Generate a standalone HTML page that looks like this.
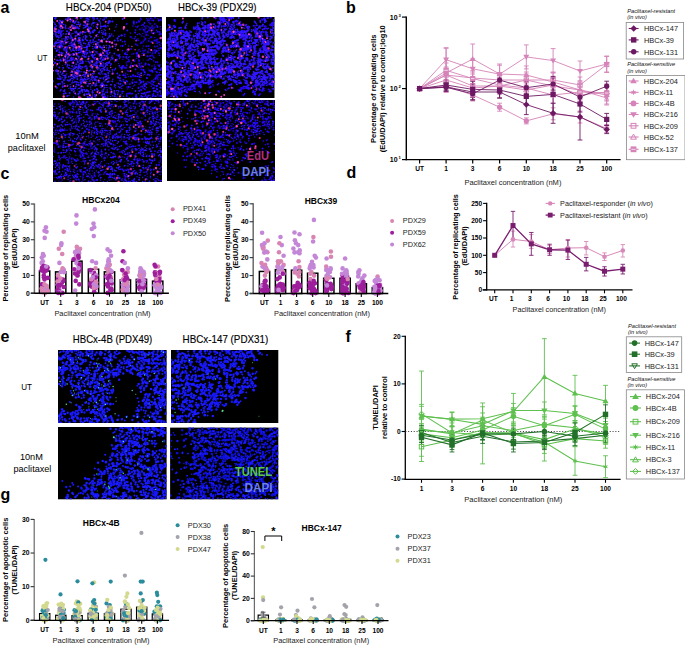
<!DOCTYPE html>
<html><head><meta charset="utf-8"><style>
html,body{margin:0;padding:0;background:#fff;}
body{width:685px;height:645px;overflow:hidden;}
svg{display:block;font-family:"Liberation Sans", sans-serif;}
</style></head><body>
<svg width="685" height="645" viewBox="0 0 685 645">
<defs><filter id="bl" x="-5%" y="-5%" width="110%" height="110%"><feGaussianBlur stdDeviation="0.45"/></filter></defs>
<rect width="685" height="645" fill="#fff"/>
<text x="0.50" y="12.60" font-size="16" font-weight="bold" >a</text>
<text x="0.50" y="178.60" font-size="16" font-weight="bold" >c</text>
<text x="65.80" y="10.90" font-size="10.4" textLength="85.70" lengthAdjust="spacingAndGlyphs" stroke="#000" stroke-width="0.15">HBCx-204 (PDX50)</text>
<text x="178.00" y="10.90" font-size="10.4" textLength="78.50" lengthAdjust="spacingAndGlyphs" stroke="#000" stroke-width="0.15">HBCx-39 (PDX29)</text>
<text x="37.30" y="61.40" font-size="9" textLength="10.20" lengthAdjust="spacingAndGlyphs" >UT</text>
<text x="15.30" y="139.10" font-size="8.6" textLength="23.50" lengthAdjust="spacingAndGlyphs" >10nM</text>
<text x="7.80" y="150.80" font-size="8.6" textLength="37.80" lengthAdjust="spacingAndGlyphs" >paclitaxel</text>
<clipPath id="c1"><rect x="53" y="17" width="109" height="81"/></clipPath>
<rect x="53" y="17" width="109" height="81" fill="#000"/>
<g clip-path="url(#c1)"><g filter="url(#bl)" stroke-linecap="round" fill="none">
<path d="M103.8 58.1h0M157.4 85.6h0M104.2 96.4h0M101.8 32.4h0M65.7 51.1h0M85.3 22.9h0M59.6 31.3h0M87.8 97.9h0M94.7 64.2h0M95.3 76.5h0M62.1 77.8h0M71.5 90.4h0M88.6 70.9h0M76.3 50.5h0M87.9 90.7h0M101.1 61.6h0M71.8 44.1h0M96.7 81.9h0M82.3 55.3h0M108.6 37.3h0M94.0 50.5h0M141.3 90.1h0M67.6 36.4h0M65.6 58.0h0M109.1 63.1h0M103.4 78.9h0M72.8 53.8h0M89.8 70.4h0M81.0 49.5h0M70.4 55.2h0M110.4 65.4h0M75.2 21.2h0M156.8 76.5h0M60.9 24.0h0M93.7 55.8h0M61.6 23.7h0M85.6 79.8h0M68.6 46.0h0M96.1 48.4h0M72.2 78.5h0M84.8 95.6h0M116.7 90.7h0M76.7 36.1h0M95.0 59.7h0M70.1 29.7h0M62.0 38.9h0M62.9 83.9h0M70.2 84.4h0M86.3 54.8h0M84.7 47.5h0M95.7 71.0h0M74.5 93.5h0M79.7 63.7h0M161.1 83.2h0M84.5 89.7h0M160.6 93.1h0M95.1 63.1h0M66.6 53.2h0M53.1 36.8h0M110.6 60.0h0M80.3 82.1h0M79.8 39.6h0M92.2 70.3h0M78.7 56.6h0M107.1 52.2h0M112.2 81.1h0M57.6 42.5h0M90.9 31.9h0M76.4 54.9h0M109.6 21.4h0M69.4 65.2h0M81.4 75.8h0M83.6 74.7h0M77.6 40.7h0M78.6 68.2h0M59.6 48.1h0M70.3 49.6h0M79.1 24.5h0M90.8 89.2h0M67.8 58.1h0M79.1 57.0h0M89.4 45.1h0M106.5 62.7h0M88.4 31.4h0M60.5 25.3h0M66.6 47.5h0M112.1 56.1h0M112.5 81.8h0M77.8 56.1h0M72.2 19.2h0M92.1 78.0h0M75.9 94.7h0M63.3 44.1h0M112.5 72.1h0M91.2 51.9h0M76.9 50.1h0M102.4 70.9h0M104.1 97.4h0M80.3 82.4h0M74.4 39.6h0M90.7 87.1h0M87.4 68.0h0M72.7 27.4h0M90.8 74.0h0M95.3 77.2h0M55.6 45.4h0M66.6 63.0h0M85.0 80.0h0M76.7 53.6h0M96.0 41.2h0M99.8 55.6h0M58.4 84.7h0M96.6 35.0h0M117.7 94.8h0M85.8 66.3h0M109.3 78.1h0M101.0 77.9h0M65.9 42.9h0M98.2 60.4h0M104.5 19.5h0M70.9 45.3h0M115.6 85.2h0M78.5 38.2h0M114.9 61.7h0M74.7 60.3h0M80.6 40.7h0M82.7 40.1h0M70.5 86.6h0M92.5 80.8h0M60.8 90.0h0M74.5 74.1h0M146.6 92.7h0M78.5 88.4h0M105.2 80.5h0M89.9 81.0h0M60.1 91.1h0M102.5 47.2h0M72.9 26.9h0M61.9 35.1h0M103.1 65.9h0M107.4 69.9h0M104.5 67.5h0M71.6 75.6h0M109.0 47.7h0M115.6 68.2h0M79.6 91.5h0M160.1 87.6h0M135.6 96.8h0M80.2 33.1h0M60.6 21.2h0M73.6 79.1h0M82.7 75.3h0M54.8 22.9h0M102.4 42.6h0M81.3 66.7h0M74.4 90.9h0M82.9 62.9h0M84.5 82.3h0M76.8 55.4h0M77.4 35.0h0M116.6 24.7h0M153.0 84.7h0M68.3 33.3h0M59.4 56.9h0M58.6 83.8h0M118.6 91.2h0M71.4 60.4h0M67.4 48.1h0M146.4 96.9h0M73.7 85.8h0M53.1 17.1h0M59.4 25.0h0M56.2 30.1h0M118.8 83.8h0M132.4 88.6h0M104.1 17.9h0M108.5 58.3h0M69.4 29.1h0M89.5 28.7h0M153.7 93.8h0M80.1 61.7h0M103.5 26.6h0M107.1 69.2h0M97.8 46.7h0M86.0 47.6h0M87.8 19.8h0M92.2 91.7h0M63.6 24.5h0M70.2 59.9h0M81.0 71.7h0M75.7 26.8h0M100.6 54.0h0M93.2 42.2h0M78.2 75.6h0M87.4 79.3h0M91.7 55.2h0M74.9 82.2h0M108.6 21.1h0M60.8 36.9h0M59.9 21.1h0M85.5 26.3h0M64.1 80.6h0M118.2 90.6h0M61.8 74.5h0M65.0 44.0h0M69.0 95.6h0M145.5 83.5h0M144.1 84.9h0M79.7 35.4h0M91.3 97.4h0M63.6 41.7h0M110.9 35.3h0M84.8 56.6h0M94.9 22.7h0M80.6 83.7h0M65.7 75.4h0M83.0 40.3h0M85.3 35.9h0M62.0 45.8h0M81.6 83.6h0M77.4 33.1h0M75.7 17.3h0M68.0 41.6h0M60.1 54.4h0M59.9 26.7h0M117.4 38.0h0M86.8 26.2h0M100.3 85.6h0M113.2 36.1h0M72.4 80.9h0M75.1 32.7h0M105.4 66.6h0M112.8 79.2h0M107.0 97.6h0M105.4 30.5h0M101.9 68.7h0M101.1 87.5h0M88.2 94.3h0M70.4 35.8h0M78.9 96.1h0M96.7 63.8h0M107.0 85.3h0M73.4 57.9h0M89.3 97.7h0M80.1 80.2h0M87.5 59.5h0M69.0 76.3h0M99.3 80.5h0M78.5 58.2h0M73.2 22.5h0M80.1 66.6h0M109.7 46.5h0M72.4 57.9h0M68.4 37.8h0M72.6 40.7h0M103.8 45.5h0M95.0 47.7h0M96.6 24.6h0M105.9 85.2h0M61.7 43.7h0M65.3 78.8h0M90.4 70.0h0M108.4 54.3h0M103.8 77.5h0M70.5 76.5h0M107.8 96.1h0M82.6 89.6h0M71.4 71.0h0M92.5 76.5h0M110.0 41.7h0M93.0 64.4h0M81.2 77.4h0M155.7 91.2h0M114.7 30.8h0M64.3 91.8h0M118.5 83.3h0M109.0 22.7h0M63.4 90.9h0M102.7 94.9h0M62.2 21.7h0M92.4 42.0h0M91.4 77.0h0M65.4 75.2h0M85.7 32.4h0M84.8 66.8h0M83.5 25.2h0M137.4 76.6h0M73.5 54.3h0M62.9 42.5h0M66.8 38.7h0M67.0 60.0h0M80.8 50.2h0M80.6 40.6h0M57.4 36.3h0M87.7 31.2h0M85.5 79.5h0M91.1 43.0h0M71.9 83.0h0M138.3 93.6h0M63.2 75.5h0M64.5 90.0h0M119.7 57.1h0M59.0 35.7h0M100.1 41.0h0M91.7 67.4h0M119.6 54.6h0M82.6 33.9h0M53.1 33.7h0M104.0 81.7h0M92.3 96.8h0M75.5 58.3h0M65.6 26.8h0M160.4 91.0h0M100.1 85.7h0M73.7 85.9h0M55.5 18.8h0M91.9 79.1h0M66.8 47.1h0M105.3 96.2h0M112.5 95.8h0M82.3 91.6h0M119.6 58.4h0M98.5 90.5h0M85.5 37.4h0M95.6 51.7h0M67.2 67.0h0M61.9 53.7h0M80.4 68.4h0M100.8 85.0h0M93.3 20.1h0M94.6 41.7h0M86.1 50.8h0M86.0 61.3h0M65.4 54.2h0M106.9 87.4h0M107.5 41.5h0M100.3 78.5h0M78.9 43.4h0M87.0 18.4h0M70.8 35.5h0M54.6 43.8h0M113.0 58.0h0M60.7 59.2h0M81.3 88.9h0M82.4 53.0h0M81.7 69.1h0M147.2 91.9h0M65.6 36.9h0M104.1 55.3h0M76.4 18.4h0M80.6 79.3h0M97.9 91.0h0M102.2 82.9h0M97.5 77.0h0M92.6 73.6h0M103.9 64.1h0M71.1 34.1h0M67.5 42.4h0M72.8 74.2h0M88.9 24.0h0M57.4 83.9h0M108.1 21.9h0M105.3 80.5h0M105.8 92.2h0M100.5 18.7h0M82.1 81.3h0M71.1 36.8h0M65.4 64.2h0M101.5 57.6h0M68.6 77.0h0M83.1 61.4h0M76.8 84.4h0M73.6 97.0h0M82.4 92.2h0M54.5 43.3h0M103.0 62.8h0M71.3 51.0h0M85.6 43.7h0M87.2 47.3h0M75.8 18.6h0M70.9 54.4h0M75.3 22.1h0M71.0 68.7h0M58.5 31.3h0M123.7 96.2h0M82.1 91.0h0M91.8 25.0h0M104.2 29.2h0M60.3 40.7h0M83.9 82.1h0M81.9 45.7h0M55.7 48.4h0M109.8 71.4h0M78.7 41.2h0M55.7 26.7h0M78.4 82.8h0M104.3 96.2h0M55.5 35.0h0M94.4 18.9h0M116.0 27.0h0M139.8 97.9h0M85.9 79.8h0M89.1 31.1h0M73.7 85.9h0M84.6 25.2h0M106.5 56.3h0M56.2 17.8h0M102.9 73.9h0M70.1 87.9h0M63.1 30.7h0M63.4 33.7h0M107.2 68.0h0M90.9 60.7h0M86.8 90.8h0M56.6 65.8h0M75.6 45.5h0M65.4 24.9h0M79.8 85.0h0M108.9 70.4h0M93.2 63.9h0M82.7 80.6h0M97.0 88.8h0M100.9 66.3h0M88.7 27.6h0M117.8 77.0h0M105.9 79.1h0M81.6 51.2h0M109.3 61.5h0M104.4 34.1h0M100.4 64.8h0M91.7 55.1h0M106.3 45.4h0M94.6 37.6h0M90.9 79.8h0M72.9 33.6h0M74.1 47.1h0M134.8 85.1h0M74.1 27.7h0M70.2 21.7h0M63.4 49.0h0M96.2 62.9h0M76.1 27.2h0M75.5 53.3h0M86.1 57.1h0M92.5 46.6h0M92.3 75.7h0M94.8 94.8h0M71.5 78.2h0M69.1 45.4h0M105.2 30.8h0M64.1 50.4h0M96.8 51.8h0M67.5 39.5h0M146.7 78.2h0M100.5 23.3h0M79.2 60.2h0M111.8 34.0h0M67.1 66.8h0M109.4 33.7h0M82.9 31.9h0M122.2 93.2h0M115.4 48.6h0M81.6 32.8h0M106.2 51.3h0M101.6 26.4h0M64.3 86.4h0M64.9 77.8h0M69.1 32.3h0M97.5 34.4h0M102.1 85.0h0M82.3 90.7h0M99.5 46.3h0M61.4 45.8h0M91.3 28.3h0M99.4 55.9h0M122.7 45.9h0M107.2 90.1h0M99.9 42.1h0M149.1 82.8h0M95.0 96.0h0M83.3 37.1h0M65.4 40.5h0M102.6 37.0h0M64.4 83.5h0M81.5 89.7h0M77.5 61.6h0M94.4 18.0h0M83.3 28.1h0M91.8 23.9h0M76.0 39.8h0M64.0 38.8h0M67.4 58.3h0M76.1 27.2h0M79.3 64.1h0M60.6 71.5h0M101.1 73.0h0M115.4 69.1h0M59.9 60.1h0M121.9 66.8h0M60.9 47.7h0M88.2 18.4h0M76.4 21.0h0M66.2 54.7h0M145.6 94.2h0M69.0 53.0h0M70.7 30.6h0M102.6 52.0h0M96.9 26.3h0M154.2 88.1h0M95.2 79.1h0M89.8 35.2h0M102.7 94.0h0M161.0 84.3h0M86.6 81.5h0M89.0 19.7h0M70.0 43.4h0M102.0 90.9h0M93.5 44.2h0M58.9 50.1h0M61.6 60.8h0M102.2 26.6h0M105.4 25.3h0M61.1 45.7h0M72.4 72.2h0M114.4 86.2h0M68.2 28.3h0M57.9 32.1h0M55.8 56.8h0M75.5 40.9h0M89.4 70.7h0M114.4 96.6h0M105.7 65.8h0M107.6 55.1h0M161.2 85.3h0M111.0 89.7h0M78.0 24.3h0M95.2 95.5h0M70.9 72.5h0M97.9 69.8h0M119.8 57.8h0M103.5 91.0h0M83.9 47.6h0M59.2 44.9h0M62.5 87.2h0M115.6 46.3h0M106.3 74.7h0M103.8 85.8h0M89.9 33.1h0M61.7 31.0h0M90.1 42.1h0M76.7 24.7h0M78.2 69.8h0M53.3 66.9h0M75.1 47.2h0M88.7 91.7h0M109.3 45.6h0M67.4 42.3h0M68.6 77.0h0M107.5 25.8h0M78.9 22.8h0M55.4 35.1h0M80.7 24.0h0M87.3 90.8h0M71.8 88.7h0M66.8 74.1h0M57.8 47.0h0M98.5 45.1h0M87.3 31.3h0M73.2 67.9h0M79.5 88.2h0M94.3 73.2h0M103.5 31.9h0M96.0 79.3h0M73.5 53.7h0M65.1 41.0h0M99.6 31.3h0M120.1 84.6h0M74.6 23.0h0M99.6 21.2h0M99.6 46.7h0M98.1 36.8h0M58.3 45.9h0M102.8 85.3h0M54.7 18.3h0M104.3 85.4h0M56.2 42.1h0M73.2 82.4h0M96.5 85.6h0M101.8 30.6h0M93.6 74.1h0M100.5 25.1h0M100.6 28.6h0M74.4 50.7h0M95.7 57.5h0M80.0 65.9h0M93.9 83.1h0M92.6 90.8h0M55.4 17.6h0M79.5 34.2h0M117.6 94.6h0M60.5 26.2h0M78.9 47.9h0M61.0 89.4h0M78.6 48.2h0M110.4 96.5h0M114.4 44.2h0M114.3 69.9h0M84.9 27.6h0M65.6 61.2h0M91.0 27.9h0M94.2 38.3h0M79.2 46.6h0M144.9 85.5h0M92.4 93.0h0M136.1 97.4h0M92.7 95.0h0M56.5 25.7h0M61.0 44.9h0M74.5 65.9h0M56.0 70.6h0M95.0 30.3h0M55.1 48.4h0M96.3 80.2h0M65.8 61.4h0M56.7 43.6h0M72.8 28.3h0M77.4 33.1h0M85.9 27.2h0M98.3 93.8h0M62.9 53.0h0M94.1 83.9h0M71.9 28.3h0M59.2 75.9h0M92.9 48.8h0M75.7 86.6h0M103.2 78.1h0M118.0 93.1h0M87.4 96.8h0M100.0 74.6h0M89.4 51.1h0M75.4 81.8h0M87.1 77.8h0M55.9 34.3h0M76.6 28.2h0M100.1 22.1h0M114.4 84.7h0M60.2 72.6h0M106.9 70.4h0M64.5 89.7h0M70.2 38.2h0M111.5 57.4h0M103.5 53.5h0M102.0 86.8h0M97.4 18.6h0M85.7 51.9h0M122.7 85.3h0M84.9 90.9h0M125.3 44.3h0M138.4 88.5h0M54.6 63.6h0M102.6 59.2h0M53.2 39.3h0M99.8 78.0h0M111.0 93.9h0M62.6 26.6h0M65.4 54.2h0M102.8 66.0h0M101.6 61.3h0M103.2 66.5h0M83.3 87.1h0M79.8 48.7h0M65.8 25.8h0M97.1 52.9h0M80.6 24.5h0M88.7 30.3h0M105.7 66.0h0M59.4 63.1h0M72.0 74.9h0M68.9 80.7h0M82.2 79.5h0M87.9 46.4h0M97.3 42.4h0M94.3 78.8h0M71.3 57.2h0M97.4 69.2h0M62.0 81.7h0M102.6 94.6h0M53.4 34.0h0M89.6 46.3h0M103.1 47.2h0" stroke="#3014ff" stroke-width="1.5"/>
<path d="M121.7 81.2h0M137.9 38.9h0M157.9 18.7h0M152.7 88.3h0M145.7 95.4h0M138.5 67.6h0M123.6 79.9h0M124.7 36.2h0M143.1 24.5h0M144.4 86.3h0M151.7 59.6h0M118.1 77.9h0M150.6 83.1h0M159.5 55.3h0M130.4 32.9h0M149.4 64.8h0M115.4 87.7h0M136.2 76.5h0M116.9 55.0h0M121.4 67.3h0M126.8 93.8h0M145.7 64.8h0M132.5 93.4h0M135.6 82.4h0M159.3 84.5h0M130.9 93.6h0M157.9 79.7h0M122.7 50.6h0M157.0 86.0h0M160.2 26.7h0M148.1 92.6h0M118.4 86.8h0M151.1 71.6h0M152.0 20.3h0M162.0 20.8h0M139.3 65.8h0M126.5 54.4h0M156.4 30.3h0M151.9 84.1h0M131.9 82.0h0M160.8 79.8h0M153.7 60.8h0M126.8 94.2h0M128.2 61.7h0M121.5 86.2h0M120.1 56.7h0M132.9 26.0h0M160.5 81.2h0M153.4 82.3h0M126.9 23.4h0M140.9 86.3h0M120.1 67.7h0M152.7 94.4h0M122.3 35.4h0M158.6 83.2h0M131.5 62.9h0M138.1 74.8h0M121.8 88.6h0M122.8 68.0h0M152.8 52.9h0M131.9 93.9h0M140.4 19.9h0M148.8 22.3h0M121.1 35.2h0M127.4 81.8h0M158.0 94.3h0M138.2 26.0h0M156.1 92.0h0M151.3 86.2h0M120.6 83.5h0M159.6 72.8h0M150.0 95.3h0M139.0 84.3h0M149.1 74.8h0M154.0 81.9h0M154.7 85.7h0M157.7 78.2h0M159.2 95.9h0M132.9 79.8h0M154.3 95.9h0M156.9 25.6h0M123.1 65.8h0M127.5 54.5h0M155.7 77.4h0M154.9 79.1h0M152.4 96.5h0M135.6 36.8h0M124.7 53.4h0M141.7 25.3h0M161.9 82.0h0M148.0 81.8h0M140.0 34.6h0M148.0 96.0h0M139.5 21.5h0M130.7 36.8h0M148.4 60.1h0M155.8 61.8h0M150.8 18.1h0M123.7 91.5h0M141.6 63.0h0M126.0 77.2h0M161.7 17.7h0M120.6 45.9h0M157.6 95.1h0M142.2 53.2h0M130.2 87.1h0M129.5 97.7h0M160.2 78.1h0M152.9 81.5h0M146.4 87.5h0M159.0 19.9h0M150.7 18.4h0M140.6 73.7h0M117.0 83.1h0M134.7 82.0h0M147.0 26.0h0M126.8 65.8h0M161.6 96.5h0M116.9 97.1h0M125.4 75.3h0M116.7 61.1h0M137.3 34.5h0M156.0 71.4h0M122.4 41.7h0M146.0 28.2h0M145.2 86.2h0M148.8 27.0h0M148.2 64.2h0M130.1 92.9h0M143.1 93.7h0M126.6 49.9h0M135.0 65.0h0M155.1 66.8h0" stroke="#2808ff" stroke-width="1.5"/>
<path d="M141.3 73.2h0M101.0 85.2h0M125.2 54.0h0M60.7 79.1h0M76.0 48.9h0M80.2 32.4h0M77.9 62.3h0M68.3 19.8h0M139.5 91.1h0M78.1 73.6h0M80.9 17.9h0M67.8 57.2h0M78.9 28.4h0M72.5 39.1h0M120.0 78.3h0M67.2 53.7h0M75.3 75.5h0M77.1 59.7h0M87.0 47.9h0M60.2 60.6h0M55.5 32.7h0M91.7 67.2h0M121.8 68.7h0M99.9 65.7h0M71.0 58.5h0M97.1 65.6h0M81.2 90.8h0M97.2 89.6h0M136.0 96.4h0M81.1 82.6h0M88.5 61.4h0M61.9 41.6h0M62.2 23.6h0M73.2 39.8h0M105.6 34.9h0M82.0 60.3h0M104.1 94.4h0M64.5 48.9h0M88.9 93.5h0M66.5 50.0h0M55.0 43.8h0M94.2 58.3h0M92.4 54.5h0M57.1 71.4h0M104.2 50.3h0M88.0 21.4h0M98.9 82.2h0M91.6 55.3h0M75.0 68.2h0M64.6 75.8h0M78.7 52.7h0M71.7 37.6h0M95.8 85.3h0M69.7 92.9h0M141.2 96.0h0M76.6 72.8h0M73.3 55.0h0M69.3 32.6h0M58.8 37.6h0M88.6 44.0h0M98.7 68.1h0M55.1 62.8h0M61.5 31.8h0M147.2 97.5h0M95.3 46.9h0M75.3 88.3h0M76.1 66.9h0M108.0 63.0h0M101.7 65.1h0M78.5 85.1h0M95.4 85.8h0M68.9 68.1h0M98.7 39.8h0M62.6 46.5h0M92.4 54.7h0M96.1 84.1h0M60.3 54.4h0M64.4 85.9h0M97.3 66.6h0M88.8 56.6h0M106.1 17.7h0M82.4 81.4h0M84.1 72.1h0M88.8 42.7h0M59.2 78.9h0M86.8 94.3h0M95.3 80.1h0M60.0 83.8h0M78.3 93.9h0M116.8 59.6h0M81.4 59.3h0M78.3 41.4h0M58.7 30.2h0M86.2 20.4h0M83.5 52.9h0M106.4 56.1h0M90.3 32.9h0M159.7 91.3h0M73.4 69.5h0M154.1 90.8h0M59.1 22.8h0M66.9 51.5h0M108.5 50.2h0M100.4 69.9h0M67.9 80.2h0M115.1 94.2h0M85.7 73.0h0M90.2 52.6h0M58.1 73.4h0M117.5 38.8h0M104.1 59.8h0M120.6 40.1h0M102.6 49.2h0M112.2 58.7h0M54.5 29.0h0M114.3 93.1h0M78.9 40.5h0M89.0 29.0h0M56.6 32.3h0M73.8 26.1h0M74.1 44.2h0M73.2 48.9h0M97.0 62.7h0M73.0 76.2h0M84.6 53.9h0M101.5 40.9h0M85.8 91.3h0M80.4 42.5h0M83.5 80.1h0M53.1 61.4h0M82.1 79.3h0M111.1 64.1h0M94.4 29.9h0M114.6 40.6h0M106.3 76.6h0M77.5 76.4h0M55.1 24.4h0M57.6 36.2h0M101.7 71.7h0M99.1 82.0h0M60.1 45.3h0M86.0 66.2h0M63.8 93.8h0M53.1 81.2h0M107.1 53.2h0M93.0 32.4h0M106.8 51.0h0M78.3 72.7h0M60.3 40.9h0M95.5 96.7h0M67.6 65.1h0M84.6 51.9h0M84.6 78.5h0M63.9 79.9h0M92.6 92.5h0M76.5 76.4h0M120.1 80.4h0M62.7 86.6h0M82.5 67.2h0M80.9 86.7h0M58.8 42.5h0M105.6 33.2h0M73.1 62.5h0M96.5 27.1h0M105.3 76.8h0M77.2 27.3h0M93.1 18.0h0M103.2 68.5h0M79.1 41.6h0M87.2 53.3h0M65.9 19.2h0M84.2 89.8h0M60.5 46.5h0M78.6 67.0h0M91.0 36.7h0M68.3 56.7h0M110.0 47.3h0M118.5 55.7h0M53.2 21.9h0M110.3 21.5h0M104.9 97.6h0M104.1 39.0h0M108.3 73.0h0M71.3 20.3h0M65.8 77.3h0M121.6 35.6h0M54.1 31.0h0M67.0 31.3h0M94.4 79.8h0M104.6 69.4h0M84.5 94.3h0M96.5 45.3h0M76.2 64.3h0M118.9 36.4h0M101.9 56.0h0M107.5 81.9h0M104.2 26.0h0M60.8 34.2h0M63.2 67.7h0M88.2 29.0h0M59.7 23.7h0M58.7 33.1h0M89.5 45.4h0M76.1 32.6h0M53.7 45.4h0M66.8 47.5h0M78.2 68.2h0M85.0 76.2h0M117.3 73.4h0M83.0 40.6h0M54.7 29.1h0M76.7 70.3h0M65.4 40.2h0M161.0 87.7h0M87.9 90.8h0M99.2 54.2h0M74.1 28.2h0M93.2 77.3h0M72.4 63.0h0M75.5 47.0h0M102.0 95.1h0M98.9 73.2h0M63.4 58.3h0M84.5 56.8h0M79.7 92.8h0M67.5 60.9h0M86.7 90.0h0M118.1 77.4h0M108.5 41.4h0M56.0 70.8h0M82.6 61.5h0M80.9 63.2h0M81.5 47.6h0M69.1 34.0h0M90.3 66.5h0M96.7 61.5h0M54.8 27.6h0M105.8 26.7h0M103.3 84.6h0M84.5 32.3h0M97.2 43.7h0M65.7 93.3h0M57.0 70.3h0M80.6 32.3h0M108.3 75.5h0M104.2 94.0h0M109.3 62.4h0M92.6 56.3h0M93.0 23.2h0M85.7 35.7h0M72.2 41.0h0M107.7 57.3h0M72.1 24.9h0M122.6 18.9h0M114.3 53.5h0M103.5 97.1h0M92.2 68.1h0M123.3 75.2h0M72.9 59.6h0M104.4 59.2h0M82.6 39.6h0M113.2 73.5h0M60.6 42.9h0M85.5 38.9h0M76.1 31.6h0M55.2 18.7h0M59.3 67.4h0M60.0 20.5h0M76.9 82.0h0M79.1 71.0h0M57.8 78.5h0M100.8 53.6h0M79.4 91.7h0M66.0 47.8h0M132.5 83.0h0M111.2 89.4h0M79.0 41.6h0M107.3 92.3h0M102.6 91.7h0M57.8 40.0h0M114.3 91.1h0M101.0 65.7h0M100.4 58.7h0M108.3 23.3h0M71.5 42.4h0M109.8 52.7h0M78.8 48.2h0M55.8 34.7h0M86.6 25.6h0M119.6 75.3h0M62.8 21.2h0M111.0 84.8h0M101.5 47.7h0M92.8 57.0h0M161.3 95.6h0M81.1 46.8h0M80.9 18.3h0M87.8 86.1h0M73.3 63.0h0M76.0 52.9h0M94.8 54.6h0M92.9 92.4h0M86.8 46.4h0M100.7 26.7h0M93.0 17.1h0M84.7 53.2h0M80.4 52.2h0M111.7 43.2h0M101.8 83.6h0M88.7 78.4h0M66.1 34.1h0M74.4 28.7h0M101.7 55.3h0M78.2 74.1h0M108.1 77.7h0M110.2 88.0h0M74.3 43.1h0M66.3 55.0h0M71.0 88.7h0M105.7 74.2h0M82.5 51.2h0M89.0 31.3h0M154.0 91.3h0M68.3 17.7h0M56.0 42.2h0M69.6 55.2h0M93.0 31.3h0M68.0 18.7h0M68.6 17.4h0M93.2 40.0h0M73.8 47.1h0M75.6 35.9h0M79.9 38.0h0M65.7 28.3h0M74.7 77.7h0M90.4 27.4h0M71.5 59.5h0M79.1 48.5h0M89.8 17.2h0M100.2 46.4h0M65.1 59.7h0M65.6 71.3h0M97.2 18.4h0M69.9 80.6h0M78.7 37.9h0M101.3 57.6h0M87.6 74.4h0M144.2 84.6h0M86.0 83.5h0M99.4 61.9h0M65.2 55.9h0M95.8 95.4h0M85.1 74.3h0M73.8 91.8h0M92.1 85.2h0M62.5 82.0h0M56.5 36.7h0M82.6 62.9h0M88.1 74.3h0M92.4 60.8h0M88.8 31.5h0M78.5 85.0h0M146.2 83.4h0M111.5 92.5h0M78.2 22.2h0M59.7 30.7h0M57.6 46.6h0M105.4 51.6h0M85.0 57.1h0M85.6 23.5h0M60.6 32.9h0M101.9 39.9h0M79.5 34.1h0M91.8 60.4h0M79.7 66.9h0M61.5 52.8h0M76.4 67.1h0M73.3 46.4h0M89.0 83.8h0M94.1 64.9h0M77.9 71.2h0M80.2 48.9h0M67.7 85.5h0M60.0 76.7h0M99.4 54.3h0M87.4 53.0h0M90.6 96.4h0M73.1 21.7h0M87.1 18.3h0M104.3 70.0h0M67.9 54.2h0M90.2 40.4h0M86.5 68.5h0M64.4 91.0h0M94.6 89.9h0M74.5 22.8h0M86.6 36.8h0M69.3 60.4h0M114.7 96.2h0M119.9 87.5h0M56.8 87.8h0M67.2 96.1h0M89.9 63.1h0M78.7 65.3h0M107.1 65.0h0M91.7 61.5h0M74.4 71.7h0M57.9 54.9h0M160.5 87.4h0M70.2 79.4h0M99.0 20.5h0M102.9 34.1h0M100.0 47.1h0M61.1 21.8h0M84.0 43.3h0M103.6 89.4h0M59.8 27.2h0M108.6 81.4h0M109.6 21.0h0M93.9 22.7h0M103.1 20.0h0M104.4 55.4h0M66.0 38.2h0M72.6 44.6h0M95.8 65.6h0M86.5 50.1h0M99.0 32.5h0M83.9 56.1h0M96.9 48.3h0M105.8 63.7h0M112.3 58.7h0M109.6 36.1h0M71.9 45.7h0M61.1 35.8h0M73.9 77.3h0M56.7 51.1h0M72.2 66.1h0M109.9 36.5h0M82.7 62.6h0M136.2 94.9h0M105.6 58.2h0M68.2 37.0h0M78.4 28.2h0M88.6 94.1h0M57.0 50.2h0M60.8 28.4h0M107.4 78.8h0M97.9 42.7h0M87.0 50.0h0M75.1 28.3h0M104.5 87.6h0M105.0 73.9h0M81.0 44.5h0M96.4 76.8h0M59.4 52.2h0M57.1 60.3h0M102.7 96.7h0M81.2 79.5h0M77.4 79.1h0M102.6 60.1h0M87.0 40.6h0M78.8 50.0h0M73.5 44.2h0M72.9 88.7h0M73.5 88.9h0M87.6 26.2h0M73.1 50.3h0M112.5 69.7h0M58.4 84.6h0M96.5 45.3h0M87.9 96.9h0M76.5 84.4h0M135.5 91.1h0M112.5 21.5h0M68.1 80.6h0M107.6 38.8h0M81.1 49.5h0M119.4 65.7h0M62.6 73.3h0" stroke="#3014ff" stroke-width="2.0"/>
<path d="M124.3 66.9h0M141.0 87.6h0M128.4 45.6h0M145.0 25.8h0M148.0 68.8h0" stroke="#2808ff" stroke-width="1.0"/>
<path d="M59.5 32.4h0M55.1 28.0h0M66.7 49.6h0M73.6 22.7h0M60.7 44.7h0M85.3 18.1h0M73.2 61.4h0M68.8 53.9h0M92.7 22.1h0M58.3 74.8h0M118.5 63.4h0M74.5 71.1h0M64.2 41.8h0M153.2 79.8h0M59.7 71.0h0M60.8 32.0h0M106.6 48.1h0M58.1 74.6h0M82.8 46.0h0M81.8 56.6h0M80.1 40.7h0M77.4 18.8h0M89.7 63.8h0M108.4 48.4h0M75.1 66.9h0M93.6 26.1h0M76.3 53.1h0M99.3 39.5h0M57.9 48.3h0M99.4 93.3h0M94.6 31.3h0M106.6 47.6h0M141.6 97.2h0M103.4 89.7h0M62.8 73.2h0M58.7 83.3h0M62.3 69.3h0M159.0 81.1h0M72.9 40.2h0M74.5 81.4h0M92.3 60.3h0M79.4 96.8h0M122.1 51.8h0M77.4 73.8h0M111.4 18.1h0M108.5 26.1h0M70.9 50.7h0M65.6 71.1h0M143.4 75.0h0M64.8 27.4h0M115.4 59.6h0M139.1 90.7h0M58.0 54.8h0M103.9 78.6h0M72.4 90.5h0M107.0 64.2h0M111.2 81.4h0M97.0 22.8h0M68.6 88.6h0M71.1 39.9h0M87.8 75.2h0M105.4 58.4h0M73.2 44.5h0M58.4 60.6h0M65.2 36.6h0M76.2 52.6h0M84.0 76.7h0M110.4 92.5h0M74.2 60.0h0M74.5 31.2h0M55.3 34.8h0M76.6 86.9h0M84.7 28.1h0M150.5 91.7h0M74.9 22.7h0M104.7 97.9h0M78.0 26.8h0M82.3 17.7h0M68.4 80.9h0M87.7 45.0h0M62.2 65.4h0M74.9 54.7h0M80.0 93.6h0M77.7 89.2h0M90.1 29.3h0" stroke="#3014ff" stroke-width="1.0"/>
<path d="M144.6 74.3h0M156.6 88.5h0M153.0 33.5h0M144.5 96.5h0M157.5 72.4h0M151.2 55.6h0M125.8 53.9h0M148.8 20.2h0M140.4 51.2h0M161.0 47.4h0M144.2 65.0h0M140.6 18.3h0M128.7 59.6h0M154.3 57.5h0M138.8 22.0h0M150.0 28.5h0M127.0 86.9h0M132.7 97.5h0M160.9 29.0h0M128.4 76.6h0M128.7 71.4h0M150.6 37.4h0M160.9 34.0h0M132.7 79.9h0M123.1 85.7h0M143.9 71.0h0M152.1 53.9h0M153.7 57.8h0M137.5 73.3h0M123.6 74.2h0M139.3 74.4h0M148.1 35.3h0M125.7 73.3h0M128.5 57.5h0M153.3 56.2h0M139.2 33.7h0M151.5 81.4h0M157.5 42.1h0M127.7 74.6h0M154.9 27.1h0M143.4 82.3h0M133.6 86.1h0M139.0 63.2h0M156.2 40.7h0M147.5 20.8h0M126.5 24.5h0M143.1 25.6h0M138.7 22.1h0M144.7 53.4h0M127.8 88.9h0M146.7 18.4h0M137.2 40.8h0M133.0 76.7h0M127.1 58.8h0M126.9 65.0h0M158.1 77.1h0M155.7 62.6h0M125.8 52.4h0M124.5 75.3h0M140.9 18.9h0M138.5 20.5h0M158.1 65.1h0M134.5 64.9h0M161.5 67.9h0M134.9 76.3h0M131.5 65.8h0M160.0 34.0h0M136.5 58.3h0M158.4 65.7h0M142.8 50.3h0M144.3 36.9h0M127.7 61.7h0M126.0 57.7h0M139.6 77.4h0M158.8 69.5h0M160.1 70.4h0M143.9 51.5h0M154.3 65.0h0M152.0 66.0h0M154.8 81.4h0M123.2 79.5h0M138.1 51.1h0M136.6 39.7h0M154.5 46.2h0M144.4 26.6h0M152.8 50.9h0M141.0 77.5h0M149.2 38.8h0M143.5 24.7h0M153.1 81.0h0M131.9 54.2h0M131.3 37.3h0M129.7 56.4h0M147.5 56.5h0M127.6 51.7h0M157.5 75.6h0M138.2 72.8h0M149.7 20.0h0M147.6 19.9h0M151.8 26.8h0M122.8 59.2h0M141.1 19.3h0M139.2 49.4h0M155.9 51.0h0M155.0 47.0h0M144.8 29.2h0M139.7 65.8h0M143.4 53.3h0M126.2 63.1h0M156.1 74.9h0M151.6 27.0h0M148.1 50.9h0M158.9 50.5h0" stroke="#2200e8" stroke-width="1.5"/>
<path d="M135.6 26.6h0M156.6 39.4h0M150.5 37.1h0M142.5 48.3h0M155.2 53.1h0M151.9 18.7h0M154.8 37.4h0M139.8 29.3h0M133.1 74.7h0M138.5 59.2h0M154.9 51.1h0M148.7 45.6h0M140.5 43.4h0M152.2 55.4h0M148.8 46.2h0M132.8 66.7h0M160.0 64.7h0M142.8 33.6h0M154.6 67.3h0M160.1 38.2h0M138.5 40.6h0M143.5 46.0h0M147.2 60.3h0M130.3 36.8h0M148.2 46.1h0M159.4 44.4h0M150.3 52.7h0M151.0 42.2h0M146.3 34.0h0M146.7 34.2h0M141.7 36.0h0M142.1 28.1h0M160.3 45.4h0M145.6 27.2h0M153.9 28.0h0M142.0 55.4h0M147.6 51.8h0M134.9 59.9h0" stroke="#1c00cc" stroke-width="1.5"/>
<path d="M160.8 34.3h0M128.1 93.6h0M142.0 65.9h0M160.7 19.7h0M145.1 72.4h0M143.4 88.3h0M144.4 40.0h0M147.5 56.2h0M160.7 33.7h0M136.4 82.3h0M139.1 60.7h0M161.0 48.4h0M149.1 30.2h0M154.6 69.2h0M151.4 37.3h0M137.2 53.9h0M124.6 34.4h0M157.4 62.3h0M161.9 85.0h0M161.1 68.7h0M135.8 44.3h0M150.2 23.8h0M156.5 77.2h0M156.8 72.3h0M143.5 69.7h0M156.7 51.3h0M153.1 84.6h0M124.7 67.5h0M155.4 52.7h0M150.1 55.9h0M129.9 84.0h0M145.0 89.3h0M149.7 75.2h0M129.0 61.1h0M127.8 70.8h0M159.7 34.6h0M139.6 63.9h0M123.5 57.0h0M137.3 27.0h0M147.9 52.6h0M160.7 74.7h0M154.0 32.8h0M146.4 46.2h0M149.1 64.7h0M141.1 89.7h0M130.6 67.1h0M150.4 28.0h0M141.8 42.7h0M156.3 40.7h0M149.4 70.5h0M134.4 61.2h0M160.6 48.1h0M154.4 40.4h0M151.8 81.2h0M159.2 42.2h0M131.1 49.0h0M129.9 93.4h0M140.8 67.0h0M134.4 38.6h0M146.2 35.0h0M159.7 32.1h0M155.1 17.8h0M141.3 69.5h0" stroke="#2200e8" stroke-width="2.0"/>
<path d="M147.5 31.8h0M118.0 40.8h0M122.6 67.5h0M135.1 32.4h0M144.4 23.0h0M155.5 91.0h0M126.3 57.0h0M158.8 20.4h0M128.7 87.0h0M137.2 55.9h0M139.4 76.6h0M136.7 96.9h0M122.5 45.7h0M138.8 56.8h0M133.9 23.8h0M154.1 68.7h0M157.7 92.4h0M155.9 96.2h0M143.4 81.6h0M141.2 81.9h0M138.6 87.8h0M157.5 26.9h0M126.0 67.9h0M126.8 96.0h0M159.2 66.0h0M148.5 95.5h0M135.6 69.3h0M144.5 72.1h0M142.3 86.5h0M123.1 66.1h0M158.9 75.0h0M152.5 71.8h0M152.3 71.1h0M133.8 21.5h0M119.1 55.6h0M149.2 91.8h0M133.1 75.3h0M136.6 53.2h0M141.9 93.5h0M136.6 22.5h0M122.1 91.5h0M130.9 76.6h0M145.5 38.7h0M147.9 74.4h0M143.7 29.7h0M143.8 93.6h0M153.4 88.3h0M153.4 20.4h0M156.3 50.8h0M137.0 53.0h0M130.9 65.5h0M153.1 95.5h0M155.6 68.6h0M160.7 70.0h0M160.5 95.7h0M125.4 77.3h0M155.6 78.8h0M146.5 84.1h0M143.3 70.0h0M140.0 80.6h0M157.7 31.8h0M150.0 58.8h0M157.0 89.3h0M140.5 83.1h0M125.7 84.0h0M120.4 94.9h0M142.6 96.8h0M143.3 70.2h0M156.6 86.3h0M139.5 80.0h0M123.9 81.7h0M145.6 63.4h0M147.0 78.1h0M151.9 41.8h0M124.8 41.4h0M127.3 30.6h0M144.6 93.1h0M126.5 80.9h0M135.4 76.3h0M151.2 70.5h0M150.5 97.8h0M133.8 22.8h0" stroke="#2808ff" stroke-width="2.0"/>
<path d="M128.4 46.4h0M132.2 38.4h0M142.9 24.5h0M127.2 61.4h0M143.2 60.1h0M147.2 75.3h0M138.8 67.8h0M156.1 43.5h0M148.3 18.6h0M144.2 33.0h0" stroke="#2200e8" stroke-width="1.0"/>
<path d="M154.7 24.0h0M156.3 40.0h0M157.4 43.0h0M158.9 53.3h0M135.6 29.9h0M158.6 48.4h0M133.7 53.7h0M154.6 50.1h0M152.6 30.0h0M140.1 29.6h0M152.0 32.7h0M157.2 46.3h0M145.3 50.3h0M144.3 30.7h0M157.3 39.4h0M152.2 25.9h0M143.3 41.6h0M148.9 48.7h0M148.6 40.9h0M153.0 28.3h0M141.1 42.4h0M144.6 30.8h0M145.9 32.2h0M137.4 45.3h0M161.8 43.6h0" stroke="#1c00cc" stroke-width="2.0"/>
<path d="M154.5 33.7h0M143.4 36.4h0M160.3 48.3h0M146.7 42.0h0" stroke="#1c00cc" stroke-width="1.0"/>
<path d="M66.5 52.5h0M75.3 93.2h0M56.6 29.1h0M136.0 40.8h0M66.0 37.1h0M143.0 66.7h0M141.1 75.6h0M58.3 71.0h0M84.1 95.1h0M153.3 33.4h0M106.2 79.6h0" stroke="#d83cc0" stroke-width="1.5"/>
<path d="M104.3 47.3h0M97.3 28.3h0M96.4 94.9h0M71.8 26.1h0M73.4 86.1h0" stroke="#ff4cc0" stroke-width="1.5"/>
<path d="M65.0 85.9h0M112.2 43.0h0M118.1 50.0h0M112.4 73.7h0M72.1 71.4h0M105.7 21.7h0M79.2 39.9h0M68.3 54.0h0M78.6 46.4h0M107.7 58.4h0M80.5 97.6h0M136.5 65.5h0M87.4 24.3h0M152.7 42.9h0M54.2 46.5h0M104.3 50.6h0M69.3 55.1h0M103.0 53.1h0M55.0 31.3h0M105.4 59.0h0M65.1 47.2h0M91.2 65.3h0M74.8 28.1h0M70.3 27.3h0M82.9 31.7h0M81.6 48.6h0M90.7 74.8h0M116.2 44.6h0M62.0 41.5h0M81.7 59.1h0M130.2 67.3h0M81.7 86.2h0" stroke="#c83098" stroke-width="2.0"/>
<path d="M123.6 28.7h0M73.1 28.2h0M64.0 71.2h0M122.2 71.7h0M115.6 59.9h0M143.9 54.9h0M112.1 42.6h0M80.0 75.5h0M98.5 80.4h0M132.9 66.0h0M124.4 17.9h0M71.0 29.9h0M92.5 66.8h0M76.7 54.1h0M84.0 82.5h0M130.5 71.1h0M93.3 83.0h0M93.9 71.5h0M79.0 97.3h0M95.8 44.2h0M76.1 58.8h0M138.7 55.2h0M59.5 47.0h0M85.3 82.5h0M112.5 46.4h0M97.7 24.5h0M57.2 21.0h0M55.2 28.9h0M139.0 56.8h0M73.3 62.7h0" stroke="#e83cb4" stroke-width="2.0"/>
<path d="M97.2 59.0h0M100.7 55.0h0M101.6 40.9h0M76.4 47.6h0M63.7 96.6h0M124.0 27.3h0" stroke="#ff4cc0" stroke-width="2.5"/>
<path d="M73.3 20.9h0M65.6 62.4h0M125.1 82.8h0M65.3 56.5h0M63.6 60.4h0M72.7 40.1h0M88.5 58.7h0M74.6 44.5h0M62.6 27.8h0M63.7 59.8h0M109.8 42.1h0M78.3 34.2h0M97.4 91.9h0M74.0 54.6h0M133.2 60.3h0M68.9 34.1h0M96.2 35.7h0M92.2 61.8h0M92.0 98.0h0M151.5 30.4h0M111.5 91.8h0M66.1 42.4h0M71.3 75.1h0M55.6 86.6h0M84.2 21.8h0M80.7 59.6h0M85.2 22.1h0M103.2 97.5h0" stroke="#d83cc0" stroke-width="2.0"/>
<path d="M104.3 50.4h0M137.2 66.5h0M109.5 28.9h0M79.8 26.0h0M53.4 70.8h0" stroke="#e83cb4" stroke-width="1.5"/>
<path d="M67.5 20.6h0M81.8 58.4h0M61.7 55.2h0M89.9 95.2h0M86.9 70.5h0M59.0 55.0h0M57.3 64.0h0M69.7 47.7h0M53.2 65.0h0M88.1 76.1h0M79.6 46.7h0M119.9 96.6h0M87.7 29.6h0M75.3 38.4h0M99.8 92.7h0M92.7 52.1h0M151.2 50.0h0M102.3 85.9h0M88.7 31.2h0M83.4 51.5h0M62.0 22.3h0M86.4 72.8h0M70.2 19.3h0M100.7 63.4h0M76.9 17.5h0M97.1 46.9h0M106.4 41.5h0" stroke="#ff4cc0" stroke-width="2.0"/>
<path d="M110.7 67.4h0M90.2 83.6h0M158.9 83.4h0M77.4 19.0h0M131.9 46.6h0M67.2 86.2h0M135.1 49.7h0M54.7 59.2h0" stroke="#c83098" stroke-width="1.5"/>
<path d="M61.1 25.9h0M76.9 73.5h0M160.8 38.0h0M75.8 72.8h0" stroke="#e83cb4" stroke-width="2.5"/>
<path d="M128.4 49.4h0" stroke="#d83cc0" stroke-width="2.5"/>
<path d="M96.8 67.5h0" stroke="#c83098" stroke-width="2.5"/>
</g></g>
<clipPath id="c2"><rect x="166" y="17" width="108.5" height="81"/></clipPath>
<rect x="166" y="17" width="108.5" height="81" fill="#000"/>
<g clip-path="url(#c2)"><g filter="url(#bl)" stroke-linecap="round" fill="none">
<path d="M217.5 70.3h0M172.6 91.1h0M173.5 90.8h0M180.7 42.3h0M271.9 70.8h0M271.5 69.9h0M169.0 39.7h0M241.5 74.1h0M240.9 72.7h0M262.2 51.0h0M270.7 77.3h0M206.0 76.6h0M264.8 60.3h0M240.8 60.9h0M240.4 59.7h0M210.1 43.2h0M169.2 56.5h0M168.7 57.4h0M271.5 61.9h0M270.9 63.0h0M200.9 28.5h0M257.4 66.3h0M257.3 67.5h0M207.7 49.4h0M255.1 46.1h0M256.2 44.8h0M212.9 50.5h0M217.6 33.7h0M217.2 34.7h0M239.3 16.6h0M246.8 37.4h0M230.7 63.8h0M215.9 31.0h0M198.2 43.9h0M177.6 38.4h0M237.9 66.9h0M178.7 41.9h0M268.4 28.3h0M227.0 82.0h0M246.3 58.5h0M214.1 31.4h0M200.2 92.9h0M199.4 91.6h0M261.6 70.5h0M184.3 55.2h0M222.1 52.1h0M181.6 60.9h0M265.3 28.0h0M261.3 71.2h0M262.0 72.0h0M257.1 60.4h0M257.6 58.8h0M177.6 37.9h0M184.9 28.0h0M204.6 42.1h0M204.5 43.0h0M254.3 76.8h0M253.7 75.4h0M251.9 60.4h0M251.3 59.7h0M247.4 45.5h0M246.2 45.5h0M182.3 53.0h0M249.2 63.3h0M249.9 43.7h0M248.4 43.5h0M181.9 31.8h0M182.8 31.0h0M230.8 50.3h0M260.0 60.4h0M179.4 48.1h0M179.8 47.0h0M219.9 71.1h0M220.4 66.9h0M185.7 66.3h0M178.6 53.0h0M248.8 72.0h0M249.4 71.0h0M194.3 28.7h0M254.6 51.6h0M254.1 52.7h0M263.7 67.9h0M234.5 41.9h0M208.6 24.8h0M230.8 70.3h0M264.1 49.8h0M264.3 50.6h0M256.7 72.4h0M221.4 44.5h0M263.3 45.8h0M226.7 21.7h0M222.3 51.2h0M256.0 77.1h0M255.0 76.6h0M200.5 77.3h0M247.0 31.0h0M247.7 31.5h0M171.8 41.9h0M171.7 43.0h0M266.0 35.0h0M231.9 57.2h0M240.5 33.3h0M234.3 34.3h0M245.3 32.3h0M181.6 42.4h0M246.6 51.6h0M221.6 27.1h0M221.6 53.2h0M190.9 47.2h0M171.3 54.4h0M202.3 17.6h0M245.6 78.1h0M216.5 41.9h0M215.5 40.7h0M194.5 66.5h0M227.2 68.9h0M254.0 59.5h0M189.7 72.0h0M186.3 74.2h0M256.5 28.6h0M238.3 75.5h0M267.2 49.1h0M266.0 49.8h0M227.0 51.7h0M234.9 43.9h0M235.9 42.6h0M189.9 86.9h0M191.1 87.1h0M246.7 78.3h0M246.9 72.8h0M212.8 68.5h0M235.7 50.9h0M236.3 49.7h0M260.1 84.1h0M260.3 85.5h0M209.6 26.3h0M263.9 29.1h0M220.0 46.8h0M191.4 43.9h0M269.2 44.1h0M180.5 73.9h0M183.7 80.2h0M271.3 84.8h0M267.5 34.8h0M208.1 36.8h0M183.4 61.6h0M188.6 37.8h0M188.3 80.9h0M186.7 81.2h0M273.6 57.4h0M179.1 31.3h0M180.1 31.6h0M208.1 81.2h0M188.6 77.2h0M187.4 76.9h0M169.0 41.9h0M206.8 39.0h0M180.8 47.4h0M196.5 40.7h0M204.7 34.2h0M205.2 75.6h0M187.2 31.9h0M200.0 66.4h0M176.7 44.7h0M263.4 65.3h0M183.7 57.4h0M241.5 37.3h0M249.4 38.3h0M202.7 39.8h0M231.3 68.1h0M222.0 19.3h0M222.8 20.2h0M232.6 35.3h0M213.9 33.0h0M261.4 44.1h0M191.4 66.6h0M267.4 60.5h0M207.9 49.3h0M204.1 30.3h0M191.4 68.3h0M190.5 68.0h0M236.0 47.6h0M235.6 46.7h0M165.9 68.7h0M214.8 27.5h0M213.6 27.2h0M208.8 40.2h0M196.3 75.2h0M222.6 48.5h0M183.9 53.5h0M254.7 30.9h0M213.3 68.8h0M260.2 61.8h0M272.5 74.0h0M226.1 43.8h0M181.5 37.3h0M197.6 78.1h0M234.2 80.2h0M208.2 31.2h0M270.5 53.9h0M273.0 42.9h0M252.3 80.3h0M233.6 37.1h0M202.7 22.5h0M201.5 21.7h0M210.8 37.5h0M211.6 37.4h0M167.0 42.2h0M166.1 74.0h0M257.5 62.7h0M259.5 76.6h0M256.6 41.5h0M206.5 34.8h0M215.4 71.3h0M214.6 71.0h0M175.2 73.7h0M176.3 73.6h0M173.8 52.5h0M188.6 43.3h0M190.8 82.5h0M190.2 81.7h0M175.9 40.4h0M177.0 39.7h0M201.9 68.1h0M200.8 68.0h0M189.2 33.0h0M251.7 29.8h0M256.2 23.5h0M171.8 79.6h0M263.7 39.0h0M263.4 40.0h0M171.1 64.3h0M199.1 65.8h0M219.7 62.5h0M250.6 34.9h0M250.7 36.3h0M216.5 74.3h0M265.6 59.1h0M217.5 42.7h0M169.6 72.7h0M226.0 51.3h0M255.3 89.3h0M256.3 90.3h0M170.3 87.2h0M192.1 69.1h0M238.0 40.1h0M202.3 62.9h0M168.0 30.1h0M227.0 50.9h0M219.8 23.3h0M259.5 50.7h0M246.2 58.3h0M247.1 57.7h0M257.6 78.4h0M182.3 88.4h0M218.6 63.4h0M219.3 62.6h0M245.8 38.5h0M272.5 27.1h0M178.3 79.3h0M228.0 70.3h0M193.9 74.0h0M210.6 92.5h0M223.2 42.1h0M223.7 43.6h0M217.5 69.0h0M235.7 29.5h0M193.6 78.1h0M221.9 33.6h0M211.2 46.9h0M212.5 46.5h0M251.0 51.1h0M168.5 49.8h0M168.5 48.6h0M218.3 48.3h0M217.8 49.5h0M171.1 42.6h0M224.0 77.0h0M219.5 18.0h0M214.2 75.9h0M180.3 72.0h0M221.3 42.4h0M217.0 69.5h0M241.2 59.1h0M240.4 60.1h0M221.8 32.1h0M191.8 39.6h0M213.2 24.1h0M190.5 61.1h0M189.3 73.6h0M234.3 38.2h0M191.0 56.2h0M266.0 80.3h0M266.7 81.4h0M262.5 73.3h0M263.1 74.0h0M268.0 76.7h0M248.9 47.7h0M249.6 47.2h0M250.8 65.1h0M265.8 78.1h0M169.2 45.4h0M188.6 48.1h0M188.1 49.5h0M265.8 63.8h0M264.9 64.2h0M189.5 62.0h0M258.5 66.0h0M242.9 58.5h0M186.0 36.6h0M272.1 54.5h0M232.8 53.9h0M233.9 75.2h0M261.0 85.9h0M266.2 52.1h0M266.3 51.1h0M215.8 62.4h0M234.7 27.8h0M233.0 28.3h0M222.8 64.3h0M248.5 26.3h0M229.4 18.0h0M229.7 19.2h0M190.1 46.6h0M175.3 43.1h0M175.0 42.1h0M233.2 58.4h0M210.0 25.9h0M210.5 25.3h0M255.3 39.8h0M230.0 38.1h0M230.7 37.1h0M203.3 78.5h0M203.4 77.1h0M253.6 55.2h0M228.4 57.9h0M229.5 57.8h0M245.2 34.6h0M204.3 33.7h0M198.1 64.5h0M273.2 35.5h0M186.3 45.4h0M204.9 60.5h0M211.8 59.5h0M213.1 43.2h0M206.9 72.8h0M180.8 34.8h0M273.3 35.1h0M203.1 78.0h0M220.0 75.2h0M220.8 75.5h0M197.3 45.4h0M209.7 54.8h0M182.2 57.0h0M178.4 67.0h0M243.9 67.8h0M252.5 78.3h0M205.7 43.5h0M197.5 36.9h0M238.1 31.8h0M239.5 32.4h0M258.4 54.7h0M217.2 48.2h0M177.0 55.8h0M216.3 58.9h0M271.7 76.8h0M215.8 70.6h0M215.6 71.4h0M198.3 56.1h0M207.3 47.1h0M195.6 28.8h0M246.6 55.2h0M247.2 54.4h0M265.1 66.7h0M248.3 47.9h0M246.7 83.8h0M171.0 46.3h0M169.9 46.2h0M221.6 44.8h0M212.6 62.9h0M211.3 63.5h0M222.7 70.2h0M197.2 73.4h0M167.9 66.0h0M207.1 59.7h0M196.3 76.6h0M199.7 43.7h0M238.6 57.7h0M237.8 58.3h0M197.7 37.9h0M241.4 36.0h0M264.5 81.6h0M195.7 46.6h0M269.7 57.2h0M174.3 65.3h0M218.1 34.2h0M219.3 37.0h0M229.4 19.6h0M268.3 40.6h0M233.5 47.3h0M217.1 70.9h0M171.8 36.5h0M204.4 43.8h0M204.0 44.9h0M189.6 77.9h0M238.7 51.8h0M257.7 61.8h0M259.0 61.4h0M231.8 68.4h0M198.4 36.7h0M236.6 45.5h0M236.7 44.1h0M189.5 63.5h0M192.5 46.3h0M219.0 43.7h0M257.4 82.9h0M176.4 86.0h0M206.3 68.3h0M222.2 73.6h0M209.9 84.0h0M223.1 73.0h0M221.1 66.0h0M174.5 36.7h0M226.8 67.1h0M203.4 50.5h0M230.1 84.4h0M195.6 33.4h0M196.4 31.9h0M242.7 36.2h0M209.8 69.6h0M209.2 61.9h0M209.8 61.3h0M244.4 67.2h0M242.8 66.5h0M258.9 54.9h0M244.2 39.3h0M245.0 38.3h0M246.4 47.2h0M247.9 48.2h0M186.5 35.6h0M187.1 34.8h0M262.5 83.4h0M249.6 75.8h0M217.5 70.9h0M216.5 70.8h0M186.9 63.1h0M181.7 31.9h0M238.1 66.2h0M237.0 66.8h0M228.7 33.7h0M228.7 32.9h0M167.9 68.5h0M218.7 32.9h0M217.5 32.2h0M197.1 34.7h0M224.8 61.9h0M249.8 88.3h0M170.4 84.6h0M169.0 84.3h0M236.2 34.8h0M200.4 29.1h0M241.2 72.4h0M207.9 55.7h0M207.3 56.6h0M257.9 39.4h0M232.2 66.0h0M271.2 33.0h0M228.6 17.1h0M267.0 48.8h0M170.5 33.9h0M169.5 33.4h0M233.9 26.4h0M257.8 62.3h0M258.3 61.3h0M207.4 31.2h0M194.1 62.0h0M231.6 87.6h0M185.8 42.8h0M185.6 43.6h0M175.7 67.4h0M218.0 23.5h0M225.8 21.6h0M226.6 34.4h0M225.8 33.6h0M202.0 80.7h0M166.1 74.3h0M212.9 37.3h0M212.7 36.5h0M221.8 72.4h0M220.8 73.6h0M245.3 48.6h0M236.0 66.1h0M258.0 44.9h0M171.9 69.5h0M172.7 68.9h0M238.3 63.6h0M194.4 62.4h0M268.0 64.0h0M267.3 65.0h0M271.0 30.7h0M231.5 66.4h0M246.2 51.2h0M228.9 78.0h0M222.4 78.9h0M221.3 77.8h0M192.3 68.7h0M190.6 68.9h0M166.6 62.5h0M183.1 41.5h0M182.4 42.0h0M253.6 47.5h0M179.1 30.8h0M178.6 32.3h0M262.5 52.3h0M257.6 73.6h0M240.1 49.5h0M220.2 68.5h0M197.0 36.5h0M197.0 37.9h0M190.1 59.2h0M190.9 58.6h0M261.7 36.3h0M202.3 54.0h0M272.2 88.8h0M253.6 42.3h0M201.3 39.8h0M215.5 29.1h0M214.4 28.0h0M180.4 70.2h0M199.7 44.2h0M232.1 66.3h0M255.4 81.2h0M179.8 79.0h0M261.1 35.2h0M168.9 74.8h0M170.5 74.2h0M171.2 94.1h0M176.1 63.9h0M238.1 23.9h0M239.1 24.4h0M191.1 59.2h0M184.0 79.3h0M190.2 35.2h0M173.8 49.3h0M184.0 63.1h0M199.8 31.6h0M245.2 73.0h0M229.4 75.6h0M249.6 63.6h0M228.4 56.7h0M228.2 55.1h0M253.7 74.1h0M210.5 30.1h0M228.2 36.1h0M191.7 63.4h0M191.6 62.5h0M272.2 68.3h0M273.1 67.6h0M206.2 43.2h0M197.1 73.4h0M197.4 72.6h0M255.0 33.3h0M195.6 27.9h0M195.9 26.9h0M248.9 74.4h0M210.4 47.2h0M211.3 47.8h0M193.3 67.5h0M178.6 82.0h0M205.6 62.7h0M270.0 73.5h0M268.9 74.0h0M263.8 75.2h0M222.5 55.3h0M271.2 41.4h0M270.7 42.3h0M177.5 37.0h0M232.6 46.5h0M266.8 59.4h0M266.0 58.5h0M171.6 63.0h0M218.7 23.6h0M201.5 30.9h0M258.7 35.2h0M173.3 32.7h0M256.7 74.6h0M172.8 90.1h0M255.0 63.8h0M268.2 54.9h0M238.0 25.2h0M217.2 69.3h0M183.0 65.8h0M181.4 65.4h0M238.7 55.1h0M209.3 79.7h0M249.2 76.8h0M249.0 75.9h0M175.8 56.3h0M176.8 55.9h0M208.4 32.3h0M206.7 32.1h0M263.8 44.3h0M201.8 34.8h0M231.4 18.9h0M250.8 48.4h0M195.7 49.7h0M197.5 50.0h0M263.7 18.4h0M254.5 49.4h0M255.7 48.7h0M191.8 50.3h0M172.7 33.7h0M211.4 28.5h0M271.0 33.6h0M272.1 33.0h0M220.4 66.1h0M172.1 81.1h0M171.1 80.7h0M213.3 61.8h0M233.7 41.4h0M185.7 69.3h0M258.7 65.9h0M229.9 72.3h0M230.4 70.7h0M239.2 75.6h0M185.6 66.9h0M184.4 67.5h0M242.8 32.0h0M246.8 47.3h0M247.9 46.5h0M212.4 46.9h0M193.6 85.9h0M273.3 25.3h0M215.7 40.6h0M251.6 38.8h0M256.8 83.2h0M257.5 82.5h0M194.8 51.2h0M241.6 24.8h0M223.0 52.1h0M222.3 50.5h0M179.3 78.2h0M205.8 41.6h0M225.8 75.9h0M227.3 76.3h0M270.9 53.9h0M201.6 67.7h0M189.4 58.8h0M190.2 58.6h0M259.6 79.6h0M237.8 71.7h0M238.4 71.1h0M211.0 58.1h0M234.2 52.7h0M232.7 52.7h0M183.2 46.4h0M172.3 41.3h0M248.7 27.9h0M188.0 53.0h0M189.7 53.3h0M200.4 61.5h0M191.9 59.0h0M214.3 38.8h0M215.0 39.2h0M217.7 65.0h0M216.5 64.6h0M200.4 59.3h0M201.2 58.3h0M208.7 33.3h0M248.0 30.5h0M248.9 29.1h0M253.2 42.6h0M263.6 40.9h0M264.3 40.6h0M224.8 72.0h0M273.1 22.2h0M273.5 23.5h0M222.1 71.2h0M221.4 71.9h0M209.2 82.2h0M209.8 52.2h0M174.7 61.5h0M209.5 29.3h0M179.4 64.6h0M267.7 82.2h0M266.4 81.5h0M198.5 62.6h0M264.6 67.5h0M248.7 33.7h0M249.8 34.8h0M237.7 34.1h0M202.6 68.5h0M227.4 47.2h0M247.3 69.3h0M167.1 63.0h0M166.5 62.3h0M210.6 82.5h0M274.2 59.5h0M178.2 89.5h0M179.0 89.8h0M224.6 69.6h0M272.4 45.2h0M262.2 39.6h0M188.1 60.8h0M182.8 48.9h0M205.2 35.2h0M205.5 33.8h0M269.9 50.3h0M190.3 68.3h0M190.0 50.2h0M189.9 49.3h0M169.2 53.6h0M265.6 47.4h0M198.4 46.8h0M269.8 73.8h0M185.3 26.5h0M185.1 27.4h0M261.1 32.8h0M260.8 33.8h0M272.7 55.4h0M243.2 63.8h0M240.1 90.3h0M191.5 42.9h0M243.4 36.4h0M224.6 83.9h0M255.7 31.5h0M256.9 31.1h0M271.1 46.1h0M272.6 46.8h0M270.3 77.1h0M269.9 78.1h0M268.7 66.5h0M261.1 47.9h0M212.4 41.0h0M235.7 45.0h0M234.8 45.4h0M200.6 68.9h0M192.9 44.6h0M193.8 45.2h0M270.0 24.2h0M270.2 25.4h0M254.6 74.3h0M204.6 31.6h0M263.2 82.3h0M191.8 73.5h0M265.9 68.6h0M185.9 86.9h0M239.0 82.5h0M224.1 36.0h0M222.4 35.9h0M220.5 44.0h0M173.0 38.9h0M240.6 58.9h0M205.6 78.4h0M187.8 61.6h0M260.1 37.9h0M207.0 77.6h0M216.3 47.0h0M217.0 45.8h0M221.0 20.3h0M171.3 67.0h0M170.7 66.1h0M197.5 52.1h0M167.3 54.6h0M167.3 53.3h0M206.4 43.9h0M206.5 44.7h0M255.2 62.2h0M239.7 22.9h0M212.8 82.2h0M181.1 61.9h0M240.3 62.7h0M199.2 23.1h0M202.9 25.3h0M183.8 50.6h0M182.7 50.7h0M185.4 33.3h0M187.1 33.4h0M187.0 34.9h0M199.4 42.3h0M224.3 48.2h0M258.2 42.7h0M257.6 41.1h0M241.3 57.3h0M239.9 58.0h0M219.0 38.2h0M267.4 61.0h0M264.3 17.9h0M226.1 19.5h0M262.9 31.6h0M263.8 32.3h0M220.6 71.7h0M173.5 42.8h0M174.7 42.6h0M213.8 72.4h0M214.9 72.6h0M234.7 62.9h0M216.9 29.6h0M216.7 31.1h0M265.5 42.9h0M215.6 66.5h0M215.6 68.2h0M182.5 52.2h0M193.5 35.3h0M198.3 72.3h0M168.0 55.0h0M177.4 52.3h0M176.6 36.0h0M265.4 31.8h0M266.7 32.6h0M211.8 68.2h0M253.6 64.4h0M201.9 58.6h0M225.3 89.4h0M226.0 90.6h0M256.3 79.8h0M265.1 77.5h0M179.5 74.8h0M208.9 32.7h0M272.2 85.5h0M227.2 36.8h0M226.4 35.6h0M248.9 65.4h0M249.3 64.6h0M194.4 39.0h0M235.0 72.1h0M220.4 17.0h0M195.5 66.8h0M167.5 82.5h0M168.3 83.5h0M197.8 67.8h0M271.4 75.4h0M187.8 62.0h0M189.5 61.3h0M224.0 28.3h0M184.0 36.8h0M183.2 37.7h0M193.3 67.9h0M197.6 25.3h0M166.3 90.3h0M215.1 49.7h0M262.6 74.1h0M262.9 73.3h0M241.0 53.3h0M263.3 52.4h0M264.1 52.2h0M205.5 62.0h0M207.6 15.9h0M252.3 64.8h0M268.7 60.3h0M236.1 62.5h0M238.9 31.3h0M174.2 41.8h0M173.1 41.8h0M172.0 54.6h0M178.8 76.4h0M217.9 34.4h0M219.1 34.4h0M217.4 26.6h0M248.9 54.9h0M174.6 46.9h0M175.1 46.0h0M266.1 48.0h0M208.8 74.1h0M206.1 42.9h0M220.5 72.7h0M168.9 71.7h0M171.7 55.8h0M170.7 55.1h0M168.4 71.6h0M231.4 60.9h0M236.9 78.2h0M183.1 46.3h0M183.8 45.6h0M227.9 59.4h0M260.1 58.7h0M239.4 54.4h0M239.4 52.8h0M250.0 60.9h0M210.4 38.8h0M211.3 37.6h0M272.7 47.6h0M273.7 46.8h0M264.1 78.0h0M264.8 77.5h0M183.3 71.5h0M252.8 92.6h0M256.7 37.0h0M185.7 74.2h0M181.7 36.5h0M195.0 67.9h0M200.8 37.2h0M166.8 42.9h0M186.9 23.6h0M231.0 29.8h0M228.9 70.0h0M203.8 64.5h0M262.9 60.0h0M222.9 38.7h0M257.5 35.1h0M260.6 32.4h0M255.4 37.1h0M255.4 36.2h0M208.3 63.5h0M251.5 41.6h0M222.1 51.4h0M223.6 50.8h0M258.8 57.3h0M198.2 59.7h0M207.7 26.8h0M173.7 89.2h0M266.4 82.4h0M264.8 82.6h0M190.0 55.4h0M268.4 18.0h0M268.5 16.4h0M178.0 83.4h0M240.0 68.3h0M238.9 67.4h0M246.1 87.3h0M246.0 86.5h0M270.2 38.5h0M244.3 42.8h0M271.5 84.4h0M272.3 84.5h0M253.7 75.8h0M263.2 39.4h0M233.8 67.3h0M177.0 76.3h0M262.6 76.9h0M261.7 76.4h0M179.2 76.4h0M206.5 58.4h0M207.3 58.8h0M177.9 55.9h0M243.0 58.6h0M272.4 84.9h0M209.5 74.7h0M189.8 30.9h0M190.4 31.9h0M228.4 36.2h0M187.3 74.3h0M203.1 74.2h0M210.3 56.4h0M209.8 57.6h0M266.6 50.9h0M267.7 49.9h0M197.3 71.6h0M248.0 75.9h0M254.2 39.6h0M201.7 62.2h0M210.0 62.9h0M181.0 83.4h0M231.7 16.9h0M234.9 42.0h0M185.0 72.9h0M183.8 73.9h0M169.2 45.1h0M168.7 43.4h0M193.4 61.5h0M251.6 65.1h0M251.1 64.3h0M231.5 29.9h0M203.5 57.9h0M209.3 43.4h0M168.6 54.6h0M169.6 55.6h0M228.6 25.8h0M241.2 35.3h0M181.2 79.1h0M191.1 40.7h0M184.3 54.4h0M184.7 55.6h0M265.5 55.4h0M264.5 53.9h0M185.6 75.4h0M186.8 77.9h0M221.4 58.6h0M229.6 30.9h0M203.9 37.0h0M205.1 37.0h0M254.7 42.6h0M245.6 37.4h0M244.5 36.7h0M169.9 66.9h0M195.6 28.0h0M196.6 27.2h0M268.3 56.2h0M258.3 55.4h0M259.4 55.6h0M211.9 72.0h0M261.4 64.4h0M234.7 52.5h0M234.0 51.1h0M172.4 39.0h0M173.3 38.3h0M171.0 44.5h0M178.4 52.2h0M193.3 52.4h0M235.6 83.1h0M191.6 66.2h0M205.0 40.7h0M201.9 57.7h0M213.7 34.2h0M263.3 89.4h0M184.9 75.8h0M178.6 74.6h0M178.5 73.4h0M216.1 38.1h0M187.6 76.3h0M186.7 77.4h0M237.5 30.3h0M217.8 64.8h0M217.3 66.4h0M215.7 35.9h0M253.9 55.3h0M173.8 45.9h0M213.2 43.2h0M205.4 35.5h0M204.2 35.7h0M207.6 47.6h0M207.1 46.0h0M264.8 76.9h0M265.8 78.0h0M261.7 37.1h0M185.9 80.1h0M191.0 31.4h0M191.5 32.2h0M180.5 75.7h0M271.5 60.8h0M241.1 50.3h0M240.4 51.8h0M218.5 25.4h0M264.4 68.4h0M185.6 58.4h0M169.8 72.0h0M260.2 28.0h0M185.7 53.1h0M184.0 53.2h0M243.5 75.5h0M266.7 42.6h0M181.4 37.9h0M243.5 55.4h0M273.7 58.1h0M226.0 35.5h0M168.2 62.8h0M166.5 62.2h0M260.2 74.1h0M261.2 73.6h0M238.6 73.4h0M226.1 65.9h0M226.7 66.5h0M193.5 60.0h0M193.8 60.8h0M246.4 40.2h0M247.8 41.2h0M215.4 36.2h0M213.3 31.8h0M189.3 64.4h0M194.5 36.3h0M180.0 79.1h0M242.1 88.3h0M241.0 89.5h0M167.4 83.5h0M198.3 73.3h0M199.6 73.9h0M233.1 42.9h0M194.6 61.5h0M232.9 41.8h0M202.6 39.3h0M214.5 71.6h0M232.0 58.0h0M262.9 85.7h0M253.5 71.4h0M231.6 69.9h0M240.8 75.7h0M208.7 53.2h0M231.3 24.4h0M204.4 43.5h0M203.8 42.8h0M272.9 25.8h0M259.9 77.6h0M239.0 73.6h0M181.8 50.7h0M182.7 49.5h0M200.7 43.9h0M203.2 40.4h0M255.2 32.7h0M256.3 32.0h0M224.9 60.9h0M212.1 37.5h0M210.4 37.8h0" stroke="#3014ff" stroke-width="1.5"/>
<path d="M216.7 71.0h0M240.9 65.7h0M240.0 66.1h0M181.6 42.6h0M209.5 50.9h0M205.4 58.4h0M206.0 57.3h0M190.1 51.6h0M189.2 51.3h0M170.0 39.4h0M220.6 18.9h0M220.0 18.1h0M217.8 67.8h0M218.4 68.7h0M260.9 50.5h0M270.4 78.6h0M207.3 75.7h0M264.1 61.2h0M209.6 44.6h0M220.4 73.5h0M220.9 72.7h0M258.7 84.4h0M257.6 85.3h0M199.3 28.0h0M267.6 65.5h0M267.2 66.3h0M207.7 51.1h0M186.6 31.9h0M187.8 32.8h0M214.7 59.7h0M213.8 58.8h0M208.1 50.6h0M209.3 50.0h0M212.3 49.9h0M238.6 18.0h0M218.6 32.8h0M218.8 34.0h0M246.2 36.7h0M231.8 63.7h0M215.1 31.9h0M197.7 43.2h0M257.3 35.9h0M216.5 46.1h0M215.0 45.9h0M239.5 67.2h0M177.7 42.8h0M267.2 28.8h0M225.9 81.1h0M174.4 91.5h0M175.5 90.7h0M168.6 81.5h0M168.9 82.7h0M247.0 59.5h0M223.8 31.3h0M224.0 32.5h0M196.7 63.1h0M196.7 62.0h0M213.1 30.7h0M201.3 62.9h0M202.2 62.2h0M262.4 70.9h0M239.1 54.9h0M239.9 53.7h0M183.5 55.7h0M223.3 51.4h0M182.1 61.8h0M264.6 28.8h0M194.5 75.4h0M193.3 74.5h0M177.5 39.2h0M267.2 72.0h0M266.7 70.7h0M198.3 75.9h0M197.5 76.6h0M185.7 27.9h0M183.8 53.5h0M211.8 50.6h0M250.4 64.0h0M229.8 51.8h0M215.1 67.8h0M216.5 67.8h0M260.7 59.9h0M188.5 56.6h0M188.7 55.2h0M175.9 63.5h0M176.8 64.3h0M219.0 71.2h0M221.2 65.8h0M198.0 29.5h0M185.0 64.9h0M177.3 53.8h0M241.0 35.5h0M240.2 35.0h0M195.1 55.9h0M193.7 56.8h0M184.9 72.1h0M184.8 73.1h0M193.9 27.3h0M233.4 17.9h0M232.8 17.2h0M251.0 47.2h0M250.9 46.1h0M263.0 66.7h0M203.3 58.5h0M233.2 42.8h0M210.2 24.0h0M229.6 70.8h0M180.5 57.2h0M180.6 58.2h0M244.9 49.9h0M245.8 49.7h0M257.9 72.4h0M222.5 44.7h0M215.6 18.6h0M223.0 82.7h0M224.6 81.9h0M264.5 46.5h0M227.3 22.7h0M168.4 50.4h0M169.1 49.9h0M193.3 65.5h0M192.1 65.5h0M184.2 90.9h0M185.1 89.4h0M223.7 51.8h0M174.6 44.8h0M201.8 78.5h0M259.5 26.3h0M258.9 27.4h0M266.4 34.4h0M231.1 57.8h0M177.8 82.5h0M176.9 83.8h0M255.5 76.5h0M233.5 33.2h0M180.9 43.2h0M246.5 53.1h0M221.7 26.3h0M222.5 51.6h0M248.0 69.4h0M247.9 70.9h0M190.6 48.2h0M202.1 18.8h0M239.8 34.9h0M239.6 36.0h0M171.9 69.4h0M172.9 68.9h0M244.4 76.8h0M195.7 84.3h0M195.0 84.7h0M264.2 74.9h0M264.0 76.1h0M193.9 68.1h0M226.8 70.6h0M254.7 58.1h0M187.8 74.9h0M257.4 29.1h0M237.5 76.8h0M226.0 51.5h0M247.7 85.6h0M248.7 85.0h0M247.1 77.4h0M247.3 74.1h0M213.9 69.7h0M208.6 47.0h0M208.7 48.0h0M208.8 26.8h0M262.7 29.4h0M187.7 34.6h0M219.6 47.8h0M192.6 44.9h0M267.5 44.0h0M261.7 63.5h0M263.5 63.8h0M182.0 74.7h0M184.6 35.6h0M184.0 34.4h0M184.9 79.4h0M270.1 84.4h0M177.1 47.8h0M178.3 46.5h0M208.4 35.6h0M183.9 62.8h0M249.6 34.7h0M251.1 35.4h0M187.8 36.3h0M274.4 57.7h0M208.2 80.4h0M273.9 81.8h0M275.1 80.8h0M169.2 43.1h0M207.3 37.9h0M181.7 46.4h0M204.6 35.0h0M204.7 74.3h0M186.3 31.5h0M200.8 65.9h0M176.9 45.8h0M263.7 64.5h0M183.0 58.2h0M239.8 37.9h0M249.7 37.5h0M203.4 39.2h0M230.0 67.7h0M223.4 21.4h0M223.4 22.4h0M274.3 77.0h0M274.6 75.6h0M214.7 76.4h0M215.7 77.5h0M231.8 36.1h0M214.5 33.6h0M187.5 82.2h0M186.6 81.0h0M262.4 43.1h0M176.0 35.3h0M177.0 35.8h0M266.5 59.5h0M208.0 48.2h0M204.8 29.1h0M245.4 39.8h0M245.9 40.7h0M201.5 82.2h0M200.1 82.5h0M254.5 51.7h0M254.5 49.9h0M209.4 39.1h0M224.0 47.5h0M264.4 49.4h0M264.0 48.4h0M252.6 80.6h0M253.3 79.0h0M183.9 54.4h0M270.3 75.3h0M269.5 75.6h0M253.7 30.0h0M212.8 70.3h0M258.5 62.2h0M273.7 73.1h0M227.4 44.7h0M238.1 43.1h0M237.5 44.1h0M240.0 25.5h0M240.4 24.6h0M182.4 37.3h0M198.3 77.6h0M199.2 33.9h0M199.6 33.1h0M210.9 49.6h0M209.9 50.3h0M233.5 79.9h0M207.1 31.7h0M243.5 49.4h0M242.4 48.3h0M228.4 47.5h0M270.5 52.5h0M274.1 42.4h0M252.3 79.1h0M231.9 37.5h0M168.5 38.7h0M168.2 39.7h0M166.9 73.8h0M210.7 76.2h0M210.8 74.8h0M260.0 89.9h0M259.2 88.9h0M174.6 72.5h0M175.6 71.8h0M254.6 51.4h0M273.9 77.6h0M275.2 77.1h0M173.0 80.8h0M258.7 61.5h0M244.3 34.9h0M243.4 35.0h0M258.9 76.0h0M255.9 42.3h0M208.1 35.0h0M260.2 20.7h0M260.3 22.1h0M174.6 52.2h0M273.9 20.0h0M274.1 20.9h0M187.9 44.3h0M217.3 76.7h0M216.2 77.8h0M251.7 31.3h0M256.8 25.2h0M170.1 63.9h0M197.4 66.2h0M221.0 61.8h0M215.6 75.6h0M265.7 60.6h0M212.1 54.7h0M212.0 53.1h0M270.4 36.5h0M271.9 36.9h0M167.9 72.5h0M225.6 50.4h0M169.3 86.5h0M193.6 69.3h0M236.3 40.6h0M181.0 27.8h0M179.3 27.9h0M202.2 61.5h0M168.5 28.8h0M208.4 55.1h0M208.8 53.8h0M255.2 46.1h0M254.9 47.3h0M228.2 51.0h0M255.3 45.9h0M253.8 46.3h0M220.0 24.3h0M258.9 52.4h0M258.4 77.4h0M181.4 88.3h0M247.0 37.7h0M273.1 27.9h0M178.3 78.4h0M225.4 48.5h0M224.3 47.4h0M242.1 72.6h0M241.2 73.9h0M226.9 69.7h0M246.8 48.5h0M245.5 47.7h0M211.5 76.6h0M194.8 74.9h0M209.3 93.0h0M217.7 67.3h0M237.3 29.5h0M243.4 34.3h0M241.8 34.2h0M193.5 77.3h0M222.3 32.8h0M222.9 68.1h0M223.7 69.3h0M208.0 75.1h0M207.6 76.6h0M245.2 42.6h0M244.2 42.5h0M170.1 42.1h0M255.0 78.3h0M255.6 77.3h0M223.9 78.7h0M166.1 31.0h0M164.9 31.8h0M171.2 40.6h0M171.0 41.6h0M180.6 72.7h0M236.4 32.2h0M235.7 32.5h0M223.4 49.3h0M223.9 50.4h0M221.7 40.7h0M217.8 69.6h0M218.9 26.7h0M219.3 25.2h0M218.6 35.0h0M219.6 36.5h0M182.4 22.7h0M183.1 21.4h0M171.1 73.0h0M221.5 30.4h0M183.5 49.2h0M181.8 49.6h0M191.9 38.5h0M214.1 24.3h0M216.2 40.8h0M214.4 41.0h0M189.8 62.2h0M188.7 74.7h0M233.7 36.9h0M194.2 58.8h0M195.5 59.2h0M189.7 56.6h0M267.5 77.7h0M206.3 32.1h0M205.5 31.5h0M250.5 63.4h0M266.5 77.4h0M169.3 46.7h0M188.1 61.2h0M260.4 40.9h0M260.2 39.2h0M260.0 65.5h0M241.9 58.6h0M185.3 36.1h0M272.7 53.9h0M205.9 27.5h0M231.8 52.9h0M235.5 74.7h0M201.0 52.4h0M200.7 53.1h0M266.7 54.1h0M265.9 52.6h0M260.5 86.9h0M242.3 50.8h0M243.9 50.8h0M215.2 61.5h0M221.6 63.9h0M190.2 47.7h0M244.1 46.0h0M233.8 59.7h0M255.4 40.7h0M253.1 53.8h0M168.5 45.4h0M246.0 33.2h0M203.0 34.9h0M198.6 63.3h0M274.7 35.2h0M185.5 44.5h0M205.5 62.2h0M211.0 58.3h0M212.9 42.4h0M208.2 72.4h0M235.3 62.2h0M236.1 61.0h0M181.3 34.1h0M196.8 77.6h0M197.9 78.5h0M267.1 72.6h0M266.2 71.8h0M274.1 35.3h0M183.5 36.6h0M183.6 38.2h0M202.3 77.7h0M245.2 68.6h0M223.9 26.2h0M225.5 25.8h0M196.0 44.6h0M210.4 56.2h0M181.1 57.0h0M267.7 55.4h0M267.8 57.2h0M179.9 67.3h0M243.7 69.0h0M253.2 77.5h0M206.8 44.6h0M197.5 38.2h0M243.8 64.5h0M245.6 64.2h0M256.0 30.8h0M256.7 32.3h0M258.5 53.7h0M228.1 58.4h0M228.7 59.8h0M204.9 53.7h0M218.2 48.3h0M176.3 56.3h0M217.6 58.8h0M270.7 76.3h0M199.0 55.2h0M246.1 58.3h0M193.9 28.8h0M266.3 66.8h0M266.7 71.7h0M265.4 72.0h0M247.6 48.8h0M245.5 83.1h0M198.5 74.8h0M198.0 73.9h0M221.2 45.8h0M224.0 69.0h0M196.0 73.0h0M166.9 66.8h0M207.3 82.4h0M206.7 58.6h0M221.4 30.7h0M221.5 29.4h0M196.1 77.7h0M198.7 44.0h0M196.9 37.4h0M241.1 37.5h0M263.6 82.6h0M194.5 47.6h0M268.7 56.4h0M175.4 64.2h0M246.6 82.1h0M247.4 83.0h0M216.5 64.1h0M217.7 63.5h0M216.9 33.4h0M220.2 38.0h0M229.3 18.2h0M220.8 60.9h0M221.3 60.2h0M201.9 74.9h0M201.1 75.7h0M268.6 42.1h0M234.2 46.2h0M249.4 47.8h0M250.3 48.6h0M266.0 80.3h0M265.6 79.2h0M218.2 71.7h0M228.4 52.1h0M228.1 50.7h0M228.7 71.6h0M228.6 72.7h0M173.1 35.8h0M239.6 51.2h0M272.4 80.6h0M271.9 82.1h0M232.0 69.9h0M199.1 36.0h0M190.4 64.9h0M272.4 75.7h0M272.2 77.1h0M193.4 46.8h0M220.4 44.4h0M175.7 86.5h0M204.8 67.5h0M222.2 74.6h0M209.2 83.2h0M223.5 36.4h0M223.3 35.1h0M233.6 67.6h0M221.9 67.6h0M175.1 35.3h0M228.2 68.0h0M202.6 49.8h0M215.2 32.0h0M214.4 32.1h0M229.1 84.9h0M241.4 35.4h0M209.6 68.0h0M242.8 71.4h0M241.8 70.3h0M184.0 38.6h0M182.4 37.8h0M258.4 56.0h0M213.2 58.5h0M214.4 57.6h0M183.6 54.7h0M262.1 84.7h0M250.6 76.2h0M187.2 62.2h0M181.6 30.6h0M224.0 62.9h0M203.1 27.6h0M204.0 27.8h0M248.4 88.8h0M235.4 33.9h0M199.3 29.1h0M242.0 71.5h0M265.3 46.6h0M265.4 45.7h0M177.5 65.7h0M176.8 66.9h0M237.5 74.4h0M257.0 40.1h0M233.4 64.9h0M273.0 33.1h0M250.6 34.4h0M251.0 35.4h0M227.3 16.9h0M230.6 31.5h0M231.3 32.2h0M195.6 71.8h0M194.3 71.8h0M267.7 47.7h0M204.7 56.2h0M203.8 56.2h0M234.2 25.3h0M207.8 30.5h0M230.9 71.7h0M231.1 72.8h0M173.9 61.3h0M173.0 61.1h0M193.4 61.1h0M232.6 87.9h0M246.0 80.4h0M246.9 81.2h0M218.9 42.4h0M219.4 41.7h0M175.3 65.9h0M218.9 22.0h0M225.0 20.9h0M202.9 80.5h0M174.1 41.3h0M175.7 41.4h0M245.3 25.5h0M246.2 24.8h0M166.9 74.6h0M258.8 53.9h0M257.6 53.7h0M237.1 40.8h0M238.1 40.1h0M244.2 48.2h0M236.9 65.3h0M256.6 45.0h0M194.5 61.0h0M272.4 30.4h0M206.3 39.9h0M205.9 41.3h0M231.8 67.2h0M266.6 44.0h0M268.0 44.7h0M246.9 49.7h0M227.9 77.3h0M232.1 33.8h0M230.9 33.9h0M166.3 61.6h0M215.7 45.9h0M216.4 46.6h0M254.2 48.5h0M263.3 51.3h0M256.3 73.2h0M221.5 69.6h0M241.2 83.2h0M200.4 74.7h0M201.0 75.4h0M262.2 35.7h0M258.8 61.8h0M203.7 54.8h0M273.6 89.0h0M253.2 43.1h0M248.6 45.7h0M249.4 44.5h0M202.5 39.6h0M209.2 54.1h0M210.8 54.1h0M181.5 70.7h0M265.0 76.9h0M264.2 76.5h0M207.3 31.6h0M206.5 31.4h0M203.1 57.5h0M232.6 67.1h0M249.3 41.1h0M248.1 42.1h0M255.7 82.7h0M272.0 37.2h0M271.8 38.1h0M180.7 80.4h0M261.5 34.3h0M172.0 94.4h0M175.0 64.6h0M191.9 57.8h0M184.1 80.3h0M259.9 50.3h0M189.1 35.5h0M172.3 49.9h0M183.2 57.6h0M182.6 58.5h0M183.5 62.3h0M174.7 54.7h0M173.2 53.8h0M196.0 75.7h0M195.3 75.0h0M199.2 32.5h0M243.9 73.9h0M229.1 76.6h0M231.7 76.4h0M233.0 77.3h0M217.4 48.3h0M218.7 49.5h0M254.3 73.0h0M211.5 29.4h0M227.7 34.5h0M223.7 37.7h0M224.7 36.9h0M166.7 92.6h0M166.0 92.3h0M204.8 43.8h0M254.7 31.8h0M267.6 43.7h0M248.0 73.7h0M182.9 60.1h0M182.6 59.1h0M198.2 35.0h0M208.9 83.2h0M207.8 82.7h0M178.4 83.3h0M206.8 62.9h0M235.2 80.8h0M236.5 81.9h0M264.8 75.6h0M241.7 37.5h0M242.0 36.3h0M223.3 56.1h0M174.3 40.8h0M175.7 40.4h0M177.6 35.2h0M242.5 73.4h0M242.0 72.3h0M233.2 45.5h0M200.7 61.8h0M201.4 60.2h0M171.9 61.7h0M217.9 22.2h0M202.6 32.1h0M258.6 33.6h0M174.4 33.7h0M255.1 74.6h0M267.5 54.5h0M204.9 58.2h0M204.0 56.6h0M237.0 24.2h0M216.7 67.7h0M239.1 56.0h0M262.7 41.5h0M263.2 43.1h0M210.2 80.2h0M269.4 83.9h0M270.4 83.3h0M272.5 64.2h0M263.4 48.0h0M263.0 46.8h0M194.0 42.2h0M194.4 41.3h0M187.7 48.5h0M188.6 48.2h0M177.8 46.2h0M179.0 46.2h0M202.8 34.1h0M231.1 18.1h0M250.7 49.7h0M264.9 19.7h0M192.2 49.4h0M171.7 32.5h0M211.5 30.0h0M187.9 35.0h0M188.7 34.2h0M220.5 66.9h0M184.7 80.1h0M185.2 78.5h0M214.2 62.5h0M234.5 41.9h0M184.5 70.2h0M188.5 36.2h0M189.8 35.5h0M258.5 66.7h0M244.5 31.9h0M213.8 47.2h0M273.0 23.8h0M217.4 41.1h0M252.1 37.7h0M216.0 46.7h0M189.2 46.2h0M194.1 50.1h0M241.0 25.4h0M169.8 25.8h0M168.8 24.9h0M180.0 77.9h0M204.3 41.9h0M272.5 53.6h0M201.5 68.8h0M261.1 79.1h0M166.0 74.7h0M166.6 76.1h0M255.2 40.2h0M255.9 39.8h0M183.7 47.4h0M172.5 40.5h0M249.3 27.1h0M199.4 62.8h0M168.3 73.5h0M193.6 59.4h0M234.4 61.5h0M218.9 75.2h0M240.2 63.1h0M209.6 34.6h0M252.4 43.4h0M198.1 46.5h0M196.5 46.0h0M227.5 62.8h0M167.3 67.6h0M209.7 51.0h0M174.1 60.5h0M209.6 27.6h0M180.5 65.1h0M196.8 63.2h0M266.2 68.4h0M170.2 36.7h0M238.5 33.8h0M187.1 43.4h0M185.9 44.0h0M214.5 53.2h0M215.4 53.7h0M203.2 67.0h0M202.3 55.3h0M201.2 55.2h0M263.0 24.4h0M262.3 25.8h0M227.2 45.8h0M247.9 70.9h0M226.2 29.3h0M225.3 29.8h0M211.2 81.9h0M273.3 60.0h0M225.4 68.4h0M243.9 31.5h0M243.1 32.2h0M272.4 46.9h0M229.7 65.7h0M261.9 38.2h0M175.3 54.8h0M173.8 55.7h0M208.5 25.1h0M209.5 25.0h0M186.8 61.8h0M230.4 71.4h0M229.4 72.1h0M181.3 49.1h0M171.9 34.8h0M171.9 33.5h0M271.7 50.6h0M188.6 68.3h0M184.9 38.4h0M239.1 46.7h0M167.9 52.7h0M265.0 48.2h0M197.7 48.4h0M268.3 74.3h0M167.7 56.3h0M168.3 55.5h0M248.3 30.3h0M247.8 28.7h0M212.8 31.7h0M212.2 30.6h0M274.0 55.4h0M244.1 63.6h0M239.4 90.8h0M191.1 44.4h0M233.9 31.7h0M235.2 31.3h0M242.8 35.9h0M225.1 83.1h0M268.5 67.7h0M260.1 49.1h0M269.0 50.8h0M267.4 51.7h0M210.8 40.7h0M178.9 34.6h0M178.9 33.6h0M201.6 68.7h0M206.2 72.1h0M205.1 72.0h0M182.6 50.5h0M182.1 52.0h0M255.0 72.8h0M203.7 32.1h0M195.6 78.8h0M195.4 77.5h0M269.0 66.9h0M270.0 68.3h0M167.6 76.0h0M168.1 76.9h0M180.4 79.8h0M181.1 80.4h0M262.2 81.2h0M190.9 74.2h0M264.5 68.6h0M184.4 87.0h0M239.5 83.3h0M220.0 42.9h0M268.9 42.0h0M267.8 40.8h0M174.7 39.0h0M260.8 81.7h0M261.5 81.0h0M239.8 59.2h0M205.4 80.1h0M226.3 68.5h0M227.0 69.4h0M181.2 40.2h0M186.8 61.6h0M258.8 37.5h0M206.9 76.5h0M222.2 20.4h0M203.0 28.6h0M203.6 27.5h0M204.3 82.4h0M203.8 83.3h0M198.4 50.9h0M232.6 69.9h0M231.6 69.4h0M254.1 61.0h0M240.2 22.0h0M212.7 80.7h0M180.2 62.5h0M239.6 61.5h0M197.8 23.2h0M201.9 24.3h0M184.9 32.6h0M199.5 41.4h0M198.9 82.4h0M197.8 81.3h0M223.8 47.4h0M218.9 39.1h0M266.4 60.3h0M224.5 19.3h0M236.2 62.8h0M188.1 70.8h0M189.0 71.1h0M264.0 43.8h0M225.1 47.6h0M224.2 48.2h0M181.0 52.9h0M193.9 36.6h0M230.4 37.4h0M231.0 38.0h0M199.7 73.1h0M226.3 58.6h0M225.9 60.1h0M169.7 55.2h0M178.1 53.7h0M176.5 37.4h0M264.5 41.3h0M263.4 41.6h0M272.4 23.1h0M271.7 23.5h0M248.0 66.2h0M248.0 67.6h0M212.1 67.4h0M253.1 62.9h0M202.3 57.3h0M186.0 40.3h0M187.1 40.7h0M255.9 80.8h0M266.5 77.3h0M177.9 74.4h0M209.5 34.3h0M203.4 68.1h0M202.1 67.9h0M253.5 59.5h0M253.5 58.1h0M191.9 58.0h0M191.0 59.2h0M272.4 86.3h0M272.8 82.7h0M274.5 82.6h0M239.7 52.3h0M240.0 53.9h0M190.7 70.4h0M192.1 70.9h0M196.7 84.0h0M194.3 40.3h0M234.4 73.3h0M221.4 17.0h0M194.1 66.8h0M245.0 35.3h0M222.5 20.4h0M223.5 20.5h0M168.3 49.4h0M168.9 48.7h0M197.9 69.3h0M269.7 75.5h0M176.8 64.0h0M175.8 63.4h0M178.6 34.0h0M177.5 34.0h0M224.9 29.4h0M192.0 68.6h0M197.9 26.8h0M167.2 90.3h0M225.0 41.0h0M214.4 50.4h0M274.3 62.5h0M272.7 62.5h0M255.1 84.9h0M256.4 85.6h0M240.2 53.9h0M223.9 18.1h0M222.8 18.4h0M205.8 61.1h0M233.8 22.9h0M207.8 17.4h0M235.1 82.0h0M234.4 81.6h0M251.0 64.6h0M219.9 68.9h0M204.3 56.4h0M268.2 59.1h0M237.5 62.0h0M240.5 32.0h0M171.1 56.0h0M179.1 78.0h0M218.3 27.3h0M229.0 31.7h0M228.2 32.2h0M266.6 50.1h0M265.4 50.4h0M247.2 54.8h0M266.0 21.3h0M264.6 22.2h0M209.8 78.1h0M210.6 76.6h0M266.1 49.7h0M258.7 59.0h0M258.9 60.1h0M196.9 63.6h0M196.9 64.4h0M265.1 40.1h0M264.3 39.9h0M209.4 73.4h0M214.2 72.1h0M213.5 71.4h0M171.2 48.1h0M170.4 47.9h0M206.9 43.5h0M220.8 71.9h0M170.2 71.2h0M169.2 71.2h0M235.5 77.4h0M227.1 60.3h0M260.7 59.7h0M239.8 57.0h0M238.9 56.7h0M249.6 61.6h0M243.1 39.5h0M243.8 38.2h0M179.4 32.3h0M180.0 30.9h0M253.3 91.1h0M257.0 36.1h0M227.9 50.8h0M227.0 50.3h0M179.8 61.7h0M181.0 62.2h0M180.8 37.9h0M193.5 68.5h0M199.8 38.0h0M177.0 45.4h0M176.1 46.5h0M186.2 25.2h0M197.6 25.5h0M198.1 26.6h0M230.1 69.7h0M203.1 65.2h0M230.8 55.8h0M231.8 56.5h0M261.8 60.4h0M261.6 32.1h0M271.3 49.6h0M272.7 50.1h0M231.1 47.3h0M207.1 63.6h0M251.2 40.3h0M207.9 25.3h0M208.3 26.6h0M186.6 52.4h0M185.8 52.3h0M202.6 81.7h0M260.7 72.1h0M259.4 72.6h0M258.8 56.0h0M197.2 60.1h0M208.5 26.1h0M171.2 35.2h0M170.0 34.9h0M187.8 39.2h0M186.6 39.3h0M174.1 88.4h0M260.7 38.6h0M261.1 37.4h0M176.3 44.7h0M190.7 55.2h0M177.9 84.9h0M171.7 29.1h0M172.2 28.4h0M196.3 71.6h0M197.8 70.8h0M202.8 51.1h0M204.1 50.3h0M220.3 76.5h0M229.7 78.7h0M228.6 79.4h0M270.1 39.4h0M245.1 43.4h0M210.8 25.3h0M209.6 26.2h0M270.8 29.4h0M252.6 74.5h0M263.3 40.5h0M234.3 66.6h0M177.3 77.4h0M179.2 77.2h0M202.7 42.8h0M203.6 43.1h0M179.4 56.4h0M242.9 57.8h0M272.5 86.1h0M209.5 76.1h0M258.6 69.4h0M257.5 69.4h0M228.7 34.7h0M188.1 74.6h0M212.6 29.6h0M211.4 28.7h0M202.0 73.0h0M196.5 72.4h0M247.4 75.3h0M195.1 61.8h0M193.6 61.0h0M235.0 56.9h0M234.1 57.2h0M171.6 49.0h0M172.4 50.0h0M255.1 40.4h0M202.4 61.6h0M170.6 76.6h0M171.6 75.2h0M181.1 84.4h0M230.6 17.1h0M222.7 65.6h0M222.0 67.2h0M234.9 41.1h0M192.7 62.9h0M202.6 24.6h0M202.3 23.6h0M255.3 22.5h0M254.6 21.6h0M255.2 53.3h0M254.2 51.9h0M232.8 29.3h0M204.4 57.4h0M228.1 68.9h0M226.7 68.6h0M208.1 43.9h0M245.2 61.4h0M244.7 60.8h0M228.3 24.2h0M242.2 35.6h0M191.8 39.0h0M185.0 95.2h0M186.4 95.9h0M186.5 77.1h0M229.9 69.6h0M229.0 68.5h0M214.7 62.9h0M214.6 64.6h0M221.2 59.5h0M174.6 87.5h0M228.8 31.3h0M255.0 43.4h0M168.8 66.4h0M244.4 45.4h0M244.9 44.6h0M269.4 56.4h0M171.3 54.6h0M170.7 55.7h0M211.1 72.2h0M248.4 48.6h0M248.1 49.4h0M260.5 63.9h0M172.1 44.8h0M178.1 51.3h0M193.1 54.0h0M236.9 84.2h0M166.9 82.2h0M166.3 83.5h0M265.2 21.2h0M189.3 37.6h0M189.5 38.6h0M190.7 66.2h0M240.4 54.2h0M239.6 52.7h0M202.2 58.5h0M170.7 77.4h0M170.0 77.7h0M212.7 33.9h0M263.1 88.2h0M234.9 75.2h0M233.9 74.6h0M215.5 39.1h0M263.1 78.1h0M262.6 79.2h0M198.9 52.2h0M198.9 53.7h0M217.4 48.6h0M256.4 70.1h0M255.9 69.1h0M209.4 30.4h0M209.0 31.7h0M237.9 31.4h0M206.2 59.8h0M206.9 59.0h0M214.4 35.1h0M254.8 54.9h0M175.1 45.3h0M214.1 43.1h0M232.4 44.0h0M232.8 43.2h0M186.5 79.2h0M199.8 31.3h0M200.5 30.5h0M236.9 44.9h0M237.9 44.8h0M181.8 76.4h0M178.1 55.0h0M178.5 55.8h0M210.1 60.2h0M271.5 59.5h0M258.3 64.5h0M258.2 63.4h0M218.2 27.0h0M220.9 42.1h0M221.1 40.8h0M263.7 66.9h0M184.0 58.9h0M168.8 73.2h0M260.4 26.6h0M243.5 73.9h0M182.3 36.8h0M243.9 54.2h0M202.6 77.5h0M211.8 35.8h0M211.2 34.4h0M265.8 45.1h0M264.7 44.5h0M272.8 57.6h0M226.3 34.4h0M215.6 50.9h0M188.3 76.6h0M187.4 77.8h0M237.7 74.6h0M231.2 79.9h0M230.5 78.4h0M250.3 69.1h0M249.8 67.6h0M214.3 35.3h0M170.5 67.9h0M171.7 68.2h0M214.0 30.4h0M220.3 74.6h0M189.3 63.3h0M246.3 59.2h0M247.4 60.3h0M247.8 35.9h0M246.6 35.3h0M195.4 35.8h0M274.5 56.2h0M273.5 56.5h0M215.2 41.1h0M216.0 40.7h0M208.8 65.5h0M208.7 67.3h0M213.3 53.4h0M217.3 48.5h0M217.9 47.9h0M208.6 57.0h0M208.7 57.9h0M180.3 78.2h0M186.1 40.3h0M185.4 41.5h0M166.2 83.0h0M246.3 45.8h0M245.1 47.0h0M258.4 33.4h0M257.6 32.9h0M232.6 41.5h0M195.5 61.2h0M167.3 75.4h0M165.6 75.5h0M233.9 42.0h0M203.1 38.2h0M213.7 72.9h0M242.8 32.2h0M244.1 31.1h0M178.0 44.5h0M177.6 43.3h0M245.2 67.7h0M243.9 68.4h0M173.1 79.3h0M173.2 77.7h0M231.2 59.2h0M263.9 85.1h0M263.9 49.6h0M264.8 49.6h0M254.0 72.6h0M232.7 70.8h0M241.9 74.5h0M207.9 53.9h0M232.1 24.7h0M201.9 62.3h0M271.5 25.3h0M251.6 77.9h0M252.1 76.8h0M206.8 58.8h0M206.5 58.1h0M259.8 76.3h0M237.5 73.1h0M200.9 42.9h0M210.6 63.3h0M211.3 63.9h0M216.6 39.1h0M215.4 38.8h0M202.6 39.0h0M223.2 60.9h0" stroke="#3014ff" stroke-width="2.0"/>
<path d="M172.4 83.3h0M205.5 32.3h0M267.5 18.0h0M175.6 93.0h0M176.7 94.4h0M259.6 31.8h0M168.3 92.1h0M168.2 93.7h0M172.5 93.8h0M172.2 95.1h0M174.3 84.3h0M176.3 95.6h0M218.0 29.9h0M254.4 92.5h0M169.4 30.0h0M167.9 29.7h0M252.7 86.0h0M217.7 84.5h0M198.7 86.3h0M167.7 86.3h0M200.5 86.3h0M200.8 87.5h0M180.7 89.1h0M201.1 86.7h0M201.4 81.2h0M188.3 88.9h0M210.8 83.0h0M210.2 82.3h0M171.0 86.1h0M181.9 92.1h0M181.9 90.5h0M209.9 83.1h0M208.5 84.3h0M264.9 83.6h0M266.4 83.3h0M192.0 84.9h0M193.1 86.0h0M179.7 91.9h0M180.4 93.1h0M181.2 94.8h0M183.1 82.0h0M189.8 90.1h0M228.7 21.1h0M192.3 84.5h0M240.4 34.1h0M264.4 26.2h0M266.1 33.6h0M243.6 88.6h0M176.6 96.8h0M177.5 97.0h0M187.2 92.5h0M186.2 91.8h0M255.7 86.7h0M199.7 86.2h0M200.9 84.9h0M197.6 27.1h0M167.3 92.6h0M236.9 21.6h0M209.9 87.4h0M199.1 84.1h0M236.4 20.5h0M228.8 23.7h0M183.4 31.9h0M183.3 30.8h0M173.0 89.8h0M172.0 88.9h0M269.8 80.2h0M271.0 17.6h0M271.0 16.2h0M245.5 82.0h0M243.9 86.4h0M191.0 86.6h0M192.0 86.3h0M194.0 81.0h0M256.1 29.1h0M255.5 30.2h0M176.0 32.8h0M179.0 85.3h0M231.8 27.6h0M228.8 88.3h0M247.1 87.1h0M245.7 86.7h0M236.7 81.7h0M208.7 27.0h0M194.9 88.7h0M253.8 25.7h0M175.3 94.2h0M248.5 87.6h0M193.6 88.0h0M194.4 86.5h0M272.4 23.5h0M231.5 84.0h0M231.0 84.7h0M269.5 91.6h0M270.1 90.5h0M176.2 80.8h0M263.9 88.8h0M171.6 90.5h0M215.5 27.3h0M215.5 26.0h0M205.1 22.0h0M225.0 20.3h0M224.0 19.7h0M265.9 31.6h0M241.7 30.6h0M242.8 31.0h0M234.5 80.9h0M235.5 81.8h0M235.3 21.3h0M220.4 21.5h0M218.3 91.3h0" stroke="#2808ff" stroke-width="2.0"/>
<path d="M171.0 84.3h0M205.3 33.9h0M268.4 17.6h0M261.5 19.0h0M262.2 20.3h0M175.1 21.6h0M182.4 84.8h0M181.7 85.2h0M256.9 85.0h0M255.7 85.0h0M179.2 94.7h0M259.5 30.9h0M176.0 89.0h0M176.0 87.3h0M177.2 85.0h0M176.4 84.3h0M175.6 84.7h0M175.5 94.3h0M218.5 28.9h0M244.4 28.3h0M243.8 27.8h0M174.6 93.7h0M174.2 92.9h0M255.4 91.4h0M253.5 87.1h0M266.6 85.6h0M267.9 84.7h0M228.0 17.9h0M229.1 16.8h0M218.5 83.5h0M197.8 85.1h0M168.3 87.8h0M251.2 83.7h0M252.6 82.8h0M167.1 90.9h0M167.2 89.1h0M213.3 86.1h0M212.8 84.7h0M200.1 85.6h0M202.3 81.6h0M189.4 89.5h0M239.9 80.2h0M238.9 80.4h0M170.2 85.0h0M255.7 95.1h0M191.5 89.8h0M192.6 89.6h0M180.9 95.9h0M182.4 81.4h0M194.2 91.3h0M195.4 91.6h0M228.5 20.2h0M193.6 84.9h0M241.5 33.2h0M225.0 26.4h0M223.6 25.9h0M249.1 88.8h0M249.9 88.8h0M265.7 25.9h0M245.1 88.3h0M256.4 87.7h0M198.4 28.5h0M166.7 93.7h0M183.2 85.1h0M182.3 85.9h0M273.4 83.0h0M273.8 84.6h0M170.8 82.4h0M169.3 82.0h0M238.0 20.7h0M176.9 92.8h0M177.9 93.1h0M167.7 94.6h0M182.2 88.2h0M183.2 87.8h0M258.3 80.8h0M259.1 82.0h0M200.1 84.5h0M237.4 21.5h0M228.8 22.6h0M244.7 93.4h0M244.5 94.3h0M168.1 87.6h0M167.6 86.7h0M171.3 88.5h0M170.5 89.2h0M266.1 26.8h0M266.6 28.4h0M269.0 81.0h0M236.9 81.1h0M235.8 82.0h0M181.6 91.2h0M182.0 92.8h0M242.1 87.7h0M246.2 81.4h0M242.7 87.3h0M175.2 26.7h0M194.8 81.8h0M175.1 32.0h0M179.9 84.1h0M231.1 26.7h0M227.5 89.1h0M236.3 80.9h0M220.4 18.4h0M221.1 16.8h0M194.8 87.3h0M255.0 25.6h0M175.2 95.2h0M178.9 30.6h0M179.6 32.1h0M274.1 81.7h0M275.3 81.5h0M271.0 24.4h0M270.4 25.4h0M241.5 91.5h0M240.8 90.4h0M273.2 22.6h0M227.6 27.0h0M226.6 25.6h0M264.2 18.5h0M262.9 19.5h0M176.9 79.4h0M262.9 89.5h0M170.9 90.8h0M244.6 80.3h0M243.8 79.6h0M197.3 28.2h0M196.7 29.7h0M255.4 27.2h0M255.0 28.0h0M205.4 23.1h0M266.5 32.5h0M230.1 26.3h0M231.1 26.0h0M170.3 96.2h0M171.9 96.4h0M236.1 20.9h0M221.5 22.8h0M173.2 91.6h0M254.0 92.2h0M253.5 91.4h0M219.2 91.9h0" stroke="#2808ff" stroke-width="1.5"/>
<path d="M211.0 51.2h0M177.0 37.3h0M256.2 35.2h0M213.2 50.4h0M199.3 29.1h0M202.7 59.2h0M215.4 17.4h0M172.9 45.4h0M241.1 31.9h0M254.3 75.4h0M246.2 31.6h0M172.0 56.0h0M188.3 72.1h0M186.6 35.5h0M267.4 36.2h0M197.5 40.7h0M191.2 65.7h0M166.8 69.5h0M195.4 76.1h0M227.6 47.4h0M168.2 41.9h0M255.6 51.5h0M171.9 79.9h0M187.6 33.5h0M172.0 78.1h0M217.2 43.4h0M212.7 76.3h0M249.7 51.7h0M220.5 19.3h0M215.4 74.8h0M172.0 72.5h0M205.3 26.0h0M247.3 26.9h0M244.5 45.2h0M169.2 44.3h0M246.5 67.6h0M206.5 53.9h0M247.3 59.1h0M207.3 45.3h0M205.9 83.1h0M189.6 79.5h0M258.8 83.4h0M235.1 66.9h0M223.5 73.7h0M182.5 54.5h0M168.1 69.8h0M198.3 35.7h0M238.9 75.1h0M237.3 64.5h0M241.5 48.7h0M240.4 82.5h0M260.0 62.0h0M201.2 44.7h0M202.8 58.3h0M260.7 51.9h0M250.6 65.0h0M268.4 43.9h0M192.2 67.0h0M197.4 34.3h0M171.5 90.9h0M254.3 63.4h0M184.7 64.5h0M186.1 63.4h0M273.5 63.2h0M265.2 44.5h0M238.5 74.9h0M193.6 84.9h0M217.5 46.6h0M190.4 45.8h0M210.1 59.4h0M167.7 74.6h0M235.8 61.7h0M218.9 76.1h0M241.3 64.1h0M225.3 72.7h0M228.0 63.5h0M264.1 77.3h0M264.5 79.0h0M167.5 66.2h0M209.1 81.1h0M170.1 38.1h0M228.7 66.4h0M183.6 37.8h0M238.1 46.1h0M181.0 41.6h0M264.8 19.4h0M221.8 71.5h0M197.0 82.3h0M246.2 35.2h0M224.1 41.0h0M233.3 21.9h0M218.9 69.1h0M202.8 56.7h0M230.6 59.6h0M183.8 70.4h0M185.8 73.2h0M168.1 43.1h0M230.1 28.7h0M222.5 40.3h0M256.6 34.1h0M230.9 46.0h0M202.5 80.9h0M177.3 43.3h0M220.7 77.4h0M272.1 30.2h0M211.3 62.3h0M181.2 80.4h0M184.6 74.5h0M174.0 88.9h0M264.9 20.0h0M257.0 80.8h0M257.0 81.8h0M203.9 40.2h0M183.3 75.6h0M217.3 47.1h0M260.7 36.4h0M211.1 59.2h0M267.9 42.4h0M201.5 77.9h0M216.4 52.4h0M219.7 76.3h0M213.5 54.7h0M202.0 63.7h0" stroke="#3014ff" stroke-width="2.5"/>
<path d="M174.6 20.3h0M174.9 27.0h0M174.2 26.4h0M179.8 93.4h0M179.5 89.5h0M254.8 94.1h0M190.4 89.1h0M266.5 32.8h0M166.9 94.1h0M210.5 86.7h0M241.4 88.2h0M174.2 26.1h0M208.0 28.3h0M247.0 88.0h0M172.2 91.2h0" stroke="#2808ff" stroke-width="2.5"/>
<path d="M187.0 90.6h0M186.7 89.1h0M239.7 89.3h0M238.3 89.7h0M269.0 89.5h0M268.2 89.2h0M168.5 92.7h0M241.3 88.0h0M243.4 95.4h0M262.1 91.0h0M260.8 89.9h0M175.5 93.3h0M187.3 86.9h0M188.0 86.4h0M264.1 90.5h0M167.0 95.7h0M269.9 90.7h0" stroke="#2200e8" stroke-width="1.5"/>
<path d="M169.4 93.0h0M242.5 88.2h0M243.7 94.7h0M174.5 92.3h0M259.0 95.3h0M260.1 93.9h0M176.5 92.2h0M262.5 90.9h0M167.0 94.7h0M270.9 91.5h0" stroke="#2200e8" stroke-width="2.0"/>
<path d="M177.8 91.8h0" stroke="#2200e8" stroke-width="2.5"/>
<path d="M183.1 75.0h0M173.5 73.2h0M183.0 55.0h0" stroke="#c83098" stroke-width="1.5"/>
<path d="M242.6 75.2h0M239.5 34.7h0M214.2 17.3h0M174.9 30.8h0M239.2 23.2h0M173.9 96.5h0M224.2 95.0h0M204.1 49.1h0M233.0 42.9h0M207.5 50.7h0M199.8 72.7h0M221.3 96.8h0M205.2 31.2h0M177.4 57.7h0" stroke="#e83cb4" stroke-width="2.0"/>
<path d="M195.2 67.9h0M211.0 24.3h0M205.2 93.2h0M203.0 49.8h0M241.8 27.8h0M238.0 58.0h0M226.8 60.1h0M273.5 81.7h0M225.3 23.9h0M181.2 72.1h0M228.7 49.4h0M210.5 75.7h0M193.1 63.3h0M184.5 76.4h0M266.5 57.3h0M236.5 46.0h0M267.0 38.2h0" stroke="#d83cc0" stroke-width="2.0"/>
<path d="M190.6 74.7h0M253.0 66.5h0M243.2 24.8h0M268.6 48.6h0" stroke="#c83098" stroke-width="2.5"/>
<path d="M200.6 77.2h0M171.2 63.1h0M265.5 41.9h0M240.6 70.7h0M216.1 94.8h0M172.8 88.8h0M169.7 27.2h0M248.0 46.5h0M182.9 18.6h0M249.0 34.3h0M216.7 72.1h0M197.8 67.0h0M182.4 68.1h0" stroke="#ff4cc0" stroke-width="2.0"/>
<path d="M210.5 71.3h0M231.6 87.7h0M251.5 88.1h0M213.4 26.9h0M225.8 68.2h0M209.4 70.2h0M226.7 45.0h0M219.6 70.5h0M185.3 53.3h0M222.3 69.1h0M213.5 69.3h0M257.2 33.4h0M251.1 50.3h0M244.3 53.0h0M229.2 20.1h0M205.6 40.3h0M252.3 56.8h0M180.6 33.1h0" stroke="#c83098" stroke-width="2.0"/>
<path d="M202.5 48.7h0M262.6 38.8h0M178.1 87.9h0M166.2 79.2h0M221.2 30.1h0M173.2 42.2h0" stroke="#ff4cc0" stroke-width="1.5"/>
<path d="M229.9 57.5h0M182.2 43.1h0M265.7 61.3h0M221.2 76.5h0M210.4 71.4h0M219.8 23.0h0M211.8 66.5h0" stroke="#d83cc0" stroke-width="1.5"/>
<path d="M260.9 65.4h0M270.5 32.1h0M256.8 89.0h0M218.9 69.2h0" stroke="#e83cb4" stroke-width="1.5"/>
<path d="M259.8 36.6h0M241.5 55.9h0M233.5 31.7h0M171.4 88.8h0" stroke="#ff4cc0" stroke-width="2.5"/>
<path d="M270.4 69.1h0M211.0 27.7h0M240.6 49.2h0M233.9 71.4h0" stroke="#e83cb4" stroke-width="2.5"/>
<path d="M258.5 17.2h0M250.9 82.7h0M262.9 56.7h0" stroke="#d83cc0" stroke-width="2.5"/>
</g></g>
<clipPath id="c3"><rect x="53" y="100" width="109" height="82"/></clipPath>
<rect x="53" y="100" width="109" height="82" fill="#000"/>
<g clip-path="url(#c3)"><g filter="url(#bl)" stroke-linecap="round" fill="none">
<path d="M145.6 115.2h0M100.0 168.7h0M104.7 154.9h0M86.1 131.8h0M150.3 144.7h0M62.7 109.3h0M101.8 134.6h0M54.2 177.6h0M101.2 124.2h0M81.6 115.0h0M81.2 124.0h0M138.6 117.2h0M145.5 112.3h0M58.3 172.6h0M127.2 114.7h0M58.9 169.6h0M158.1 136.3h0M77.0 142.3h0M88.8 162.5h0M154.8 103.0h0M144.7 168.9h0M64.7 171.0h0M147.3 167.0h0M140.7 125.7h0M158.2 103.9h0M100.4 162.8h0M89.0 155.6h0M55.3 164.2h0M88.5 166.0h0M131.5 170.2h0M127.7 145.2h0M107.4 126.8h0M70.5 111.1h0M66.0 172.7h0M155.7 123.3h0M69.6 111.4h0M80.9 172.6h0M111.9 179.7h0M157.7 128.5h0M124.6 154.3h0M76.4 105.6h0M64.1 109.6h0M73.9 148.3h0M111.3 106.4h0M92.6 132.1h0M67.8 169.6h0M62.6 116.3h0M98.7 154.7h0M120.4 118.1h0M120.6 140.2h0M102.1 135.7h0M68.8 154.9h0M65.1 106.8h0M82.3 145.2h0M106.2 155.8h0M95.4 116.4h0M121.5 146.0h0M114.4 117.3h0M147.5 176.7h0M87.0 122.4h0M120.1 116.9h0M125.6 111.7h0M97.4 167.4h0M86.1 148.4h0M95.8 142.2h0M145.1 172.2h0M88.6 130.6h0M54.8 103.4h0M160.8 118.4h0M96.4 159.3h0M81.0 143.5h0M76.9 124.0h0M122.8 121.4h0M76.7 122.6h0M145.2 167.9h0M133.5 125.9h0M145.4 153.9h0M55.9 116.7h0M133.4 106.7h0M112.1 167.5h0M154.4 174.5h0M148.6 163.0h0M62.1 146.7h0M159.1 111.6h0M139.4 124.9h0M102.0 165.9h0M136.7 130.2h0M135.3 124.7h0M81.7 171.7h0M131.5 154.9h0M131.4 165.6h0M74.6 141.9h0M137.1 145.8h0M73.3 134.9h0M92.4 177.8h0M80.6 143.6h0M70.0 173.5h0M155.0 178.6h0M58.8 181.1h0M135.6 159.3h0M134.0 108.6h0M110.4 104.8h0M68.0 179.1h0M116.8 132.1h0M108.9 130.7h0M123.2 128.2h0M81.0 161.7h0M148.8 139.3h0M104.6 135.2h0M127.3 124.6h0M103.2 103.1h0M80.6 150.8h0M126.2 176.0h0M112.5 173.7h0M111.7 125.9h0M124.4 178.1h0M82.5 177.0h0M70.2 135.7h0M148.8 168.8h0M120.4 137.1h0M107.8 118.0h0M136.9 117.0h0M130.5 125.1h0M68.5 171.5h0M152.0 159.9h0M94.9 131.5h0M107.3 181.5h0M114.1 176.1h0M80.2 125.8h0M60.2 147.9h0M77.4 177.4h0M123.6 173.8h0M144.0 101.6h0M104.5 104.0h0M95.4 176.7h0M56.0 138.2h0M143.4 142.1h0M103.2 145.5h0M107.0 163.2h0M110.7 140.8h0M149.2 181.8h0M112.5 120.6h0M74.0 169.9h0M116.6 115.8h0M91.0 122.1h0M161.0 122.9h0M92.0 125.9h0M120.7 111.4h0M54.5 150.3h0M149.3 148.0h0M66.9 110.4h0M79.9 130.6h0M145.8 160.5h0M85.9 170.8h0M136.8 103.2h0M99.7 141.7h0M83.4 145.2h0M115.1 144.8h0M82.5 104.9h0M98.9 136.7h0M59.2 179.0h0M134.4 111.0h0M86.1 160.8h0M117.5 146.8h0M104.7 157.5h0M93.6 113.7h0M72.4 135.8h0M114.1 123.2h0M129.5 120.8h0M114.1 130.2h0M71.7 127.9h0M97.7 165.9h0M103.3 181.5h0M134.8 130.9h0M115.1 145.4h0M126.9 104.5h0M59.7 118.6h0" stroke="#2808ff" stroke-width="1.0"/>
<path d="M133.0 110.7h0M135.3 146.3h0M113.4 161.4h0M72.3 116.6h0M119.0 132.5h0M92.2 159.7h0M113.6 144.6h0M66.2 124.7h0M81.2 148.2h0M75.2 128.8h0M135.6 149.2h0M105.4 145.5h0M57.7 143.9h0M147.6 112.3h0M102.1 100.3h0M111.5 115.9h0M81.1 139.9h0M90.1 118.1h0M131.6 154.7h0M94.5 166.8h0M127.5 130.8h0M101.8 133.7h0M72.0 157.9h0M76.9 125.0h0M129.8 147.2h0M120.5 130.9h0M113.8 145.5h0M103.0 169.6h0M114.5 134.7h0M139.5 159.1h0M80.1 138.3h0M130.5 146.9h0M71.5 150.7h0M115.5 106.1h0M127.5 135.0h0M158.1 138.3h0M98.1 114.6h0M91.5 168.1h0M141.6 170.6h0M145.4 132.5h0M114.7 170.7h0M157.8 179.2h0M110.5 134.0h0M153.6 145.3h0M95.2 153.3h0M61.3 134.8h0M80.3 176.4h0M109.5 114.3h0M108.7 177.7h0M116.4 161.0h0M145.1 181.3h0M126.4 170.5h0M58.0 118.0h0M101.3 154.4h0M108.7 154.5h0M57.8 178.6h0M83.2 102.4h0M161.5 180.6h0M72.4 141.2h0M76.6 145.4h0M82.7 147.3h0M75.8 141.5h0M75.8 161.0h0M155.2 111.9h0M83.1 143.6h0M127.4 112.8h0M149.4 181.8h0M141.7 101.2h0M92.2 171.0h0M70.4 130.2h0M76.0 120.9h0M155.3 123.5h0M66.1 134.9h0M143.4 151.1h0M160.5 139.8h0M79.3 126.9h0M96.8 154.6h0M71.8 159.2h0M124.3 157.2h0M132.7 161.8h0M102.0 170.4h0M142.6 109.2h0M138.2 124.8h0M86.5 129.1h0M98.8 172.4h0M64.4 156.9h0M92.1 130.5h0M66.2 175.3h0M70.6 138.9h0M70.4 112.5h0M74.5 172.5h0M101.0 123.3h0M109.3 112.2h0M100.7 109.9h0M75.9 155.2h0M73.0 102.8h0M117.8 120.7h0M133.6 123.9h0M85.3 153.4h0M59.0 167.2h0M134.6 159.8h0M91.4 148.5h0M150.6 173.7h0M152.1 111.0h0M147.6 170.0h0M54.5 149.0h0M112.4 173.9h0M98.9 131.7h0M94.2 101.6h0M82.7 152.4h0M146.0 100.1h0M94.6 123.9h0M134.6 170.6h0M126.2 119.4h0M151.7 151.4h0M96.8 109.7h0M109.8 177.4h0M153.8 179.6h0M135.3 107.3h0M129.6 134.4h0M92.1 156.8h0M72.8 108.6h0M138.4 160.5h0M95.7 162.6h0M134.6 102.9h0M75.1 141.8h0M83.6 150.6h0M61.8 135.7h0M101.9 153.9h0M53.4 132.6h0M161.4 127.5h0M135.3 172.3h0M70.8 124.5h0M131.9 162.3h0M59.4 176.4h0M103.8 174.3h0M92.2 114.0h0M150.9 123.7h0M53.9 109.2h0M57.9 153.1h0M152.0 155.0h0M88.2 115.4h0M152.4 156.5h0M113.3 144.2h0M136.7 116.9h0M104.6 130.2h0M126.5 110.7h0M98.6 166.8h0M98.5 153.0h0M147.7 131.8h0M140.6 160.1h0M147.2 169.4h0M62.0 131.0h0M132.0 161.5h0M106.2 130.2h0M160.7 100.0h0M134.5 114.7h0M118.5 107.9h0M136.0 148.9h0M59.7 159.7h0M125.4 143.3h0M120.4 169.3h0M82.9 173.1h0M129.4 130.3h0M161.2 109.4h0M103.2 143.7h0M67.4 124.7h0M145.0 175.6h0M101.6 132.9h0M91.7 164.5h0M150.3 177.8h0M126.6 114.7h0M124.6 134.5h0M136.3 172.2h0M158.7 180.2h0M56.3 137.9h0M121.4 124.7h0M57.2 169.3h0M80.6 104.5h0M80.5 109.6h0M85.6 145.1h0M136.7 165.7h0M137.7 115.9h0M69.4 123.9h0M118.8 118.0h0M61.0 178.3h0M87.3 144.4h0M62.5 138.7h0M148.0 131.2h0M152.4 112.7h0M94.7 149.4h0M110.2 143.7h0M87.1 112.9h0M124.4 118.7h0M75.7 151.8h0M112.3 177.6h0M61.5 174.3h0M83.2 158.8h0M150.7 170.5h0M103.7 181.7h0M101.5 150.1h0M82.2 154.4h0M53.5 137.1h0M142.0 155.4h0M97.4 179.7h0M129.9 102.5h0M109.9 100.3h0M74.9 148.5h0M76.3 101.2h0M135.0 173.8h0M53.4 156.4h0M54.0 161.3h0M128.8 155.9h0M54.7 152.0h0M142.3 152.4h0M107.0 102.7h0M125.9 141.6h0M93.7 167.9h0M146.6 148.8h0M130.3 125.3h0M59.0 155.8h0M115.1 137.2h0M141.9 117.9h0M83.0 154.0h0M77.4 173.5h0M132.2 166.6h0M156.3 137.2h0M61.2 176.9h0M127.8 153.1h0M96.0 154.3h0M102.5 154.8h0M88.0 145.5h0M120.4 106.5h0M140.6 171.8h0M78.6 136.9h0M125.0 175.6h0M156.4 101.1h0M142.4 148.9h0M110.9 125.3h0M84.8 131.0h0M139.3 103.2h0M107.2 115.5h0M124.7 100.8h0M79.6 133.3h0M101.0 117.2h0M147.2 138.3h0M77.3 158.9h0M84.2 161.2h0M124.8 104.6h0M127.7 125.1h0M103.5 146.0h0M121.6 145.5h0M74.0 104.0h0M111.6 162.8h0M149.7 165.8h0M156.4 139.9h0M106.4 173.9h0M71.4 103.2h0M116.8 101.5h0M119.6 121.8h0M157.0 145.4h0M91.5 134.7h0M108.1 146.8h0M113.0 117.6h0M119.0 169.4h0M116.8 118.4h0M89.7 122.7h0M127.2 158.4h0M150.1 124.2h0M151.8 134.4h0M78.2 160.0h0M129.7 152.6h0M135.4 107.5h0M107.1 144.6h0M117.1 123.9h0M116.6 167.4h0M123.6 141.6h0M151.4 163.4h0M83.7 153.8h0M153.9 116.0h0M157.6 114.6h0M113.6 163.6h0M89.9 177.8h0M85.5 172.0h0M69.7 169.7h0M155.0 118.2h0M126.2 141.0h0M69.7 115.7h0M121.1 169.0h0M89.9 105.6h0M92.4 148.1h0M65.3 124.3h0M132.8 180.7h0M64.9 174.7h0M123.7 125.1h0M130.9 172.9h0M159.2 162.7h0M53.3 164.6h0M127.6 156.9h0M142.6 177.3h0M115.9 140.3h0M87.5 153.9h0M149.5 102.1h0M77.3 134.6h0M87.0 111.0h0M91.4 166.2h0M154.9 151.1h0M127.8 176.9h0M75.9 119.0h0M83.1 144.1h0M109.5 117.1h0M102.4 132.8h0M127.4 115.0h0M101.8 129.0h0M57.6 116.4h0M141.6 170.4h0M140.7 123.0h0M66.8 143.5h0M69.5 169.9h0M70.1 129.0h0M97.4 131.2h0M96.6 132.6h0M72.3 163.5h0M82.0 181.4h0M134.8 120.5h0M81.6 133.7h0M131.6 137.1h0M152.0 111.2h0M147.2 173.9h0M151.9 138.4h0M161.9 129.3h0M56.1 166.0h0M149.8 114.3h0M151.1 160.8h0M143.4 165.3h0M110.2 105.5h0M60.1 145.9h0M60.9 181.9h0M64.9 135.4h0M100.3 180.2h0M146.0 168.6h0M68.1 179.6h0M156.6 117.0h0M75.6 106.8h0M64.2 175.8h0M160.1 146.8h0M88.4 173.2h0M145.4 142.5h0M120.9 146.0h0M146.4 150.5h0M127.4 144.1h0M56.5 162.3h0M88.8 118.6h0M92.9 136.0h0M134.3 155.8h0M58.8 103.9h0M80.8 157.1h0M79.8 106.3h0M86.9 112.6h0M76.1 174.4h0M151.6 134.4h0M138.5 126.8h0M53.3 151.1h0M133.6 146.5h0M78.5 135.8h0M134.5 179.4h0M138.5 133.5h0M118.5 120.3h0M113.7 106.8h0M128.5 135.8h0M62.3 112.8h0M125.3 169.9h0M95.5 156.6h0M73.6 171.4h0M154.4 155.7h0M136.1 153.6h0M70.3 180.7h0M119.9 152.1h0M100.7 136.7h0M140.2 170.3h0M112.6 137.2h0M82.6 179.1h0M127.9 153.0h0M84.7 162.3h0M60.3 131.4h0M71.4 158.6h0M137.6 162.2h0M118.2 114.0h0M78.2 148.7h0M108.7 101.4h0M108.4 119.4h0M103.4 104.1h0M151.3 172.2h0M105.7 103.3h0M136.8 120.7h0M115.1 112.6h0M122.9 108.3h0M94.9 180.2h0M71.9 161.2h0M100.5 119.1h0M109.1 134.7h0M104.2 132.7h0M139.6 106.1h0M70.2 178.3h0M88.9 149.3h0M158.0 115.7h0M122.1 116.9h0M123.9 137.3h0M129.1 137.6h0M120.8 137.3h0M159.3 119.8h0M141.3 123.3h0M72.7 140.4h0M136.0 114.1h0M64.0 141.6h0M107.5 118.1h0M66.4 151.7h0M90.8 146.7h0M155.4 141.6h0M118.4 142.1h0M161.9 117.7h0M137.1 149.5h0M78.3 110.1h0M69.0 109.4h0M63.4 176.5h0M89.1 127.1h0M79.9 111.8h0M65.3 137.2h0M96.1 151.8h0M116.4 171.0h0M103.3 139.7h0M97.9 121.9h0M130.3 181.4h0M160.1 174.4h0M97.1 180.5h0M71.7 120.8h0M108.3 163.7h0M153.2 100.7h0M68.5 144.6h0M75.4 100.4h0M111.3 169.5h0M121.7 139.1h0M94.5 129.1h0M158.1 101.0h0M160.6 125.5h0M61.0 130.8h0M159.3 141.3h0M129.7 175.5h0M76.6 175.2h0M86.4 136.4h0M79.7 146.3h0M139.1 160.6h0M65.4 134.7h0M124.1 176.1h0M66.2 167.0h0M146.4 139.3h0M66.6 149.6h0M62.7 171.3h0M121.9 134.3h0M65.9 169.3h0M154.2 155.0h0M86.9 144.5h0M94.8 174.1h0M114.6 162.8h0M146.8 108.1h0M112.6 157.6h0M90.6 167.3h0M69.4 133.4h0M92.6 163.8h0M62.1 180.1h0M91.8 142.7h0M115.0 135.2h0M56.6 177.5h0M84.0 103.3h0M129.8 108.9h0M101.2 104.4h0M119.2 126.7h0M94.0 155.5h0M70.0 150.2h0M151.3 169.8h0M149.8 111.5h0M104.1 157.2h0M138.0 118.6h0M124.6 180.1h0M85.1 106.0h0M153.2 123.5h0M106.7 110.4h0M81.1 117.7h0M116.3 124.1h0M137.9 111.0h0M160.6 161.0h0M158.7 143.7h0M72.6 175.3h0M102.8 131.4h0M126.1 104.7h0M149.1 143.1h0M157.0 173.2h0M128.7 171.8h0M121.4 152.0h0M140.2 166.2h0M55.5 130.3h0M109.8 113.5h0M153.4 126.6h0M92.3 165.4h0M96.0 101.9h0M160.9 159.1h0M60.4 127.9h0M140.2 102.4h0M87.4 170.4h0M55.3 143.3h0M128.0 116.4h0M67.0 130.3h0M157.7 117.0h0M131.0 161.5h0M161.9 162.9h0M64.0 150.3h0M126.4 142.0h0M118.5 149.3h0M54.8 134.7h0M83.1 177.2h0M77.3 102.7h0M133.6 179.5h0M79.9 169.7h0M81.2 153.2h0M151.2 160.5h0M115.3 122.0h0M69.6 145.4h0M105.8 112.6h0M154.1 117.8h0M109.0 150.0h0M131.6 141.0h0M135.7 154.9h0M123.6 102.1h0M109.9 175.9h0M63.5 133.6h0M149.6 180.9h0M54.6 160.9h0M81.0 103.0h0M122.1 178.8h0M77.5 170.9h0M74.8 151.5h0M137.2 173.7h0M83.2 173.1h0M141.0 113.1h0M160.5 181.1h0M56.6 173.2h0M158.9 134.4h0M107.4 131.1h0M124.8 127.4h0M114.7 140.6h0M72.2 128.2h0M76.7 176.9h0M55.9 132.6h0M107.6 142.1h0M93.1 177.2h0M112.4 169.2h0M130.1 115.6h0M85.1 172.9h0M154.8 180.9h0M149.9 138.6h0" stroke="#2808ff" stroke-width="1.5"/>
<path d="M156.5 165.1h0M53.6 127.4h0M67.9 170.8h0M125.7 176.7h0M55.4 170.7h0M83.7 147.5h0M89.2 129.8h0M131.9 150.2h0M75.0 159.9h0M146.5 171.7h0M94.9 103.8h0M109.1 116.9h0M123.8 170.9h0M116.2 134.0h0M90.2 143.2h0M75.1 175.4h0M63.4 145.2h0M159.0 165.0h0M105.3 143.9h0M126.6 105.9h0M154.5 160.1h0M113.3 122.1h0M136.8 138.7h0M106.2 111.8h0M57.3 164.3h0M119.7 132.2h0M113.5 136.4h0M141.9 139.1h0M78.3 104.6h0M147.3 143.3h0M97.2 134.1h0M94.4 117.1h0M136.4 138.8h0M125.0 141.9h0M84.0 171.8h0M156.7 109.0h0M58.6 176.9h0M89.8 168.8h0M143.5 161.3h0M96.7 137.3h0M126.0 101.2h0M99.6 103.2h0M98.9 117.9h0M56.6 142.7h0M104.8 165.4h0M131.3 163.8h0M124.2 137.2h0M113.0 135.9h0M147.1 161.0h0M82.7 101.8h0M67.3 168.7h0M79.9 150.7h0M59.6 120.0h0M149.8 127.4h0M155.7 107.4h0M78.6 179.4h0M77.0 104.3h0M82.0 104.2h0M115.3 147.9h0M61.4 125.1h0M96.7 129.1h0M161.0 151.0h0M149.3 107.9h0M108.6 139.2h0M109.1 166.6h0M131.9 146.4h0M137.6 160.7h0M74.3 122.2h0M62.6 167.6h0M124.4 173.7h0M83.3 174.8h0M145.9 139.4h0M159.8 141.6h0M62.7 166.4h0M141.1 123.7h0M97.1 166.0h0M135.7 137.6h0M152.4 129.3h0M146.4 106.5h0M86.7 102.2h0M65.3 146.9h0M67.8 159.8h0M130.0 129.1h0M114.1 173.8h0M63.2 165.0h0M89.9 121.4h0M125.1 142.1h0M149.2 134.5h0M152.6 113.1h0M72.9 141.6h0M88.2 157.3h0M106.2 140.1h0M79.1 119.1h0M151.3 163.1h0M145.2 138.2h0M151.9 122.7h0M53.7 171.4h0M89.8 117.2h0M96.6 116.5h0M94.6 175.7h0M115.3 118.1h0M56.3 118.5h0M157.9 152.2h0M121.9 179.9h0M96.7 129.9h0M101.6 151.4h0M149.6 132.3h0M128.9 181.6h0M122.6 169.5h0M110.1 108.6h0M140.0 175.1h0M134.5 137.8h0M108.5 123.6h0M117.8 129.1h0M118.6 157.7h0M159.9 126.7h0M153.1 118.7h0M111.9 104.5h0M72.8 112.5h0M57.2 144.4h0M143.0 101.6h0M101.0 111.4h0M66.9 174.4h0M125.8 149.4h0M127.0 121.7h0M116.0 179.8h0M80.7 156.7h0M118.0 175.8h0M158.3 122.4h0M98.8 108.0h0M76.1 179.3h0M94.8 118.1h0M160.7 138.6h0M113.3 153.4h0M102.6 137.9h0M117.7 137.8h0M154.2 154.2h0M74.2 177.4h0M137.0 162.4h0M161.1 137.6h0M133.8 181.6h0M130.0 116.1h0M149.3 155.9h0M121.9 117.2h0M135.9 128.4h0M133.8 163.6h0M110.3 173.4h0M84.2 158.3h0M80.6 139.5h0M66.6 117.5h0M69.3 146.0h0M58.6 147.0h0M126.7 159.0h0M110.6 177.1h0M109.4 174.6h0M112.1 113.3h0M133.7 103.4h0M97.5 144.6h0M54.5 116.6h0M72.7 101.8h0M68.1 114.5h0M161.0 156.9h0M85.5 168.0h0" stroke="#2808ff" stroke-width="2.0"/>
<path d="M78.7 115.9h0M127.6 109.2h0M85.5 107.1h0M139.9 169.9h0M131.0 108.0h0M143.5 169.0h0M60.2 160.0h0M75.5 127.4h0M96.5 115.6h0M81.3 114.5h0M149.4 142.8h0M88.6 106.3h0M101.7 109.0h0M69.3 153.0h0M143.2 109.3h0M68.1 116.7h0M116.4 147.6h0M77.4 137.4h0M116.3 168.1h0M128.5 103.1h0M88.4 104.6h0M136.8 159.4h0M155.3 113.8h0M71.2 162.2h0M73.3 158.4h0M81.6 103.1h0M148.9 139.5h0M160.2 149.4h0M92.0 112.0h0M137.7 174.2h0M54.9 181.3h0M114.4 115.4h0M86.3 125.8h0M73.2 169.2h0M59.1 125.4h0M118.5 119.1h0M142.9 110.7h0M113.1 126.2h0M74.9 112.3h0M107.7 168.5h0M76.9 117.8h0M99.4 132.9h0M70.3 154.8h0M113.9 120.5h0M150.2 176.0h0M159.2 161.0h0M79.4 118.7h0M62.0 119.9h0M105.1 145.9h0M62.3 105.8h0M156.5 144.5h0M154.7 175.9h0M83.8 142.3h0M58.2 113.9h0M110.8 177.1h0M81.4 182.0h0M118.6 178.7h0M146.6 162.6h0M97.1 132.9h0M144.6 161.8h0M102.0 144.0h0M104.3 179.2h0M70.7 133.0h0M54.2 146.9h0M81.3 128.9h0M147.1 114.4h0M95.9 165.1h0M57.4 160.1h0M114.6 169.7h0M90.5 140.6h0M130.8 164.2h0M64.9 169.6h0M157.2 176.8h0M126.0 138.1h0M93.1 174.0h0M72.6 116.3h0M84.9 163.2h0M68.8 140.6h0M133.6 168.6h0M159.9 110.0h0M147.0 155.0h0M158.2 155.9h0M63.6 143.5h0M147.8 132.4h0M145.9 126.9h0M124.2 161.9h0M135.1 174.0h0M95.3 138.5h0M161.3 122.7h0M64.6 128.3h0M100.8 163.9h0M101.0 174.3h0M56.3 129.0h0M118.4 106.6h0M105.9 169.7h0M63.3 100.2h0M109.2 146.8h0M118.4 181.3h0M104.2 166.5h0M102.6 126.1h0M107.5 156.9h0M126.8 147.3h0M148.1 107.3h0M132.1 117.3h0M140.9 128.0h0M153.0 127.1h0M94.9 153.9h0M86.7 112.5h0M99.9 163.9h0M86.3 174.1h0M65.9 172.9h0M153.4 121.1h0M98.4 144.7h0M122.1 156.6h0M59.7 126.4h0M85.6 158.6h0M77.0 128.2h0M88.8 137.9h0M155.3 123.3h0M61.4 100.2h0M81.8 135.6h0M78.9 121.2h0M107.6 181.6h0M96.0 164.9h0M129.6 118.9h0M151.7 124.4h0M142.8 148.4h0M56.3 134.2h0M79.4 181.0h0M58.1 143.0h0M118.9 161.6h0M156.1 134.1h0M101.7 107.6h0M88.6 151.3h0M120.8 160.2h0M91.5 133.4h0M152.4 132.8h0M86.2 152.6h0M161.0 170.0h0M112.8 141.7h0M83.1 180.4h0M92.4 177.3h0M142.1 121.3h0M55.0 181.1h0M90.7 154.8h0M68.9 149.3h0M93.9 161.7h0M133.2 106.2h0M71.4 126.9h0M69.8 181.6h0M105.1 128.8h0M105.7 124.2h0M102.1 105.2h0M78.4 117.9h0M160.7 156.2h0M149.4 141.2h0M79.7 131.0h0M156.2 169.2h0M94.2 149.9h0M86.5 126.5h0M81.2 166.8h0M58.2 114.0h0M131.5 180.3h0" stroke="#3014ff" stroke-width="1.0"/>
<path d="M154.7 103.5h0M131.8 117.4h0M152.2 160.5h0M150.8 109.5h0M162.0 166.3h0M136.0 139.7h0M72.5 108.4h0M76.4 161.1h0M132.2 148.9h0M76.5 112.0h0M75.6 176.5h0M99.8 123.6h0M107.4 173.7h0M114.9 104.7h0M108.8 141.7h0M128.8 178.8h0M126.8 181.6h0M72.1 111.5h0M134.9 108.8h0M103.6 117.8h0M116.2 134.6h0M64.9 129.9h0M104.0 158.6h0M141.5 134.2h0M158.2 130.7h0M54.8 134.0h0M61.7 134.7h0M108.1 124.2h0M101.7 156.7h0M122.1 151.0h0M80.8 106.9h0M152.2 108.1h0M97.2 117.9h0M161.5 127.8h0M143.6 156.6h0M87.3 114.5h0M148.2 132.2h0M150.0 117.6h0M122.7 129.6h0M105.5 157.9h0M83.9 112.3h0M68.7 166.4h0M153.1 114.3h0M142.6 139.0h0M116.7 125.9h0M127.2 137.7h0M62.0 117.1h0M150.3 130.6h0M69.7 157.1h0M59.6 168.8h0M58.7 133.2h0M113.8 117.0h0M108.8 155.0h0M157.6 136.4h0M148.7 167.3h0M76.1 161.1h0M156.1 124.2h0M124.8 104.2h0M131.1 108.3h0M143.9 105.7h0M114.8 174.6h0M127.9 165.9h0M70.8 150.1h0M110.6 169.4h0M100.7 155.5h0M114.3 149.3h0M103.0 128.4h0M107.5 174.1h0M69.6 166.1h0M66.8 157.4h0M101.2 118.7h0M62.0 129.1h0M151.6 137.3h0M85.8 139.8h0M100.5 132.3h0M65.2 152.5h0M115.1 121.2h0M77.2 138.2h0M109.1 103.0h0M84.4 164.1h0M125.1 106.1h0M128.9 132.3h0M151.3 101.2h0M149.6 139.1h0M86.4 153.9h0M79.2 145.6h0M74.6 150.4h0M116.8 162.8h0M125.3 178.9h0M149.7 107.0h0M87.2 170.1h0M140.5 169.7h0M105.8 141.3h0M97.8 101.6h0M92.2 179.8h0M60.2 158.4h0M73.3 141.3h0M143.4 126.8h0M59.1 138.6h0M125.6 120.9h0M110.7 111.7h0M154.9 112.9h0M146.1 178.5h0M140.4 104.2h0M112.3 168.3h0M94.9 157.8h0M89.6 170.9h0M102.0 144.3h0M91.7 123.2h0M63.6 152.4h0M150.5 102.5h0M145.0 147.3h0M110.9 144.0h0M146.1 167.4h0M78.5 122.0h0M55.0 124.4h0M111.2 126.4h0M161.1 171.9h0M97.4 114.1h0M63.4 117.1h0M143.8 109.0h0M112.6 140.8h0M132.9 181.0h0M67.9 124.5h0M145.3 116.2h0M156.3 147.0h0M134.4 178.5h0M105.4 130.7h0M55.2 114.6h0M118.7 137.2h0M84.4 143.7h0M126.4 111.9h0M159.9 123.9h0M161.6 113.9h0M56.9 108.4h0M106.0 153.3h0M62.4 108.7h0M88.3 136.0h0M100.9 100.4h0M84.4 121.7h0M61.5 176.8h0M93.8 146.7h0M73.4 176.7h0M126.7 124.8h0M88.5 176.3h0M113.0 148.9h0M120.7 131.1h0M72.5 100.1h0M56.9 165.8h0M84.8 148.0h0M143.8 162.1h0M74.3 159.5h0M153.0 147.4h0M67.1 170.5h0M146.5 130.4h0M93.3 180.1h0M128.0 163.6h0M83.4 136.6h0M68.6 161.0h0M101.8 134.6h0M108.0 105.3h0M74.7 138.5h0M73.4 119.1h0M82.4 128.2h0M143.5 154.6h0M59.1 166.9h0M65.9 175.8h0M124.8 102.4h0M65.6 111.3h0M132.3 172.8h0M128.5 172.3h0M150.9 133.0h0M138.8 138.4h0M131.8 174.9h0M62.0 157.6h0M57.3 165.3h0M70.9 133.0h0M73.1 123.2h0M129.1 146.2h0M147.7 141.6h0M79.4 112.0h0M128.1 176.8h0M141.6 148.0h0M101.4 111.9h0M85.8 114.6h0M58.5 120.8h0M126.6 174.6h0M75.9 167.6h0M81.2 169.7h0M96.4 180.0h0M63.1 150.0h0M79.2 120.5h0M83.5 133.3h0M92.3 104.3h0M149.6 113.5h0M152.4 116.3h0M108.5 174.5h0M139.6 105.9h0M73.7 109.7h0M139.9 126.4h0M91.2 137.3h0M54.1 112.8h0M56.5 108.3h0M86.8 121.3h0M108.6 106.5h0M110.5 121.4h0M145.4 101.7h0M91.9 119.0h0M104.3 160.2h0M140.4 154.0h0M96.2 170.9h0M88.0 109.8h0M112.6 169.8h0M83.4 120.4h0M110.3 125.6h0M60.6 106.1h0M67.1 122.3h0M76.3 126.2h0M100.0 168.0h0M159.9 168.7h0M136.0 150.5h0M150.2 148.9h0M79.3 120.4h0M57.3 140.5h0M150.8 121.7h0M98.7 172.0h0M110.6 140.0h0M159.3 171.7h0M92.0 115.2h0M101.6 161.5h0M106.1 101.3h0M58.3 153.0h0M106.3 143.5h0M142.7 155.8h0M83.4 123.5h0M101.7 144.2h0M156.8 119.3h0M139.0 148.5h0M133.4 125.9h0M137.5 122.5h0M112.6 171.3h0M106.4 119.4h0M90.9 124.1h0M139.2 177.7h0M67.0 166.1h0M105.6 123.8h0M124.3 136.6h0M80.3 149.5h0M54.4 124.3h0M131.9 115.4h0M143.5 129.3h0M68.9 137.0h0M60.6 108.1h0M73.2 144.1h0M78.4 130.2h0M149.7 165.7h0M123.8 181.7h0M115.6 170.8h0M77.5 176.9h0M85.1 141.8h0M94.3 172.7h0M86.8 176.5h0M95.2 128.2h0M76.2 161.3h0M84.1 167.9h0M113.6 129.7h0M65.2 101.4h0M115.9 104.7h0M71.3 125.9h0M90.6 167.4h0M79.7 101.8h0M95.8 122.3h0M159.0 150.4h0M55.7 163.6h0M159.0 108.5h0M94.6 161.8h0M89.6 144.1h0M137.9 137.7h0M108.4 167.6h0M118.3 141.5h0M120.6 126.8h0M68.9 175.7h0M142.7 181.5h0M72.6 144.8h0M83.7 150.3h0M158.7 155.7h0M85.2 112.4h0M54.4 111.9h0M140.1 172.6h0M72.5 133.6h0M97.8 140.0h0M124.0 107.2h0M149.2 119.0h0M111.8 101.6h0M91.3 127.2h0M137.0 125.2h0M83.1 161.0h0M70.4 140.2h0M140.3 151.3h0M111.2 152.4h0M85.8 127.0h0M124.4 151.8h0M78.2 144.0h0M119.8 100.0h0M113.5 117.0h0M109.9 132.7h0M106.9 135.7h0M157.4 146.5h0M160.4 148.5h0M121.0 117.0h0M94.7 146.1h0M79.1 118.1h0M115.7 126.2h0M143.3 152.7h0M76.8 112.9h0M83.8 117.2h0M94.4 119.0h0M125.3 112.7h0M118.5 114.6h0M111.3 168.3h0M92.2 115.5h0M111.5 157.8h0M137.5 158.9h0M112.7 120.9h0M109.3 166.9h0M98.0 152.6h0M69.8 168.0h0M96.0 154.3h0M77.1 176.5h0M146.3 143.2h0M125.8 149.0h0M53.4 106.3h0M156.0 178.5h0M112.7 148.1h0M109.4 105.2h0M92.0 178.0h0M105.9 142.6h0M100.9 130.7h0M143.4 114.3h0M133.5 181.3h0M99.4 139.6h0M125.1 165.6h0M57.9 165.2h0M68.9 144.8h0M107.1 106.7h0M140.8 150.1h0M150.3 165.7h0M151.7 132.1h0M62.6 126.3h0M56.9 174.2h0M86.5 111.2h0M91.6 131.9h0M100.1 107.1h0M144.4 150.4h0M111.6 148.3h0M149.4 103.3h0M85.8 103.9h0M147.2 141.9h0M76.1 164.3h0M117.3 143.2h0M54.7 124.8h0M113.2 164.6h0M109.6 137.0h0M107.8 146.0h0M87.1 129.3h0M134.5 139.4h0M151.5 134.4h0M134.4 181.2h0M65.1 111.8h0M134.6 158.1h0M125.3 100.1h0M82.6 107.8h0M90.8 145.1h0M60.0 164.9h0M149.3 165.8h0M70.4 171.4h0M123.7 150.4h0M139.9 166.6h0M145.7 142.1h0M102.5 130.4h0M54.9 112.4h0M108.3 166.8h0M144.8 137.1h0M109.6 176.3h0M80.3 146.1h0M105.6 153.6h0M106.1 143.5h0M150.0 106.8h0M143.1 149.2h0M92.4 152.2h0M59.1 141.1h0M65.5 125.1h0M146.1 145.8h0M156.8 132.3h0M145.0 114.9h0M90.9 181.5h0M110.9 174.9h0M120.6 157.4h0M133.2 136.1h0M137.2 124.5h0M93.8 140.9h0M119.6 136.9h0M152.5 147.8h0M143.2 167.4h0M110.5 157.3h0M102.6 119.5h0M155.5 181.4h0M128.3 100.7h0M109.5 112.9h0M110.8 126.2h0M138.9 125.7h0M78.0 174.2h0M133.0 114.8h0M153.6 120.6h0M85.3 160.7h0M87.5 124.5h0M70.0 175.2h0M94.0 141.4h0M103.3 107.1h0M146.3 110.9h0M59.3 177.5h0M157.1 130.6h0M77.5 166.8h0M64.7 120.3h0M65.6 111.7h0M60.7 129.7h0M110.1 143.0h0M79.7 113.6h0M63.8 121.3h0M75.5 148.5h0M119.5 146.4h0M86.2 107.7h0M121.2 128.9h0M160.6 125.8h0M116.6 136.8h0M98.5 176.0h0M84.9 179.7h0M59.5 112.7h0M100.5 166.1h0M122.5 152.8h0M68.0 177.1h0M83.6 101.4h0M89.6 124.7h0M124.3 165.9h0M117.9 135.9h0M130.1 136.8h0M66.2 146.8h0M150.5 176.5h0M157.1 127.5h0M56.6 118.0h0M95.0 128.5h0M157.3 112.5h0M134.2 119.3h0M92.6 110.4h0M90.0 141.4h0M105.1 140.8h0M109.4 103.7h0M107.0 174.4h0M142.0 149.8h0M149.0 118.9h0M55.4 167.4h0M82.6 155.4h0M140.5 153.1h0M109.5 142.6h0M79.5 115.6h0M121.6 125.6h0M54.2 106.6h0M153.4 116.4h0M137.8 134.3h0M75.6 126.1h0M104.3 102.6h0M73.9 126.6h0M55.0 173.9h0M120.1 160.8h0M76.5 139.6h0M120.7 125.9h0M105.9 171.5h0M142.4 159.5h0M65.1 143.6h0M94.0 181.5h0M141.3 109.9h0M146.9 131.4h0M69.4 137.5h0M142.9 105.7h0M81.5 124.7h0M78.2 126.7h0M121.1 136.1h0M93.9 168.6h0M89.9 174.0h0M96.5 151.0h0M147.0 179.3h0M117.7 120.6h0M128.8 120.1h0M133.4 166.3h0M65.4 158.0h0M148.5 139.0h0M115.0 100.8h0M129.7 164.5h0M156.1 130.1h0M85.5 161.1h0M89.0 143.7h0M144.0 172.3h0M144.2 128.7h0" stroke="#3014ff" stroke-width="1.5"/>
<path d="M122.7 113.1h0M93.8 158.8h0M152.6 160.7h0M79.1 109.3h0M90.0 160.4h0M105.3 149.4h0M158.1 100.3h0M70.2 104.7h0M119.2 114.7h0M141.4 109.3h0M131.5 118.6h0M127.6 148.3h0M114.3 178.3h0M126.6 132.2h0M95.6 148.0h0M135.8 139.5h0M69.7 134.7h0M112.4 174.4h0M150.9 151.3h0M96.1 159.8h0M73.6 181.2h0M146.4 156.2h0M59.6 106.7h0M125.5 154.2h0M142.6 129.3h0M140.1 121.5h0M102.9 105.3h0M145.2 150.2h0M161.8 122.9h0M72.1 120.6h0M148.7 143.4h0M150.5 138.3h0M111.1 166.7h0M158.4 138.8h0M63.7 130.3h0M63.2 147.3h0M92.1 144.3h0M94.4 132.8h0M149.7 159.5h0M57.7 126.6h0M83.4 102.4h0M110.3 130.8h0M63.0 111.0h0M154.7 125.1h0M119.5 166.7h0M161.2 152.2h0M73.8 133.9h0M59.9 130.3h0M73.1 106.6h0M138.7 123.1h0M84.9 131.8h0M126.1 143.8h0M61.4 118.9h0M66.8 150.4h0M129.1 139.1h0M92.6 162.6h0M62.3 122.0h0M143.1 167.8h0M158.1 128.2h0M161.2 117.7h0M143.1 107.2h0M117.9 177.7h0M126.6 130.9h0M94.3 156.2h0M81.2 152.1h0M85.2 106.3h0M88.6 181.4h0M110.7 120.7h0M119.6 178.0h0M100.2 110.5h0M135.5 173.6h0M146.8 139.1h0M137.7 163.8h0M84.5 125.7h0M128.6 169.7h0M70.5 117.8h0M86.4 108.1h0M87.6 176.2h0M160.3 108.4h0M54.0 143.0h0M93.7 163.0h0M130.9 173.5h0M139.2 145.5h0M120.4 161.6h0M59.2 162.9h0M65.0 166.1h0M120.4 106.6h0M113.0 157.4h0M138.6 141.8h0M59.4 171.7h0M105.3 109.1h0M135.3 134.9h0M111.3 143.7h0M162.0 120.3h0M84.3 143.3h0M134.8 100.9h0M61.2 152.7h0M76.4 167.8h0M111.9 110.9h0M95.6 126.4h0M105.8 153.3h0M153.1 108.4h0M55.3 115.7h0M101.9 117.2h0M128.6 176.0h0M139.1 179.8h0M156.2 121.8h0M156.0 181.3h0M117.5 149.6h0M135.5 148.8h0M118.6 116.9h0M133.7 136.2h0M100.2 126.0h0M95.0 153.6h0M129.5 127.4h0M55.0 161.2h0M69.5 103.6h0M155.6 100.3h0M121.3 159.7h0M98.2 109.6h0M133.3 171.5h0M62.3 130.1h0M112.7 138.0h0M91.5 153.5h0M60.3 109.5h0M64.2 141.4h0M115.3 156.6h0M67.6 113.6h0M147.5 110.3h0M155.4 107.6h0M65.7 173.0h0M130.7 111.1h0M128.1 160.7h0M80.4 171.0h0M135.2 131.3h0M132.9 138.6h0M100.7 177.7h0M125.9 180.5h0M68.5 146.5h0M144.6 105.1h0M138.9 152.8h0M113.5 156.8h0M118.3 168.1h0M149.6 149.2h0M55.0 172.0h0M153.8 169.6h0M53.2 115.1h0M140.8 150.5h0M150.9 121.4h0M97.0 149.2h0M108.9 124.9h0M93.6 128.1h0M152.0 153.9h0M98.5 172.5h0M134.1 159.6h0M151.6 101.0h0M136.4 181.9h0M64.2 156.3h0M60.6 176.2h0M59.1 157.3h0M77.7 116.2h0M99.0 164.7h0M77.3 129.5h0M101.0 170.4h0M70.9 145.1h0M161.0 151.3h0M154.2 107.9h0M93.0 165.2h0M156.5 128.3h0M159.8 154.7h0" stroke="#3014ff" stroke-width="2.0"/>
<path d="M76.1 113.0h0M115.5 138.1h0M150.0 101.0h0M150.6 160.2h0M76.8 176.9h0M77.1 148.5h0M74.2 170.0h0M140.6 124.4h0M137.0 176.7h0M114.6 154.3h0M139.2 126.2h0M83.7 132.2h0M68.0 134.2h0M129.9 153.9h0M69.0 158.8h0M111.7 114.9h0M92.0 148.8h0M100.5 165.8h0M130.6 106.0h0M130.3 144.6h0M70.2 111.9h0M142.5 156.0h0M80.7 118.4h0M69.3 148.3h0M55.8 132.3h0M125.6 118.3h0M129.4 107.4h0M136.3 104.1h0M150.4 169.0h0M91.3 119.8h0M90.8 163.8h0M122.8 153.1h0M150.3 145.1h0M126.8 118.7h0M77.7 160.5h0M85.0 131.0h0M54.3 104.2h0M154.7 158.4h0M64.6 134.6h0M99.4 167.5h0M136.0 112.5h0M159.8 119.8h0M66.8 159.8h0M160.8 167.8h0M114.2 121.6h0M157.7 111.8h0M140.0 150.4h0M91.6 145.6h0M58.4 145.0h0M63.6 157.8h0M87.6 128.9h0M101.9 153.0h0M141.2 134.8h0M83.5 110.0h0M74.5 102.4h0M64.1 107.4h0M135.1 106.6h0M161.9 103.1h0M109.9 179.9h0M59.2 157.7h0M124.0 138.9h0M133.0 145.5h0M127.0 119.0h0M155.0 151.3h0" stroke="#2200e8" stroke-width="1.5"/>
<path d="M110.4 114.7h0M80.2 152.8h0M144.8 113.9h0M60.6 152.4h0M112.1 161.4h0M109.0 180.4h0M95.5 113.8h0M76.6 180.4h0M100.3 146.3h0M152.4 117.1h0M138.2 144.5h0M113.8 146.4h0M161.5 111.5h0M84.1 119.7h0" stroke="#2200e8" stroke-width="1.0"/>
<path d="M99.8 174.8h0M80.2 155.3h0M127.5 169.6h0M148.2 130.3h0M152.4 141.8h0M104.5 172.8h0M83.5 155.9h0M105.3 118.3h0M91.7 176.0h0M64.6 155.9h0M158.7 102.1h0M145.4 105.4h0M136.4 135.1h0M107.5 133.7h0M70.2 103.3h0M57.6 130.5h0M68.4 163.0h0M130.0 172.8h0M143.5 102.7h0M90.7 110.3h0M106.5 103.0h0M127.6 154.0h0M145.5 120.0h0" stroke="#2200e8" stroke-width="2.0"/>
<path d="M61.8 137.1h0M56.8 141.3h0M160.7 105.7h0M79.1 142.9h0M77.7 143.7h0M133.4 138.0h0M66.5 113.6h0M117.0 178.0h0M62.3 100.1h0M73.5 181.6h0M108.9 103.4h0M143.6 112.9h0M81.6 146.9h0M157.0 109.2h0" stroke="#c03070" stroke-width="2.5"/>
<path d="M64.3 178.3h0M138.9 126.9h0M106.3 137.0h0M118.0 164.8h0M102.5 167.1h0M88.0 163.5h0M145.5 179.4h0M122.6 113.8h0M141.3 131.0h0M147.9 121.5h0M119.5 156.4h0M112.3 128.0h0M80.3 106.9h0M89.0 132.5h0M145.8 130.4h0M105.8 111.2h0" stroke="#c03070" stroke-width="2.0"/>
<path d="M156.0 167.9h0M109.3 123.3h0M157.6 171.7h0M118.6 181.9h0M112.2 128.7h0M130.6 156.1h0M107.6 168.7h0M152.2 156.6h0" stroke="#e04090" stroke-width="2.5"/>
<path d="M128.3 176.0h0M133.8 127.0h0M138.6 139.4h0M133.8 117.0h0M132.4 152.1h0M139.2 165.9h0M135.5 125.1h0M115.8 106.1h0M153.7 174.8h0" stroke="#e04090" stroke-width="2.0"/>
<path d="M147.8 169.5h0M74.6 165.9h0M135.7 156.4h0M92.1 143.6h0M82.4 137.4h0M93.4 104.8h0" stroke="#b02878" stroke-width="2.0"/>
<path d="M130.8 169.0h0M120.7 111.3h0M142.5 126.3h0M132.0 173.6h0M99.0 118.7h0M69.0 144.9h0M144.5 104.8h0M109.5 120.9h0M156.4 138.4h0" stroke="#b02878" stroke-width="2.5"/>
</g></g>
<clipPath id="c4"><rect x="167" y="100" width="108" height="81"/></clipPath>
<rect x="167" y="100" width="108" height="81" fill="#000"/>
<g clip-path="url(#c4)"><g filter="url(#bl)" stroke-linecap="round" fill="none">
<path d="M268.6 122.0h0M268.4 105.4h0M206.8 145.5h0M226.0 162.6h0M267.9 143.9h0M212.2 116.2h0M243.0 114.9h0M208.9 148.1h0M250.2 161.9h0M207.7 143.2h0M168.6 127.8h0M245.9 123.5h0M262.4 151.6h0M226.4 110.7h0M205.7 157.9h0M190.3 138.5h0M199.3 140.8h0M205.0 100.8h0M203.6 168.9h0M205.7 134.7h0M219.4 106.1h0M253.8 126.3h0M252.9 178.4h0M242.9 107.9h0M183.3 101.1h0M184.5 137.1h0M169.5 105.7h0M240.5 134.4h0M262.6 111.6h0M168.2 133.0h0M200.4 132.7h0M197.4 159.9h0M268.3 117.1h0M194.0 142.8h0M208.8 149.0h0M236.6 125.9h0M174.1 130.9h0M211.8 137.3h0M173.0 125.3h0M219.9 118.7h0M228.1 140.6h0M172.5 143.6h0M199.4 112.0h0M230.0 141.8h0M227.6 174.2h0M205.8 165.6h0M187.1 124.9h0M226.4 110.2h0M201.7 138.9h0M241.7 122.2h0M247.2 113.1h0M190.0 138.6h0M273.6 103.4h0M220.1 156.0h0M205.2 161.5h0M228.5 130.0h0M224.3 156.4h0M216.9 154.9h0M226.2 135.0h0M195.8 139.7h0M178.5 129.1h0M250.5 121.6h0M201.9 151.6h0M226.4 115.5h0M223.9 106.8h0M171.8 109.1h0M240.5 142.2h0M215.9 109.1h0M218.7 125.8h0M229.6 117.4h0M187.1 156.4h0M251.5 108.4h0M239.6 121.7h0M237.0 103.6h0M225.1 149.3h0M189.9 110.4h0M227.5 135.0h0M254.3 127.5h0M217.1 109.9h0M240.9 148.5h0M273.9 171.9h0M268.9 152.7h0M274.6 180.2h0M240.1 149.6h0M216.8 120.5h0M190.8 128.6h0M269.5 124.7h0M191.8 125.4h0M186.1 139.4h0M244.7 129.5h0M201.5 141.1h0M218.5 147.6h0M208.0 143.3h0M252.6 117.1h0M197.3 130.3h0M208.8 122.6h0M179.0 120.5h0M197.5 141.7h0M230.5 151.8h0M214.8 112.2h0M238.1 107.1h0M184.3 146.1h0M270.4 178.1h0M220.2 105.1h0M252.4 117.8h0M252.2 125.0h0M205.4 148.0h0M245.5 154.5h0M251.1 120.5h0M217.6 150.4h0M268.5 131.9h0M262.5 148.4h0M183.2 156.2h0M228.0 121.4h0M192.6 136.9h0M208.9 158.5h0M231.1 115.3h0M211.0 126.2h0M212.5 124.0h0M224.6 128.2h0M225.4 154.7h0M243.0 120.9h0M256.9 105.0h0M233.0 146.6h0M203.1 121.2h0M190.2 101.2h0M222.9 134.8h0M257.2 104.5h0M202.1 168.9h0M265.6 175.3h0M198.3 136.5h0M202.7 126.5h0M252.5 143.9h0M218.5 108.6h0M249.1 126.5h0M270.6 109.8h0M213.1 153.6h0M174.7 116.1h0M227.7 163.0h0M266.5 119.6h0M197.4 134.1h0M223.0 111.0h0M209.2 162.3h0M209.7 138.1h0M261.9 167.3h0M208.7 105.9h0M183.9 139.5h0M228.1 123.6h0M212.0 166.5h0M272.3 161.9h0M231.3 103.3h0M230.5 106.4h0M243.2 157.7h0M255.3 124.0h0M214.4 142.9h0M257.1 123.6h0M267.6 101.3h0M191.7 147.8h0M272.6 110.0h0M209.9 154.8h0M257.6 129.0h0M242.9 136.8h0M248.7 152.1h0M209.5 141.0h0M265.5 118.7h0M188.2 133.4h0M201.0 133.6h0M229.7 151.0h0M232.5 171.9h0M273.6 129.4h0M187.2 134.7h0M244.7 121.6h0M254.2 122.8h0M217.6 132.8h0M168.4 122.8h0M176.0 121.1h0M205.8 103.8h0M197.3 120.6h0M229.5 110.2h0M226.8 125.7h0M261.6 100.3h0M198.7 145.7h0M211.7 142.1h0M225.4 117.4h0M248.9 138.5h0M208.3 132.7h0M217.1 156.9h0M267.8 171.2h0M254.7 125.7h0M234.6 137.3h0M269.1 124.3h0M246.6 155.4h0M247.0 129.9h0M223.1 128.3h0M207.3 158.4h0M253.4 122.9h0M205.4 131.5h0M257.3 123.1h0M208.7 153.9h0M233.1 128.6h0M211.2 114.8h0M217.0 116.3h0M219.3 113.2h0M243.6 149.9h0M233.5 148.3h0M187.8 149.6h0M262.6 122.7h0M172.5 108.9h0M188.8 141.0h0M215.4 166.6h0M214.4 150.0h0M209.7 159.2h0M226.6 104.3h0" stroke="#2808ff" stroke-width="2.0"/>
<path d="M199.7 155.4h0M176.7 122.7h0M212.7 128.1h0M223.6 167.7h0M208.5 132.3h0M261.1 108.6h0M224.3 153.9h0M248.4 106.6h0M167.5 132.1h0M204.0 136.9h0M209.0 147.1h0M194.9 145.1h0M190.0 155.5h0M194.8 113.5h0M197.6 127.6h0M211.4 120.1h0M259.2 113.3h0M207.6 109.6h0M220.4 106.4h0M229.7 154.0h0M202.1 158.8h0M200.9 130.8h0M219.0 116.3h0M216.4 102.8h0M184.4 160.0h0M208.5 147.7h0M264.7 113.1h0M256.2 109.5h0M229.6 136.2h0M215.2 169.9h0M252.8 115.6h0M238.5 172.8h0M255.5 120.2h0M267.4 119.1h0M251.7 131.4h0M255.1 109.3h0M223.2 102.8h0M233.8 152.3h0M197.9 142.0h0M212.5 114.0h0M256.5 131.1h0M219.7 144.0h0M229.0 143.1h0M205.2 146.1h0M200.8 107.9h0M227.5 166.4h0M197.1 111.1h0M211.1 113.1h0M219.5 100.5h0M216.8 176.9h0M254.2 143.4h0M203.3 111.4h0M218.3 150.0h0M269.2 114.1h0M219.8 128.2h0M180.1 127.2h0M236.4 130.3h0M168.1 122.5h0M219.0 140.9h0M168.8 106.4h0M205.7 130.3h0M208.3 134.8h0M274.0 168.4h0M242.0 160.6h0M192.5 159.4h0M186.9 143.8h0M244.0 116.5h0M180.3 133.1h0M274.7 180.7h0M201.2 111.2h0M260.1 126.5h0M239.3 104.2h0M236.0 110.1h0M173.5 131.8h0M224.2 144.8h0M246.7 132.9h0M249.1 135.7h0M214.0 127.2h0M236.6 109.2h0M263.3 121.4h0M202.6 115.4h0M220.6 103.3h0M223.8 142.4h0M168.3 102.1h0M229.6 102.9h0M242.4 173.4h0M194.6 141.2h0M170.3 102.3h0M172.3 104.1h0M237.4 113.8h0M266.0 180.0h0M220.0 167.0h0M269.5 128.3h0M201.4 105.7h0M185.6 167.0h0M265.9 166.2h0M259.6 133.6h0M214.5 121.7h0M210.8 131.2h0M267.7 175.4h0M235.3 155.3h0M217.0 169.2h0M227.2 125.4h0M265.0 104.0h0M267.7 131.4h0M274.2 107.6h0M257.5 100.2h0M175.2 106.6h0M267.4 170.5h0M236.7 163.5h0M177.2 145.0h0M195.3 157.4h0M184.1 104.9h0M212.3 140.4h0M203.8 104.3h0M191.1 139.8h0M256.7 134.4h0M172.2 133.8h0M201.7 134.7h0M206.1 146.7h0M244.7 121.9h0M174.9 124.2h0M228.9 115.1h0M243.3 118.4h0M195.6 110.6h0M235.7 114.4h0" stroke="#2200e8" stroke-width="2.0"/>
<path d="M184.8 152.8h0M216.2 139.3h0M194.7 129.9h0M200.0 110.9h0M215.6 163.5h0M208.9 142.1h0M251.2 151.2h0M225.5 156.4h0M193.2 151.3h0M218.2 160.6h0M267.5 103.2h0M233.8 167.3h0M216.4 160.9h0M178.9 133.6h0M211.1 130.8h0M267.8 103.3h0M242.5 136.3h0M246.5 116.4h0M228.0 105.4h0M171.8 104.8h0M217.3 121.2h0M192.2 145.5h0M262.6 118.0h0M250.6 110.7h0M238.6 135.9h0M208.0 118.2h0M248.4 124.8h0M227.9 108.7h0M258.1 108.5h0M177.0 141.2h0M253.7 100.1h0M236.2 107.7h0M226.8 114.6h0M185.1 137.4h0M248.0 157.4h0M230.2 120.1h0M238.4 137.7h0M187.3 148.7h0M244.5 120.4h0M172.8 108.2h0M229.2 119.2h0M233.5 156.6h0M215.7 139.9h0M255.8 132.3h0M180.0 134.5h0M218.0 136.2h0M259.4 100.9h0M271.4 126.7h0M216.8 139.9h0M172.0 109.0h0M172.0 137.7h0M197.3 140.4h0M258.2 114.3h0M192.0 133.6h0M213.5 164.7h0M245.0 103.3h0M219.7 127.4h0M235.1 137.9h0M249.0 127.0h0M211.9 105.1h0M205.8 105.3h0M246.8 112.4h0M268.0 118.5h0M266.1 122.2h0M170.4 124.0h0M262.3 180.8h0M237.4 162.2h0M232.0 123.7h0M244.5 127.3h0M213.5 129.7h0M225.9 104.9h0M261.0 116.5h0M212.2 145.7h0M267.3 139.8h0M227.1 116.1h0M266.2 150.8h0M202.1 112.5h0M256.2 150.2h0M216.0 139.6h0M201.6 133.0h0M261.3 130.9h0M235.0 148.2h0M230.8 151.7h0M265.4 144.7h0M241.0 132.4h0M233.9 173.0h0M179.6 138.0h0M274.2 110.5h0M271.4 162.5h0M188.5 109.0h0M192.2 104.7h0M191.8 131.8h0M263.7 125.8h0M274.5 168.9h0M213.6 153.4h0M190.2 156.1h0M219.9 149.1h0M222.6 155.4h0M176.5 105.3h0M263.5 110.0h0M246.6 142.9h0M200.6 162.9h0M254.6 136.9h0M236.5 153.2h0M167.9 116.2h0M196.0 106.9h0M210.2 157.1h0M253.4 103.8h0M211.0 115.7h0M206.3 115.9h0M233.9 169.4h0M243.7 119.2h0M199.1 136.2h0M205.1 139.1h0M201.6 145.2h0M260.5 117.1h0M236.2 126.7h0M185.2 153.0h0M234.4 112.8h0M224.0 145.3h0M264.0 100.3h0M192.0 107.4h0M182.3 138.9h0M230.1 113.9h0M258.5 107.6h0M262.7 125.3h0M209.4 106.3h0M273.5 167.4h0M232.9 160.0h0M270.0 118.1h0M233.1 165.3h0M183.6 102.6h0M210.7 120.5h0M199.3 149.0h0M274.8 177.8h0M198.9 111.3h0M183.4 147.8h0M272.6 105.1h0M226.5 106.8h0M182.9 121.6h0M192.6 130.3h0M229.6 100.8h0M241.3 110.9h0M254.6 117.7h0M233.6 150.2h0M199.1 117.4h0M217.2 118.5h0M237.7 103.1h0M265.7 171.8h0M226.4 101.0h0M194.6 152.4h0M237.3 136.4h0M265.9 125.0h0M227.6 159.1h0M244.7 102.3h0M241.7 116.4h0M180.0 113.7h0M197.2 141.0h0M203.4 153.3h0M227.2 117.9h0M243.7 127.0h0M275.0 150.6h0M200.5 153.6h0M169.1 129.0h0M197.0 153.8h0M175.6 111.4h0M217.6 108.0h0M222.6 100.3h0M188.1 148.1h0M183.5 133.8h0M210.4 133.1h0M240.3 139.8h0M220.5 159.7h0M268.3 102.8h0M186.5 139.1h0M248.6 140.8h0M206.3 152.1h0M213.9 135.6h0M214.3 165.6h0M260.1 114.8h0M185.6 105.8h0M220.8 148.9h0M207.8 140.8h0M242.3 121.1h0M209.0 140.0h0M272.6 123.8h0M191.7 139.3h0M255.5 130.4h0M229.7 126.8h0M248.8 126.3h0M216.1 149.6h0M216.7 137.0h0M172.5 125.3h0M219.0 118.2h0M215.1 112.5h0M213.5 149.2h0M216.9 155.2h0M224.2 138.9h0M232.6 155.9h0M249.1 101.1h0M194.3 162.8h0M236.0 132.9h0M202.4 127.1h0M266.6 113.5h0M183.2 103.5h0M177.6 153.0h0M264.1 125.7h0M207.5 113.3h0M187.5 118.6h0M273.8 127.4h0M229.6 134.7h0M275.0 168.7h0M176.5 135.1h0M225.2 161.4h0M189.3 155.8h0M211.2 149.1h0M231.4 164.5h0M201.5 146.6h0M201.1 138.0h0M203.3 110.0h0M263.8 125.4h0M167.8 120.1h0M199.4 142.3h0M217.0 171.7h0M209.9 114.4h0M230.7 121.0h0M263.1 132.6h0M208.8 108.8h0M170.3 132.7h0M171.3 117.6h0M252.1 111.8h0M201.3 106.1h0M168.9 129.4h0M245.9 122.5h0M240.2 113.8h0M169.1 146.4h0M197.4 127.0h0M218.7 161.3h0M178.5 118.0h0M211.4 119.6h0M266.0 101.9h0M216.6 159.8h0M210.5 110.3h0M185.8 100.1h0M223.0 172.0h0M266.3 140.4h0M181.7 136.3h0M237.4 168.0h0M190.6 138.0h0M199.3 154.9h0M221.4 137.0h0M241.1 119.5h0M185.5 146.3h0M178.5 139.2h0M218.5 158.7h0M236.2 113.3h0M215.1 118.8h0M268.4 110.4h0M210.0 102.0h0M227.3 128.4h0M174.0 112.2h0M223.9 145.7h0M167.2 105.5h0M231.4 151.6h0M244.3 104.0h0M209.5 150.5h0M255.0 172.9h0M191.6 161.0h0M199.8 131.1h0M219.8 115.0h0M271.2 103.8h0M263.4 118.0h0M175.2 100.2h0M234.3 153.4h0M177.4 105.0h0M241.4 135.3h0M221.1 141.4h0M204.2 111.2h0M208.5 101.4h0M272.6 125.5h0M181.1 140.2h0M261.2 174.4h0" stroke="#2200e8" stroke-width="1.5"/>
<path d="M230.6 151.3h0M221.9 168.2h0M172.0 132.9h0M274.9 135.0h0M223.0 113.6h0M218.5 110.5h0M274.4 110.5h0M249.9 100.4h0M237.6 135.8h0M222.2 135.4h0M168.7 109.1h0M247.3 134.2h0M231.4 137.8h0M262.9 116.6h0M191.0 107.1h0M259.8 173.6h0M243.2 103.8h0M207.8 100.2h0M168.5 116.4h0M241.3 109.5h0M226.6 119.0h0M181.3 132.7h0M224.5 128.3h0M194.7 111.9h0M209.0 140.7h0M195.0 138.6h0M251.7 144.3h0M260.8 130.6h0M172.8 121.2h0M257.6 171.9h0M168.8 108.8h0M204.6 138.6h0M265.4 129.3h0M207.2 140.4h0M211.6 151.1h0M246.8 149.0h0M214.6 108.9h0M263.8 107.6h0M255.2 130.4h0M230.7 116.8h0M211.1 142.1h0M245.9 143.2h0M211.3 137.6h0M267.4 124.0h0M206.8 125.4h0M206.9 117.1h0M249.2 103.6h0M224.3 168.5h0M270.7 109.5h0M231.6 112.6h0M210.8 113.1h0M213.5 130.6h0M186.4 160.0h0M221.3 164.8h0M273.7 121.9h0M252.2 102.5h0M219.9 157.3h0M264.1 134.4h0M176.5 108.7h0M262.9 119.0h0M198.6 169.4h0M259.2 113.2h0M241.1 110.0h0M254.9 132.2h0M219.5 137.5h0M181.4 111.1h0M213.1 112.7h0M225.8 100.7h0M191.9 118.9h0M211.7 102.5h0M210.0 143.6h0M195.1 144.2h0M177.1 121.1h0M257.5 120.2h0M199.9 162.5h0M195.2 141.0h0M274.3 105.8h0M205.2 135.7h0M181.7 117.6h0M208.8 160.7h0M178.8 123.7h0M191.6 106.1h0M230.8 113.4h0M250.7 147.2h0M212.8 152.9h0M223.1 137.4h0M185.0 133.1h0M244.6 125.5h0M190.5 143.2h0M194.6 150.8h0M243.9 121.1h0M220.0 146.6h0M236.8 157.5h0M241.7 146.3h0M240.8 113.8h0M186.4 126.1h0M207.4 124.1h0M207.1 154.2h0M175.5 112.2h0M273.2 103.8h0M231.5 148.5h0M246.5 156.0h0M175.1 126.1h0M231.4 156.9h0M202.8 115.6h0M202.0 144.0h0M247.6 125.3h0M227.4 141.7h0M220.3 123.3h0M248.5 155.7h0M247.1 100.3h0M234.2 101.6h0M212.2 102.5h0M259.6 102.2h0M196.5 150.0h0M193.7 118.8h0M265.4 108.0h0M196.4 134.7h0M206.6 157.1h0M175.5 104.7h0M263.8 113.8h0M255.6 127.7h0M221.9 123.8h0" stroke="#3014ff" stroke-width="1.5"/>
<path d="M222.5 115.7h0M223.8 107.5h0M203.7 121.3h0M239.2 118.0h0M223.3 155.3h0M169.6 141.1h0M264.7 125.1h0M193.1 147.9h0M264.4 108.6h0M173.7 130.5h0M212.8 123.6h0M259.1 102.1h0M208.2 110.6h0M194.7 138.9h0M251.2 135.2h0M224.3 178.6h0M209.6 163.1h0M211.5 105.7h0M273.6 102.1h0M201.8 121.4h0M188.2 142.1h0M208.9 144.7h0M242.1 138.1h0M179.4 131.5h0M238.5 124.3h0M218.0 135.6h0M270.6 117.0h0M260.3 102.7h0M196.0 132.2h0M248.0 118.7h0M273.4 123.9h0M244.8 142.1h0M200.1 143.4h0M228.8 159.3h0M216.1 104.6h0M184.1 159.9h0M215.0 104.2h0M177.9 135.9h0M237.5 134.6h0M220.4 136.4h0M216.3 137.3h0M235.3 122.2h0M236.2 120.8h0M259.0 114.6h0M218.2 151.2h0M198.4 104.1h0M261.0 108.5h0M186.3 144.2h0M230.8 134.5h0M215.5 102.2h0M188.2 134.0h0M210.8 124.1h0M221.9 136.3h0M196.0 124.1h0M197.3 144.2h0M232.0 116.0h0M186.9 146.3h0M215.3 168.3h0M271.0 111.8h0M201.6 145.0h0M224.2 156.2h0M219.0 120.9h0M226.0 161.1h0M268.4 126.7h0M268.2 165.8h0M247.4 129.2h0M218.5 158.4h0M235.7 120.6h0M200.6 145.2h0M233.5 128.2h0M223.3 126.7h0M226.4 165.6h0M169.5 112.0h0M197.3 130.0h0M259.4 131.6h0M201.3 102.7h0M216.8 135.0h0M250.0 110.3h0M220.7 137.5h0M207.7 106.7h0M227.7 101.8h0M235.1 112.5h0M220.3 110.2h0M211.8 150.3h0M258.5 125.2h0M197.9 120.8h0M262.8 102.3h0M175.0 116.2h0M217.0 160.9h0M243.7 177.0h0M200.8 113.4h0M216.6 145.0h0M235.0 162.4h0M171.2 114.3h0M213.7 141.5h0M167.7 104.8h0M222.9 179.1h0M225.1 108.1h0M202.5 125.0h0M223.4 115.7h0M220.9 122.7h0M239.0 101.9h0M207.2 109.2h0M217.8 151.8h0M214.5 101.6h0M240.3 104.7h0M264.9 179.7h0M228.3 110.5h0M200.6 113.0h0M255.7 122.0h0M237.0 142.4h0M198.5 121.0h0M205.8 112.4h0M246.8 153.8h0M206.3 122.0h0M230.5 167.4h0M206.3 125.7h0M198.2 130.3h0M256.3 105.0h0M194.5 132.2h0M251.8 130.1h0M196.4 131.1h0M212.5 151.3h0M200.3 149.9h0M193.1 100.5h0M216.8 109.7h0M221.2 126.6h0M261.0 105.5h0M209.7 118.8h0M189.9 137.5h0M213.4 105.0h0M211.9 170.6h0M254.9 103.7h0M218.0 102.4h0M224.8 105.1h0M267.2 103.4h0M251.0 126.5h0M266.7 167.4h0M237.8 124.5h0M264.6 121.7h0M239.8 141.2h0M223.5 174.3h0M255.0 130.2h0M213.8 161.6h0M203.7 119.1h0M205.8 110.3h0M216.1 148.5h0M178.4 126.8h0M267.8 124.4h0M229.9 130.7h0M169.6 121.9h0M215.6 155.6h0M242.9 125.6h0M233.8 140.2h0M244.1 116.0h0M241.6 126.3h0M249.1 110.1h0M262.5 180.3h0M262.8 114.8h0M270.4 177.0h0M261.1 102.0h0M268.8 109.1h0M225.5 132.6h0M175.4 124.8h0M227.4 161.6h0M268.7 146.7h0M237.4 112.3h0M230.9 104.0h0M237.6 120.8h0M241.2 107.4h0M234.2 175.5h0M241.4 111.2h0M182.9 145.7h0M220.8 166.3h0M192.1 161.9h0M265.8 159.1h0M233.2 130.9h0M238.2 147.8h0M257.7 111.4h0M215.4 121.8h0M271.0 112.5h0M202.5 158.8h0M178.9 134.5h0M233.3 107.4h0M229.7 169.6h0M180.4 101.5h0M169.6 131.2h0M273.2 180.6h0M225.7 126.6h0M187.7 151.7h0M182.3 136.5h0M263.7 122.4h0M204.4 103.3h0M227.2 114.0h0M212.5 167.0h0M227.8 145.5h0M260.6 116.3h0M211.3 142.6h0M215.7 118.8h0M209.2 144.8h0M259.9 121.5h0M256.9 123.1h0M168.4 128.2h0M205.4 137.0h0M201.5 122.2h0M235.0 134.7h0M175.6 118.7h0M217.9 113.1h0M198.9 129.7h0M212.1 149.0h0M178.8 106.1h0M218.1 134.0h0M201.5 116.3h0M203.3 101.0h0M261.9 107.4h0M272.6 175.8h0M210.1 117.7h0M196.0 100.7h0M239.2 105.3h0M215.4 138.2h0M199.1 167.7h0M232.5 138.4h0M227.3 134.5h0M169.3 105.1h0M211.1 132.2h0M269.7 179.5h0M264.8 123.9h0M222.6 115.2h0M246.7 134.5h0M171.0 138.3h0M229.6 150.5h0M193.1 146.8h0M180.0 122.6h0M245.1 112.4h0M235.1 111.3h0M209.4 128.0h0M222.0 171.4h0M240.7 111.7h0M224.6 109.4h0M186.7 130.2h0M207.2 163.6h0M248.2 121.9h0M249.9 104.9h0M204.5 100.2h0M194.3 128.6h0M194.2 142.1h0M239.9 128.8h0M216.2 114.8h0M223.6 142.5h0M254.9 102.1h0M206.8 147.0h0M245.0 178.1h0M199.7 130.0h0M186.3 132.4h0M266.2 121.0h0M236.4 119.1h0M226.4 139.5h0M238.7 102.7h0M185.2 130.8h0M210.2 109.2h0M240.3 108.1h0M226.2 126.9h0M249.5 129.2h0M194.1 156.0h0M266.7 109.7h0M183.4 141.5h0M223.1 125.7h0M268.2 110.2h0M189.4 132.5h0M253.9 114.7h0M237.0 143.5h0M232.4 118.0h0M228.4 174.0h0M269.0 179.6h0M263.3 141.0h0M248.6 101.8h0M171.5 109.5h0M257.9 104.4h0M272.6 176.7h0M194.6 138.5h0M241.4 115.5h0M211.6 173.6h0M216.0 115.5h0M231.2 129.1h0M273.8 100.4h0M211.8 122.1h0M231.8 126.0h0M199.8 100.1h0M198.8 108.4h0M243.8 121.5h0M215.7 155.8h0M205.3 164.7h0M169.1 125.5h0M234.9 127.7h0M257.3 130.0h0M267.0 174.1h0M197.1 152.7h0M202.1 154.9h0M215.3 107.4h0M226.0 145.4h0M218.0 127.1h0M239.3 116.6h0M185.8 138.7h0M200.1 155.5h0M251.4 107.6h0M249.7 113.0h0M175.0 130.6h0M211.9 117.2h0M243.0 105.5h0M202.5 113.9h0M258.9 128.4h0M200.4 130.5h0M189.7 135.5h0M253.5 129.6h0M191.4 129.9h0M211.0 152.1h0M214.1 166.8h0M213.0 148.8h0M247.8 117.7h0M256.4 105.2h0M216.3 119.4h0M241.2 133.8h0M219.9 145.2h0M229.9 160.1h0M217.8 144.1h0M230.8 141.4h0M233.1 145.5h0M255.4 100.7h0M271.7 178.1h0M197.8 154.7h0M264.3 178.1h0M209.9 131.1h0M208.1 149.2h0M271.9 173.8h0M200.9 144.5h0M238.4 102.1h0M182.5 140.7h0M269.3 121.2h0M209.2 150.9h0M182.9 107.7h0M262.5 101.7h0M248.0 101.6h0M244.9 120.6h0M221.1 164.3h0M212.1 164.4h0M267.1 131.2h0M223.0 132.9h0M267.1 126.0h0M253.1 126.3h0M212.0 138.0h0M208.8 132.2h0M242.5 113.3h0M236.5 139.2h0M232.0 116.6h0M217.3 130.6h0M212.2 144.2h0M213.9 127.8h0M177.4 118.1h0M243.3 178.2h0M212.6 117.3h0M250.5 125.6h0M253.7 134.8h0" stroke="#2808ff" stroke-width="1.5"/>
<path d="M217.7 120.7h0M268.1 129.0h0M231.2 170.3h0M222.1 180.5h0M244.3 159.0h0M210.3 136.9h0M225.5 133.8h0M253.3 119.6h0M264.9 110.4h0M208.2 141.7h0M169.6 108.9h0M195.5 134.3h0M215.5 105.1h0M206.7 154.2h0M235.2 132.1h0M245.5 101.8h0M228.9 108.1h0M224.0 136.1h0M211.7 117.0h0M227.8 165.1h0M212.7 147.9h0M247.7 128.6h0M255.0 129.3h0" stroke="#2200e8" stroke-width="1.0"/>
<path d="M216.1 157.6h0M267.3 104.4h0M223.7 110.3h0M272.9 121.4h0M222.6 144.7h0M257.3 126.2h0M242.2 128.7h0M195.5 117.5h0M253.4 132.6h0M230.5 174.3h0M245.1 158.3h0M230.8 112.7h0M215.6 112.9h0M230.8 103.8h0M224.0 125.8h0M220.7 114.1h0M252.3 118.9h0M271.4 180.5h0M256.9 131.5h0M169.5 130.2h0M171.2 111.4h0M237.6 131.2h0M230.4 178.9h0M196.7 163.1h0M217.5 160.9h0M240.9 134.6h0M182.1 133.7h0M269.4 170.6h0M208.8 102.2h0M209.1 112.2h0M252.9 175.1h0M234.4 169.9h0M206.4 150.3h0M187.6 113.8h0M270.9 103.9h0M272.2 175.9h0M191.3 128.3h0M195.7 106.4h0M274.4 143.9h0M185.4 104.1h0M237.6 136.2h0M212.1 138.3h0M244.4 104.4h0M176.5 136.4h0M193.4 134.9h0M237.8 130.7h0M220.8 143.2h0M198.0 166.9h0M225.7 122.7h0M168.9 126.3h0M247.3 100.9h0M205.0 150.9h0M185.9 137.3h0M201.4 122.1h0M198.2 150.1h0M205.6 147.4h0M229.9 156.9h0M232.1 110.7h0M173.1 120.9h0M188.7 136.6h0M169.2 103.3h0M205.1 110.3h0" stroke="#3014ff" stroke-width="2.0"/>
<path d="M269.1 117.0h0M216.9 115.6h0M175.6 129.8h0M226.6 175.8h0M227.7 123.3h0M203.8 144.2h0M221.8 161.3h0M271.7 118.5h0M220.6 175.8h0M246.3 170.5h0M230.1 102.1h0M174.2 106.1h0M221.0 168.5h0M233.1 179.1h0M236.2 132.1h0M199.9 107.8h0M231.2 128.2h0M255.0 116.3h0M194.8 127.8h0M230.6 125.3h0M246.7 107.3h0M200.9 105.8h0M216.3 104.9h0M257.0 104.7h0M202.5 108.8h0M217.2 133.0h0M269.8 120.3h0M233.6 124.5h0M192.8 152.4h0M227.6 155.6h0M238.5 115.6h0M208.7 107.3h0M191.5 133.2h0M262.0 113.1h0M261.4 180.3h0M209.7 140.4h0M197.1 111.3h0" stroke="#2808ff" stroke-width="1.0"/>
<path d="M268.4 108.9h0M243.5 112.2h0M232.9 158.9h0M210.9 162.6h0M208.2 142.5h0M235.9 133.9h0M233.3 141.5h0M243.4 116.5h0M273.4 179.4h0M213.0 134.2h0M245.9 118.7h0M249.8 106.9h0M180.4 130.3h0" stroke="#3014ff" stroke-width="1.0"/>
<path d="M195.4 120.9h0M204.7 116.4h0M168.8 132.1h0M210.0 137.3h0M206.9 140.4h0M184.4 126.5h0M180.8 144.9h0M205.1 107.4h0M169.8 116.0h0M203.0 133.2h0M255.3 148.0h0M195.0 165.1h0" stroke="#c83080" stroke-width="2.5"/>
<path d="M246.9 105.5h0M208.8 120.3h0M208.4 108.9h0M174.4 118.5h0M214.6 113.1h0M226.0 111.7h0M178.8 112.1h0M214.8 118.5h0M225.9 110.9h0M175.3 120.1h0M202.5 142.3h0M255.6 146.2h0M220.9 109.1h0M212.4 104.8h0M231.3 154.0h0" stroke="#ff48b0" stroke-width="2.0"/>
<path d="M210.0 137.2h0M226.2 128.9h0M202.4 118.2h0M217.4 121.3h0M237.3 113.7h0M261.4 110.4h0M225.5 123.1h0M229.2 135.5h0M191.2 153.9h0M238.2 104.6h0M209.4 135.5h0M226.7 127.5h0M216.9 103.0h0M196.7 153.4h0M242.8 118.4h0" stroke="#c83080" stroke-width="2.0"/>
<path d="M172.2 129.0h0M237.9 162.3h0M241.3 123.0h0M208.7 104.3h0M175.6 109.2h0M179.0 119.6h0M250.1 149.1h0M236.7 126.2h0M203.8 100.5h0M207.5 116.2h0" stroke="#ff48b0" stroke-width="2.5"/>
<path d="M195.3 114.7h0M229.0 178.1h0M213.0 107.6h0M207.3 123.8h0M229.6 108.4h0M214.6 134.3h0" stroke="#e03890" stroke-width="2.5"/>
<path d="M238.7 119.2h0M259.7 137.9h0M257.9 117.5h0M210.4 101.0h0M179.7 104.4h0M204.7 118.4h0M248.6 128.2h0M214.5 151.9h0M209.2 134.5h0M207.5 105.7h0M223.7 156.6h0M180.0 106.2h0M223.2 131.8h0M214.2 145.7h0M236.9 104.5h0M196.9 123.6h0M194.5 129.1h0M257.1 105.9h0M203.8 111.0h0M187.5 103.5h0M228.6 108.3h0" stroke="#e03890" stroke-width="2.0"/>
</g></g>
<text x="246.80" y="159.70" font-size="12" font-weight="bold" fill="#b0307e" textLength="22.20" lengthAdjust="spacingAndGlyphs" >EdU</text>
<text x="242.00" y="176.20" font-size="12" font-weight="bold" fill="#6c80ea" textLength="27.20" lengthAdjust="spacingAndGlyphs" >DAPI</text>
<text x="346.00" y="12.50" font-size="16" font-weight="bold" >b</text>
<line x1="406.30" y1="16.50" x2="406.30" y2="160.30" stroke="#000" stroke-width="1.4" />
<line x1="405.60" y1="159.60" x2="620.60" y2="159.60" stroke="#000" stroke-width="1.4" />
<line x1="402.00" y1="17.10" x2="406.30" y2="17.10" stroke="#000" stroke-width="1.2" />
<text x="397.60" y="19.60" font-size="7" font-weight="bold" text-anchor="end" >10</text>
<text x="398.40" y="16.70" font-size="4.2" font-weight="bold" >3</text>
<line x1="402.00" y1="88.60" x2="406.30" y2="88.60" stroke="#000" stroke-width="1.2" />
<text x="397.60" y="91.10" font-size="7" font-weight="bold" text-anchor="end" >10</text>
<text x="398.40" y="88.20" font-size="4.2" font-weight="bold" >2</text>
<line x1="402.00" y1="159.60" x2="406.30" y2="159.60" stroke="#000" stroke-width="1.2" />
<text x="397.60" y="162.10" font-size="7" font-weight="bold" text-anchor="end" >10</text>
<text x="398.40" y="159.20" font-size="4.2" font-weight="bold" >1</text>
<line x1="419.60" y1="159.60" x2="419.60" y2="163.60" stroke="#000" stroke-width="1.2" />
<text x="419.60" y="171.20" font-size="6.6" font-weight="bold" text-anchor="middle" >UT</text>
<line x1="446.10" y1="159.60" x2="446.10" y2="163.60" stroke="#000" stroke-width="1.2" />
<text x="446.10" y="171.20" font-size="6.6" font-weight="bold" text-anchor="middle" >1</text>
<line x1="472.70" y1="159.60" x2="472.70" y2="163.60" stroke="#000" stroke-width="1.2" />
<text x="472.70" y="171.20" font-size="6.6" font-weight="bold" text-anchor="middle" >3</text>
<line x1="499.60" y1="159.60" x2="499.60" y2="163.60" stroke="#000" stroke-width="1.2" />
<text x="499.60" y="171.20" font-size="6.6" font-weight="bold" text-anchor="middle" >6</text>
<line x1="526.30" y1="159.60" x2="526.30" y2="163.60" stroke="#000" stroke-width="1.2" />
<text x="526.30" y="171.20" font-size="6.6" font-weight="bold" text-anchor="middle" >10</text>
<line x1="553.10" y1="159.60" x2="553.10" y2="163.60" stroke="#000" stroke-width="1.2" />
<text x="553.10" y="171.20" font-size="6.6" font-weight="bold" text-anchor="middle" >18</text>
<line x1="580.00" y1="159.60" x2="580.00" y2="163.60" stroke="#000" stroke-width="1.2" />
<text x="580.00" y="171.20" font-size="6.6" font-weight="bold" text-anchor="middle" >25</text>
<line x1="606.70" y1="159.60" x2="606.70" y2="163.60" stroke="#000" stroke-width="1.2" />
<text x="606.70" y="171.20" font-size="6.6" font-weight="bold" text-anchor="middle" >100</text>
<text x="464.40" y="185.40" font-size="7.5" fill="#222" textLength="97.00" lengthAdjust="spacingAndGlyphs" >Paclitaxel concentration (nM)</text>
<text x="375.80" y="88.80" font-size="7.5" font-weight="bold" text-anchor="middle" transform="rotate(-90 375.80 88.80)" >Percentage of replicating cells</text>
<text x="385.20" y="88.80" font-size="7.5" font-weight="bold" text-anchor="middle" transform="rotate(-90 385.20 88.80)" >(EdU/DAPI) relative to control;log10</text>
<line x1="446.10" y1="63.00" x2="446.10" y2="83.00" stroke="#d583b8" stroke-width="0.9" />
<line x1="443.70" y1="63.00" x2="448.50" y2="63.00" stroke="#d583b8" stroke-width="0.9" />
<line x1="443.70" y1="83.00" x2="448.50" y2="83.00" stroke="#d583b8" stroke-width="0.9" />
<line x1="472.70" y1="44.00" x2="472.70" y2="74.00" stroke="#d583b8" stroke-width="0.9" />
<line x1="470.30" y1="44.00" x2="475.10" y2="44.00" stroke="#d583b8" stroke-width="0.9" />
<line x1="470.30" y1="74.00" x2="475.10" y2="74.00" stroke="#d583b8" stroke-width="0.9" />
<line x1="499.60" y1="64.00" x2="499.60" y2="84.00" stroke="#d583b8" stroke-width="0.9" />
<line x1="497.20" y1="64.00" x2="502.00" y2="64.00" stroke="#d583b8" stroke-width="0.9" />
<line x1="497.20" y1="84.00" x2="502.00" y2="84.00" stroke="#d583b8" stroke-width="0.9" />
<line x1="526.30" y1="66.00" x2="526.30" y2="84.00" stroke="#d583b8" stroke-width="0.9" />
<line x1="523.90" y1="66.00" x2="528.70" y2="66.00" stroke="#d583b8" stroke-width="0.9" />
<line x1="523.90" y1="84.00" x2="528.70" y2="84.00" stroke="#d583b8" stroke-width="0.9" />
<line x1="553.10" y1="73.00" x2="553.10" y2="91.00" stroke="#d583b8" stroke-width="0.9" />
<line x1="550.70" y1="73.00" x2="555.50" y2="73.00" stroke="#d583b8" stroke-width="0.9" />
<line x1="550.70" y1="91.00" x2="555.50" y2="91.00" stroke="#d583b8" stroke-width="0.9" />
<line x1="580.00" y1="81.00" x2="580.00" y2="99.00" stroke="#d583b8" stroke-width="0.9" />
<line x1="577.60" y1="81.00" x2="582.40" y2="81.00" stroke="#d583b8" stroke-width="0.9" />
<line x1="577.60" y1="99.00" x2="582.40" y2="99.00" stroke="#d583b8" stroke-width="0.9" />
<line x1="606.70" y1="85.00" x2="606.70" y2="105.00" stroke="#d583b8" stroke-width="0.9" />
<line x1="604.30" y1="85.00" x2="609.10" y2="85.00" stroke="#d583b8" stroke-width="0.9" />
<line x1="604.30" y1="105.00" x2="609.10" y2="105.00" stroke="#d583b8" stroke-width="0.9" />
<line x1="446.10" y1="69.00" x2="446.10" y2="81.00" stroke="#d583b8" stroke-width="0.9" />
<line x1="443.70" y1="69.00" x2="448.50" y2="69.00" stroke="#d583b8" stroke-width="0.9" />
<line x1="443.70" y1="81.00" x2="448.50" y2="81.00" stroke="#d583b8" stroke-width="0.9" />
<line x1="472.70" y1="72.00" x2="472.70" y2="84.00" stroke="#d583b8" stroke-width="0.9" />
<line x1="470.30" y1="72.00" x2="475.10" y2="72.00" stroke="#d583b8" stroke-width="0.9" />
<line x1="470.30" y1="84.00" x2="475.10" y2="84.00" stroke="#d583b8" stroke-width="0.9" />
<line x1="499.60" y1="74.00" x2="499.60" y2="86.00" stroke="#d583b8" stroke-width="0.9" />
<line x1="497.20" y1="74.00" x2="502.00" y2="74.00" stroke="#d583b8" stroke-width="0.9" />
<line x1="497.20" y1="86.00" x2="502.00" y2="86.00" stroke="#d583b8" stroke-width="0.9" />
<line x1="526.30" y1="74.00" x2="526.30" y2="86.00" stroke="#d583b8" stroke-width="0.9" />
<line x1="523.90" y1="74.00" x2="528.70" y2="74.00" stroke="#d583b8" stroke-width="0.9" />
<line x1="523.90" y1="86.00" x2="528.70" y2="86.00" stroke="#d583b8" stroke-width="0.9" />
<line x1="553.10" y1="78.00" x2="553.10" y2="94.00" stroke="#d583b8" stroke-width="0.9" />
<line x1="550.70" y1="78.00" x2="555.50" y2="78.00" stroke="#d583b8" stroke-width="0.9" />
<line x1="550.70" y1="94.00" x2="555.50" y2="94.00" stroke="#d583b8" stroke-width="0.9" />
<line x1="580.00" y1="84.00" x2="580.00" y2="96.00" stroke="#d583b8" stroke-width="0.9" />
<line x1="577.60" y1="84.00" x2="582.40" y2="84.00" stroke="#d583b8" stroke-width="0.9" />
<line x1="577.60" y1="96.00" x2="582.40" y2="96.00" stroke="#d583b8" stroke-width="0.9" />
<line x1="606.70" y1="92.00" x2="606.70" y2="104.00" stroke="#d583b8" stroke-width="0.9" />
<line x1="604.30" y1="92.00" x2="609.10" y2="92.00" stroke="#d583b8" stroke-width="0.9" />
<line x1="604.30" y1="104.00" x2="609.10" y2="104.00" stroke="#d583b8" stroke-width="0.9" />
<line x1="446.10" y1="80.00" x2="446.10" y2="92.00" stroke="#d583b8" stroke-width="0.9" />
<line x1="443.70" y1="80.00" x2="448.50" y2="80.00" stroke="#d583b8" stroke-width="0.9" />
<line x1="443.70" y1="92.00" x2="448.50" y2="92.00" stroke="#d583b8" stroke-width="0.9" />
<line x1="472.70" y1="89.00" x2="472.70" y2="101.00" stroke="#d583b8" stroke-width="0.9" />
<line x1="470.30" y1="89.00" x2="475.10" y2="89.00" stroke="#d583b8" stroke-width="0.9" />
<line x1="470.30" y1="101.00" x2="475.10" y2="101.00" stroke="#d583b8" stroke-width="0.9" />
<line x1="499.60" y1="103.20" x2="499.60" y2="111.20" stroke="#d583b8" stroke-width="0.9" />
<line x1="497.20" y1="103.20" x2="502.00" y2="103.20" stroke="#d583b8" stroke-width="0.9" />
<line x1="497.20" y1="111.20" x2="502.00" y2="111.20" stroke="#d583b8" stroke-width="0.9" />
<line x1="526.30" y1="117.90" x2="526.30" y2="123.90" stroke="#d583b8" stroke-width="0.9" />
<line x1="523.90" y1="117.90" x2="528.70" y2="117.90" stroke="#d583b8" stroke-width="0.9" />
<line x1="523.90" y1="123.90" x2="528.70" y2="123.90" stroke="#d583b8" stroke-width="0.9" />
<line x1="553.10" y1="107.80" x2="553.10" y2="119.80" stroke="#d583b8" stroke-width="0.9" />
<line x1="550.70" y1="107.80" x2="555.50" y2="107.80" stroke="#d583b8" stroke-width="0.9" />
<line x1="550.70" y1="119.80" x2="555.50" y2="119.80" stroke="#d583b8" stroke-width="0.9" />
<line x1="580.00" y1="111.00" x2="580.00" y2="123.00" stroke="#d583b8" stroke-width="0.9" />
<line x1="577.60" y1="111.00" x2="582.40" y2="111.00" stroke="#d583b8" stroke-width="0.9" />
<line x1="577.60" y1="123.00" x2="582.40" y2="123.00" stroke="#d583b8" stroke-width="0.9" />
<line x1="606.70" y1="124.50" x2="606.70" y2="132.50" stroke="#d583b8" stroke-width="0.9" />
<line x1="604.30" y1="124.50" x2="609.10" y2="124.50" stroke="#d583b8" stroke-width="0.9" />
<line x1="604.30" y1="132.50" x2="609.10" y2="132.50" stroke="#d583b8" stroke-width="0.9" />
<line x1="446.10" y1="47.70" x2="446.10" y2="71.70" stroke="#d583b8" stroke-width="0.9" />
<line x1="443.70" y1="47.70" x2="448.50" y2="47.70" stroke="#d583b8" stroke-width="0.9" />
<line x1="443.70" y1="71.70" x2="448.50" y2="71.70" stroke="#d583b8" stroke-width="0.9" />
<line x1="472.70" y1="58.80" x2="472.70" y2="78.80" stroke="#d583b8" stroke-width="0.9" />
<line x1="470.30" y1="58.80" x2="475.10" y2="58.80" stroke="#d583b8" stroke-width="0.9" />
<line x1="470.30" y1="78.80" x2="475.10" y2="78.80" stroke="#d583b8" stroke-width="0.9" />
<line x1="499.60" y1="65.20" x2="499.60" y2="83.20" stroke="#d583b8" stroke-width="0.9" />
<line x1="497.20" y1="65.20" x2="502.00" y2="65.20" stroke="#d583b8" stroke-width="0.9" />
<line x1="497.20" y1="83.20" x2="502.00" y2="83.20" stroke="#d583b8" stroke-width="0.9" />
<line x1="526.30" y1="44.90" x2="526.30" y2="68.90" stroke="#d583b8" stroke-width="0.9" />
<line x1="523.90" y1="44.90" x2="528.70" y2="44.90" stroke="#d583b8" stroke-width="0.9" />
<line x1="523.90" y1="68.90" x2="528.70" y2="68.90" stroke="#d583b8" stroke-width="0.9" />
<line x1="553.10" y1="48.60" x2="553.10" y2="72.60" stroke="#d583b8" stroke-width="0.9" />
<line x1="550.70" y1="48.60" x2="555.50" y2="48.60" stroke="#d583b8" stroke-width="0.9" />
<line x1="550.70" y1="72.60" x2="555.50" y2="72.60" stroke="#d583b8" stroke-width="0.9" />
<line x1="580.00" y1="61.00" x2="580.00" y2="81.00" stroke="#d583b8" stroke-width="0.9" />
<line x1="577.60" y1="61.00" x2="582.40" y2="61.00" stroke="#d583b8" stroke-width="0.9" />
<line x1="577.60" y1="81.00" x2="582.40" y2="81.00" stroke="#d583b8" stroke-width="0.9" />
<line x1="606.70" y1="56.00" x2="606.70" y2="72.00" stroke="#d583b8" stroke-width="0.9" />
<line x1="604.30" y1="56.00" x2="609.10" y2="56.00" stroke="#d583b8" stroke-width="0.9" />
<line x1="604.30" y1="72.00" x2="609.10" y2="72.00" stroke="#d583b8" stroke-width="0.9" />
<line x1="446.10" y1="67.00" x2="446.10" y2="83.00" stroke="#d583b8" stroke-width="0.9" />
<line x1="443.70" y1="67.00" x2="448.50" y2="67.00" stroke="#d583b8" stroke-width="0.9" />
<line x1="443.70" y1="83.00" x2="448.50" y2="83.00" stroke="#d583b8" stroke-width="0.9" />
<line x1="472.70" y1="78.00" x2="472.70" y2="94.00" stroke="#d583b8" stroke-width="0.9" />
<line x1="470.30" y1="78.00" x2="475.10" y2="78.00" stroke="#d583b8" stroke-width="0.9" />
<line x1="470.30" y1="94.00" x2="475.10" y2="94.00" stroke="#d583b8" stroke-width="0.9" />
<line x1="499.60" y1="78.00" x2="499.60" y2="94.00" stroke="#d583b8" stroke-width="0.9" />
<line x1="497.20" y1="78.00" x2="502.00" y2="78.00" stroke="#d583b8" stroke-width="0.9" />
<line x1="497.20" y1="94.00" x2="502.00" y2="94.00" stroke="#d583b8" stroke-width="0.9" />
<line x1="526.30" y1="72.00" x2="526.30" y2="88.00" stroke="#d583b8" stroke-width="0.9" />
<line x1="523.90" y1="72.00" x2="528.70" y2="72.00" stroke="#d583b8" stroke-width="0.9" />
<line x1="523.90" y1="88.00" x2="528.70" y2="88.00" stroke="#d583b8" stroke-width="0.9" />
<line x1="553.10" y1="72.00" x2="553.10" y2="88.00" stroke="#d583b8" stroke-width="0.9" />
<line x1="550.70" y1="72.00" x2="555.50" y2="72.00" stroke="#d583b8" stroke-width="0.9" />
<line x1="550.70" y1="88.00" x2="555.50" y2="88.00" stroke="#d583b8" stroke-width="0.9" />
<line x1="580.00" y1="77.00" x2="580.00" y2="93.00" stroke="#d583b8" stroke-width="0.9" />
<line x1="577.60" y1="77.00" x2="582.40" y2="77.00" stroke="#d583b8" stroke-width="0.9" />
<line x1="577.60" y1="93.00" x2="582.40" y2="93.00" stroke="#d583b8" stroke-width="0.9" />
<line x1="606.70" y1="56.50" x2="606.70" y2="72.50" stroke="#d583b8" stroke-width="0.9" />
<line x1="604.30" y1="56.50" x2="609.10" y2="56.50" stroke="#d583b8" stroke-width="0.9" />
<line x1="604.30" y1="72.50" x2="609.10" y2="72.50" stroke="#d583b8" stroke-width="0.9" />
<line x1="446.10" y1="72.00" x2="446.10" y2="88.00" stroke="#d583b8" stroke-width="0.9" />
<line x1="443.70" y1="72.00" x2="448.50" y2="72.00" stroke="#d583b8" stroke-width="0.9" />
<line x1="443.70" y1="88.00" x2="448.50" y2="88.00" stroke="#d583b8" stroke-width="0.9" />
<line x1="472.70" y1="80.00" x2="472.70" y2="96.00" stroke="#d583b8" stroke-width="0.9" />
<line x1="470.30" y1="80.00" x2="475.10" y2="80.00" stroke="#d583b8" stroke-width="0.9" />
<line x1="470.30" y1="96.00" x2="475.10" y2="96.00" stroke="#d583b8" stroke-width="0.9" />
<line x1="499.60" y1="78.00" x2="499.60" y2="94.00" stroke="#d583b8" stroke-width="0.9" />
<line x1="497.20" y1="78.00" x2="502.00" y2="78.00" stroke="#d583b8" stroke-width="0.9" />
<line x1="497.20" y1="94.00" x2="502.00" y2="94.00" stroke="#d583b8" stroke-width="0.9" />
<line x1="526.30" y1="82.00" x2="526.30" y2="98.00" stroke="#d583b8" stroke-width="0.9" />
<line x1="523.90" y1="82.00" x2="528.70" y2="82.00" stroke="#d583b8" stroke-width="0.9" />
<line x1="523.90" y1="98.00" x2="528.70" y2="98.00" stroke="#d583b8" stroke-width="0.9" />
<line x1="553.10" y1="77.00" x2="553.10" y2="93.00" stroke="#d583b8" stroke-width="0.9" />
<line x1="550.70" y1="77.00" x2="555.50" y2="77.00" stroke="#d583b8" stroke-width="0.9" />
<line x1="550.70" y1="93.00" x2="555.50" y2="93.00" stroke="#d583b8" stroke-width="0.9" />
<line x1="580.00" y1="87.00" x2="580.00" y2="103.00" stroke="#d583b8" stroke-width="0.9" />
<line x1="577.60" y1="87.00" x2="582.40" y2="87.00" stroke="#d583b8" stroke-width="0.9" />
<line x1="577.60" y1="103.00" x2="582.40" y2="103.00" stroke="#d583b8" stroke-width="0.9" />
<line x1="606.70" y1="84.00" x2="606.70" y2="100.00" stroke="#d583b8" stroke-width="0.9" />
<line x1="604.30" y1="84.00" x2="609.10" y2="84.00" stroke="#d583b8" stroke-width="0.9" />
<line x1="604.30" y1="100.00" x2="609.10" y2="100.00" stroke="#d583b8" stroke-width="0.9" />
<line x1="446.10" y1="48.30" x2="446.10" y2="92.30" stroke="#d583b8" stroke-width="0.9" />
<line x1="443.70" y1="48.30" x2="448.50" y2="48.30" stroke="#d583b8" stroke-width="0.9" />
<line x1="443.70" y1="92.30" x2="448.50" y2="92.30" stroke="#d583b8" stroke-width="0.9" />
<line x1="472.70" y1="70.60" x2="472.70" y2="86.60" stroke="#d583b8" stroke-width="0.9" />
<line x1="470.30" y1="70.60" x2="475.10" y2="70.60" stroke="#d583b8" stroke-width="0.9" />
<line x1="470.30" y1="86.60" x2="475.10" y2="86.60" stroke="#d583b8" stroke-width="0.9" />
<line x1="499.60" y1="77.00" x2="499.60" y2="93.00" stroke="#d583b8" stroke-width="0.9" />
<line x1="497.20" y1="77.00" x2="502.00" y2="77.00" stroke="#d583b8" stroke-width="0.9" />
<line x1="497.20" y1="93.00" x2="502.00" y2="93.00" stroke="#d583b8" stroke-width="0.9" />
<line x1="526.30" y1="80.00" x2="526.30" y2="96.00" stroke="#d583b8" stroke-width="0.9" />
<line x1="523.90" y1="80.00" x2="528.70" y2="80.00" stroke="#d583b8" stroke-width="0.9" />
<line x1="523.90" y1="96.00" x2="528.70" y2="96.00" stroke="#d583b8" stroke-width="0.9" />
<line x1="553.10" y1="87.00" x2="553.10" y2="103.00" stroke="#d583b8" stroke-width="0.9" />
<line x1="550.70" y1="87.00" x2="555.50" y2="87.00" stroke="#d583b8" stroke-width="0.9" />
<line x1="550.70" y1="103.00" x2="555.50" y2="103.00" stroke="#d583b8" stroke-width="0.9" />
<line x1="580.00" y1="84.00" x2="580.00" y2="100.00" stroke="#d583b8" stroke-width="0.9" />
<line x1="577.60" y1="84.00" x2="582.40" y2="84.00" stroke="#d583b8" stroke-width="0.9" />
<line x1="577.60" y1="100.00" x2="582.40" y2="100.00" stroke="#d583b8" stroke-width="0.9" />
<line x1="606.70" y1="85.00" x2="606.70" y2="101.00" stroke="#d583b8" stroke-width="0.9" />
<line x1="604.30" y1="85.00" x2="609.10" y2="85.00" stroke="#d583b8" stroke-width="0.9" />
<line x1="604.30" y1="101.00" x2="609.10" y2="101.00" stroke="#d583b8" stroke-width="0.9" />
<line x1="446.10" y1="83.00" x2="446.10" y2="91.00" stroke="#6d1862" stroke-width="0.9" />
<line x1="443.70" y1="83.00" x2="448.50" y2="83.00" stroke="#6d1862" stroke-width="0.9" />
<line x1="443.70" y1="91.00" x2="448.50" y2="91.00" stroke="#6d1862" stroke-width="0.9" />
<line x1="472.70" y1="84.00" x2="472.70" y2="100.00" stroke="#6d1862" stroke-width="0.9" />
<line x1="470.30" y1="84.00" x2="475.10" y2="84.00" stroke="#6d1862" stroke-width="0.9" />
<line x1="470.30" y1="100.00" x2="475.10" y2="100.00" stroke="#6d1862" stroke-width="0.9" />
<line x1="499.60" y1="86.00" x2="499.60" y2="98.00" stroke="#6d1862" stroke-width="0.9" />
<line x1="497.20" y1="86.00" x2="502.00" y2="86.00" stroke="#6d1862" stroke-width="0.9" />
<line x1="497.20" y1="98.00" x2="502.00" y2="98.00" stroke="#6d1862" stroke-width="0.9" />
<line x1="526.30" y1="94.60" x2="526.30" y2="114.60" stroke="#6d1862" stroke-width="0.9" />
<line x1="523.90" y1="94.60" x2="528.70" y2="94.60" stroke="#6d1862" stroke-width="0.9" />
<line x1="523.90" y1="114.60" x2="528.70" y2="114.60" stroke="#6d1862" stroke-width="0.9" />
<line x1="553.10" y1="103.30" x2="553.10" y2="123.30" stroke="#6d1862" stroke-width="0.9" />
<line x1="550.70" y1="103.30" x2="555.50" y2="103.30" stroke="#6d1862" stroke-width="0.9" />
<line x1="550.70" y1="123.30" x2="555.50" y2="123.30" stroke="#6d1862" stroke-width="0.9" />
<line x1="580.00" y1="94.00" x2="580.00" y2="140.00" stroke="#6d1862" stroke-width="0.9" />
<line x1="577.60" y1="94.00" x2="582.40" y2="94.00" stroke="#6d1862" stroke-width="0.9" />
<line x1="577.60" y1="140.00" x2="582.40" y2="140.00" stroke="#6d1862" stroke-width="0.9" />
<line x1="606.70" y1="125.60" x2="606.70" y2="133.60" stroke="#6d1862" stroke-width="0.9" />
<line x1="604.30" y1="125.60" x2="609.10" y2="125.60" stroke="#6d1862" stroke-width="0.9" />
<line x1="604.30" y1="133.60" x2="609.10" y2="133.60" stroke="#6d1862" stroke-width="0.9" />
<line x1="446.10" y1="80.00" x2="446.10" y2="90.00" stroke="#6d1862" stroke-width="0.9" />
<line x1="443.70" y1="80.00" x2="448.50" y2="80.00" stroke="#6d1862" stroke-width="0.9" />
<line x1="443.70" y1="90.00" x2="448.50" y2="90.00" stroke="#6d1862" stroke-width="0.9" />
<line x1="472.70" y1="81.40" x2="472.70" y2="97.40" stroke="#6d1862" stroke-width="0.9" />
<line x1="470.30" y1="81.40" x2="475.10" y2="81.40" stroke="#6d1862" stroke-width="0.9" />
<line x1="470.30" y1="97.40" x2="475.10" y2="97.40" stroke="#6d1862" stroke-width="0.9" />
<line x1="499.60" y1="82.00" x2="499.60" y2="98.00" stroke="#6d1862" stroke-width="0.9" />
<line x1="497.20" y1="82.00" x2="502.00" y2="82.00" stroke="#6d1862" stroke-width="0.9" />
<line x1="497.20" y1="98.00" x2="502.00" y2="98.00" stroke="#6d1862" stroke-width="0.9" />
<line x1="526.30" y1="88.40" x2="526.30" y2="104.40" stroke="#6d1862" stroke-width="0.9" />
<line x1="523.90" y1="88.40" x2="528.70" y2="88.40" stroke="#6d1862" stroke-width="0.9" />
<line x1="523.90" y1="104.40" x2="528.70" y2="104.40" stroke="#6d1862" stroke-width="0.9" />
<line x1="553.10" y1="76.40" x2="553.10" y2="112.40" stroke="#6d1862" stroke-width="0.9" />
<line x1="550.70" y1="76.40" x2="555.50" y2="76.40" stroke="#6d1862" stroke-width="0.9" />
<line x1="550.70" y1="112.40" x2="555.50" y2="112.40" stroke="#6d1862" stroke-width="0.9" />
<line x1="580.00" y1="96.00" x2="580.00" y2="112.00" stroke="#6d1862" stroke-width="0.9" />
<line x1="577.60" y1="96.00" x2="582.40" y2="96.00" stroke="#6d1862" stroke-width="0.9" />
<line x1="577.60" y1="112.00" x2="582.40" y2="112.00" stroke="#6d1862" stroke-width="0.9" />
<line x1="606.70" y1="113.40" x2="606.70" y2="125.40" stroke="#6d1862" stroke-width="0.9" />
<line x1="604.30" y1="113.40" x2="609.10" y2="113.40" stroke="#6d1862" stroke-width="0.9" />
<line x1="604.30" y1="125.40" x2="609.10" y2="125.40" stroke="#6d1862" stroke-width="0.9" />
<line x1="446.10" y1="83.30" x2="446.10" y2="91.30" stroke="#6d1862" stroke-width="0.9" />
<line x1="443.70" y1="83.30" x2="448.50" y2="83.30" stroke="#6d1862" stroke-width="0.9" />
<line x1="443.70" y1="91.30" x2="448.50" y2="91.30" stroke="#6d1862" stroke-width="0.9" />
<line x1="472.70" y1="87.80" x2="472.70" y2="99.80" stroke="#6d1862" stroke-width="0.9" />
<line x1="470.30" y1="87.80" x2="475.10" y2="87.80" stroke="#6d1862" stroke-width="0.9" />
<line x1="470.30" y1="99.80" x2="475.10" y2="99.80" stroke="#6d1862" stroke-width="0.9" />
<line x1="499.60" y1="75.10" x2="499.60" y2="85.10" stroke="#6d1862" stroke-width="0.9" />
<line x1="497.20" y1="75.10" x2="502.00" y2="75.10" stroke="#6d1862" stroke-width="0.9" />
<line x1="497.20" y1="85.10" x2="502.00" y2="85.10" stroke="#6d1862" stroke-width="0.9" />
<line x1="526.30" y1="81.70" x2="526.30" y2="93.70" stroke="#6d1862" stroke-width="0.9" />
<line x1="523.90" y1="81.70" x2="528.70" y2="81.70" stroke="#6d1862" stroke-width="0.9" />
<line x1="523.90" y1="93.70" x2="528.70" y2="93.70" stroke="#6d1862" stroke-width="0.9" />
<line x1="553.10" y1="78.00" x2="553.10" y2="90.00" stroke="#6d1862" stroke-width="0.9" />
<line x1="550.70" y1="78.00" x2="555.50" y2="78.00" stroke="#6d1862" stroke-width="0.9" />
<line x1="550.70" y1="90.00" x2="555.50" y2="90.00" stroke="#6d1862" stroke-width="0.9" />
<line x1="580.00" y1="91.00" x2="580.00" y2="103.00" stroke="#6d1862" stroke-width="0.9" />
<line x1="577.60" y1="91.00" x2="582.40" y2="91.00" stroke="#6d1862" stroke-width="0.9" />
<line x1="577.60" y1="103.00" x2="582.40" y2="103.00" stroke="#6d1862" stroke-width="0.9" />
<line x1="606.70" y1="81.20" x2="606.70" y2="91.20" stroke="#6d1862" stroke-width="0.9" />
<line x1="604.30" y1="81.20" x2="609.10" y2="81.20" stroke="#6d1862" stroke-width="0.9" />
<line x1="604.30" y1="91.20" x2="609.10" y2="91.20" stroke="#6d1862" stroke-width="0.9" />
<polyline points="419.60,88.60 446.10,73.00 472.70,59.00 499.60,74.00 526.30,75.00 553.10,82.00 580.00,90.00 606.70,95.00" fill="none" stroke="#d583b8" stroke-width="0.9" />
<polyline points="419.60,88.60 446.10,75.00 472.70,78.00 499.60,80.00 526.30,80.00 553.10,86.00 580.00,90.00 606.70,98.00" fill="none" stroke="#d583b8" stroke-width="0.9" />
<polyline points="419.60,88.60 446.10,86.00 472.70,95.00 499.60,107.20 526.30,120.90 553.10,113.80 580.00,117.00 606.70,128.50" fill="none" stroke="#d583b8" stroke-width="0.9" />
<polyline points="419.60,88.60 446.10,59.70 472.70,68.80 499.60,74.20 526.30,56.90 553.10,60.60 580.00,71.00 606.70,64.00" fill="none" stroke="#d583b8" stroke-width="0.9" />
<polyline points="419.60,88.60 446.10,75.00 472.70,86.00 499.60,86.00 526.30,80.00 553.10,80.00 580.00,85.00 606.70,64.50" fill="none" stroke="#d583b8" stroke-width="0.9" />
<polyline points="419.60,88.60 446.10,80.00 472.70,88.00 499.60,86.00 526.30,90.00 553.10,85.00 580.00,95.00 606.70,92.00" fill="none" stroke="#d583b8" stroke-width="0.9" />
<polyline points="419.60,88.60 446.10,70.30 472.70,78.60 499.60,85.00 526.30,88.00 553.10,95.00 580.00,92.00 606.70,93.00" fill="none" stroke="#d583b8" stroke-width="0.9" />
<polyline points="419.60,88.60 446.10,87.00 472.70,92.00 499.60,92.00 526.30,104.60 553.10,113.30 580.00,117.00 606.70,129.60" fill="none" stroke="#6d1862" stroke-width="0.9" />
<polyline points="419.60,88.60 446.10,85.00 472.70,89.40 499.60,90.00 526.30,96.40 553.10,94.40 580.00,104.00 606.70,119.40" fill="none" stroke="#6d1862" stroke-width="0.9" />
<polyline points="419.60,88.60 446.10,87.30 472.70,93.80 499.60,80.10 526.30,87.70 553.10,84.00 580.00,97.00 606.70,86.20" fill="none" stroke="#6d1862" stroke-width="0.9" />
<path d="M419.60 85.60L422.60 90.68L416.60 90.68Z" fill="#d583b8"/>
<path d="M446.10 70.00L449.10 75.08L443.10 75.08Z" fill="#d583b8"/>
<path d="M472.70 56.00L475.70 61.08L469.70 61.08Z" fill="#d583b8"/>
<path d="M499.60 71.00L502.60 76.08L496.60 76.08Z" fill="#d583b8"/>
<path d="M526.30 72.00L529.30 77.08L523.30 77.08Z" fill="#d583b8"/>
<path d="M553.10 79.00L556.10 84.08L550.10 84.08Z" fill="#d583b8"/>
<path d="M580.00 87.00L583.00 92.08L577.00 92.08Z" fill="#d583b8"/>
<path d="M606.70 92.00L609.70 97.08L603.70 97.08Z" fill="#d583b8"/>
<polygon points="419.60,85.70 419.02,87.59 417.09,87.15 418.43,88.60 417.09,90.05 419.02,89.61 419.60,91.50 420.19,89.61 422.11,90.05 420.77,88.60 422.11,87.15 420.19,87.59" fill="#d583b8"/>
<polygon points="446.10,72.10 445.52,73.99 443.59,73.55 444.93,75.00 443.59,76.45 445.52,76.01 446.10,77.90 446.69,76.01 448.61,76.45 447.27,75.00 448.61,73.55 446.69,73.99" fill="#d583b8"/>
<polygon points="472.70,75.10 472.12,76.99 470.19,76.55 471.53,78.00 470.19,79.45 472.12,79.01 472.70,80.90 473.28,79.01 475.21,79.45 473.87,78.00 475.21,76.55 473.28,76.99" fill="#d583b8"/>
<polygon points="499.60,77.10 499.02,78.99 497.09,78.55 498.43,80.00 497.09,81.45 499.02,81.01 499.60,82.90 500.19,81.01 502.11,81.45 500.77,80.00 502.11,78.55 500.19,78.99" fill="#d583b8"/>
<polygon points="526.30,77.10 525.71,78.99 523.79,78.55 525.13,80.00 523.79,81.45 525.71,81.01 526.30,82.90 526.88,81.01 528.81,81.45 527.47,80.00 528.81,78.55 526.88,78.99" fill="#d583b8"/>
<polygon points="553.10,83.10 552.51,84.99 550.59,84.55 551.93,86.00 550.59,87.45 552.51,87.01 553.10,88.90 553.69,87.01 555.61,87.45 554.27,86.00 555.61,84.55 553.69,84.99" fill="#d583b8"/>
<polygon points="580.00,87.10 579.41,88.99 577.49,88.55 578.83,90.00 577.49,91.45 579.41,91.01 580.00,92.90 580.59,91.01 582.51,91.45 581.17,90.00 582.51,88.55 580.59,88.99" fill="#d583b8"/>
<polygon points="606.70,95.10 606.12,96.99 604.19,96.55 605.53,98.00 604.19,99.45 606.12,99.01 606.70,100.90 607.29,99.01 609.21,99.45 607.87,98.00 609.21,96.55 607.29,96.99" fill="#d583b8"/>
<circle cx="419.60" cy="88.60" r="2.60" fill="#d583b8"/>
<circle cx="446.10" cy="86.00" r="2.60" fill="#d583b8"/>
<circle cx="472.70" cy="95.00" r="2.60" fill="#d583b8"/>
<circle cx="499.60" cy="107.20" r="2.60" fill="#d583b8"/>
<circle cx="526.30" cy="120.90" r="2.60" fill="#d583b8"/>
<circle cx="553.10" cy="113.80" r="2.60" fill="#d583b8"/>
<circle cx="580.00" cy="117.00" r="2.60" fill="#d583b8"/>
<circle cx="606.70" cy="128.50" r="2.60" fill="#d583b8"/>
<path d="M419.60 91.60L422.60 86.52L416.60 86.52Z" fill="#d583b8"/>
<path d="M446.10 62.70L449.10 57.62L443.10 57.62Z" fill="#d583b8"/>
<path d="M472.70 71.80L475.70 66.72L469.70 66.72Z" fill="#d583b8"/>
<path d="M499.60 77.20L502.60 72.12L496.60 72.12Z" fill="#d583b8"/>
<path d="M526.30 59.90L529.30 54.82L523.30 54.82Z" fill="#d583b8"/>
<path d="M553.10 63.60L556.10 58.52L550.10 58.52Z" fill="#d583b8"/>
<path d="M580.00 74.00L583.00 68.92L577.00 68.92Z" fill="#d583b8"/>
<path d="M606.70 67.00L609.70 61.92L603.70 61.92Z" fill="#d583b8"/>
<rect x="417.50" y="86.50" width="4.20" height="4.20" fill="none" stroke="#d583b8" stroke-width="1.0"/>
<rect x="444.00" y="72.90" width="4.20" height="4.20" fill="none" stroke="#d583b8" stroke-width="1.0"/>
<rect x="470.60" y="83.90" width="4.20" height="4.20" fill="none" stroke="#d583b8" stroke-width="1.0"/>
<rect x="497.50" y="83.90" width="4.20" height="4.20" fill="none" stroke="#d583b8" stroke-width="1.0"/>
<rect x="524.20" y="77.90" width="4.20" height="4.20" fill="none" stroke="#d583b8" stroke-width="1.0"/>
<rect x="551.00" y="77.90" width="4.20" height="4.20" fill="none" stroke="#d583b8" stroke-width="1.0"/>
<rect x="577.90" y="82.90" width="4.20" height="4.20" fill="none" stroke="#d583b8" stroke-width="1.0"/>
<rect x="604.60" y="62.40" width="4.20" height="4.20" fill="none" stroke="#d583b8" stroke-width="1.0"/>
<path d="M419.60 86.00L422.20 90.55L417.00 90.55Z" fill="none" stroke="#d583b8" stroke-width="1.0"/>
<path d="M446.10 77.40L448.70 81.95L443.50 81.95Z" fill="none" stroke="#d583b8" stroke-width="1.0"/>
<path d="M472.70 85.40L475.30 89.95L470.10 89.95Z" fill="none" stroke="#d583b8" stroke-width="1.0"/>
<path d="M499.60 83.40L502.20 87.95L497.00 87.95Z" fill="none" stroke="#d583b8" stroke-width="1.0"/>
<path d="M526.30 87.40L528.90 91.95L523.70 91.95Z" fill="none" stroke="#d583b8" stroke-width="1.0"/>
<path d="M553.10 82.40L555.70 86.95L550.50 86.95Z" fill="none" stroke="#d583b8" stroke-width="1.0"/>
<path d="M580.00 92.40L582.60 96.95L577.40 96.95Z" fill="none" stroke="#d583b8" stroke-width="1.0"/>
<path d="M606.70 89.40L609.30 93.95L604.10 93.95Z" fill="none" stroke="#d583b8" stroke-width="1.0"/>
<rect x="417.00" y="86.00" width="5.20" height="5.20" fill="#d583b8"/>
<rect x="417.80" y="88.10" width="3.60" height="1" fill="#fff" opacity="0.7"/>
<rect x="443.50" y="67.70" width="5.20" height="5.20" fill="#d583b8"/>
<rect x="444.30" y="69.80" width="3.60" height="1" fill="#fff" opacity="0.7"/>
<rect x="470.10" y="76.00" width="5.20" height="5.20" fill="#d583b8"/>
<rect x="470.90" y="78.10" width="3.60" height="1" fill="#fff" opacity="0.7"/>
<rect x="497.00" y="82.40" width="5.20" height="5.20" fill="#d583b8"/>
<rect x="497.80" y="84.50" width="3.60" height="1" fill="#fff" opacity="0.7"/>
<rect x="523.70" y="85.40" width="5.20" height="5.20" fill="#d583b8"/>
<rect x="524.50" y="87.50" width="3.60" height="1" fill="#fff" opacity="0.7"/>
<rect x="550.50" y="92.40" width="5.20" height="5.20" fill="#d583b8"/>
<rect x="551.30" y="94.50" width="3.60" height="1" fill="#fff" opacity="0.7"/>
<rect x="577.40" y="89.40" width="5.20" height="5.20" fill="#d583b8"/>
<rect x="578.20" y="91.50" width="3.60" height="1" fill="#fff" opacity="0.7"/>
<rect x="604.10" y="90.40" width="5.20" height="5.20" fill="#d583b8"/>
<rect x="604.90" y="92.50" width="3.60" height="1" fill="#fff" opacity="0.7"/>
<path d="M419.60 85.40L422.80 88.60L419.60 91.80L416.40 88.60Z" fill="#6d1862"/>
<path d="M446.10 83.80L449.30 87.00L446.10 90.20L442.90 87.00Z" fill="#6d1862"/>
<path d="M472.70 88.80L475.90 92.00L472.70 95.20L469.50 92.00Z" fill="#6d1862"/>
<path d="M499.60 88.80L502.80 92.00L499.60 95.20L496.40 92.00Z" fill="#6d1862"/>
<path d="M526.30 101.40L529.50 104.60L526.30 107.80L523.10 104.60Z" fill="#6d1862"/>
<path d="M553.10 110.10L556.30 113.30L553.10 116.50L549.90 113.30Z" fill="#6d1862"/>
<path d="M580.00 113.80L583.20 117.00L580.00 120.20L576.80 117.00Z" fill="#6d1862"/>
<path d="M606.70 126.40L609.90 129.60L606.70 132.80L603.50 129.60Z" fill="#6d1862"/>
<rect x="417.00" y="86.00" width="5.20" height="5.20" fill="#6d1862"/>
<rect x="443.50" y="82.40" width="5.20" height="5.20" fill="#6d1862"/>
<rect x="470.10" y="86.80" width="5.20" height="5.20" fill="#6d1862"/>
<rect x="497.00" y="87.40" width="5.20" height="5.20" fill="#6d1862"/>
<rect x="523.70" y="93.80" width="5.20" height="5.20" fill="#6d1862"/>
<rect x="550.50" y="91.80" width="5.20" height="5.20" fill="#6d1862"/>
<rect x="577.40" y="101.40" width="5.20" height="5.20" fill="#6d1862"/>
<rect x="604.10" y="116.80" width="5.20" height="5.20" fill="#6d1862"/>
<circle cx="419.60" cy="88.60" r="2.60" fill="#6d1862"/>
<circle cx="446.10" cy="87.30" r="2.60" fill="#6d1862"/>
<circle cx="472.70" cy="93.80" r="2.60" fill="#6d1862"/>
<circle cx="499.60" cy="80.10" r="2.60" fill="#6d1862"/>
<circle cx="526.30" cy="87.70" r="2.60" fill="#6d1862"/>
<circle cx="553.10" cy="84.00" r="2.60" fill="#6d1862"/>
<circle cx="580.00" cy="97.00" r="2.60" fill="#6d1862"/>
<circle cx="606.70" cy="86.20" r="2.60" fill="#6d1862"/>
<text x="627.20" y="12.80" font-size="5.6" fill="#111" font-style="italic" textLength="48.00" lengthAdjust="spacingAndGlyphs" >Paclitaxel-resistant</text>
<text x="627.20" y="19.20" font-size="5.6" fill="#111" font-style="italic" >(in vivo)</text>
<rect x="626.2" y="22.4" width="57.4" height="36.6" fill="none" stroke="#888" stroke-width="0.8"/>
<line x1="628.70" y1="28.50" x2="638.60" y2="28.50" stroke="#6d1862" stroke-width="1.1" />
<path d="M633.70 25.20L637.00 28.50L633.70 31.80L630.40 28.50Z" fill="#6d1862"/>
<text x="644.00" y="31.20" font-size="7.4" fill="#222" >HBCx-147</text>
<line x1="628.70" y1="39.90" x2="638.60" y2="39.90" stroke="#6d1862" stroke-width="1.1" />
<rect x="631.00" y="37.20" width="5.40" height="5.40" fill="#6d1862"/>
<text x="644.00" y="42.60" font-size="7.4" fill="#222" >HBCx-39</text>
<line x1="628.70" y1="51.80" x2="638.60" y2="51.80" stroke="#6d1862" stroke-width="1.1" />
<circle cx="633.70" cy="51.80" r="2.70" fill="#6d1862"/>
<text x="644.00" y="54.50" font-size="7.4" fill="#222" >HBCx-131</text>
<text x="627.20" y="66.40" font-size="5.6" fill="#111" font-style="italic" textLength="48.00" lengthAdjust="spacingAndGlyphs" >Paclitaxel-sensitive</text>
<text x="627.20" y="72.80" font-size="5.6" fill="#111" font-style="italic" >(in vivo)</text>
<rect x="626.4" y="75.4" width="58.6" height="84.3" fill="none" stroke="#888" stroke-width="0.8"/>
<line x1="628.70" y1="81.00" x2="638.60" y2="81.00" stroke="#d583b8" stroke-width="1.1" />
<path d="M633.50 77.70L636.80 83.32L630.20 83.32Z" fill="#d583b8"/>
<text x="643.80" y="83.70" font-size="7.4" fill="#222" >HBCx-204</text>
<line x1="628.70" y1="92.30" x2="638.60" y2="92.30" stroke="#d583b8" stroke-width="1.1" />
<polygon points="633.50,89.10 632.85,91.17 630.73,90.70 632.20,92.30 630.73,93.90 632.85,93.43 633.50,95.50 634.15,93.43 636.27,93.90 634.80,92.30 636.27,90.70 634.15,91.17" fill="#d583b8"/>
<text x="643.80" y="95.00" font-size="7.4" fill="#222" >HBCx-11</text>
<line x1="628.70" y1="103.40" x2="638.60" y2="103.40" stroke="#d583b8" stroke-width="1.1" />
<circle cx="633.50" cy="103.40" r="2.90" fill="#d583b8"/>
<text x="643.80" y="106.10" font-size="7.4" fill="#222" >HBCx-4B</text>
<line x1="628.70" y1="114.50" x2="638.60" y2="114.50" stroke="#d583b8" stroke-width="1.1" />
<path d="M633.50 117.80L636.80 112.18L630.20 112.18Z" fill="#d583b8"/>
<text x="643.80" y="117.20" font-size="7.4" fill="#222" >HBCx-216</text>
<line x1="628.70" y1="125.80" x2="638.60" y2="125.80" stroke="#d583b8" stroke-width="1.1" />
<rect x="631.10" y="123.40" width="4.80" height="4.80" fill="none" stroke="#d583b8" stroke-width="1.0"/>
<text x="643.80" y="128.50" font-size="7.4" fill="#222" >HBCx-209</text>
<line x1="628.70" y1="137.00" x2="638.60" y2="137.00" stroke="#d583b8" stroke-width="1.1" />
<path d="M633.50 134.10L636.40 139.18L630.60 139.18Z" fill="none" stroke="#d583b8" stroke-width="1.0"/>
<text x="643.80" y="139.70" font-size="7.4" fill="#222" >HBCx-52</text>
<line x1="628.70" y1="149.30" x2="638.60" y2="149.30" stroke="#d583b8" stroke-width="1.1" />
<rect x="630.60" y="146.40" width="5.80" height="5.80" fill="#d583b8"/>
<rect x="631.40" y="148.80" width="4.20" height="1" fill="#fff" opacity="0.7"/>
<text x="643.80" y="152.00" font-size="7.4" fill="#222" >HBCx-137</text>
<rect x="39.45" y="270.98" width="10.30" height="22.33" fill="none" stroke="#000" stroke-width="1.5"/>
<rect x="55.55" y="271.87" width="10.30" height="21.43" fill="none" stroke="#000" stroke-width="1.5"/>
<rect x="71.75" y="261.15" width="10.30" height="32.15" fill="none" stroke="#000" stroke-width="1.5"/>
<rect x="88.35" y="269.19" width="10.30" height="24.11" fill="none" stroke="#000" stroke-width="1.5"/>
<rect x="104.35" y="271.87" width="10.30" height="21.43" fill="none" stroke="#000" stroke-width="1.5"/>
<rect x="120.25" y="279.91" width="10.30" height="13.40" fill="none" stroke="#000" stroke-width="1.5"/>
<rect x="136.25" y="279.37" width="10.30" height="13.93" fill="none" stroke="#000" stroke-width="1.5"/>
<rect x="152.55" y="281.16" width="10.30" height="12.14" fill="none" stroke="#000" stroke-width="1.5"/>
<circle cx="43.7" cy="255.8" r="2.3" fill="#c487d8"/>
<circle cx="140.3" cy="278.3" r="2.3" fill="#d985b3"/>
<circle cx="138.7" cy="280.3" r="2.3" fill="#c487d8"/>
<circle cx="93.8" cy="236.1" r="2.3" fill="#c487d8"/>
<circle cx="60.5" cy="284.8" r="2.3" fill="#9e1f9c"/>
<circle cx="124.1" cy="290.9" r="2.3" fill="#c487d8"/>
<circle cx="94.0" cy="272.7" r="2.3" fill="#9e1f9c"/>
<circle cx="93.5" cy="223.6" r="2.3" fill="#c487d8"/>
<circle cx="126.3" cy="276.5" r="2.3" fill="#9e1f9c"/>
<circle cx="110.6" cy="271.9" r="2.3" fill="#d985b3"/>
<circle cx="41.9" cy="284.4" r="2.3" fill="#9e1f9c"/>
<circle cx="58.8" cy="248.7" r="2.3" fill="#d985b3"/>
<circle cx="139.5" cy="281.0" r="2.3" fill="#9e1f9c"/>
<circle cx="125.4" cy="278.1" r="2.3" fill="#c487d8"/>
<circle cx="78.9" cy="250.6" r="2.3" fill="#d985b3"/>
<circle cx="93.5" cy="285.7" r="2.3" fill="#9e1f9c"/>
<circle cx="94.2" cy="227.2" r="2.3" fill="#c487d8"/>
<circle cx="142.3" cy="289.9" r="2.3" fill="#c487d8"/>
<circle cx="76.5" cy="262.9" r="2.3" fill="#c487d8"/>
<circle cx="154.9" cy="272.3" r="2.3" fill="#9e1f9c"/>
<circle cx="124.0" cy="289.3" r="2.3" fill="#9e1f9c"/>
<circle cx="160.7" cy="287.2" r="2.3" fill="#c487d8"/>
<circle cx="62.4" cy="292.9" r="2.3" fill="#9e1f9c"/>
<circle cx="62.8" cy="269.5" r="2.3" fill="#c487d8"/>
<circle cx="46.7" cy="285.9" r="2.3" fill="#d985b3"/>
<circle cx="93.6" cy="275.4" r="2.3" fill="#9e1f9c"/>
<circle cx="46.6" cy="287.4" r="2.3" fill="#d985b3"/>
<circle cx="108.2" cy="261.8" r="2.3" fill="#c487d8"/>
<circle cx="95.7" cy="276.3" r="2.3" fill="#d985b3"/>
<circle cx="96.1" cy="287.6" r="2.3" fill="#9e1f9c"/>
<circle cx="108.9" cy="261.2" r="2.3" fill="#c487d8"/>
<circle cx="159.1" cy="283.7" r="2.3" fill="#c487d8"/>
<circle cx="76.8" cy="275.4" r="2.3" fill="#d985b3"/>
<circle cx="125.3" cy="286.2" r="2.3" fill="#c487d8"/>
<circle cx="92.2" cy="261.2" r="2.3" fill="#c487d8"/>
<circle cx="58.0" cy="279.1" r="2.3" fill="#9e1f9c"/>
<circle cx="123.4" cy="287.5" r="2.3" fill="#c487d8"/>
<circle cx="57.9" cy="284.9" r="2.3" fill="#d985b3"/>
<circle cx="79.9" cy="266.8" r="2.3" fill="#9e1f9c"/>
<circle cx="141.5" cy="280.8" r="2.3" fill="#d985b3"/>
<circle cx="140.4" cy="279.9" r="2.3" fill="#c487d8"/>
<circle cx="159.7" cy="286.8" r="2.3" fill="#c487d8"/>
<circle cx="44.4" cy="271.7" r="2.3" fill="#9e1f9c"/>
<circle cx="107.8" cy="284.6" r="2.3" fill="#9e1f9c"/>
<circle cx="127.9" cy="268.3" r="2.3" fill="#c487d8"/>
<circle cx="47.4" cy="267.3" r="2.3" fill="#9e1f9c"/>
<circle cx="106.4" cy="268.3" r="2.3" fill="#d985b3"/>
<circle cx="63.1" cy="280.8" r="2.3" fill="#9e1f9c"/>
<circle cx="122.5" cy="261.2" r="2.3" fill="#9e1f9c"/>
<circle cx="124.1" cy="274.7" r="2.3" fill="#d985b3"/>
<circle cx="78.1" cy="259.0" r="2.3" fill="#c487d8"/>
<circle cx="90.9" cy="285.9" r="2.3" fill="#9e1f9c"/>
<circle cx="157.1" cy="282.4" r="2.3" fill="#c487d8"/>
<circle cx="95.8" cy="282.4" r="2.3" fill="#d985b3"/>
<circle cx="124.3" cy="284.6" r="2.3" fill="#9e1f9c"/>
<circle cx="45.9" cy="227.2" r="2.3" fill="#c487d8"/>
<circle cx="58.6" cy="287.2" r="2.3" fill="#9e1f9c"/>
<circle cx="140.4" cy="271.1" r="2.3" fill="#d985b3"/>
<circle cx="140.7" cy="283.5" r="2.3" fill="#9e1f9c"/>
<circle cx="109.8" cy="264.7" r="2.3" fill="#d985b3"/>
<circle cx="42.4" cy="292.3" r="2.3" fill="#d985b3"/>
<circle cx="156.4" cy="292.9" r="2.3" fill="#c487d8"/>
<circle cx="144.1" cy="273.7" r="2.3" fill="#d985b3"/>
<circle cx="41.5" cy="270.3" r="2.3" fill="#9e1f9c"/>
<circle cx="90.6" cy="282.8" r="2.3" fill="#9e1f9c"/>
<circle cx="107.7" cy="292.9" r="2.3" fill="#9e1f9c"/>
<circle cx="141.4" cy="270.1" r="2.3" fill="#d985b3"/>
<circle cx="156.0" cy="272.8" r="2.3" fill="#9e1f9c"/>
<circle cx="126.7" cy="287.5" r="2.3" fill="#c487d8"/>
<circle cx="106.9" cy="284.2" r="2.3" fill="#9e1f9c"/>
<circle cx="154.6" cy="264.7" r="2.3" fill="#9e1f9c"/>
<circle cx="122.4" cy="280.2" r="2.3" fill="#c487d8"/>
<circle cx="46.5" cy="231.7" r="2.3" fill="#c487d8"/>
<circle cx="110.7" cy="277.5" r="2.3" fill="#d985b3"/>
<circle cx="107.6" cy="274.3" r="2.3" fill="#d985b3"/>
<circle cx="122.8" cy="284.7" r="2.3" fill="#c487d8"/>
<circle cx="45.3" cy="288.8" r="2.3" fill="#d985b3"/>
<circle cx="127.3" cy="279.7" r="2.3" fill="#9e1f9c"/>
<circle cx="41.6" cy="262.9" r="2.3" fill="#c487d8"/>
<circle cx="126.1" cy="288.9" r="2.3" fill="#c487d8"/>
<circle cx="79.7" cy="269.5" r="2.3" fill="#9e1f9c"/>
<circle cx="78.2" cy="264.7" r="2.3" fill="#c487d8"/>
<circle cx="63.7" cy="231.7" r="2.3" fill="#d985b3"/>
<circle cx="155.8" cy="280.8" r="2.3" fill="#9e1f9c"/>
<circle cx="62.0" cy="282.6" r="2.3" fill="#9e1f9c"/>
<circle cx="79.2" cy="253.1" r="2.3" fill="#c487d8"/>
<circle cx="43.2" cy="286.2" r="2.3" fill="#c487d8"/>
<circle cx="158.8" cy="283.7" r="2.3" fill="#d985b3"/>
<circle cx="143.3" cy="285.5" r="2.3" fill="#9e1f9c"/>
<circle cx="92.5" cy="286.7" r="2.3" fill="#9e1f9c"/>
<circle cx="90.6" cy="284.1" r="2.3" fill="#9e1f9c"/>
<circle cx="76.1" cy="255.3" r="2.3" fill="#c487d8"/>
<circle cx="74.8" cy="258.6" r="2.3" fill="#d985b3"/>
<circle cx="141.0" cy="277.2" r="2.3" fill="#d985b3"/>
<circle cx="79.8" cy="264.3" r="2.3" fill="#9e1f9c"/>
<circle cx="140.3" cy="271.9" r="2.3" fill="#c487d8"/>
<circle cx="42.0" cy="290.9" r="2.3" fill="#d985b3"/>
<circle cx="75.7" cy="280.9" r="2.3" fill="#9e1f9c"/>
<circle cx="156.1" cy="285.9" r="2.3" fill="#c487d8"/>
<circle cx="57.7" cy="284.4" r="2.3" fill="#c487d8"/>
<circle cx="64.0" cy="272.3" r="2.3" fill="#c487d8"/>
<circle cx="156.4" cy="292.9" r="2.3" fill="#c487d8"/>
<circle cx="124.3" cy="283.0" r="2.3" fill="#c487d8"/>
<circle cx="144.0" cy="284.9" r="2.3" fill="#9e1f9c"/>
<circle cx="110.5" cy="271.8" r="2.3" fill="#d985b3"/>
<circle cx="77.8" cy="270.1" r="2.3" fill="#d985b3"/>
<circle cx="47.4" cy="290.1" r="2.3" fill="#d985b3"/>
<circle cx="94.2" cy="282.4" r="2.3" fill="#c487d8"/>
<circle cx="93.7" cy="280.4" r="2.3" fill="#d985b3"/>
<circle cx="157.9" cy="286.2" r="2.3" fill="#9e1f9c"/>
<circle cx="127.3" cy="291.1" r="2.3" fill="#c487d8"/>
<circle cx="124.4" cy="279.2" r="2.3" fill="#9e1f9c"/>
<circle cx="123.4" cy="251.2" r="2.3" fill="#9e1f9c"/>
<circle cx="91.1" cy="271.9" r="2.3" fill="#c487d8"/>
<circle cx="111.7" cy="283.5" r="2.3" fill="#9e1f9c"/>
<circle cx="127.8" cy="272.1" r="2.3" fill="#d985b3"/>
<circle cx="139.9" cy="283.9" r="2.3" fill="#9e1f9c"/>
<circle cx="144.5" cy="280.3" r="2.3" fill="#9e1f9c"/>
<circle cx="75.4" cy="252.1" r="2.3" fill="#d985b3"/>
<circle cx="76.8" cy="246.9" r="2.3" fill="#d985b3"/>
<circle cx="77.7" cy="275.5" r="2.3" fill="#9e1f9c"/>
<circle cx="139.0" cy="283.2" r="2.3" fill="#c487d8"/>
<circle cx="59.4" cy="289.7" r="2.3" fill="#c487d8"/>
<circle cx="127.4" cy="286.6" r="2.3" fill="#9e1f9c"/>
<circle cx="110.3" cy="289.7" r="2.3" fill="#9e1f9c"/>
<circle cx="106.2" cy="276.5" r="2.3" fill="#9e1f9c"/>
<circle cx="159.6" cy="277.2" r="2.3" fill="#d985b3"/>
<circle cx="75.1" cy="252.2" r="2.3" fill="#c487d8"/>
<circle cx="127.1" cy="289.2" r="2.3" fill="#c487d8"/>
<circle cx="43.7" cy="265.9" r="2.3" fill="#9e1f9c"/>
<circle cx="42.4" cy="284.9" r="2.3" fill="#9e1f9c"/>
<circle cx="110.0" cy="270.1" r="2.3" fill="#c487d8"/>
<circle cx="139.4" cy="275.4" r="2.3" fill="#c487d8"/>
<circle cx="61.2" cy="245.1" r="2.3" fill="#c487d8"/>
<circle cx="142.5" cy="287.7" r="2.3" fill="#c487d8"/>
<circle cx="123.6" cy="271.2" r="2.3" fill="#d985b3"/>
<circle cx="125.4" cy="277.7" r="2.3" fill="#9e1f9c"/>
<circle cx="43.8" cy="275.4" r="2.3" fill="#9e1f9c"/>
<circle cx="44.9" cy="266.5" r="2.3" fill="#9e1f9c"/>
<circle cx="96.1" cy="262.9" r="2.3" fill="#c487d8"/>
<circle cx="75.2" cy="290.6" r="2.3" fill="#c487d8"/>
<circle cx="159.5" cy="273.5" r="2.3" fill="#9e1f9c"/>
<circle cx="160.4" cy="292.9" r="2.3" fill="#c487d8"/>
<circle cx="108.0" cy="286.4" r="2.3" fill="#9e1f9c"/>
<circle cx="78.3" cy="255.8" r="2.3" fill="#9e1f9c"/>
<circle cx="58.8" cy="290.5" r="2.3" fill="#9e1f9c"/>
<circle cx="42.1" cy="267.6" r="2.3" fill="#9e1f9c"/>
<circle cx="109.2" cy="281.5" r="2.3" fill="#9e1f9c"/>
<circle cx="61.0" cy="279.0" r="2.3" fill="#d985b3"/>
<circle cx="42.9" cy="254.0" r="2.3" fill="#c487d8"/>
<circle cx="76.2" cy="223.6" r="2.3" fill="#c487d8"/>
<circle cx="126.5" cy="292.9" r="2.3" fill="#c487d8"/>
<circle cx="62.2" cy="254.0" r="2.3" fill="#d985b3"/>
<circle cx="61.1" cy="280.3" r="2.3" fill="#c487d8"/>
<circle cx="90.5" cy="270.0" r="2.3" fill="#9e1f9c"/>
<circle cx="96.2" cy="275.4" r="2.3" fill="#c487d8"/>
<circle cx="159.4" cy="281.5" r="2.3" fill="#9e1f9c"/>
<circle cx="109.2" cy="279.5" r="2.3" fill="#9e1f9c"/>
<circle cx="57.7" cy="291.8" r="2.3" fill="#9e1f9c"/>
<circle cx="46.2" cy="291.9" r="2.3" fill="#d985b3"/>
<circle cx="91.7" cy="280.5" r="2.3" fill="#9e1f9c"/>
<circle cx="74.1" cy="269.2" r="2.3" fill="#9e1f9c"/>
<circle cx="140.5" cy="268.3" r="2.3" fill="#c487d8"/>
<circle cx="158.1" cy="266.5" r="2.3" fill="#d985b3"/>
<circle cx="156.8" cy="285.5" r="2.3" fill="#c487d8"/>
<circle cx="123.3" cy="279.0" r="2.3" fill="#d985b3"/>
<circle cx="59.1" cy="285.2" r="2.3" fill="#9e1f9c"/>
<circle cx="41.8" cy="257.6" r="2.3" fill="#c487d8"/>
<circle cx="111.5" cy="272.0" r="2.3" fill="#9e1f9c"/>
<circle cx="125.9" cy="278.7" r="2.3" fill="#9e1f9c"/>
<circle cx="143.6" cy="287.8" r="2.3" fill="#9e1f9c"/>
<circle cx="110.8" cy="277.2" r="2.3" fill="#d985b3"/>
<circle cx="60.8" cy="271.9" r="2.3" fill="#c487d8"/>
<circle cx="157.0" cy="289.6" r="2.3" fill="#c487d8"/>
<circle cx="95.2" cy="283.4" r="2.3" fill="#c487d8"/>
<circle cx="143.0" cy="285.5" r="2.3" fill="#9e1f9c"/>
<circle cx="160.9" cy="287.6" r="2.3" fill="#c487d8"/>
<circle cx="159.3" cy="279.1" r="2.3" fill="#9e1f9c"/>
<circle cx="57.5" cy="281.5" r="2.3" fill="#d985b3"/>
<circle cx="155.5" cy="275.4" r="2.3" fill="#9e1f9c"/>
<circle cx="127.7" cy="286.1" r="2.3" fill="#c487d8"/>
<circle cx="140.2" cy="272.7" r="2.3" fill="#c487d8"/>
<circle cx="78.6" cy="271.9" r="2.3" fill="#9e1f9c"/>
<circle cx="125.2" cy="284.5" r="2.3" fill="#d985b3"/>
<circle cx="91.3" cy="279.3" r="2.3" fill="#d985b3"/>
<circle cx="80.0" cy="248.7" r="2.3" fill="#d985b3"/>
<circle cx="143.5" cy="274.8" r="2.3" fill="#d985b3"/>
<circle cx="107.2" cy="277.5" r="2.3" fill="#c487d8"/>
<circle cx="44.5" cy="230.8" r="2.3" fill="#c487d8"/>
<circle cx="158.6" cy="289.5" r="2.3" fill="#c487d8"/>
<circle cx="63.0" cy="279.5" r="2.3" fill="#9e1f9c"/>
<circle cx="76.5" cy="215.4" r="2.3" fill="#c487d8"/>
<circle cx="141.1" cy="285.9" r="2.3" fill="#9e1f9c"/>
<circle cx="107.9" cy="278.2" r="2.3" fill="#9e1f9c"/>
<circle cx="122.2" cy="270.1" r="2.3" fill="#9e1f9c"/>
<circle cx="58.2" cy="285.3" r="2.3" fill="#9e1f9c"/>
<circle cx="110.0" cy="281.9" r="2.3" fill="#9e1f9c"/>
<circle cx="139.6" cy="281.3" r="2.3" fill="#9e1f9c"/>
<circle cx="79.3" cy="284.4" r="2.3" fill="#9e1f9c"/>
<circle cx="144.5" cy="286.1" r="2.3" fill="#9e1f9c"/>
<circle cx="75.3" cy="259.4" r="2.3" fill="#c487d8"/>
<circle cx="108.2" cy="270.5" r="2.3" fill="#d985b3"/>
<circle cx="45.8" cy="288.4" r="2.3" fill="#d985b3"/>
<circle cx="63.7" cy="287.0" r="2.3" fill="#9e1f9c"/>
<circle cx="124.8" cy="262.9" r="2.3" fill="#c487d8"/>
<circle cx="91.8" cy="229.0" r="2.3" fill="#c487d8"/>
<circle cx="143.6" cy="271.8" r="2.3" fill="#c487d8"/>
<circle cx="143.7" cy="275.8" r="2.3" fill="#c487d8"/>
<circle cx="75.0" cy="273.5" r="2.3" fill="#9e1f9c"/>
<circle cx="63.2" cy="280.7" r="2.3" fill="#9e1f9c"/>
<circle cx="140.8" cy="273.7" r="2.3" fill="#c487d8"/>
<circle cx="47.9" cy="291.4" r="2.3" fill="#d985b3"/>
<circle cx="125.6" cy="273.5" r="2.3" fill="#9e1f9c"/>
<circle cx="154.6" cy="285.3" r="2.3" fill="#c487d8"/>
<circle cx="156.2" cy="273.5" r="2.3" fill="#d985b3"/>
<circle cx="93.7" cy="287.7" r="2.3" fill="#d985b3"/>
<circle cx="156.0" cy="285.6" r="2.3" fill="#c487d8"/>
<circle cx="111.6" cy="290.3" r="2.3" fill="#9e1f9c"/>
<circle cx="63.8" cy="269.7" r="2.3" fill="#c487d8"/>
<circle cx="111.0" cy="279.5" r="2.3" fill="#9e1f9c"/>
<circle cx="44.5" cy="279.4" r="2.3" fill="#9e1f9c"/>
<circle cx="46.3" cy="270.4" r="2.3" fill="#9e1f9c"/>
<circle cx="126.3" cy="279.5" r="2.3" fill="#9e1f9c"/>
<circle cx="60.4" cy="278.5" r="2.3" fill="#d985b3"/>
<circle cx="155.0" cy="273.7" r="2.3" fill="#9e1f9c"/>
<circle cx="155.9" cy="286.9" r="2.3" fill="#c487d8"/>
<circle cx="57.5" cy="290.1" r="2.3" fill="#9e1f9c"/>
<circle cx="111.2" cy="288.5" r="2.3" fill="#9e1f9c"/>
<circle cx="111.1" cy="255.8" r="2.3" fill="#c487d8"/>
<circle cx="96.2" cy="282.4" r="2.3" fill="#d985b3"/>
<circle cx="111.4" cy="271.2" r="2.3" fill="#c487d8"/>
<circle cx="155.6" cy="292.9" r="2.3" fill="#c487d8"/>
<circle cx="95.6" cy="268.3" r="2.3" fill="#d985b3"/>
<circle cx="127.1" cy="278.6" r="2.3" fill="#9e1f9c"/>
<circle cx="42.8" cy="261.2" r="2.3" fill="#c487d8"/>
<circle cx="92.4" cy="287.0" r="2.3" fill="#9e1f9c"/>
<circle cx="95.8" cy="277.6" r="2.3" fill="#9e1f9c"/>
<circle cx="155.5" cy="266.5" r="2.3" fill="#9e1f9c"/>
<circle cx="96.2" cy="286.9" r="2.3" fill="#d985b3"/>
<circle cx="44.7" cy="237.9" r="2.3" fill="#c487d8"/>
<circle cx="108.6" cy="266.5" r="2.3" fill="#d985b3"/>
<circle cx="94.2" cy="291.6" r="2.3" fill="#9e1f9c"/>
<circle cx="78.4" cy="268.3" r="2.3" fill="#c487d8"/>
<circle cx="42.6" cy="270.6" r="2.3" fill="#9e1f9c"/>
<circle cx="158.7" cy="279.6" r="2.3" fill="#9e1f9c"/>
<circle cx="41.6" cy="288.4" r="2.3" fill="#d985b3"/>
<circle cx="62.6" cy="268.3" r="2.3" fill="#d985b3"/>
<circle cx="139.1" cy="287.3" r="2.3" fill="#9e1f9c"/>
<circle cx="59.4" cy="262.9" r="2.3" fill="#c487d8"/>
<circle cx="160.0" cy="271.9" r="2.3" fill="#9e1f9c"/>
<circle cx="111.2" cy="280.8" r="2.3" fill="#c487d8"/>
<circle cx="42.9" cy="267.5" r="2.3" fill="#9e1f9c"/>
<circle cx="45.4" cy="289.7" r="2.3" fill="#c487d8"/>
<circle cx="42.4" cy="290.3" r="2.3" fill="#d985b3"/>
<circle cx="139.7" cy="289.0" r="2.3" fill="#9e1f9c"/>
<circle cx="61.4" cy="243.3" r="2.3" fill="#c487d8"/>
<circle cx="107.6" cy="249.4" r="2.3" fill="#c487d8"/>
<circle cx="108.6" cy="259.4" r="2.3" fill="#c487d8"/>
<circle cx="44.5" cy="284.4" r="2.3" fill="#d985b3"/>
<circle cx="90.7" cy="284.8" r="2.3" fill="#9e1f9c"/>
<circle cx="78.7" cy="257.6" r="2.3" fill="#9e1f9c"/>
<circle cx="127.2" cy="282.6" r="2.3" fill="#d985b3"/>
<circle cx="143.5" cy="280.3" r="2.3" fill="#c487d8"/>
<circle cx="109.6" cy="275.8" r="2.3" fill="#9e1f9c"/>
<circle cx="47.6" cy="291.4" r="2.3" fill="#d985b3"/>
<circle cx="47.8" cy="277.9" r="2.3" fill="#9e1f9c"/>
<circle cx="59.3" cy="292.4" r="2.3" fill="#c487d8"/>
<circle cx="58.3" cy="292.9" r="2.3" fill="#9e1f9c"/>
<circle cx="122.6" cy="289.7" r="2.3" fill="#d985b3"/>
<circle cx="107.5" cy="265.4" r="2.3" fill="#c487d8"/>
<circle cx="156.4" cy="279.0" r="2.3" fill="#d985b3"/>
<circle cx="93.7" cy="284.5" r="2.3" fill="#c487d8"/>
<circle cx="93.8" cy="287.9" r="2.3" fill="#d985b3"/>
<circle cx="94.9" cy="209.4" r="2.3" fill="#c487d8"/>
<circle cx="140.4" cy="275.1" r="2.3" fill="#d985b3"/>
<circle cx="76.7" cy="250.7" r="2.3" fill="#c487d8"/>
<circle cx="96.4" cy="286.0" r="2.3" fill="#c487d8"/>
<circle cx="58.1" cy="275.4" r="2.3" fill="#d985b3"/>
<circle cx="43.7" cy="268.9" r="2.3" fill="#9e1f9c"/>
<circle cx="45.2" cy="292.9" r="2.3" fill="#d985b3"/>
<circle cx="124.6" cy="280.1" r="2.3" fill="#9e1f9c"/>
<circle cx="160.5" cy="286.2" r="2.3" fill="#c487d8"/>
<circle cx="47.2" cy="269.0" r="2.3" fill="#9e1f9c"/>
<circle cx="142.4" cy="284.2" r="2.3" fill="#c487d8"/>
<circle cx="92.8" cy="277.2" r="2.3" fill="#c487d8"/>
<circle cx="157.9" cy="284.5" r="2.3" fill="#d985b3"/>
<circle cx="141.4" cy="291.4" r="2.3" fill="#c487d8"/>
<circle cx="73.6" cy="259.2" r="2.3" fill="#9e1f9c"/>
<circle cx="43.9" cy="277.2" r="2.3" fill="#9e1f9c"/>
<circle cx="155.0" cy="292.9" r="2.3" fill="#c487d8"/>
<circle cx="46.2" cy="266.5" r="2.3" fill="#c487d8"/>
<circle cx="109.9" cy="251.3" r="2.3" fill="#c487d8"/>
<line x1="34.40" y1="203.50" x2="34.40" y2="293.30" stroke="#6a6a6a" stroke-width="1.5" />
<line x1="30.80" y1="293.30" x2="168.90" y2="293.30" stroke="#000" stroke-width="1.5" />
<line x1="30.80" y1="293.30" x2="34.40" y2="293.30" stroke="#333" stroke-width="1.1" />
<text x="29.80" y="295.60" font-size="6.8" font-weight="bold" text-anchor="end" >0</text>
<line x1="30.80" y1="275.44" x2="34.40" y2="275.44" stroke="#333" stroke-width="1.1" />
<text x="29.80" y="277.74" font-size="6.8" font-weight="bold" text-anchor="end" >10</text>
<line x1="30.80" y1="257.58" x2="34.40" y2="257.58" stroke="#333" stroke-width="1.1" />
<text x="29.80" y="259.88" font-size="6.8" font-weight="bold" text-anchor="end" >20</text>
<line x1="30.80" y1="239.72" x2="34.40" y2="239.72" stroke="#333" stroke-width="1.1" />
<text x="29.80" y="242.02" font-size="6.8" font-weight="bold" text-anchor="end" >30</text>
<line x1="30.80" y1="221.86" x2="34.40" y2="221.86" stroke="#333" stroke-width="1.1" />
<text x="29.80" y="224.16" font-size="6.8" font-weight="bold" text-anchor="end" >40</text>
<line x1="30.80" y1="204.00" x2="34.40" y2="204.00" stroke="#333" stroke-width="1.1" />
<text x="29.80" y="206.30" font-size="6.8" font-weight="bold" text-anchor="end" >50</text>
<line x1="44.60" y1="293.30" x2="44.60" y2="296.70" stroke="#000" stroke-width="1.1" />
<text x="44.60" y="305.10" font-size="6.6" font-weight="bold" text-anchor="middle" >UT</text>
<line x1="60.70" y1="293.30" x2="60.70" y2="296.70" stroke="#000" stroke-width="1.1" />
<text x="60.70" y="305.10" font-size="6.6" font-weight="bold" text-anchor="middle" >1</text>
<line x1="76.90" y1="293.30" x2="76.90" y2="296.70" stroke="#000" stroke-width="1.1" />
<text x="76.90" y="305.10" font-size="6.6" font-weight="bold" text-anchor="middle" >3</text>
<line x1="93.50" y1="293.30" x2="93.50" y2="296.70" stroke="#000" stroke-width="1.1" />
<text x="93.50" y="305.10" font-size="6.6" font-weight="bold" text-anchor="middle" >6</text>
<line x1="109.50" y1="293.30" x2="109.50" y2="296.70" stroke="#000" stroke-width="1.1" />
<text x="109.50" y="305.10" font-size="6.6" font-weight="bold" text-anchor="middle" >10</text>
<line x1="125.40" y1="293.30" x2="125.40" y2="296.70" stroke="#000" stroke-width="1.1" />
<text x="125.40" y="305.10" font-size="6.6" font-weight="bold" text-anchor="middle" >25</text>
<line x1="141.40" y1="293.30" x2="141.40" y2="296.70" stroke="#000" stroke-width="1.1" />
<text x="141.40" y="305.10" font-size="6.6" font-weight="bold" text-anchor="middle" >18</text>
<line x1="157.70" y1="293.30" x2="157.70" y2="296.70" stroke="#000" stroke-width="1.1" />
<text x="157.70" y="305.10" font-size="6.6" font-weight="bold" text-anchor="middle" >100</text>
<text x="82.00" y="202.70" font-size="8.6" font-weight="bold" >HBCx204</text>
<text x="8.20" y="248.20" font-size="7.4" font-weight="bold" text-anchor="middle" transform="rotate(-90 8.20 248.20)" >Percentage of replicating cells</text>
<text x="16.80" y="248.30" font-size="7.5" font-weight="bold" text-anchor="middle" transform="rotate(-90 16.80 248.30)" >(EdU/DAPI)</text>
<text x="54.40" y="315.80" font-size="7.45" fill="#222" textLength="96.20" lengthAdjust="spacingAndGlyphs" >Paclitaxel concentration (nM)</text>
<circle cx="172.7" cy="209.2" r="2" fill="#d985b3"/>
<text x="183.00" y="211.40" font-size="7.3" fill="#1a1a1a" >PDX41</text>
<circle cx="172.7" cy="221.2" r="2" fill="#9e1f9c"/>
<text x="183.00" y="223.40" font-size="7.3" fill="#1a1a1a" >PDX49</text>
<circle cx="172.7" cy="233.3" r="2" fill="#c487d8"/>
<text x="183.00" y="235.50" font-size="7.3" fill="#1a1a1a" >PDX50</text>
<rect x="259.35" y="271.43" width="10.30" height="22.07" fill="none" stroke="#000" stroke-width="1.5"/>
<rect x="275.35" y="269.64" width="10.30" height="23.86" fill="none" stroke="#000" stroke-width="1.5"/>
<rect x="291.45" y="270.18" width="10.30" height="23.32" fill="none" stroke="#000" stroke-width="1.5"/>
<rect x="307.55" y="273.23" width="10.30" height="20.27" fill="none" stroke="#000" stroke-width="1.5"/>
<rect x="323.65" y="278.25" width="10.30" height="15.25" fill="none" stroke="#000" stroke-width="1.5"/>
<rect x="339.95" y="278.25" width="10.30" height="15.25" fill="none" stroke="#000" stroke-width="1.5"/>
<rect x="356.15" y="283.81" width="10.30" height="9.69" fill="none" stroke="#000" stroke-width="1.5"/>
<rect x="372.25" y="287.58" width="10.30" height="5.92" fill="none" stroke="#000" stroke-width="1.5"/>
<circle cx="330.2" cy="277.3" r="2.3" fill="#c487d8"/>
<circle cx="331.4" cy="289.1" r="2.3" fill="#9e1f9c"/>
<circle cx="346.2" cy="275.1" r="2.3" fill="#c487d8"/>
<circle cx="280.5" cy="237.0" r="2.3" fill="#c487d8"/>
<circle cx="326.2" cy="266.6" r="2.3" fill="#d985b3"/>
<circle cx="376.1" cy="282.7" r="2.3" fill="#c487d8"/>
<circle cx="283.5" cy="273.8" r="2.3" fill="#c487d8"/>
<circle cx="267.8" cy="240.6" r="2.3" fill="#d985b3"/>
<circle cx="326.5" cy="291.7" r="2.3" fill="#9e1f9c"/>
<circle cx="279.7" cy="277.4" r="2.3" fill="#9e1f9c"/>
<circle cx="299.6" cy="284.8" r="2.3" fill="#9e1f9c"/>
<circle cx="330.9" cy="251.5" r="2.3" fill="#d985b3"/>
<circle cx="283.6" cy="255.8" r="2.3" fill="#c487d8"/>
<circle cx="299.9" cy="286.2" r="2.3" fill="#9e1f9c"/>
<circle cx="264.7" cy="284.3" r="2.3" fill="#9e1f9c"/>
<circle cx="328.7" cy="284.5" r="2.3" fill="#c487d8"/>
<circle cx="310.2" cy="286.3" r="2.3" fill="#9e1f9c"/>
<circle cx="343.0" cy="284.3" r="2.3" fill="#9e1f9c"/>
<circle cx="280.5" cy="284.1" r="2.3" fill="#9e1f9c"/>
<circle cx="299.4" cy="272.0" r="2.3" fill="#d985b3"/>
<circle cx="294.5" cy="232.5" r="2.3" fill="#c487d8"/>
<circle cx="314.9" cy="283.2" r="2.3" fill="#9e1f9c"/>
<circle cx="346.7" cy="280.6" r="2.3" fill="#9e1f9c"/>
<circle cx="328.6" cy="277.4" r="2.3" fill="#d985b3"/>
<circle cx="312.7" cy="287.2" r="2.3" fill="#9e1f9c"/>
<circle cx="267.8" cy="289.9" r="2.3" fill="#9e1f9c"/>
<circle cx="378.6" cy="291.2" r="2.3" fill="#c487d8"/>
<circle cx="358.6" cy="273.8" r="2.3" fill="#c487d8"/>
<circle cx="342.5" cy="279.1" r="2.3" fill="#9e1f9c"/>
<circle cx="377.8" cy="290.5" r="2.3" fill="#9e1f9c"/>
<circle cx="377.6" cy="276.5" r="2.3" fill="#d985b3"/>
<circle cx="358.5" cy="284.5" r="2.3" fill="#9e1f9c"/>
<circle cx="360.7" cy="291.7" r="2.3" fill="#d985b3"/>
<circle cx="363.2" cy="282.7" r="2.3" fill="#c487d8"/>
<circle cx="280.9" cy="261.2" r="2.3" fill="#d985b3"/>
<circle cx="296.3" cy="286.6" r="2.3" fill="#9e1f9c"/>
<circle cx="315.6" cy="293.1" r="2.3" fill="#9e1f9c"/>
<circle cx="325.9" cy="279.6" r="2.3" fill="#d985b3"/>
<circle cx="277.5" cy="266.5" r="2.3" fill="#d985b3"/>
<circle cx="281.8" cy="245.1" r="2.3" fill="#c487d8"/>
<circle cx="296.4" cy="286.6" r="2.3" fill="#9e1f9c"/>
<circle cx="282.5" cy="288.6" r="2.3" fill="#9e1f9c"/>
<circle cx="262.0" cy="245.1" r="2.3" fill="#c487d8"/>
<circle cx="261.4" cy="290.4" r="2.3" fill="#9e1f9c"/>
<circle cx="359.4" cy="270.2" r="2.3" fill="#c487d8"/>
<circle cx="358.2" cy="276.5" r="2.3" fill="#c487d8"/>
<circle cx="278.9" cy="262.1" r="2.3" fill="#d985b3"/>
<circle cx="326.7" cy="279.1" r="2.3" fill="#d985b3"/>
<circle cx="361.8" cy="285.1" r="2.3" fill="#9e1f9c"/>
<circle cx="374.7" cy="280.9" r="2.3" fill="#c487d8"/>
<circle cx="342.6" cy="268.4" r="2.3" fill="#c487d8"/>
<circle cx="310.3" cy="279.1" r="2.3" fill="#d985b3"/>
<circle cx="330.4" cy="284.9" r="2.3" fill="#9e1f9c"/>
<circle cx="313.1" cy="241.5" r="2.3" fill="#c487d8"/>
<circle cx="331.8" cy="286.7" r="2.3" fill="#9e1f9c"/>
<circle cx="330.5" cy="268.4" r="2.3" fill="#c487d8"/>
<circle cx="309.5" cy="282.7" r="2.3" fill="#9e1f9c"/>
<circle cx="299.0" cy="276.4" r="2.3" fill="#d985b3"/>
<circle cx="277.6" cy="288.1" r="2.3" fill="#9e1f9c"/>
<circle cx="277.8" cy="266.6" r="2.3" fill="#c487d8"/>
<circle cx="294.9" cy="270.2" r="2.3" fill="#c487d8"/>
<circle cx="313.6" cy="267.5" r="2.3" fill="#c487d8"/>
<circle cx="313.4" cy="265.0" r="2.3" fill="#c487d8"/>
<circle cx="345.7" cy="285.3" r="2.3" fill="#9e1f9c"/>
<circle cx="265.1" cy="290.4" r="2.3" fill="#9e1f9c"/>
<circle cx="293.5" cy="293.1" r="2.3" fill="#9e1f9c"/>
<circle cx="377.0" cy="293.1" r="2.3" fill="#c487d8"/>
<circle cx="294.9" cy="240.3" r="2.3" fill="#c487d8"/>
<circle cx="328.1" cy="287.5" r="2.3" fill="#9e1f9c"/>
<circle cx="347.1" cy="275.6" r="2.3" fill="#c487d8"/>
<circle cx="329.9" cy="272.0" r="2.3" fill="#c487d8"/>
<circle cx="294.2" cy="286.3" r="2.3" fill="#9e1f9c"/>
<circle cx="363.7" cy="286.4" r="2.3" fill="#9e1f9c"/>
<circle cx="262.5" cy="266.6" r="2.3" fill="#c487d8"/>
<circle cx="359.5" cy="285.6" r="2.3" fill="#9e1f9c"/>
<circle cx="266.4" cy="289.4" r="2.3" fill="#9e1f9c"/>
<circle cx="331.0" cy="256.7" r="2.3" fill="#d985b3"/>
<circle cx="343.6" cy="282.6" r="2.3" fill="#9e1f9c"/>
<circle cx="378.3" cy="289.8" r="2.3" fill="#9e1f9c"/>
<circle cx="299.7" cy="250.4" r="2.3" fill="#c487d8"/>
<circle cx="375.1" cy="293.1" r="2.3" fill="#9e1f9c"/>
<circle cx="282.9" cy="290.3" r="2.3" fill="#9e1f9c"/>
<circle cx="313.1" cy="283.2" r="2.3" fill="#9e1f9c"/>
<circle cx="282.1" cy="270.2" r="2.3" fill="#c487d8"/>
<circle cx="327.2" cy="290.1" r="2.3" fill="#9e1f9c"/>
<circle cx="326.2" cy="280.0" r="2.3" fill="#9e1f9c"/>
<circle cx="278.0" cy="261.2" r="2.3" fill="#d985b3"/>
<circle cx="314.7" cy="255.8" r="2.3" fill="#c487d8"/>
<circle cx="330.2" cy="284.9" r="2.3" fill="#9e1f9c"/>
<circle cx="295.2" cy="286.5" r="2.3" fill="#9e1f9c"/>
<circle cx="282.8" cy="284.6" r="2.3" fill="#9e1f9c"/>
<circle cx="342.6" cy="293.1" r="2.3" fill="#9e1f9c"/>
<circle cx="313.7" cy="280.9" r="2.3" fill="#9e1f9c"/>
<circle cx="315.9" cy="257.6" r="2.3" fill="#c487d8"/>
<circle cx="265.0" cy="286.6" r="2.3" fill="#9e1f9c"/>
<circle cx="342.5" cy="275.6" r="2.3" fill="#9e1f9c"/>
<circle cx="281.4" cy="287.9" r="2.3" fill="#9e1f9c"/>
<circle cx="282.2" cy="286.9" r="2.3" fill="#9e1f9c"/>
<circle cx="347.5" cy="281.9" r="2.3" fill="#9e1f9c"/>
<circle cx="326.0" cy="289.5" r="2.3" fill="#9e1f9c"/>
<circle cx="344.6" cy="284.5" r="2.3" fill="#c487d8"/>
<circle cx="359.8" cy="287.7" r="2.3" fill="#9e1f9c"/>
<circle cx="267.3" cy="291.1" r="2.3" fill="#9e1f9c"/>
<circle cx="380.6" cy="290.6" r="2.3" fill="#c487d8"/>
<circle cx="283.0" cy="272.0" r="2.3" fill="#d985b3"/>
<circle cx="299.4" cy="267.1" r="2.3" fill="#d985b3"/>
<circle cx="309.7" cy="288.3" r="2.3" fill="#9e1f9c"/>
<circle cx="265.6" cy="287.5" r="2.3" fill="#9e1f9c"/>
<circle cx="346.7" cy="280.4" r="2.3" fill="#9e1f9c"/>
<circle cx="326.5" cy="286.7" r="2.3" fill="#9e1f9c"/>
<circle cx="310.2" cy="266.6" r="2.3" fill="#c487d8"/>
<circle cx="347.3" cy="277.4" r="2.3" fill="#9e1f9c"/>
<circle cx="375.2" cy="293.0" r="2.3" fill="#c487d8"/>
<circle cx="330.6" cy="283.7" r="2.3" fill="#9e1f9c"/>
<circle cx="314.2" cy="290.9" r="2.3" fill="#9e1f9c"/>
<circle cx="342.4" cy="286.6" r="2.3" fill="#9e1f9c"/>
<circle cx="279.0" cy="252.2" r="2.3" fill="#d985b3"/>
<circle cx="295.5" cy="288.8" r="2.3" fill="#9e1f9c"/>
<circle cx="376.0" cy="279.9" r="2.3" fill="#c487d8"/>
<circle cx="363.3" cy="288.5" r="2.3" fill="#9e1f9c"/>
<circle cx="314.0" cy="289.1" r="2.3" fill="#9e1f9c"/>
<circle cx="311.9" cy="289.5" r="2.3" fill="#9e1f9c"/>
<circle cx="326.6" cy="258.5" r="2.3" fill="#c487d8"/>
<circle cx="297.5" cy="285.1" r="2.3" fill="#9e1f9c"/>
<circle cx="278.6" cy="268.4" r="2.3" fill="#c487d8"/>
<circle cx="297.5" cy="273.8" r="2.3" fill="#d985b3"/>
<circle cx="266.0" cy="267.7" r="2.3" fill="#d985b3"/>
<circle cx="362.3" cy="278.3" r="2.3" fill="#c487d8"/>
<circle cx="310.6" cy="286.5" r="2.3" fill="#9e1f9c"/>
<circle cx="374.4" cy="286.8" r="2.3" fill="#c487d8"/>
<circle cx="298.6" cy="287.4" r="2.3" fill="#9e1f9c"/>
<circle cx="374.9" cy="293.1" r="2.3" fill="#c487d8"/>
<circle cx="345.3" cy="292.4" r="2.3" fill="#9e1f9c"/>
<circle cx="346.3" cy="290.0" r="2.3" fill="#9e1f9c"/>
<circle cx="347.6" cy="279.1" r="2.3" fill="#d985b3"/>
<circle cx="375.6" cy="287.0" r="2.3" fill="#c487d8"/>
<circle cx="362.9" cy="281.2" r="2.3" fill="#c487d8"/>
<circle cx="293.8" cy="289.7" r="2.3" fill="#9e1f9c"/>
<circle cx="299.5" cy="234.3" r="2.3" fill="#c487d8"/>
<circle cx="264.6" cy="281.8" r="2.3" fill="#9e1f9c"/>
<circle cx="310.5" cy="286.9" r="2.3" fill="#9e1f9c"/>
<circle cx="363.7" cy="286.3" r="2.3" fill="#9e1f9c"/>
<circle cx="278.4" cy="290.9" r="2.3" fill="#9e1f9c"/>
<circle cx="327.1" cy="278.8" r="2.3" fill="#d985b3"/>
<circle cx="294.7" cy="289.0" r="2.3" fill="#9e1f9c"/>
<circle cx="380.0" cy="287.2" r="2.3" fill="#c487d8"/>
<circle cx="283.6" cy="264.9" r="2.3" fill="#d985b3"/>
<circle cx="326.4" cy="276.0" r="2.3" fill="#c487d8"/>
<circle cx="358.3" cy="272.0" r="2.3" fill="#c487d8"/>
<circle cx="282.3" cy="267.0" r="2.3" fill="#c487d8"/>
<circle cx="313.9" cy="219.9" r="2.3" fill="#c487d8"/>
<circle cx="358.6" cy="283.2" r="2.3" fill="#c487d8"/>
<circle cx="278.1" cy="286.6" r="2.3" fill="#9e1f9c"/>
<circle cx="266.5" cy="286.3" r="2.3" fill="#9e1f9c"/>
<circle cx="348.3" cy="293.0" r="2.3" fill="#9e1f9c"/>
<circle cx="327.1" cy="278.2" r="2.3" fill="#d985b3"/>
<circle cx="299.1" cy="286.4" r="2.3" fill="#9e1f9c"/>
<circle cx="362.8" cy="287.0" r="2.3" fill="#9e1f9c"/>
<circle cx="263.5" cy="288.2" r="2.3" fill="#9e1f9c"/>
<circle cx="360.3" cy="286.4" r="2.3" fill="#9e1f9c"/>
<circle cx="345.1" cy="258.5" r="2.3" fill="#c487d8"/>
<circle cx="294.5" cy="252.4" r="2.3" fill="#c487d8"/>
<circle cx="313.4" cy="237.0" r="2.3" fill="#d985b3"/>
<circle cx="310.9" cy="285.5" r="2.3" fill="#9e1f9c"/>
<circle cx="342.0" cy="273.8" r="2.3" fill="#c487d8"/>
<circle cx="310.9" cy="264.8" r="2.3" fill="#c487d8"/>
<circle cx="377.0" cy="290.2" r="2.3" fill="#9e1f9c"/>
<circle cx="326.2" cy="269.9" r="2.3" fill="#c487d8"/>
<circle cx="346.3" cy="270.2" r="2.3" fill="#c487d8"/>
<circle cx="345.7" cy="288.9" r="2.3" fill="#9e1f9c"/>
<circle cx="377.8" cy="279.1" r="2.3" fill="#c487d8"/>
<circle cx="267.4" cy="252.2" r="2.3" fill="#d985b3"/>
<circle cx="277.5" cy="291.4" r="2.3" fill="#9e1f9c"/>
<circle cx="311.4" cy="272.0" r="2.3" fill="#d985b3"/>
<circle cx="267.4" cy="270.5" r="2.3" fill="#d985b3"/>
<circle cx="298.2" cy="245.1" r="2.3" fill="#c487d8"/>
<circle cx="379.6" cy="280.2" r="2.3" fill="#c487d8"/>
<circle cx="362.1" cy="289.2" r="2.3" fill="#9e1f9c"/>
<circle cx="311.6" cy="293.1" r="2.3" fill="#9e1f9c"/>
<circle cx="293.4" cy="248.5" r="2.3" fill="#c487d8"/>
<circle cx="377.6" cy="288.7" r="2.3" fill="#c487d8"/>
<circle cx="283.7" cy="288.0" r="2.3" fill="#9e1f9c"/>
<circle cx="279.4" cy="243.3" r="2.3" fill="#d985b3"/>
<circle cx="379.2" cy="286.2" r="2.3" fill="#9e1f9c"/>
<circle cx="262.5" cy="291.7" r="2.3" fill="#c487d8"/>
<circle cx="263.5" cy="246.9" r="2.3" fill="#d985b3"/>
<circle cx="295.4" cy="268.4" r="2.3" fill="#c487d8"/>
<circle cx="278.5" cy="262.7" r="2.3" fill="#d985b3"/>
<circle cx="327.1" cy="283.6" r="2.3" fill="#9e1f9c"/>
<circle cx="278.2" cy="285.5" r="2.3" fill="#9e1f9c"/>
<circle cx="262.4" cy="285.2" r="2.3" fill="#9e1f9c"/>
<circle cx="264.7" cy="292.3" r="2.3" fill="#9e1f9c"/>
<circle cx="314.1" cy="275.6" r="2.3" fill="#d985b3"/>
<circle cx="343.6" cy="280.9" r="2.3" fill="#9e1f9c"/>
<circle cx="330.7" cy="269.0" r="2.3" fill="#c487d8"/>
<circle cx="267.3" cy="259.4" r="2.3" fill="#c487d8"/>
<circle cx="299.5" cy="253.2" r="2.3" fill="#c487d8"/>
<circle cx="345.2" cy="272.0" r="2.3" fill="#c487d8"/>
<circle cx="261.5" cy="286.3" r="2.3" fill="#c487d8"/>
<circle cx="282.6" cy="286.0" r="2.3" fill="#9e1f9c"/>
<circle cx="265.2" cy="280.9" r="2.3" fill="#9e1f9c"/>
<circle cx="380.1" cy="284.7" r="2.3" fill="#c487d8"/>
<circle cx="261.5" cy="263.0" r="2.3" fill="#d985b3"/>
<circle cx="280.3" cy="284.1" r="2.3" fill="#9e1f9c"/>
<circle cx="327.9" cy="273.8" r="2.3" fill="#c487d8"/>
<circle cx="364.4" cy="275.6" r="2.3" fill="#c487d8"/>
<circle cx="309.7" cy="268.4" r="2.3" fill="#c487d8"/>
<circle cx="363.7" cy="291.6" r="2.3" fill="#9e1f9c"/>
<circle cx="361.4" cy="280.9" r="2.3" fill="#c487d8"/>
<circle cx="346.6" cy="273.4" r="2.3" fill="#c487d8"/>
<circle cx="346.7" cy="288.7" r="2.3" fill="#9e1f9c"/>
<circle cx="277.2" cy="289.0" r="2.3" fill="#9e1f9c"/>
<circle cx="342.4" cy="289.5" r="2.3" fill="#9e1f9c"/>
<circle cx="310.2" cy="273.8" r="2.3" fill="#d985b3"/>
<circle cx="294.7" cy="290.8" r="2.3" fill="#d985b3"/>
<circle cx="342.4" cy="282.1" r="2.3" fill="#9e1f9c"/>
<circle cx="343.4" cy="293.1" r="2.3" fill="#9e1f9c"/>
<circle cx="294.8" cy="272.5" r="2.3" fill="#d985b3"/>
<circle cx="266.6" cy="269.7" r="2.3" fill="#d985b3"/>
<circle cx="377.4" cy="285.9" r="2.3" fill="#9e1f9c"/>
<circle cx="329.7" cy="270.2" r="2.3" fill="#c487d8"/>
<circle cx="374.3" cy="292.1" r="2.3" fill="#c487d8"/>
<circle cx="297.7" cy="282.9" r="2.3" fill="#9e1f9c"/>
<circle cx="295.3" cy="291.0" r="2.3" fill="#9e1f9c"/>
<circle cx="277.9" cy="272.7" r="2.3" fill="#c487d8"/>
<circle cx="326.3" cy="290.1" r="2.3" fill="#9e1f9c"/>
<circle cx="374.8" cy="291.5" r="2.3" fill="#c487d8"/>
<circle cx="280.6" cy="288.5" r="2.3" fill="#9e1f9c"/>
<circle cx="264.5" cy="243.3" r="2.3" fill="#c487d8"/>
<circle cx="277.4" cy="279.1" r="2.3" fill="#9e1f9c"/>
<circle cx="377.3" cy="290.0" r="2.3" fill="#c487d8"/>
<circle cx="265.0" cy="268.4" r="2.3" fill="#c487d8"/>
<circle cx="312.0" cy="261.7" r="2.3" fill="#c487d8"/>
<circle cx="278.4" cy="263.0" r="2.3" fill="#d985b3"/>
<circle cx="265.1" cy="264.8" r="2.3" fill="#d985b3"/>
<circle cx="328.7" cy="285.5" r="2.3" fill="#9e1f9c"/>
<circle cx="262.7" cy="247.8" r="2.3" fill="#c487d8"/>
<circle cx="262.3" cy="290.2" r="2.3" fill="#9e1f9c"/>
<circle cx="330.4" cy="284.7" r="2.3" fill="#9e1f9c"/>
<circle cx="378.3" cy="290.5" r="2.3" fill="#9e1f9c"/>
<circle cx="298.6" cy="261.2" r="2.3" fill="#d985b3"/>
<circle cx="346.6" cy="271.7" r="2.3" fill="#c487d8"/>
<circle cx="314.0" cy="283.4" r="2.3" fill="#9e1f9c"/>
<circle cx="296.0" cy="243.3" r="2.3" fill="#c487d8"/>
<circle cx="326.8" cy="285.7" r="2.3" fill="#9e1f9c"/>
<circle cx="297.1" cy="290.0" r="2.3" fill="#9e1f9c"/>
<circle cx="264.2" cy="252.6" r="2.3" fill="#c487d8"/>
<circle cx="362.4" cy="284.2" r="2.3" fill="#9e1f9c"/>
<circle cx="282.7" cy="273.8" r="2.3" fill="#9e1f9c"/>
<circle cx="312.8" cy="284.8" r="2.3" fill="#9e1f9c"/>
<circle cx="327.0" cy="285.4" r="2.3" fill="#c487d8"/>
<circle cx="347.1" cy="283.6" r="2.3" fill="#9e1f9c"/>
<circle cx="266.3" cy="272.0" r="2.3" fill="#d985b3"/>
<circle cx="298.1" cy="252.2" r="2.3" fill="#c487d8"/>
<circle cx="264.6" cy="286.3" r="2.3" fill="#9e1f9c"/>
<circle cx="315.5" cy="290.9" r="2.3" fill="#9e1f9c"/>
<circle cx="265.5" cy="280.9" r="2.3" fill="#9e1f9c"/>
<circle cx="346.5" cy="275.4" r="2.3" fill="#c487d8"/>
<circle cx="262.1" cy="232.7" r="2.3" fill="#c487d8"/>
<circle cx="263.3" cy="248.7" r="2.3" fill="#d985b3"/>
<circle cx="264.9" cy="275.6" r="2.3" fill="#d985b3"/>
<circle cx="375.2" cy="286.9" r="2.3" fill="#c487d8"/>
<circle cx="378.8" cy="293.1" r="2.3" fill="#9e1f9c"/>
<circle cx="278.5" cy="289.9" r="2.3" fill="#c487d8"/>
<circle cx="343.6" cy="288.2" r="2.3" fill="#9e1f9c"/>
<circle cx="363.4" cy="282.0" r="2.3" fill="#9e1f9c"/>
<circle cx="374.8" cy="289.3" r="2.3" fill="#c487d8"/>
<circle cx="379.5" cy="285.4" r="2.3" fill="#9e1f9c"/>
<circle cx="266.1" cy="251.6" r="2.3" fill="#c487d8"/>
<line x1="253.20" y1="203.30" x2="253.20" y2="293.50" stroke="#6a6a6a" stroke-width="1.5" />
<line x1="249.60" y1="293.50" x2="388.30" y2="293.50" stroke="#000" stroke-width="1.5" />
<line x1="249.60" y1="293.50" x2="253.20" y2="293.50" stroke="#333" stroke-width="1.1" />
<text x="248.60" y="295.80" font-size="6.8" font-weight="bold" text-anchor="end" >0</text>
<line x1="249.60" y1="275.56" x2="253.20" y2="275.56" stroke="#333" stroke-width="1.1" />
<text x="248.60" y="277.86" font-size="6.8" font-weight="bold" text-anchor="end" >10</text>
<line x1="249.60" y1="257.62" x2="253.20" y2="257.62" stroke="#333" stroke-width="1.1" />
<text x="248.60" y="259.92" font-size="6.8" font-weight="bold" text-anchor="end" >20</text>
<line x1="249.60" y1="239.68" x2="253.20" y2="239.68" stroke="#333" stroke-width="1.1" />
<text x="248.60" y="241.98" font-size="6.8" font-weight="bold" text-anchor="end" >30</text>
<line x1="249.60" y1="221.74" x2="253.20" y2="221.74" stroke="#333" stroke-width="1.1" />
<text x="248.60" y="224.04" font-size="6.8" font-weight="bold" text-anchor="end" >40</text>
<line x1="249.60" y1="203.80" x2="253.20" y2="203.80" stroke="#333" stroke-width="1.1" />
<text x="248.60" y="206.10" font-size="6.8" font-weight="bold" text-anchor="end" >50</text>
<line x1="264.50" y1="293.50" x2="264.50" y2="296.90" stroke="#000" stroke-width="1.1" />
<text x="264.50" y="305.30" font-size="6.6" font-weight="bold" text-anchor="middle" >UT</text>
<line x1="280.50" y1="293.50" x2="280.50" y2="296.90" stroke="#000" stroke-width="1.1" />
<text x="280.50" y="305.30" font-size="6.6" font-weight="bold" text-anchor="middle" >1</text>
<line x1="296.60" y1="293.50" x2="296.60" y2="296.90" stroke="#000" stroke-width="1.1" />
<text x="296.60" y="305.30" font-size="6.6" font-weight="bold" text-anchor="middle" >3</text>
<line x1="312.70" y1="293.50" x2="312.70" y2="296.90" stroke="#000" stroke-width="1.1" />
<text x="312.70" y="305.30" font-size="6.6" font-weight="bold" text-anchor="middle" >6</text>
<line x1="328.80" y1="293.50" x2="328.80" y2="296.90" stroke="#000" stroke-width="1.1" />
<text x="328.80" y="305.30" font-size="6.6" font-weight="bold" text-anchor="middle" >10</text>
<line x1="345.10" y1="293.50" x2="345.10" y2="296.90" stroke="#000" stroke-width="1.1" />
<text x="345.10" y="305.30" font-size="6.6" font-weight="bold" text-anchor="middle" >18</text>
<line x1="361.30" y1="293.50" x2="361.30" y2="296.90" stroke="#000" stroke-width="1.1" />
<text x="361.30" y="305.30" font-size="6.6" font-weight="bold" text-anchor="middle" >25</text>
<line x1="377.40" y1="293.50" x2="377.40" y2="296.90" stroke="#000" stroke-width="1.1" />
<text x="377.40" y="305.30" font-size="6.6" font-weight="bold" text-anchor="middle" >100</text>
<text x="304.70" y="203.90" font-size="8.5" font-weight="bold" >HBCx39</text>
<text x="229.90" y="248.60" font-size="7.4" font-weight="bold" text-anchor="middle" transform="rotate(-90 229.90 248.60)" >Percentage of replicating cells</text>
<text x="238.20" y="248.30" font-size="7.5" font-weight="bold" text-anchor="middle" transform="rotate(-90 238.20 248.30)" >(EdU/DAPI)</text>
<text x="274.00" y="315.80" font-size="7.45" fill="#222" textLength="96.00" lengthAdjust="spacingAndGlyphs" >Paclitaxel concentration (nM)</text>
<circle cx="392.1" cy="220.9" r="2" fill="#d985b3"/>
<text x="402.80" y="223.10" font-size="7.3" fill="#1a1a1a" >PDX29</text>
<circle cx="392.1" cy="232.8" r="2" fill="#9e1f9c"/>
<text x="402.80" y="235.00" font-size="7.3" fill="#1a1a1a" >PDX59</text>
<circle cx="392.1" cy="244.5" r="2" fill="#c487d8"/>
<text x="402.80" y="246.70" font-size="7.3" fill="#1a1a1a" >PDX62</text>
<text x="346.50" y="178.10" font-size="16" font-weight="bold" >d</text>
<line x1="486.70" y1="202.80" x2="486.70" y2="290.50" stroke="#000" stroke-width="1.3" />
<line x1="482.60" y1="289.90" x2="632.50" y2="289.90" stroke="#000" stroke-width="1.3" />
<line x1="483.10" y1="289.90" x2="486.70" y2="289.90" stroke="#000" stroke-width="1.1" />
<text x="482.20" y="292.20" font-size="6.6" font-weight="bold" text-anchor="end" >0</text>
<line x1="483.10" y1="272.60" x2="486.70" y2="272.60" stroke="#000" stroke-width="1.1" />
<text x="482.20" y="274.90" font-size="6.6" font-weight="bold" text-anchor="end" >50</text>
<line x1="483.10" y1="255.30" x2="486.70" y2="255.30" stroke="#000" stroke-width="1.1" />
<text x="482.20" y="257.60" font-size="6.6" font-weight="bold" text-anchor="end" >100</text>
<line x1="483.10" y1="238.00" x2="486.70" y2="238.00" stroke="#000" stroke-width="1.1" />
<text x="482.20" y="240.30" font-size="6.6" font-weight="bold" text-anchor="end" >150</text>
<line x1="483.10" y1="220.70" x2="486.70" y2="220.70" stroke="#000" stroke-width="1.1" />
<text x="482.20" y="223.00" font-size="6.6" font-weight="bold" text-anchor="end" >200</text>
<line x1="483.10" y1="203.40" x2="486.70" y2="203.40" stroke="#000" stroke-width="1.1" />
<text x="482.20" y="205.70" font-size="6.6" font-weight="bold" text-anchor="end" >250</text>
<line x1="494.70" y1="289.90" x2="494.70" y2="293.30" stroke="#000" stroke-width="1.1" />
<text x="493.30" y="300.60" font-size="6.6" font-weight="bold" text-anchor="middle" >UT</text>
<line x1="513.00" y1="289.90" x2="513.00" y2="293.30" stroke="#000" stroke-width="1.1" />
<text x="511.60" y="300.60" font-size="6.6" font-weight="bold" text-anchor="middle" >1</text>
<line x1="531.30" y1="289.90" x2="531.30" y2="293.30" stroke="#000" stroke-width="1.1" />
<text x="529.90" y="300.60" font-size="6.6" font-weight="bold" text-anchor="middle" >3</text>
<line x1="549.60" y1="289.90" x2="549.60" y2="293.30" stroke="#000" stroke-width="1.1" />
<text x="548.20" y="300.60" font-size="6.6" font-weight="bold" text-anchor="middle" >6</text>
<line x1="567.90" y1="289.90" x2="567.90" y2="293.30" stroke="#000" stroke-width="1.1" />
<text x="566.50" y="300.60" font-size="6.6" font-weight="bold" text-anchor="middle" >10</text>
<line x1="586.20" y1="289.90" x2="586.20" y2="293.30" stroke="#000" stroke-width="1.1" />
<text x="584.80" y="300.60" font-size="6.6" font-weight="bold" text-anchor="middle" >18</text>
<line x1="604.50" y1="289.90" x2="604.50" y2="293.30" stroke="#000" stroke-width="1.1" />
<text x="603.10" y="300.60" font-size="6.6" font-weight="bold" text-anchor="middle" >25</text>
<line x1="622.80" y1="289.90" x2="622.80" y2="293.30" stroke="#000" stroke-width="1.1" />
<text x="621.40" y="300.60" font-size="6.6" font-weight="bold" text-anchor="middle" >100</text>
<text x="512.60" y="311.70" font-size="7.3" fill="#222" textLength="93.40" lengthAdjust="spacingAndGlyphs" >Paclitaxel concentration (nM)</text>
<text x="458.20" y="246.90" font-size="7.3" font-weight="bold" text-anchor="middle" transform="rotate(-90 458.20 246.90)" >Percentage of replicating cells</text>
<text x="467.50" y="245.90" font-size="7.4" font-weight="bold" text-anchor="middle" transform="rotate(-90 467.50 245.90)" >(EdU/DAPI)</text>
<line x1="513.00" y1="231.08" x2="513.00" y2="247.00" stroke="#d889b9" stroke-width="0.9" />
<line x1="510.80" y1="231.08" x2="515.20" y2="231.08" stroke="#d889b9" stroke-width="0.9" />
<line x1="510.80" y1="247.00" x2="515.20" y2="247.00" stroke="#d889b9" stroke-width="0.9" />
<line x1="531.30" y1="234.54" x2="531.30" y2="248.38" stroke="#d889b9" stroke-width="0.9" />
<line x1="529.10" y1="234.54" x2="533.50" y2="234.54" stroke="#d889b9" stroke-width="0.9" />
<line x1="529.10" y1="248.38" x2="533.50" y2="248.38" stroke="#d889b9" stroke-width="0.9" />
<line x1="549.60" y1="245.61" x2="549.60" y2="253.57" stroke="#d889b9" stroke-width="0.9" />
<line x1="547.40" y1="245.61" x2="551.80" y2="245.61" stroke="#d889b9" stroke-width="0.9" />
<line x1="547.40" y1="253.57" x2="551.80" y2="253.57" stroke="#d889b9" stroke-width="0.9" />
<line x1="567.90" y1="239.73" x2="567.90" y2="257.03" stroke="#d889b9" stroke-width="0.9" />
<line x1="565.70" y1="239.73" x2="570.10" y2="239.73" stroke="#d889b9" stroke-width="0.9" />
<line x1="565.70" y1="257.03" x2="570.10" y2="257.03" stroke="#d889b9" stroke-width="0.9" />
<line x1="586.20" y1="241.46" x2="586.20" y2="254.95" stroke="#d889b9" stroke-width="0.9" />
<line x1="584.00" y1="241.46" x2="588.40" y2="241.46" stroke="#d889b9" stroke-width="0.9" />
<line x1="584.00" y1="254.95" x2="588.40" y2="254.95" stroke="#d889b9" stroke-width="0.9" />
<line x1="604.50" y1="252.88" x2="604.50" y2="260.49" stroke="#d889b9" stroke-width="0.9" />
<line x1="602.30" y1="252.88" x2="606.70" y2="252.88" stroke="#d889b9" stroke-width="0.9" />
<line x1="602.30" y1="260.49" x2="606.70" y2="260.49" stroke="#d889b9" stroke-width="0.9" />
<line x1="622.80" y1="244.57" x2="622.80" y2="257.03" stroke="#d889b9" stroke-width="0.9" />
<line x1="620.60" y1="244.57" x2="625.00" y2="244.57" stroke="#d889b9" stroke-width="0.9" />
<line x1="620.60" y1="257.03" x2="625.00" y2="257.03" stroke="#d889b9" stroke-width="0.9" />
<line x1="513.00" y1="211.36" x2="513.00" y2="239.73" stroke="#7a1d6e" stroke-width="0.9" />
<line x1="510.80" y1="211.36" x2="515.20" y2="211.36" stroke="#7a1d6e" stroke-width="0.9" />
<line x1="510.80" y1="239.73" x2="515.20" y2="239.73" stroke="#7a1d6e" stroke-width="0.9" />
<line x1="531.30" y1="232.46" x2="531.30" y2="255.30" stroke="#7a1d6e" stroke-width="0.9" />
<line x1="529.10" y1="232.46" x2="533.50" y2="232.46" stroke="#7a1d6e" stroke-width="0.9" />
<line x1="529.10" y1="255.30" x2="533.50" y2="255.30" stroke="#7a1d6e" stroke-width="0.9" />
<line x1="549.60" y1="244.23" x2="549.60" y2="255.30" stroke="#7a1d6e" stroke-width="0.9" />
<line x1="547.40" y1="244.23" x2="551.80" y2="244.23" stroke="#7a1d6e" stroke-width="0.9" />
<line x1="547.40" y1="255.30" x2="551.80" y2="255.30" stroke="#7a1d6e" stroke-width="0.9" />
<line x1="567.90" y1="240.08" x2="567.90" y2="259.45" stroke="#7a1d6e" stroke-width="0.9" />
<line x1="565.70" y1="240.08" x2="570.10" y2="240.08" stroke="#7a1d6e" stroke-width="0.9" />
<line x1="565.70" y1="259.45" x2="570.10" y2="259.45" stroke="#7a1d6e" stroke-width="0.9" />
<line x1="586.20" y1="257.38" x2="586.20" y2="270.87" stroke="#7a1d6e" stroke-width="0.9" />
<line x1="584.00" y1="257.38" x2="588.40" y2="257.38" stroke="#7a1d6e" stroke-width="0.9" />
<line x1="584.00" y1="270.87" x2="588.40" y2="270.87" stroke="#7a1d6e" stroke-width="0.9" />
<line x1="604.50" y1="266.72" x2="604.50" y2="276.06" stroke="#7a1d6e" stroke-width="0.9" />
<line x1="602.30" y1="266.72" x2="606.70" y2="266.72" stroke="#7a1d6e" stroke-width="0.9" />
<line x1="602.30" y1="276.06" x2="606.70" y2="276.06" stroke="#7a1d6e" stroke-width="0.9" />
<line x1="622.80" y1="264.30" x2="622.80" y2="273.98" stroke="#7a1d6e" stroke-width="0.9" />
<line x1="620.60" y1="264.30" x2="625.00" y2="264.30" stroke="#7a1d6e" stroke-width="0.9" />
<line x1="620.60" y1="273.98" x2="625.00" y2="273.98" stroke="#7a1d6e" stroke-width="0.9" />
<polyline points="494.70,255.30 513.00,239.38 531.30,241.46 549.60,249.76 567.90,248.03 586.20,247.69 604.50,256.68 622.80,250.46" fill="none" stroke="#d889b9" stroke-width="1.0" />
<polyline points="494.70,255.30 513.00,225.54 531.30,243.88 549.60,249.76 567.90,250.11 586.20,264.30 604.50,271.22 622.80,269.14" fill="none" stroke="#7a1d6e" stroke-width="1.3" />
<circle cx="494.70" cy="255.30" r="2.30" fill="#d889b9"/>
<circle cx="513.00" cy="239.38" r="2.30" fill="#d889b9"/>
<circle cx="531.30" cy="241.46" r="2.30" fill="#d889b9"/>
<circle cx="549.60" cy="249.76" r="2.30" fill="#d889b9"/>
<circle cx="567.90" cy="248.03" r="2.30" fill="#d889b9"/>
<circle cx="586.20" cy="247.69" r="2.30" fill="#d889b9"/>
<circle cx="604.50" cy="256.68" r="2.30" fill="#d889b9"/>
<circle cx="622.80" cy="250.46" r="2.30" fill="#d889b9"/>
<rect x="492.20" y="252.80" width="5.00" height="5.00" fill="#7a1d6e"/>
<rect x="510.50" y="223.04" width="5.00" height="5.00" fill="#7a1d6e"/>
<rect x="528.80" y="241.38" width="5.00" height="5.00" fill="#7a1d6e"/>
<rect x="547.10" y="247.26" width="5.00" height="5.00" fill="#7a1d6e"/>
<rect x="565.40" y="247.61" width="5.00" height="5.00" fill="#7a1d6e"/>
<rect x="583.70" y="261.80" width="5.00" height="5.00" fill="#7a1d6e"/>
<rect x="602.00" y="268.72" width="5.00" height="5.00" fill="#7a1d6e"/>
<rect x="620.30" y="266.64" width="5.00" height="5.00" fill="#7a1d6e"/>
<line x1="545.60" y1="203.40" x2="554.90" y2="203.40" stroke="#d889b9" stroke-width="1.1" />
<circle cx="550.20" cy="203.40" r="2.20" fill="#d889b9"/>
<line x1="545.60" y1="215.10" x2="554.90" y2="215.10" stroke="#7a1d6e" stroke-width="1.3" />
<rect x="547.80" y="212.70" width="4.80" height="4.80" fill="#7a1d6e"/>
<text x="560.1" y="206.0" font-size="7.2" fill="#222">Paclitaxel-responder (<tspan font-style="italic">in vivo</tspan>)</text>
<text x="560.1" y="217.7" font-size="7.2" fill="#222">Paclitaxel-resistant (<tspan font-style="italic">in vivo</tspan>)</text>
<text x="0.50" y="342.20" font-size="16" font-weight="bold" >e</text>
<text x="72.80" y="342.50" font-size="10.4" textLength="79.50" lengthAdjust="spacingAndGlyphs" stroke="#000" stroke-width="0.15">HBCx-4B (PDX49)</text>
<text x="182.60" y="342.50" font-size="10.4" textLength="85.60" lengthAdjust="spacingAndGlyphs" stroke="#000" stroke-width="0.15">HBCx-147 (PDX31)</text>
<text x="21.30" y="390.10" font-size="9" textLength="10.70" lengthAdjust="spacingAndGlyphs" >UT</text>
<text x="19.90" y="460.40" font-size="8.6" textLength="23.00" lengthAdjust="spacingAndGlyphs" >10nM</text>
<text x="13.40" y="471.50" font-size="8.6" textLength="38.00" lengthAdjust="spacingAndGlyphs" >paclitaxel</text>
<clipPath id="c5"><rect x="58" y="350" width="108.6" height="73"/></clipPath>
<rect x="58" y="350" width="108.6" height="73" fill="#000"/>
<g clip-path="url(#c5)"><g filter="url(#bl)" stroke-linecap="round" fill="none">
<path d="M59.3 358.2h0M88.2 377.2h0M71.6 413.2h0M116.7 373.3h0M91.5 378.3h0M102.6 410.1h0M147.4 374.5h0M90.3 353.8h0M119.7 360.8h0M99.4 413.4h0M119.2 365.4h0M157.2 363.3h0M153.0 353.9h0M107.7 369.1h0M74.7 421.2h0M102.5 413.4h0M64.9 419.3h0M79.7 387.2h0M77.5 411.1h0M109.3 417.4h0M122.2 363.3h0M99.1 385.1h0M156.1 391.1h0M113.2 390.7h0M78.0 367.5h0M161.0 394.0h0M144.0 390.1h0M105.7 350.5h0M165.1 372.4h0M161.1 351.5h0M88.7 399.4h0M63.1 373.3h0M158.8 373.6h0M163.1 363.6h0M66.7 368.6h0M145.1 422.1h0M161.1 410.0h0M105.0 354.2h0M104.5 368.1h0M75.3 365.4h0M101.1 352.6h0M87.4 391.0h0M77.6 354.7h0M91.8 422.3h0M103.3 399.3h0M82.5 381.7h0M100.7 355.0h0M92.6 382.2h0M141.4 407.5h0M166.1 372.7h0M147.0 371.3h0M139.8 376.1h0M89.1 409.7h0M160.4 407.2h0M109.5 351.8h0M144.8 397.4h0M102.1 389.6h0M68.1 356.3h0M163.0 381.4h0M82.8 375.3h0M146.5 394.0h0M148.8 395.5h0M62.6 367.0h0M76.2 359.6h0M84.4 412.5h0M162.2 364.4h0M94.6 371.3h0M102.6 373.6h0M153.7 351.6h0M77.0 366.3h0M58.1 378.2h0M99.1 369.5h0M144.9 403.2h0M119.6 352.8h0M68.9 358.1h0M63.0 376.8h0M70.9 361.8h0M146.7 403.5h0M147.5 372.0h0M159.3 363.9h0M81.4 353.0h0M106.2 419.0h0M62.1 370.9h0M90.6 398.8h0M100.9 399.7h0M142.0 380.0h0M159.0 356.4h0M70.2 355.3h0M94.6 376.9h0M152.9 396.9h0M157.6 421.9h0M160.6 388.7h0M78.6 392.8h0M143.0 351.7h0M100.3 388.5h0M163.8 367.4h0M99.0 409.2h0M158.9 397.9h0M87.4 354.4h0M124.5 361.3h0M149.5 406.6h0M159.0 402.6h0M143.5 368.0h0M91.5 382.6h0M110.6 355.8h0M138.4 409.8h0M78.6 396.7h0M91.5 383.3h0M155.4 363.6h0M156.7 378.1h0M144.6 360.0h0M164.7 392.1h0M110.7 372.2h0M127.6 370.5h0M161.4 406.7h0" stroke="#1414f0" stroke-width="2.5"/>
<path d="M70.2 366.9h0M129.9 360.0h0M79.0 396.8h0M79.0 409.9h0M160.4 400.4h0M70.9 381.0h0M104.2 401.9h0M81.3 375.2h0M159.6 370.2h0M90.3 384.6h0M63.2 372.8h0M71.6 377.8h0M103.7 372.9h0M95.2 363.6h0M142.7 381.5h0M86.1 355.5h0M152.5 360.4h0M72.5 414.0h0M127.1 371.1h0M150.1 375.4h0M98.9 410.6h0M146.7 422.7h0M165.7 389.4h0M123.7 368.2h0M85.1 386.4h0M60.1 414.3h0M151.7 352.8h0M98.4 419.4h0M58.0 356.2h0M82.7 356.1h0M166.1 385.5h0M97.4 364.5h0M143.5 372.0h0M96.7 391.9h0M69.9 402.1h0M59.1 420.4h0M157.3 375.5h0M116.4 375.5h0M160.3 360.1h0M151.1 380.7h0M142.1 386.1h0M104.6 409.3h0M142.5 362.0h0M93.9 363.9h0M140.3 358.3h0M94.2 373.8h0M84.5 380.7h0M142.2 358.5h0M105.9 385.6h0M161.3 402.4h0M60.7 351.8h0M66.8 380.3h0M143.8 399.6h0M113.2 389.3h0M150.4 405.1h0M111.3 364.9h0M118.6 369.8h0M139.0 405.4h0M99.0 410.2h0M124.9 363.4h0M162.4 374.1h0M83.2 383.1h0M164.4 389.5h0M158.0 350.8h0M154.6 393.7h0M102.7 397.1h0M146.5 394.0h0M72.7 372.6h0M132.1 350.5h0M111.8 366.6h0M75.6 414.9h0M96.2 367.8h0M118.6 415.4h0M77.2 377.3h0M73.3 419.2h0M100.3 405.4h0M94.1 392.9h0M80.0 370.8h0M139.1 358.1h0M118.4 371.9h0M100.0 376.5h0M94.3 376.6h0M91.7 358.5h0M145.3 413.2h0M142.3 355.4h0M76.5 394.2h0M74.1 366.9h0M139.4 373.5h0M99.5 391.4h0M71.6 380.5h0M157.6 383.0h0M79.9 389.2h0M156.3 385.7h0M165.9 378.0h0M134.5 352.5h0M96.1 418.8h0M111.0 416.2h0M149.1 371.6h0M146.4 375.1h0M66.0 352.1h0M120.4 371.9h0M105.5 363.3h0M153.3 379.6h0M92.2 355.7h0M95.4 412.5h0M71.5 392.9h0M67.7 368.7h0M158.8 393.2h0M164.0 378.4h0M154.3 404.0h0M103.8 405.3h0M160.7 379.8h0M91.4 356.7h0M64.9 370.3h0M163.9 393.7h0M102.2 418.6h0M147.3 369.9h0M159.8 420.2h0M75.2 416.1h0M162.8 382.3h0M72.3 350.5h0M145.8 373.8h0M132.7 374.2h0M137.6 367.0h0M97.5 419.8h0M82.5 405.1h0M163.9 359.0h0M144.4 373.8h0M84.1 418.3h0M140.7 388.8h0M146.3 366.9h0M109.3 386.7h0M95.0 416.4h0M80.5 351.8h0M143.8 410.5h0M81.3 392.7h0M107.7 399.2h0M154.6 370.7h0M59.8 352.6h0M75.8 411.0h0M89.7 364.7h0M78.6 352.5h0M152.3 352.7h0M150.4 380.8h0M146.0 420.8h0M81.1 378.1h0M123.7 367.0h0M74.4 381.0h0M157.0 386.5h0M151.5 416.5h0M154.2 403.4h0M164.5 369.6h0M88.3 393.3h0M85.8 390.6h0M111.0 356.4h0M91.7 422.1h0M143.9 421.4h0M91.1 401.1h0M90.1 383.9h0M81.4 421.5h0M157.6 392.0h0M86.6 350.8h0M100.9 399.2h0M158.2 359.8h0M97.3 397.1h0M163.8 391.7h0M88.1 384.7h0M148.0 397.0h0M88.6 375.5h0M138.6 358.9h0M73.0 360.1h0M159.9 410.4h0M109.6 375.7h0M103.5 390.5h0M60.5 358.2h0M80.6 421.7h0M91.2 374.2h0M142.2 366.6h0M108.0 377.7h0M101.5 407.7h0M59.1 371.4h0M162.8 403.7h0M72.7 416.8h0M106.8 396.7h0M165.8 363.3h0M99.6 395.0h0M154.3 380.0h0M79.0 380.6h0M156.1 392.2h0M63.8 369.4h0M147.0 367.1h0M143.8 360.0h0M137.2 366.6h0M121.2 367.2h0M94.7 373.1h0M136.2 352.1h0M140.8 372.1h0M96.0 385.8h0M144.6 382.1h0M97.6 384.5h0M118.6 353.4h0M97.6 373.4h0M90.5 386.7h0M166.5 387.2h0M84.1 385.9h0M96.0 385.8h0M92.7 367.7h0M105.1 418.5h0M98.3 358.4h0M149.3 404.3h0M94.4 399.9h0M147.9 396.3h0M152.2 352.5h0M162.0 405.0h0M147.6 378.9h0M157.7 413.8h0M137.4 352.9h0M132.4 373.2h0M134.1 359.1h0M103.3 400.3h0M68.6 375.0h0M157.6 351.9h0M97.9 415.5h0M103.3 402.3h0M105.9 403.6h0M141.9 374.3h0M152.3 356.7h0M63.8 381.9h0M163.9 421.3h0M73.1 384.9h0M112.8 370.4h0M151.9 359.1h0M106.2 388.9h0M160.2 403.5h0M138.7 401.7h0M151.6 402.0h0M81.7 385.7h0M131.2 372.2h0M94.7 413.5h0M151.7 371.9h0M75.2 412.8h0M158.4 371.6h0M164.9 368.9h0M95.7 386.1h0M63.3 377.5h0M62.4 419.8h0M125.2 356.6h0M96.8 381.4h0M63.5 355.5h0M117.5 368.6h0M112.2 370.7h0M145.0 360.4h0M110.0 383.0h0M153.3 382.9h0M157.1 370.9h0M67.1 351.5h0M69.9 350.8h0M67.3 350.3h0M155.6 366.9h0M166.2 412.6h0M75.8 357.1h0M113.8 376.9h0M141.0 357.7h0M126.3 416.7h0M71.1 350.7h0M80.8 368.2h0M159.3 363.7h0M157.2 356.9h0M90.4 356.8h0M62.2 411.4h0M155.8 411.2h0M149.4 353.3h0M94.4 422.9h0M61.4 422.7h0M112.9 374.2h0M101.9 417.0h0M81.6 398.2h0M88.3 380.7h0M80.7 407.2h0M63.2 368.1h0M105.1 420.3h0M149.3 402.6h0M113.2 404.0h0M103.4 366.5h0M110.6 384.1h0M140.9 376.4h0M117.7 364.3h0M166.4 383.9h0M141.3 409.8h0M65.1 384.9h0M80.2 419.7h0M108.3 352.5h0M63.5 413.5h0M69.4 418.7h0M144.4 407.6h0M80.6 370.8h0M96.6 421.0h0M94.7 409.4h0M151.3 363.1h0M152.3 364.1h0M164.8 377.8h0M105.0 389.0h0M84.5 384.0h0M164.5 408.1h0M96.8 398.6h0M107.1 397.1h0M116.5 351.0h0M158.0 368.6h0M123.8 368.4h0M68.9 357.4h0M162.0 380.7h0M92.7 367.6h0M102.6 373.5h0M158.1 379.0h0M163.1 378.7h0M108.4 400.1h0M102.4 372.7h0M60.6 370.3h0M92.5 423.0h0M160.8 394.2h0M114.3 355.5h0M126.4 369.8h0M157.9 393.5h0M164.2 360.6h0M83.9 397.5h0M100.3 410.4h0M71.5 415.7h0M72.9 416.5h0M154.7 392.7h0M138.3 353.2h0M97.5 422.1h0M75.5 421.2h0M113.6 356.2h0M137.6 398.2h0M102.1 403.6h0M145.9 410.9h0M98.3 364.3h0M104.8 412.8h0M69.2 359.2h0M155.6 359.3h0M152.3 371.1h0M130.4 373.0h0M144.6 357.0h0M159.5 355.9h0M78.3 350.3h0M138.3 353.5h0M94.9 392.5h0M104.9 386.1h0" stroke="#1a1aff" stroke-width="2.0"/>
<path d="M166.2 356.8h0M165.4 352.2h0M94.3 378.9h0M107.4 408.4h0M71.0 364.2h0M70.2 360.1h0M101.6 388.3h0M108.7 359.8h0M137.8 410.4h0M65.2 368.2h0M105.8 360.3h0M67.7 412.7h0M93.0 378.4h0M149.1 352.8h0M138.2 416.4h0M107.3 360.0h0M76.4 405.0h0M154.0 390.3h0M72.8 412.6h0M73.6 421.1h0M76.0 369.2h0M108.8 376.7h0M161.6 420.7h0M62.6 383.8h0M109.3 355.8h0M141.3 352.0h0M88.3 383.1h0M132.4 419.9h0M155.7 379.1h0M161.6 384.1h0M70.9 368.5h0M91.1 382.1h0M132.6 366.5h0M66.9 368.5h0M99.8 353.7h0M134.4 368.6h0M94.5 405.8h0M138.6 411.0h0M80.0 355.6h0M72.0 351.9h0M129.5 351.7h0M111.7 359.9h0M155.5 418.7h0M163.4 379.8h0M144.6 353.3h0M72.6 363.7h0M113.8 375.3h0M155.8 388.0h0M121.9 419.3h0M99.9 378.1h0M132.7 352.0h0M166.4 422.7h0M133.8 367.8h0M80.9 378.4h0M85.8 370.5h0M113.0 421.7h0M110.6 358.6h0M78.2 374.5h0M128.9 363.9h0M59.3 384.1h0M72.6 358.3h0M146.6 386.1h0M132.2 366.1h0M161.1 354.5h0M103.0 393.7h0M163.9 392.1h0M81.7 410.5h0M155.0 402.3h0M114.7 352.6h0M68.4 379.5h0M154.6 413.3h0M145.3 394.7h0M106.4 368.4h0M137.4 414.2h0M135.4 369.0h0M149.0 359.6h0M59.6 359.3h0M72.8 373.2h0M94.1 375.4h0M154.1 419.2h0M112.2 392.8h0M69.2 365.4h0M58.0 422.1h0M87.3 418.9h0M85.6 361.1h0M91.0 391.5h0M75.3 368.6h0M163.3 393.4h0M95.1 354.7h0M106.6 358.3h0M79.7 388.1h0M163.0 400.9h0M72.0 418.0h0M82.3 391.8h0M132.3 356.9h0M84.8 420.8h0M71.3 384.1h0M104.0 419.4h0M148.0 376.8h0M59.4 367.3h0M69.5 422.2h0M86.1 379.3h0M70.7 414.0h0M65.0 414.1h0M88.7 403.4h0M92.3 351.2h0M155.9 404.0h0M114.0 356.4h0M72.1 372.5h0M157.7 359.5h0M66.5 364.2h0M86.9 373.4h0M160.0 391.0h0M107.9 421.1h0M153.7 385.1h0M152.5 416.2h0M62.8 362.7h0M95.8 413.3h0M111.0 416.4h0M91.9 411.4h0M163.5 395.7h0M123.3 373.6h0M142.1 354.6h0M153.8 362.9h0M154.3 417.5h0M98.9 367.8h0M148.1 415.4h0M59.1 358.5h0M95.7 398.5h0M110.3 360.2h0M86.8 410.3h0M162.2 397.6h0M58.6 368.6h0M141.4 365.7h0M67.7 353.1h0M159.5 384.3h0M157.7 412.1h0M97.5 421.3h0M88.1 370.1h0M121.7 363.2h0M162.5 390.8h0M103.7 420.0h0M84.0 372.1h0M149.6 394.2h0M149.7 407.4h0M95.8 399.6h0M162.7 370.7h0M101.5 408.9h0M93.2 396.3h0M97.6 403.8h0M161.7 401.5h0M81.6 411.9h0M102.6 393.4h0M83.7 395.3h0M159.2 398.3h0M67.8 356.2h0M105.2 416.3h0M95.2 388.4h0M131.3 369.5h0M107.7 365.6h0M67.0 362.0h0M136.9 370.2h0M88.5 355.3h0M133.9 416.0h0M147.8 403.4h0M154.3 419.0h0M91.7 382.9h0M156.7 405.6h0M108.0 384.6h0M76.8 386.4h0M95.2 401.1h0M163.4 398.3h0M92.3 419.5h0M79.2 386.6h0M105.1 416.3h0M79.0 406.7h0M100.9 390.7h0M110.2 397.3h0M149.1 361.4h0M99.1 419.9h0M93.2 358.7h0M149.7 367.7h0M85.5 360.0h0M133.8 352.8h0M156.5 375.9h0M107.3 403.4h0M132.4 362.3h0M147.1 361.0h0M72.4 386.5h0M123.8 358.8h0M104.1 414.8h0M81.0 418.4h0M77.6 386.7h0M103.2 379.1h0M104.5 403.9h0M93.8 411.8h0M94.9 418.7h0M138.3 422.4h0M153.0 360.4h0M165.1 372.6h0M62.1 358.5h0M116.3 369.6h0M101.4 374.8h0M146.5 354.2h0M142.9 358.3h0M92.2 353.5h0M130.2 363.2h0M137.0 417.1h0M164.1 405.6h0M121.2 362.8h0M144.1 363.6h0M109.3 374.4h0M94.2 364.0h0M112.9 420.8h0M161.5 356.0h0M77.1 417.2h0M119.2 379.7h0M154.6 367.5h0M85.5 402.7h0M136.8 364.5h0M66.2 363.2h0M90.6 362.2h0M109.5 393.2h0M73.4 395.1h0M97.0 370.4h0M65.5 354.5h0M89.1 372.9h0M75.9 389.6h0M129.1 362.2h0M63.9 411.1h0M116.5 375.3h0M74.2 369.1h0M146.3 401.8h0M159.2 404.4h0M98.0 383.7h0M106.0 388.7h0M158.6 420.9h0M106.5 372.1h0M106.4 418.3h0M77.3 362.9h0M75.9 397.6h0M156.8 387.4h0M151.0 389.0h0M99.9 379.7h0M159.0 392.2h0M129.6 365.8h0M65.6 364.0h0M139.6 357.9h0M152.6 413.8h0M101.9 401.3h0M117.5 419.9h0M84.9 371.8h0M93.0 409.9h0M160.5 416.9h0M144.8 354.4h0M165.9 375.8h0M110.8 355.5h0M81.4 391.7h0M114.8 373.7h0M109.2 409.8h0M82.7 354.1h0M100.5 415.1h0M148.7 363.6h0M63.6 366.0h0M73.5 367.8h0M78.8 374.7h0M143.0 378.7h0M155.5 382.6h0M148.8 420.7h0M97.7 383.0h0M73.5 362.8h0M141.4 365.6h0M132.8 367.9h0M103.6 381.7h0M118.6 374.2h0M79.7 408.0h0M70.4 382.1h0M158.3 356.7h0M75.7 414.3h0M111.8 419.9h0M87.2 372.2h0M105.0 370.9h0M155.9 358.5h0M83.1 422.8h0M101.7 353.0h0M94.0 398.7h0M79.3 388.5h0M138.5 362.1h0M75.6 371.7h0M111.8 418.2h0M60.5 422.8h0M59.7 418.4h0M60.9 414.4h0M144.1 388.3h0M146.0 386.3h0M165.2 404.4h0M70.3 370.3h0M84.2 375.8h0M80.1 355.1h0M83.2 361.7h0M101.9 379.6h0M157.2 378.3h0M85.1 390.8h0M78.3 413.3h0M144.6 354.9h0M155.2 372.3h0M91.1 393.9h0M89.4 350.8h0M127.2 367.0h0M113.2 373.1h0M126.3 362.9h0M153.1 413.9h0M146.7 359.9h0M147.9 407.6h0M139.2 372.9h0M73.7 417.2h0M103.8 411.3h0M80.4 363.9h0M140.2 368.3h0M119.6 370.9h0M127.4 350.6h0M93.0 396.0h0M115.1 373.0h0M86.6 418.5h0M102.4 406.0h0M86.9 367.9h0M96.0 370.7h0M77.8 414.2h0M165.7 402.6h0M165.7 413.7h0M106.5 396.9h0M81.7 363.4h0M148.9 367.3h0M153.8 403.2h0M100.4 352.1h0M104.9 384.1h0M87.3 420.4h0M95.1 382.4h0M62.1 386.2h0M61.0 359.3h0M59.8 368.9h0M99.6 388.8h0M104.2 358.1h0M142.8 419.7h0M94.6 385.9h0M161.3 422.1h0M155.1 380.4h0M157.2 354.6h0M110.8 354.3h0M98.3 383.5h0M127.4 360.7h0M148.8 400.1h0M160.3 400.3h0M86.4 352.4h0M83.6 375.5h0M159.4 383.5h0M134.2 359.2h0M143.5 373.3h0M140.9 391.7h0M101.7 353.0h0M63.5 351.2h0M75.3 385.9h0M154.7 358.9h0M64.7 357.6h0M98.3 395.0h0M164.1 360.9h0M145.4 356.6h0M117.7 366.9h0M103.3 397.6h0M138.7 384.1h0M152.9 356.2h0M154.9 399.6h0M96.6 352.5h0M94.7 391.3h0M65.7 420.5h0M71.9 361.9h0M79.5 389.2h0M105.5 377.4h0M117.9 419.7h0M145.8 405.5h0M89.5 399.9h0M111.3 390.5h0M62.4 379.7h0M156.8 366.1h0M163.3 354.6h0M62.1 409.2h0M68.7 377.9h0M160.0 405.9h0M149.4 354.1h0M161.7 368.7h0M62.0 417.3h0M157.8 408.4h0M95.7 418.8h0M137.7 374.8h0M142.8 401.1h0M90.1 398.5h0M108.0 376.3h0M96.3 406.7h0M100.6 353.2h0M156.0 390.2h0M162.1 395.4h0M143.8 400.1h0M113.9 369.4h0M90.0 386.7h0M141.4 360.7h0M72.2 360.2h0M159.5 417.1h0M103.9 420.9h0M61.1 414.5h0M100.7 365.3h0M116.1 373.0h0M102.8 397.6h0M87.4 392.0h0M89.9 421.9h0M92.6 396.4h0M94.5 363.6h0M76.3 350.5h0M78.2 368.7h0M148.1 367.3h0M102.6 411.9h0M62.7 381.2h0" stroke="#1a1aff" stroke-width="2.5"/>
<path d="M79.6 374.1h0M101.4 416.4h0M64.7 368.1h0M102.5 390.1h0M129.8 371.2h0M147.1 399.4h0M65.4 368.4h0M101.7 379.6h0M97.3 387.0h0M87.6 378.2h0M158.1 420.9h0M70.7 357.9h0M165.3 364.3h0M109.0 371.1h0M155.2 388.6h0" stroke="#1414f0" stroke-width="3.0"/>
<path d="M81.6 392.7h0M141.4 368.6h0M161.7 399.9h0M90.9 412.4h0M162.9 351.6h0M61.7 373.8h0M138.8 358.6h0M76.7 375.2h0M101.2 408.0h0M155.4 389.9h0M164.7 363.0h0M139.9 374.6h0M147.2 383.0h0M100.2 376.2h0M158.7 384.2h0M94.8 374.2h0M110.4 404.1h0M161.6 381.5h0M62.9 371.9h0M63.0 356.7h0M140.4 387.6h0M82.4 359.9h0M94.8 375.8h0M78.5 383.2h0M77.7 418.3h0M85.6 372.9h0M146.3 382.8h0M142.7 383.3h0M59.0 416.0h0M62.3 370.0h0M128.9 362.3h0M164.1 383.8h0M156.4 406.8h0M96.6 412.5h0M87.8 354.1h0M164.3 399.7h0M157.6 413.2h0M148.9 368.0h0M107.5 389.7h0M95.3 401.0h0M80.3 358.8h0" stroke="#1a1aff" stroke-width="3.0"/>
<path d="M164.0 422.5h0M59.2 377.4h0M97.5 379.3h0M155.8 410.4h0M101.9 387.5h0M157.3 398.2h0M70.7 390.8h0M152.3 401.9h0M103.4 421.9h0M115.7 353.8h0M124.9 420.4h0M136.2 411.1h0M88.7 417.7h0M131.4 351.1h0M137.2 407.7h0M101.7 372.9h0M155.9 421.1h0M145.0 381.1h0M61.1 412.6h0M120.6 369.8h0M100.6 367.2h0M137.3 414.2h0M65.9 421.6h0M159.9 403.4h0M64.8 370.6h0M139.0 352.5h0M87.3 368.8h0M89.9 367.6h0M162.1 354.2h0M162.7 396.0h0M144.4 416.5h0M65.4 383.2h0M114.6 357.4h0M138.4 357.7h0M150.7 412.3h0M108.1 373.0h0M166.3 374.6h0M137.3 369.5h0M86.3 371.9h0M165.5 377.1h0M155.2 354.6h0M139.7 363.4h0M153.8 371.5h0M145.8 359.7h0M75.4 413.3h0M144.6 404.8h0M106.5 392.5h0M128.0 359.3h0M80.8 410.3h0M81.9 375.0h0M104.0 395.6h0M119.6 369.2h0M74.7 350.8h0M153.1 368.7h0M106.6 398.2h0M76.0 353.6h0M62.1 378.9h0M157.0 423.0h0M160.9 362.7h0M127.0 416.4h0M68.5 351.7h0M74.3 412.4h0M66.1 369.4h0M116.0 357.8h0M89.0 409.6h0M117.1 354.2h0M107.3 422.5h0M130.8 354.9h0M146.9 421.5h0M109.9 380.4h0M139.5 354.4h0M130.1 363.4h0M160.5 369.7h0M104.8 367.6h0M68.2 378.9h0M66.2 368.1h0M139.1 351.2h0M96.4 414.0h0M143.7 364.5h0M105.5 370.5h0M156.3 416.2h0M89.9 421.1h0M107.2 411.4h0M126.9 366.9h0M100.6 390.5h0M132.4 350.9h0M93.8 380.1h0M72.2 375.8h0M127.5 350.7h0M93.2 393.2h0M147.0 374.6h0M137.4 385.8h0M152.3 404.7h0M164.3 421.5h0M145.0 361.0h0" stroke="#1414f0" stroke-width="2.0"/>
<path d="M88.9 406.9h0M78.4 394.9h0M60.3 385.6h0M90.6 418.6h0M116.1 401.2h0M97.4 366.7h0M90.1 394.0h0M116.0 397.7h0M101.8 384.9h0M64.0 378.4h0M110.3 359.9h0M72.2 388.0h0M99.2 383.6h0M74.4 393.1h0M86.3 401.9h0" stroke="#50d0c0" stroke-width="1.0"/>
<path d="M67.1 384.1h0M60.5 367.7h0M105.9 416.0h0M126.6 417.1h0M132.2 390.5h0M137.4 417.1h0M96.4 402.4h0M154.2 373.6h0M109.0 361.7h0M88.4 355.8h0M81.5 377.7h0M134.3 359.4h0M149.6 417.3h0M98.6 387.8h0M144.6 374.9h0M103.8 386.1h0" stroke="#50d0c0" stroke-width="1.5"/>
<path d="M93.2 402.9h0M93.7 387.3h0M165.4 383.7h0M130.3 365.4h0M150.9 401.1h0M77.6 361.3h0M97.1 360.0h0M110.0 357.1h0M137.8 373.7h0M140.9 370.2h0M110.9 363.8h0M87.2 393.0h0M73.3 362.2h0M149.1 403.8h0" stroke="#3cb0a0" stroke-width="1.0"/>
<path d="M67.7 358.7h0M109.1 351.0h0M144.0 353.7h0M78.4 384.7h0M90.2 370.4h0M137.3 357.2h0M83.2 360.1h0M98.5 369.7h0M85.7 379.6h0M92.4 380.4h0M83.8 409.4h0" stroke="#2e9070" stroke-width="1.0"/>
<path d="M96.7 363.3h0M148.1 355.0h0M78.4 357.7h0M107.5 368.9h0M149.3 381.3h0M108.2 370.5h0M73.5 390.7h0M115.1 413.8h0" stroke="#3cb0a0" stroke-width="1.5"/>
<path d="M71.1 402.8h0M160.6 407.5h0M87.1 384.2h0M97.6 365.9h0M135.8 394.3h0M107.3 393.3h0M161.6 351.0h0M70.7 359.7h0M99.1 363.7h0M104.5 370.6h0M110.5 363.2h0M138.9 370.3h0M84.3 390.5h0" stroke="#60e090" stroke-width="1.0"/>
<path d="M102.0 376.7h0M163.4 352.2h0M105.4 404.5h0M72.3 395.4h0M60.1 381.6h0M66.3 404.3h0M113.1 386.5h0M108.7 381.0h0" stroke="#60e090" stroke-width="1.5"/>
<path d="M99.5 400.5h0M97.5 409.2h0M83.3 370.5h0M159.1 395.4h0M94.8 407.5h0" stroke="#2e9070" stroke-width="1.5"/>
</g></g>
<clipPath id="c6"><rect x="171" y="350" width="107.30000000000001" height="73"/></clipPath>
<rect x="171" y="350" width="107.30000000000001" height="73" fill="#000"/>
<g clip-path="url(#c6)"><g filter="url(#bl)" stroke-linecap="round" fill="none">
<path d="M179.3 365.6h0M248.3 357.3h0M189.0 409.4h0M191.9 412.0h0M199.9 361.3h0M179.0 421.7h0M208.5 357.6h0M242.5 392.0h0M201.3 398.9h0M189.0 359.4h0M191.0 396.4h0M199.7 358.8h0M196.1 391.0h0M252.7 373.7h0M210.7 365.1h0M192.5 401.0h0M175.5 360.7h0M238.8 402.6h0M254.3 378.7h0M216.3 393.5h0M201.6 401.3h0M186.6 368.2h0M226.0 404.0h0M218.0 389.6h0M180.4 376.2h0M175.0 381.2h0M237.3 382.4h0M212.9 394.8h0M209.4 399.4h0M232.1 396.6h0M214.3 365.7h0M196.4 356.0h0M179.3 353.8h0M206.5 370.7h0M227.8 361.9h0M239.8 368.8h0M235.8 359.4h0M207.9 408.9h0M196.2 376.7h0M224.4 373.3h0M254.2 357.5h0M187.9 378.9h0M224.3 366.9h0M211.9 388.3h0M194.7 369.1h0M194.3 413.9h0M191.4 394.1h0M203.3 366.7h0M208.1 377.1h0M188.4 390.0h0M201.2 390.1h0M233.9 363.8h0M171.2 378.5h0M200.8 384.3h0M175.9 385.9h0M184.5 354.2h0M202.6 368.8h0M188.9 420.6h0M176.9 365.0h0M194.4 350.5h0M172.9 363.3h0M251.7 353.5h0M242.1 385.9h0M173.5 371.4h0M247.3 379.9h0M238.1 381.3h0M252.1 382.1h0M257.1 360.0h0M208.5 369.9h0M236.7 372.6h0M186.4 416.2h0M177.9 418.9h0M188.9 361.0h0M254.4 359.9h0M189.3 387.1h0M239.5 387.6h0M227.3 387.6h0M176.2 372.3h0M229.3 387.5h0M240.2 355.3h0M188.7 389.4h0M172.3 408.2h0M224.5 361.8h0M235.1 380.7h0M176.9 365.5h0M242.8 368.2h0M184.0 406.7h0M178.5 366.2h0M230.8 370.9h0M226.1 395.8h0M175.3 385.5h0M195.6 410.2h0M186.8 375.9h0M183.2 381.0h0M229.5 396.3h0M227.1 370.0h0M249.4 385.7h0M236.3 399.7h0M228.4 386.3h0M206.7 358.4h0M224.2 396.3h0M255.9 377.8h0M213.0 360.1h0M201.8 369.0h0M203.7 377.2h0M226.4 357.4h0M182.5 358.3h0M201.9 356.3h0M224.0 367.3h0M210.7 403.4h0M226.4 351.4h0M191.3 410.4h0M243.8 377.7h0M212.6 370.4h0M189.7 413.7h0M200.6 351.1h0M204.3 403.8h0M199.9 385.2h0M187.3 383.1h0M215.7 396.0h0M219.9 355.0h0M186.1 383.7h0M212.9 378.8h0M182.3 397.2h0M178.8 368.9h0M178.4 355.1h0M258.2 350.4h0M243.2 386.9h0M198.0 413.2h0M174.2 389.8h0M177.9 372.1h0M230.3 374.9h0M177.8 356.8h0M227.0 377.2h0M203.9 356.7h0M185.9 355.8h0M218.2 391.1h0M189.3 359.8h0M174.7 367.9h0M203.3 387.8h0M214.1 377.7h0M198.7 357.0h0M252.5 368.3h0M190.2 402.2h0M215.6 398.9h0M216.9 376.1h0M180.1 417.9h0M188.0 383.4h0M213.8 397.4h0M226.0 398.8h0M171.5 420.7h0M200.8 350.9h0M249.8 375.2h0M209.8 371.2h0M234.8 355.2h0M243.6 353.9h0M185.9 384.5h0M220.3 392.6h0M209.6 385.6h0M199.7 352.1h0M182.0 406.1h0M234.8 360.1h0M198.9 397.6h0M213.4 399.6h0M195.7 375.3h0M171.2 364.6h0M200.6 394.2h0M180.9 409.4h0M215.4 403.8h0M188.7 395.1h0M241.5 372.3h0M180.9 379.7h0M191.9 377.1h0M181.4 408.9h0M206.0 364.1h0M182.6 416.2h0M214.3 357.7h0M195.0 411.3h0M235.5 363.5h0M229.6 391.6h0M184.8 394.5h0M207.8 360.1h0M238.7 395.5h0M202.4 405.0h0M188.5 389.9h0M220.3 402.5h0M234.0 366.5h0M172.8 381.7h0M211.2 356.4h0M227.5 373.8h0M178.1 377.4h0M210.6 406.5h0M205.9 371.7h0M233.5 354.0h0M229.2 359.4h0M242.5 387.7h0M222.1 391.7h0M178.2 416.4h0M233.5 374.8h0M195.5 378.4h0M177.1 385.6h0M226.9 376.4h0M178.7 392.8h0M213.7 394.5h0M181.4 361.9h0M190.5 365.0h0M214.6 402.7h0M185.3 394.5h0M206.7 369.1h0M247.3 352.4h0M206.3 371.5h0M209.2 353.7h0M250.8 351.5h0M229.9 367.8h0M216.4 409.4h0M193.6 422.2h0M216.1 403.4h0M180.7 416.2h0M212.3 402.0h0M209.6 405.9h0M204.9 351.2h0M236.7 351.7h0M212.9 416.0h0M177.4 372.6h0M184.9 361.5h0M232.3 379.7h0M229.8 353.7h0M204.0 385.4h0M196.0 413.7h0M217.1 352.8h0M235.3 352.3h0M194.0 351.2h0M247.5 383.2h0M189.1 415.2h0M259.9 352.9h0M172.8 369.8h0M237.4 404.7h0M210.7 358.3h0M207.2 377.4h0M208.9 365.0h0M197.9 387.1h0M205.0 350.3h0M226.4 386.3h0M224.5 374.3h0M184.0 410.6h0M173.1 370.6h0M250.7 379.7h0M218.8 382.7h0M201.3 400.0h0M242.0 360.7h0M211.3 360.3h0M190.2 389.5h0M222.0 367.6h0M182.8 388.5h0M208.7 390.0h0M210.5 357.8h0M221.0 362.6h0M231.1 360.2h0M172.9 390.2h0M191.8 379.4h0M244.9 380.6h0M202.5 379.3h0M201.5 365.5h0M187.4 383.0h0M237.5 379.4h0M175.3 366.6h0M238.7 359.6h0M221.8 365.2h0M179.5 364.6h0M244.6 382.3h0M193.3 415.9h0M201.3 353.8h0M224.8 369.3h0M188.2 385.0h0M197.6 354.2h0M208.2 370.7h0M240.3 355.7h0M229.7 350.2h0M194.1 385.1h0M228.5 352.3h0M185.5 371.2h0M214.4 351.4h0M173.4 396.6h0M193.5 383.7h0M241.0 390.5h0M239.8 356.5h0M177.9 396.5h0M188.7 375.3h0M182.0 405.3h0M175.4 360.5h0M195.3 422.2h0M210.2 360.5h0M220.2 365.2h0M213.8 360.1h0M228.4 350.1h0M197.5 390.9h0M244.7 355.2h0M172.6 422.6h0M252.9 383.6h0M196.5 354.4h0M195.0 367.9h0M182.2 420.1h0M205.8 394.9h0M178.6 406.2h0M185.7 402.0h0M236.3 401.6h0M199.1 369.5h0M189.5 405.4h0M212.1 403.8h0M198.8 387.3h0M176.7 365.2h0M197.4 356.2h0M205.6 365.1h0M195.2 381.0h0M233.3 391.8h0M226.1 395.1h0M182.1 360.8h0M224.3 405.7h0M196.1 386.1h0M181.6 384.8h0M251.9 382.4h0M214.1 376.8h0M207.1 373.7h0M186.3 358.1h0M191.6 384.6h0M198.2 381.1h0M237.3 368.5h0M173.1 385.4h0M197.6 407.5h0M203.7 386.5h0M181.6 421.1h0" stroke="#1a1aff" stroke-width="2.5"/>
<path d="M171.1 405.1h0M188.1 351.5h0M178.5 384.8h0M180.8 354.6h0M212.3 364.1h0M227.3 387.1h0M205.2 362.1h0M200.5 365.0h0M184.2 388.8h0M244.9 350.2h0M245.6 355.8h0M185.8 390.5h0M192.2 383.9h0M219.0 363.9h0M181.8 381.1h0M199.9 376.3h0M262.0 354.4h0M243.0 354.5h0M180.5 362.0h0M206.2 364.2h0M216.3 365.9h0M182.4 371.5h0M211.8 362.9h0M253.5 387.2h0M211.7 385.6h0M224.8 390.5h0M180.7 374.4h0M226.7 350.9h0M174.1 419.9h0M245.8 357.2h0M224.7 361.8h0M190.2 359.1h0M178.4 394.5h0M244.5 381.1h0M196.5 399.6h0M182.7 412.6h0M256.5 371.8h0M234.1 364.6h0M192.9 414.8h0M218.0 402.9h0M193.6 384.5h0M221.9 350.3h0M185.4 408.8h0M198.3 398.1h0M208.8 358.6h0M205.0 386.9h0M195.5 371.7h0M184.0 395.8h0M218.0 392.5h0M222.1 395.7h0M240.0 351.1h0M193.0 366.6h0M182.2 372.9h0M173.4 397.9h0M207.1 404.9h0M238.8 366.7h0M184.5 379.7h0M189.8 400.6h0M203.9 370.5h0M206.3 374.2h0M190.7 372.3h0M185.1 356.0h0M205.6 353.6h0M210.8 376.5h0M200.5 375.9h0M171.4 421.7h0M240.5 371.9h0M208.4 371.6h0M203.6 375.0h0M181.6 373.0h0M191.6 384.3h0M238.3 386.8h0M176.9 376.0h0M216.2 403.8h0M224.2 365.8h0M186.9 403.7h0M227.2 375.9h0M181.9 367.4h0M223.2 355.1h0M202.4 393.7h0M234.6 381.6h0M234.4 361.3h0M236.8 401.6h0M178.1 381.1h0M216.9 391.0h0M183.8 421.7h0M223.9 370.0h0M216.4 359.8h0M197.6 359.0h0M235.9 356.2h0M186.8 378.3h0M190.4 371.6h0M195.4 356.0h0M202.7 386.4h0M218.8 369.0h0M255.4 373.5h0M226.6 373.1h0M188.6 375.1h0M176.8 376.7h0M210.5 352.0h0M225.7 382.5h0M212.6 369.8h0M195.8 395.7h0M231.3 397.3h0M229.5 388.9h0M201.3 410.1h0M198.7 412.8h0M227.7 357.4h0M223.9 372.5h0M240.0 391.2h0M183.5 389.9h0M209.3 382.5h0M216.3 357.1h0M217.9 405.8h0M199.2 399.1h0M206.1 389.0h0M206.4 390.3h0M206.8 390.4h0M223.0 394.3h0M232.6 397.2h0M202.6 412.7h0M172.2 372.9h0M241.0 359.5h0M185.5 386.3h0M178.0 371.0h0M171.5 399.7h0M209.4 404.5h0M185.3 415.4h0M185.4 367.0h0M222.4 351.2h0M214.9 405.7h0M203.1 370.8h0M247.0 353.8h0M243.3 383.5h0M230.6 394.6h0M229.8 390.0h0M226.9 384.8h0M258.2 350.9h0M231.2 364.5h0M207.7 373.2h0M212.2 370.2h0M218.9 404.7h0M205.4 401.1h0M187.2 395.3h0M210.0 377.9h0M172.0 378.2h0M228.7 390.8h0M188.5 416.5h0M209.5 361.0h0M227.0 375.3h0M177.1 416.4h0M185.3 356.9h0M233.4 389.0h0M227.8 358.3h0M246.4 387.2h0M174.2 420.3h0M184.6 394.7h0M190.5 388.2h0M230.8 366.7h0M203.4 387.4h0M242.9 389.2h0M205.6 367.7h0M250.1 380.7h0M182.0 419.6h0M218.6 362.0h0M233.7 355.1h0M224.8 373.8h0M192.7 384.7h0M174.8 367.6h0M239.3 369.3h0M248.2 372.4h0M227.4 356.9h0M239.3 352.3h0M176.1 393.0h0M217.9 398.8h0M215.2 361.0h0M235.1 386.6h0M186.6 398.3h0M196.9 357.0h0M242.5 352.9h0M176.8 403.2h0M206.3 371.9h0M189.2 360.9h0M189.2 362.3h0M233.3 364.3h0M178.4 359.2h0M204.9 411.9h0M183.4 353.4h0M203.3 404.3h0M231.9 393.3h0M192.7 375.5h0M231.0 374.8h0M232.9 387.4h0M174.4 402.3h0M196.9 380.5h0M206.8 370.4h0M250.7 387.0h0M231.1 387.3h0M196.3 385.3h0M197.8 356.9h0M212.4 370.8h0M207.9 411.8h0M178.8 386.6h0M176.8 421.8h0M232.6 365.7h0M184.3 364.9h0M219.3 371.3h0M201.3 403.5h0M182.1 353.0h0M244.2 362.8h0M234.6 394.7h0M228.0 358.8h0M237.2 374.7h0M172.2 395.7h0M222.1 387.9h0M233.4 376.4h0M238.3 352.3h0M197.2 381.2h0M212.8 374.1h0M220.3 395.2h0M179.9 386.1h0M211.7 406.7h0M183.1 367.7h0M172.2 389.4h0M235.6 378.7h0M204.1 379.6h0M201.4 391.7h0M212.9 384.5h0M190.9 419.0h0M204.0 410.8h0M203.0 392.9h0M180.7 354.3h0M179.0 408.8h0M204.2 366.2h0M177.1 393.0h0M200.5 384.8h0M218.3 407.1h0M176.3 370.7h0M234.7 359.9h0M207.3 350.8h0M248.5 374.4h0M244.4 357.9h0M210.9 387.4h0M219.8 381.9h0M209.2 378.2h0M187.5 400.4h0M246.2 350.1h0M191.6 393.3h0M217.7 405.1h0M171.3 414.8h0M230.6 366.9h0M178.9 365.3h0M232.1 377.7h0M177.6 366.8h0M188.1 378.2h0M216.6 365.7h0M202.7 412.4h0M182.6 356.7h0M187.0 357.5h0M217.7 395.5h0M180.5 379.2h0M227.7 362.0h0M177.3 385.3h0M176.4 366.1h0M231.3 387.8h0M211.5 373.5h0M175.2 388.7h0M186.1 400.2h0M243.7 359.4h0M235.9 356.8h0M246.2 392.6h0M194.7 368.3h0M233.0 363.2h0M210.5 364.7h0M203.4 375.7h0M196.2 402.7h0M227.1 382.5h0M244.8 371.3h0M187.7 355.6h0M176.8 376.6h0M225.9 399.3h0M222.5 404.8h0M245.2 360.7h0M183.1 372.3h0M181.9 384.9h0M217.5 388.7h0M184.1 360.4h0M247.2 377.8h0M250.2 356.4h0M197.7 384.7h0M205.3 367.6h0M217.4 377.5h0M210.6 397.9h0M240.5 401.2h0M203.7 374.5h0M209.7 384.3h0M205.0 406.7h0M174.4 396.1h0M191.5 406.4h0M215.8 351.7h0M205.2 383.7h0M229.4 392.0h0M230.4 364.9h0M208.1 372.9h0M210.6 386.1h0M267.1 355.1h0M232.7 395.6h0M217.8 375.5h0M252.5 385.3h0M186.0 355.8h0M237.2 395.3h0M191.9 358.7h0M197.0 392.2h0M192.3 398.0h0M182.2 410.0h0M242.3 374.6h0M207.7 415.4h0M235.6 365.9h0M211.6 385.6h0M237.4 355.4h0M198.5 417.1h0M217.6 389.8h0M187.9 422.0h0M238.3 369.1h0M243.8 355.9h0M185.5 393.7h0M239.5 381.9h0M174.4 365.8h0M225.2 350.0h0M180.2 379.7h0M209.2 393.8h0M189.1 355.7h0M209.2 392.8h0M249.8 356.0h0M185.7 387.1h0" stroke="#1a1aff" stroke-width="2.0"/>
<path d="M192.6 355.9h0M211.5 409.9h0M197.1 405.5h0M186.6 408.8h0M224.5 370.2h0M200.4 357.4h0M229.0 370.2h0M245.0 386.5h0M224.7 357.8h0M220.7 385.9h0M213.7 393.8h0M248.8 352.3h0M178.9 391.1h0M183.4 391.7h0" stroke="#1414f0" stroke-width="3.0"/>
<path d="M206.4 367.8h0M251.7 355.4h0M247.7 387.1h0M194.5 411.9h0M253.2 355.8h0M226.6 361.3h0M202.3 390.3h0M193.9 395.5h0M204.2 393.2h0M210.5 361.3h0M204.3 363.7h0M218.9 371.5h0M185.1 401.5h0M191.5 362.1h0M172.3 402.4h0M235.4 401.6h0M178.3 356.7h0M200.5 397.9h0M240.6 392.0h0M172.7 415.8h0M255.3 385.8h0M173.4 397.0h0M215.8 396.0h0M186.4 377.6h0M200.7 364.2h0M177.6 418.5h0M220.0 378.4h0M253.6 390.0h0M178.0 361.4h0M173.0 362.3h0M171.3 368.1h0M209.5 407.8h0M230.1 387.3h0M232.0 398.1h0M204.7 414.9h0M237.7 373.6h0M183.4 401.8h0M242.4 362.6h0M207.6 400.2h0M219.2 358.8h0" stroke="#1a1aff" stroke-width="3.0"/>
<path d="M240.3 360.1h0M194.4 353.2h0M180.3 393.7h0M216.0 400.3h0M215.4 365.9h0M172.3 383.3h0M206.9 377.7h0M225.3 366.0h0M191.1 417.7h0M217.6 403.5h0M240.6 353.7h0M175.8 389.4h0M199.8 356.6h0M186.8 381.1h0M198.7 380.5h0M240.2 379.6h0M197.6 370.4h0M186.6 378.5h0M247.5 355.5h0M178.0 377.4h0M184.0 372.7h0M251.9 350.8h0M234.1 402.6h0M221.3 356.5h0M199.0 362.2h0M175.6 389.1h0M251.3 376.8h0M187.0 366.2h0M220.8 366.4h0M209.0 387.3h0M238.6 381.2h0M239.7 350.5h0M177.8 367.5h0M208.7 376.3h0M182.1 393.6h0M204.9 404.2h0M192.1 412.1h0M186.7 402.9h0M172.2 371.1h0M203.4 389.5h0M237.3 372.9h0M225.2 360.2h0M188.4 354.3h0M215.2 364.5h0M193.3 369.7h0M217.1 406.7h0M205.7 357.5h0M224.9 370.0h0M235.5 373.3h0M232.3 381.0h0M202.3 374.4h0M198.3 367.9h0M190.4 405.7h0M226.5 361.1h0M225.9 404.9h0M207.1 398.5h0M174.4 409.0h0M215.2 354.2h0M208.4 387.4h0M248.5 372.9h0M242.8 367.7h0M195.8 367.0h0M228.9 385.2h0M187.8 385.2h0M226.5 353.3h0M197.6 389.6h0M185.1 399.5h0M259.2 353.7h0M220.9 378.6h0M187.9 406.9h0M234.4 386.8h0M222.7 391.8h0M226.3 398.7h0M175.8 373.0h0M239.5 380.3h0M216.1 367.1h0M194.0 375.5h0M213.7 379.6h0M190.4 363.8h0M218.8 385.9h0" stroke="#1414f0" stroke-width="2.0"/>
<path d="M210.2 351.6h0M211.4 384.5h0M243.4 362.7h0M182.0 360.3h0M230.9 364.3h0M179.3 367.0h0M185.8 361.0h0M196.7 361.5h0M175.7 393.4h0M212.5 378.3h0M207.4 368.0h0M218.9 386.6h0M210.0 395.4h0M202.2 375.6h0M198.3 404.6h0M196.0 404.7h0M185.2 392.8h0M176.5 389.8h0M245.5 398.1h0M223.1 364.1h0M203.8 408.4h0M236.2 356.9h0M188.1 391.6h0M231.9 356.5h0M171.4 360.1h0M192.3 401.6h0M204.8 401.5h0M217.0 365.5h0M189.8 383.8h0M192.3 406.5h0M214.3 395.4h0M226.7 388.1h0M193.9 397.9h0M189.2 405.5h0M216.8 390.4h0M246.1 379.4h0M181.7 363.1h0M191.3 405.3h0M182.2 404.2h0M210.2 365.0h0M241.3 392.4h0M235.3 383.3h0M224.2 364.9h0M243.4 388.9h0M207.5 395.7h0M226.7 380.3h0M202.2 369.9h0M239.7 393.0h0M202.7 385.1h0M216.9 402.5h0M249.1 374.7h0M236.4 363.6h0M220.2 353.0h0M209.1 409.1h0M190.6 379.8h0M235.3 396.1h0M205.8 402.5h0M198.8 376.1h0M190.1 390.3h0M203.8 408.2h0M198.8 405.5h0M186.5 373.2h0M241.5 351.1h0M231.9 401.8h0M234.4 384.9h0M194.6 419.9h0M210.4 391.2h0M221.2 358.9h0M232.7 351.9h0M205.6 363.8h0M221.0 399.1h0M211.3 404.7h0M182.7 405.2h0M203.9 364.7h0M243.9 365.8h0M212.6 365.7h0M174.0 380.0h0M177.8 351.3h0M211.5 396.3h0M204.8 391.1h0M251.3 383.5h0M182.9 357.4h0M195.0 379.0h0M216.1 367.1h0M241.6 356.4h0" stroke="#1414f0" stroke-width="2.5"/>
<path d="M176.1 400.0h0" stroke="#60e090" stroke-width="1.5"/>
<path d="M184.0 388.1h0M175.1 412.6h0" stroke="#30c050" stroke-width="1.5"/>
<path d="M259.0 416.3h0" stroke="#30c050" stroke-width="1.0"/>
<path d="M189.5 360.4h0M215.6 378.9h0" stroke="#40d070" stroke-width="1.5"/>
<path d="M208.1 374.1h0M222.1 411.6h0M178.3 399.0h0" stroke="#60e090" stroke-width="1.0"/>
<path d="M252.6 362.7h0" stroke="#40d070" stroke-width="1.0"/>
<path d="M222.6 410.8h0" stroke="#60e090" stroke-width="2.0"/>
</g></g>
<clipPath id="c7"><rect x="58" y="427" width="108.6" height="72.30000000000001"/></clipPath>
<rect x="58" y="427" width="108.6" height="72.30000000000001" fill="#000"/>
<g clip-path="url(#c7)"><g filter="url(#bl)" stroke-linecap="round" fill="none">
<path d="M119.9 472.7h0M112.7 496.9h0M118.3 476.3h0M139.4 435.9h0M118.8 436.0h0M142.8 435.0h0M145.2 450.5h0M120.3 499.0h0M142.8 484.2h0M91.3 487.3h0M145.0 459.1h0M156.2 493.3h0M165.8 492.0h0M158.9 490.3h0M128.6 452.4h0M155.8 429.3h0M156.8 477.1h0M111.6 476.7h0M146.7 467.4h0M101.2 483.6h0M152.5 490.1h0M153.0 469.2h0M145.9 456.1h0M154.5 427.4h0M153.4 487.5h0M156.7 494.6h0M108.5 483.2h0M134.3 454.7h0M148.5 456.3h0M144.4 477.9h0M150.6 488.9h0M162.3 477.8h0M116.2 465.8h0M161.5 484.4h0M130.0 468.5h0M128.7 429.0h0M128.5 491.9h0M86.9 489.6h0M122.8 428.4h0M118.7 464.4h0M144.3 449.4h0M164.2 428.8h0M133.8 470.6h0M83.0 493.8h0M88.7 489.0h0M133.5 474.5h0M134.5 495.6h0M145.1 479.1h0M163.4 475.4h0M94.2 496.8h0M126.5 496.1h0M129.9 463.3h0M152.7 436.8h0M104.2 494.3h0M128.7 445.1h0M138.1 452.3h0M119.1 452.5h0M103.7 495.3h0M95.3 499.3h0M164.9 456.4h0M143.6 490.7h0M123.3 493.2h0M159.6 450.4h0M97.3 497.7h0M152.6 491.7h0M108.9 498.6h0M120.9 427.5h0M146.2 489.2h0M118.4 499.0h0M126.4 463.2h0M136.7 490.7h0M155.1 465.5h0M113.7 479.1h0M123.0 461.8h0M149.5 468.3h0M115.6 470.5h0M131.6 459.2h0M89.3 483.7h0M142.2 449.9h0M104.7 492.2h0M144.0 429.5h0M151.3 480.0h0M143.4 433.2h0M129.2 490.8h0M133.2 453.4h0M130.2 460.0h0M129.0 452.7h0M145.8 468.3h0M146.3 475.6h0M164.1 440.4h0M162.4 490.4h0M111.2 474.3h0M158.2 457.3h0M85.9 478.8h0M131.1 483.3h0M133.3 450.1h0M125.3 474.7h0M88.3 496.0h0M119.9 475.0h0M159.7 489.1h0M124.8 492.4h0M106.5 468.4h0M111.8 492.9h0M102.2 497.8h0M136.4 442.5h0M122.6 460.9h0M119.1 463.9h0M159.6 449.9h0M117.5 457.8h0M143.7 492.8h0M159.2 481.6h0M125.6 447.8h0M119.4 430.2h0M155.2 452.9h0M125.3 438.9h0M141.4 465.2h0M152.5 429.6h0M125.2 496.1h0M113.8 483.1h0M94.3 475.2h0M146.8 461.0h0M115.9 489.1h0M147.3 427.5h0M139.6 464.0h0M96.2 488.4h0M166.1 476.7h0M101.4 476.7h0M123.5 479.5h0M144.4 447.2h0M161.0 450.3h0M132.2 486.9h0M104.1 471.2h0M142.4 456.7h0M131.0 476.0h0M142.7 486.6h0M137.6 451.6h0M139.0 432.7h0M92.9 494.8h0M155.1 436.3h0M118.5 484.6h0M104.5 484.8h0M126.3 432.8h0M104.7 472.6h0M162.4 475.4h0M127.2 434.6h0M94.8 468.4h0M157.9 456.3h0M109.9 498.9h0M144.5 443.8h0M157.6 457.8h0M94.5 495.0h0M119.7 438.3h0M109.3 494.7h0M128.1 458.3h0M98.4 479.7h0M121.7 427.8h0M158.2 435.3h0M111.6 489.1h0M154.7 429.8h0M137.4 428.3h0M110.1 457.3h0M131.2 429.1h0M140.3 466.4h0M129.0 471.1h0M104.8 471.4h0M150.8 469.4h0M111.4 478.0h0M105.2 454.8h0M124.0 477.9h0M154.3 489.7h0M95.9 489.0h0M109.3 486.4h0M120.8 463.3h0M149.6 431.7h0M118.0 445.0h0M85.0 491.2h0M111.2 475.1h0M135.6 450.1h0M118.9 479.0h0M96.7 485.6h0M113.6 492.5h0M147.7 481.2h0M156.4 450.9h0M117.4 451.0h0M158.2 484.5h0M114.7 432.1h0M140.0 473.2h0M136.8 496.0h0M72.2 483.1h0M162.7 427.1h0M134.8 460.9h0M164.8 490.0h0M162.3 455.9h0M161.7 469.7h0M137.8 431.5h0M140.3 456.0h0M148.1 432.9h0M121.7 431.2h0M145.7 444.7h0M116.5 435.8h0M154.9 440.7h0M133.7 451.8h0M149.8 470.3h0M154.7 446.5h0M155.0 487.0h0M123.0 485.8h0M86.9 497.9h0M125.3 445.9h0M106.5 493.6h0M149.3 481.4h0M131.1 457.7h0M139.3 445.7h0M123.5 436.2h0M128.8 471.7h0M159.4 478.2h0M111.7 458.9h0M158.0 481.3h0M115.0 490.3h0M116.8 490.3h0M90.5 482.8h0M148.0 460.8h0M77.2 495.2h0M87.5 494.5h0M84.3 485.2h0M96.7 495.2h0M127.9 432.3h0M152.5 482.6h0M120.3 444.5h0M160.8 457.9h0M160.4 432.9h0M137.8 465.1h0M165.4 497.8h0M133.4 477.6h0M156.2 488.9h0M137.4 484.8h0M148.8 483.2h0M130.5 498.6h0M152.2 497.9h0M100.8 482.5h0M138.2 427.7h0M127.5 485.6h0M109.0 491.9h0M73.3 494.2h0M146.3 439.3h0M163.9 478.9h0M138.8 462.2h0M155.3 444.2h0M91.6 488.1h0M105.9 490.6h0M118.7 480.3h0M136.5 452.8h0M142.8 495.3h0M140.1 474.4h0M100.4 482.7h0M120.2 441.7h0M128.3 497.9h0M158.2 480.1h0M163.9 454.6h0M138.7 478.4h0M99.5 484.4h0M165.6 492.3h0M157.7 492.8h0M78.1 486.6h0M155.0 498.3h0M118.1 468.9h0M106.9 498.8h0M139.4 444.8h0M123.0 466.0h0M129.6 446.0h0M126.2 488.2h0M155.1 433.7h0M135.6 436.7h0M149.3 490.3h0M76.4 495.9h0M138.7 486.7h0M73.3 484.8h0M113.9 491.0h0M131.6 478.5h0M70.1 486.6h0M152.3 428.0h0M154.5 457.2h0M165.5 432.5h0M144.9 442.8h0M147.7 477.1h0M146.0 428.3h0M155.1 499.0h0M91.8 487.9h0M141.8 460.2h0M129.8 496.3h0M104.9 470.8h0M145.4 432.7h0M105.0 482.1h0M94.3 494.9h0M147.7 435.0h0M160.2 464.7h0M129.3 444.4h0" stroke="#1a1aff" stroke-width="2.0"/>
<path d="M154.7 492.7h0M124.0 480.2h0M143.3 449.3h0M125.6 447.7h0M158.5 489.8h0M148.7 428.2h0M125.7 440.6h0M156.6 472.3h0M143.8 498.9h0M116.7 466.3h0M147.5 474.0h0M92.4 492.3h0M122.3 431.6h0M130.2 433.0h0M141.1 466.7h0M124.4 478.6h0M153.1 480.5h0M154.9 452.9h0M127.7 467.4h0M134.1 491.2h0M121.5 480.8h0M137.1 439.5h0M131.3 432.1h0M86.6 487.6h0M159.7 435.3h0M160.2 496.1h0M122.6 443.1h0M145.4 439.6h0M127.2 488.2h0M128.9 428.2h0M75.4 497.0h0M131.4 486.6h0M137.9 486.7h0M160.2 472.2h0M161.7 451.4h0M144.7 465.7h0M113.6 472.8h0M146.2 467.8h0M136.4 443.5h0M109.8 491.0h0M120.7 441.4h0M107.3 469.0h0M161.5 433.9h0M125.5 453.7h0M100.5 482.7h0M134.7 473.3h0M152.6 498.7h0M162.1 451.0h0M126.5 451.0h0M111.3 483.5h0M139.0 436.9h0M129.7 429.4h0M121.8 460.0h0M137.7 470.6h0M165.8 465.8h0M129.7 428.0h0M119.1 485.5h0M125.6 467.1h0M153.0 454.5h0M137.1 498.9h0M115.9 429.3h0M156.5 468.0h0M110.6 467.2h0M162.8 431.3h0M148.0 485.9h0M143.5 487.1h0M128.4 485.5h0M98.4 469.6h0M135.7 482.6h0M101.6 474.5h0M133.8 453.9h0M97.8 484.2h0M157.6 475.1h0M155.6 459.6h0M124.1 496.6h0M114.1 465.8h0M120.4 434.2h0M95.4 494.6h0M147.3 443.0h0M150.6 471.2h0M141.6 445.7h0M147.3 449.2h0M121.8 455.1h0M123.7 442.0h0M129.7 428.2h0M149.2 454.2h0M108.3 488.8h0M122.6 479.5h0M164.7 463.8h0M166.6 465.2h0M103.7 473.6h0M151.7 440.9h0M107.8 471.3h0M117.4 482.1h0M149.7 487.1h0M113.1 479.9h0M146.4 496.3h0M66.5 497.4h0M150.8 475.1h0M113.0 495.6h0M134.8 465.4h0M138.4 462.7h0M85.7 490.6h0M84.6 497.8h0M115.9 496.4h0M151.0 432.6h0M101.1 479.8h0M160.2 467.0h0M100.4 471.4h0M165.4 432.9h0M126.4 462.2h0M92.8 481.0h0M148.5 460.2h0M144.3 474.8h0M115.7 438.4h0M122.9 454.5h0M163.0 498.3h0M145.4 486.3h0M126.3 455.0h0M97.4 494.2h0M152.0 488.5h0M145.1 439.0h0M135.6 450.2h0M153.7 429.2h0M113.0 466.1h0M144.8 494.5h0M112.7 478.8h0M94.4 478.6h0M147.8 496.0h0M146.3 477.5h0M109.2 477.9h0M154.0 495.2h0M144.2 444.0h0M127.1 485.6h0M161.3 427.5h0M131.5 468.8h0M148.5 470.1h0M143.8 452.4h0M162.2 427.6h0M120.9 445.2h0M156.3 462.1h0M105.5 496.8h0M134.1 437.9h0M115.9 446.6h0M139.9 481.1h0M109.4 475.4h0M110.5 481.6h0M128.8 443.7h0M106.2 487.8h0M141.8 471.6h0M86.1 489.9h0M149.3 467.7h0M113.7 484.5h0M154.2 429.8h0M158.1 461.4h0M139.1 430.9h0M115.7 447.8h0M122.9 498.3h0M122.1 437.0h0M137.9 476.3h0M95.0 489.3h0M161.1 465.3h0M114.6 476.4h0M121.4 455.4h0M152.4 443.5h0M124.2 496.0h0M126.2 457.6h0M124.6 495.2h0M134.7 452.6h0M93.2 493.6h0M126.2 485.3h0M102.5 473.5h0M89.1 479.2h0M120.6 470.5h0M157.0 469.5h0M93.2 483.5h0M85.1 478.3h0M110.1 494.5h0M118.4 497.7h0M146.5 432.8h0M132.8 446.5h0M152.6 455.0h0M111.2 474.5h0M128.2 474.5h0M164.9 485.8h0M88.6 497.6h0M148.8 475.5h0M163.7 491.5h0M106.2 494.6h0M132.6 430.7h0M131.0 483.7h0M149.7 469.3h0M158.1 430.9h0M141.4 494.7h0M137.5 470.5h0M153.0 479.7h0M152.1 488.7h0M134.7 471.0h0M162.7 433.4h0M165.0 450.1h0M147.5 454.2h0M143.1 451.1h0M137.2 445.2h0M130.6 497.2h0M126.9 437.9h0M116.5 491.6h0M128.8 448.5h0M126.2 445.9h0M121.2 483.6h0M123.4 476.5h0M111.2 485.4h0M138.8 450.3h0M160.8 483.6h0M141.4 428.1h0M121.2 454.2h0M163.7 483.1h0M110.6 491.9h0M91.7 493.7h0M124.8 451.9h0M156.1 480.5h0M85.7 485.4h0M129.8 473.4h0M166.1 456.3h0M137.9 474.0h0M145.6 492.5h0M155.9 494.8h0M112.5 453.5h0M156.5 476.6h0M117.0 463.0h0M123.8 449.7h0M130.9 441.3h0M139.8 475.8h0M92.5 483.7h0M121.1 457.9h0M121.5 431.3h0M152.8 469.3h0M96.3 496.3h0M154.4 475.8h0M152.8 451.6h0M106.5 488.5h0M103.7 497.0h0M102.3 482.5h0M154.8 482.5h0M143.6 468.8h0M136.0 430.4h0M128.6 460.6h0M155.3 484.5h0M98.1 481.8h0M151.5 489.9h0M87.9 478.9h0M119.4 440.6h0M113.9 469.5h0M166.3 491.5h0M135.4 441.9h0M113.7 496.2h0M124.4 485.3h0M132.5 476.4h0M91.5 493.5h0M108.6 493.2h0M162.0 428.0h0M143.1 467.0h0M141.2 478.0h0M113.1 448.8h0M139.6 458.7h0M139.0 459.6h0M134.8 445.0h0M152.3 483.2h0M133.6 441.7h0M137.8 498.3h0M117.3 446.0h0M129.6 461.8h0M110.9 476.6h0M98.0 462.8h0M163.0 492.7h0M122.7 497.6h0M129.0 429.5h0M117.7 491.7h0M133.6 480.4h0M126.9 460.8h0M109.5 487.3h0M152.0 473.5h0M164.4 466.8h0M86.6 482.9h0M122.4 476.7h0M166.2 446.3h0M150.0 487.1h0M144.2 487.1h0M126.9 427.2h0M143.2 428.7h0M115.2 488.3h0M124.8 482.9h0M138.0 442.8h0M68.8 490.5h0M128.6 489.0h0M155.7 464.8h0M117.8 459.8h0M165.1 494.9h0M67.7 494.9h0M131.5 456.3h0M143.9 473.2h0M102.7 460.9h0M94.6 496.2h0M148.2 480.5h0M72.4 493.1h0M123.8 487.7h0M135.2 428.8h0M147.6 444.1h0M123.3 493.3h0" stroke="#1a1aff" stroke-width="2.5"/>
<path d="M127.0 448.8h0M134.2 438.8h0M114.0 484.1h0M125.9 447.9h0M127.4 481.9h0M92.1 481.6h0M117.9 487.2h0M165.5 494.5h0M126.2 481.9h0M114.9 449.0h0M142.9 440.0h0M129.2 435.9h0M113.8 473.7h0M110.5 428.7h0M126.0 438.7h0M99.2 474.1h0M138.8 472.1h0M162.6 465.6h0M130.3 438.5h0M148.5 449.9h0M133.9 443.6h0M138.4 498.8h0M114.3 481.1h0M133.7 480.0h0M132.8 468.3h0M126.9 488.4h0M102.8 493.9h0M147.8 428.4h0M160.6 482.4h0M131.0 455.3h0M130.8 464.0h0M160.2 430.3h0M154.3 492.3h0M117.3 463.9h0M102.0 482.0h0M131.9 471.9h0M164.2 486.9h0M93.1 487.5h0M149.5 473.6h0M155.4 470.3h0M121.2 483.3h0M103.8 485.8h0M154.4 435.4h0M80.7 492.9h0M112.7 489.7h0M117.8 477.6h0M142.9 437.0h0M165.0 475.5h0M94.5 489.4h0M113.3 463.4h0M135.0 427.6h0M122.1 472.0h0M148.3 493.8h0M137.0 435.9h0M108.8 468.2h0M125.3 427.6h0M131.3 453.1h0M66.2 486.9h0M135.9 452.0h0M122.5 452.2h0M146.2 474.7h0M122.3 449.2h0M115.7 455.7h0M158.2 497.8h0M152.7 427.3h0M116.8 470.3h0M108.8 488.8h0M125.4 448.5h0M151.3 497.3h0M130.8 428.3h0M156.3 492.0h0M162.7 468.1h0M126.0 494.6h0M111.9 445.3h0M85.1 491.6h0M111.0 468.6h0M133.2 435.4h0M81.5 488.6h0M165.1 484.8h0M163.1 436.0h0M155.6 468.1h0M141.1 460.9h0M148.0 454.0h0M147.1 429.7h0M104.4 473.7h0M110.7 476.1h0M109.0 464.5h0M94.7 483.0h0M70.7 499.1h0M123.0 441.1h0M123.1 495.4h0M131.9 443.3h0M147.5 483.1h0" stroke="#1414f0" stroke-width="2.5"/>
<path d="M150.3 472.2h0M108.0 473.2h0M88.6 479.4h0M152.6 494.5h0M152.2 494.1h0M154.2 443.1h0M115.1 478.6h0M145.6 440.9h0M124.6 434.8h0M133.2 443.2h0M147.1 438.5h0M151.7 476.0h0M108.6 479.7h0M62.4 481.1h0M127.1 462.9h0M78.7 493.4h0M140.7 446.5h0M120.2 485.4h0M152.2 467.6h0M129.4 448.4h0M139.9 438.2h0M155.4 496.6h0M92.2 485.8h0M160.3 429.6h0M119.4 483.2h0M159.3 454.0h0M116.8 477.5h0M137.3 462.5h0M141.6 464.5h0M129.1 450.3h0M154.4 471.2h0M99.4 479.7h0M120.0 468.5h0M83.5 491.8h0M120.9 496.2h0M152.9 454.2h0M156.4 455.3h0M148.9 493.3h0M110.8 473.5h0M132.6 454.5h0M116.7 448.5h0M87.8 488.3h0M115.4 471.7h0M156.8 487.5h0M159.6 465.1h0M132.2 441.0h0M156.1 428.4h0M136.2 435.4h0M164.1 441.6h0M128.0 467.3h0M122.3 496.8h0M119.6 486.2h0M126.6 459.3h0M126.9 477.9h0M97.1 497.2h0M112.8 484.7h0M118.8 482.8h0M121.9 446.5h0M83.2 490.6h0M98.2 474.8h0M156.2 466.7h0M141.2 483.5h0M81.2 487.6h0M135.2 484.6h0M113.2 432.8h0M143.4 490.0h0M115.1 483.4h0M103.3 487.4h0M149.9 429.8h0M166.6 451.3h0M101.8 472.3h0M113.5 453.8h0M120.7 482.5h0M106.3 466.4h0M88.5 479.0h0M156.4 443.6h0M138.7 481.8h0M119.9 428.2h0" stroke="#1414f0" stroke-width="2.0"/>
<path d="M144.8 480.6h0M164.2 452.0h0M129.3 441.2h0M146.0 483.2h0M142.7 456.8h0M126.2 450.1h0M152.9 428.1h0M120.4 475.1h0M163.8 495.2h0M163.9 432.5h0M146.6 487.2h0M131.8 490.0h0M146.2 496.9h0M91.7 489.9h0M109.9 483.2h0M98.0 495.5h0M126.4 477.7h0M116.3 440.5h0M147.5 456.2h0M153.5 432.8h0M142.6 431.8h0M110.3 460.1h0M157.9 497.1h0M140.7 491.7h0M161.2 468.3h0M66.9 497.9h0M160.4 485.6h0M112.5 463.5h0M157.5 429.8h0M116.8 484.0h0M130.9 453.3h0M117.2 454.4h0M121.5 477.7h0M165.8 480.5h0M105.9 462.1h0M129.2 453.4h0M112.3 455.2h0M113.7 481.8h0M139.3 446.6h0M161.5 430.8h0" stroke="#1a1aff" stroke-width="3.0"/>
<path d="M131.9 488.7h0M132.0 460.5h0M67.7 496.4h0M115.8 456.0h0M162.4 449.8h0M131.0 430.7h0M162.1 461.1h0M157.5 489.6h0M161.5 498.8h0M153.7 466.2h0" stroke="#1414f0" stroke-width="3.0"/>
<path d="M123.3 441.4h0M120.0 477.7h0M152.0 431.8h0" stroke="#60e090" stroke-width="1.5"/>
<path d="M137.8 464.1h0M123.3 473.3h0M135.9 499.2h0M108.5 486.2h0M131.2 429.4h0M127.2 459.9h0M155.6 489.5h0M104.9 484.2h0" stroke="#40d070" stroke-width="1.5"/>
<path d="M121.2 479.9h0M142.0 438.7h0" stroke="#60e090" stroke-width="1.0"/>
<path d="M116.8 496.5h0M147.3 455.9h0M135.0 450.7h0" stroke="#40d070" stroke-width="1.0"/>
<path d="M113.8 437.3h0" stroke="#60e090" stroke-width="2.0"/>
<path d="M91.8 497.1h0M97.2 491.0h0M93.9 485.4h0M126.1 451.1h0" stroke="#30c050" stroke-width="1.0"/>
<path d="M116.2 469.6h0M149.1 440.8h0M162.6 441.4h0M96.8 473.9h0" stroke="#30c050" stroke-width="1.5"/>
<path d="M109.3 488.1h0M148.0 469.1h0" stroke="#30c050" stroke-width="2.0"/>
</g></g>
<clipPath id="c8"><rect x="170.1" y="427.6" width="108.20000000000002" height="71.69999999999999"/></clipPath>
<rect x="170.1" y="427.6" width="108.20000000000002" height="71.69999999999999" fill="#000"/>
<g clip-path="url(#c8)"><g filter="url(#bl)" stroke-linecap="round" fill="none">
<path d="M267.3 490.9h0M212.5 458.0h0M263.7 434.1h0M249.5 451.7h0M207.1 453.7h0M213.1 495.4h0M273.4 449.9h0M238.8 475.8h0M195.4 464.3h0M270.6 467.8h0M199.8 434.3h0M261.6 431.8h0M212.7 433.9h0M193.2 484.5h0M209.2 498.2h0M189.9 429.8h0M206.8 432.7h0M274.6 436.4h0M243.7 453.0h0M225.9 456.1h0M252.5 463.6h0M223.8 458.4h0M207.1 474.1h0M246.1 439.2h0M194.7 454.9h0M188.4 483.1h0M243.8 475.2h0M186.4 488.8h0M201.3 495.0h0M218.9 444.0h0M213.2 479.0h0M197.2 495.5h0M250.9 489.6h0M246.0 470.8h0M242.0 456.8h0M252.0 493.5h0M276.1 445.9h0M205.9 438.4h0M208.1 462.0h0M170.5 435.0h0M226.9 497.1h0M235.6 471.9h0M240.3 473.1h0M202.7 486.8h0M200.3 477.5h0M278.1 452.8h0M246.9 460.0h0M210.5 433.8h0M235.6 446.3h0M223.2 495.1h0M227.9 450.5h0M207.1 462.6h0M213.1 499.1h0M227.0 444.7h0M230.7 432.9h0M256.3 496.1h0M268.7 436.8h0M196.2 473.3h0M247.8 448.1h0M229.6 466.0h0M205.6 431.1h0M277.2 475.5h0M207.2 488.0h0M261.2 433.5h0M225.4 440.1h0M194.7 463.3h0M246.2 481.8h0M263.4 447.1h0M191.1 468.7h0M227.6 431.9h0M275.1 449.2h0M270.2 461.5h0M210.9 470.1h0M276.6 466.9h0M177.4 441.1h0M217.9 494.1h0M260.8 492.1h0M189.0 496.3h0M229.6 428.9h0M241.8 462.0h0M192.3 434.0h0M197.6 493.8h0M266.5 462.3h0M260.9 430.5h0M250.5 429.5h0M221.5 431.7h0M213.2 479.1h0M265.6 435.5h0M203.1 454.3h0M232.5 432.2h0M213.4 469.8h0M208.8 459.5h0M229.2 436.2h0M184.5 467.7h0M241.2 435.8h0M216.3 485.8h0M194.6 448.0h0M209.0 464.9h0M227.1 458.5h0M245.3 476.1h0M269.5 473.4h0M210.0 470.8h0M259.7 489.4h0M260.0 494.2h0M244.8 428.4h0M250.4 475.1h0M261.1 456.4h0M231.7 480.2h0M204.6 491.9h0M258.6 450.0h0M243.6 437.6h0M275.0 432.8h0M254.0 446.3h0M230.6 486.5h0M232.4 475.7h0M202.4 438.9h0M259.9 453.1h0M194.6 442.0h0M251.6 487.2h0M260.4 430.8h0M206.8 485.7h0M238.6 432.9h0M227.2 469.5h0M218.3 432.3h0M200.4 465.1h0M245.6 432.9h0M263.2 481.6h0M218.4 481.3h0M255.5 499.1h0M225.3 444.6h0M247.5 482.4h0M238.4 460.4h0M259.3 447.9h0M239.1 467.2h0M275.2 493.2h0M234.3 444.9h0M198.5 429.7h0M266.5 462.9h0M230.0 451.2h0M193.8 458.5h0M254.8 492.8h0M221.7 493.8h0M222.7 467.4h0M265.6 485.9h0M217.3 450.6h0M210.5 450.1h0M183.9 440.5h0M230.1 432.9h0M259.6 430.0h0M238.1 432.0h0M221.8 452.6h0M251.7 492.5h0M246.2 485.7h0M264.2 493.6h0M223.9 486.4h0M192.9 479.0h0M231.3 490.0h0M192.8 457.1h0M240.1 474.7h0M263.2 482.7h0M215.1 433.6h0M224.5 433.4h0M240.2 432.1h0M255.9 492.1h0M229.7 469.7h0M195.8 492.1h0M195.7 445.7h0M225.2 436.3h0M253.7 436.3h0M186.5 462.6h0M202.2 456.4h0M194.7 467.7h0M275.0 447.2h0M232.2 486.0h0M260.0 467.9h0M212.3 483.5h0M208.5 464.7h0M177.7 497.6h0M213.8 484.9h0M196.7 497.7h0M254.6 459.9h0M240.7 447.4h0M204.9 453.2h0M228.3 432.3h0M228.5 445.5h0M237.9 476.1h0M178.1 480.1h0M170.2 453.2h0M198.1 473.4h0M252.4 443.0h0M213.2 496.8h0M239.1 455.1h0M209.8 437.8h0M198.4 455.9h0M264.3 444.4h0M228.3 495.6h0M205.7 440.9h0M200.6 441.5h0M224.6 469.0h0M235.1 436.6h0M273.4 487.1h0M222.4 428.4h0M248.6 439.6h0M200.8 491.3h0M259.1 440.1h0M196.2 461.1h0M228.9 457.7h0M219.1 473.6h0M261.4 466.8h0" stroke="#1414f0" stroke-width="2.5"/>
<path d="M203.2 434.4h0M236.2 483.3h0M251.1 485.8h0M265.7 491.5h0M188.6 463.8h0M240.2 466.3h0M271.2 477.3h0M225.7 478.2h0M252.6 455.0h0M171.4 446.8h0M207.7 487.1h0M238.8 495.2h0M220.3 482.1h0M221.3 477.8h0M249.1 460.8h0M243.0 489.0h0M198.5 469.8h0M244.6 432.2h0M241.3 443.2h0M204.0 495.5h0M235.7 465.0h0M243.3 456.7h0M269.5 436.5h0M204.0 485.8h0M210.9 459.3h0M235.1 450.7h0M248.1 479.8h0M214.4 451.4h0M231.4 452.6h0M258.1 479.6h0M276.5 448.4h0M185.3 434.2h0M269.3 470.2h0M204.0 474.7h0M197.5 475.0h0M261.9 461.6h0M269.1 446.2h0M189.2 429.9h0M245.5 491.1h0M186.9 492.0h0M232.1 494.7h0M211.4 432.9h0M224.6 428.5h0M210.1 451.0h0M210.9 431.9h0M269.1 489.8h0M241.4 444.0h0M265.5 451.9h0M216.7 455.8h0M230.8 493.7h0M231.1 472.5h0M224.0 445.9h0M229.0 452.6h0M231.6 497.6h0M190.9 480.2h0M246.7 462.1h0M239.7 433.4h0M249.5 476.2h0M264.3 437.4h0M196.7 465.4h0M261.5 479.9h0M193.2 493.3h0M271.4 475.1h0M204.5 430.4h0M270.5 450.8h0M213.2 462.2h0M246.7 460.3h0M187.4 478.9h0M227.4 495.0h0M269.9 445.4h0M199.6 499.1h0M199.6 495.7h0M260.3 462.6h0M234.0 460.6h0M232.2 460.7h0M212.4 430.7h0M258.1 497.9h0M238.7 471.0h0M203.4 459.9h0M183.9 463.3h0M256.2 463.9h0M248.2 441.5h0M264.6 476.6h0M251.9 496.9h0M242.5 467.7h0M259.2 431.7h0" stroke="#1010d8" stroke-width="1.5"/>
<path d="M256.7 494.5h0M220.1 437.0h0M214.1 460.8h0M217.1 471.3h0M250.6 484.5h0M237.3 464.7h0M222.4 462.7h0M208.7 465.9h0M190.2 465.6h0M276.6 481.2h0M201.5 483.3h0M195.1 463.4h0M276.0 453.3h0M206.0 459.9h0M216.0 435.4h0M194.7 495.6h0M223.2 461.4h0M225.8 491.7h0M251.6 431.0h0M240.3 498.4h0M236.2 489.4h0M190.4 489.5h0M210.6 475.1h0M277.9 435.8h0M254.9 444.4h0M270.6 438.3h0M256.5 496.3h0M271.5 487.9h0M251.3 475.4h0M232.9 495.9h0M230.0 478.8h0M217.1 455.9h0M209.0 477.9h0M198.7 454.2h0M197.9 442.8h0M232.3 430.6h0M222.9 457.4h0M211.7 480.6h0M242.7 477.5h0M250.7 464.4h0M271.6 495.6h0M184.8 496.6h0M222.9 492.1h0M192.9 479.6h0M225.8 477.7h0M192.8 485.4h0M270.1 440.0h0M265.2 474.1h0M224.6 437.6h0M236.4 463.7h0M263.6 456.6h0M256.2 481.3h0M186.3 463.9h0M234.9 453.8h0M273.8 433.1h0M249.4 443.6h0M218.5 434.4h0M230.4 478.6h0M250.3 447.6h0M204.0 466.7h0M225.8 457.0h0M191.8 464.0h0M247.5 489.4h0M235.4 440.4h0M182.7 498.2h0M211.6 469.1h0M256.1 473.0h0M210.9 448.2h0M272.7 430.6h0M174.6 434.9h0M208.6 447.3h0M213.5 438.5h0M233.7 436.0h0M249.6 447.9h0M260.7 465.2h0M242.1 440.8h0M202.4 429.3h0M234.7 448.5h0M265.2 482.9h0M205.7 495.9h0M199.3 474.5h0M235.3 476.9h0M191.9 491.6h0M248.4 492.8h0M238.1 473.6h0M267.0 451.2h0M188.0 489.4h0M190.8 497.0h0M205.6 472.7h0M277.7 481.4h0M220.4 465.6h0M269.2 469.5h0M198.6 435.3h0M249.2 492.2h0M203.0 479.1h0M244.4 432.2h0M244.1 442.9h0M259.4 498.3h0M225.8 463.9h0M236.6 482.6h0M230.2 497.7h0M210.2 494.7h0M217.5 442.2h0M241.4 456.5h0M266.5 468.2h0M217.5 450.0h0M267.6 499.1h0M226.4 470.2h0M195.8 432.9h0M192.4 498.5h0M205.3 432.3h0M222.1 470.5h0M269.9 485.6h0M263.6 434.1h0M207.8 450.2h0M268.0 468.5h0M268.9 450.6h0M199.7 490.3h0M186.4 467.3h0M241.6 451.4h0M275.2 460.5h0M193.7 496.6h0M211.6 449.4h0M223.4 476.3h0M233.6 443.1h0M223.4 449.0h0M233.5 430.2h0M238.3 495.1h0M179.4 497.3h0M227.5 444.3h0M213.1 490.2h0M255.9 429.8h0M257.2 481.1h0M229.0 478.0h0M274.2 462.8h0M247.8 489.8h0M229.5 468.4h0M201.9 437.7h0M238.9 464.5h0M179.2 493.7h0M200.2 488.6h0M200.8 464.2h0M253.4 440.5h0M278.0 466.3h0M171.5 440.7h0M267.8 441.0h0M209.4 443.5h0M210.0 443.2h0M267.0 463.9h0M170.2 464.7h0M239.5 460.7h0M240.9 433.7h0M257.2 452.3h0M201.8 485.4h0M201.0 452.9h0M199.8 445.3h0M259.1 491.2h0M236.8 443.1h0M225.6 483.6h0M194.3 495.0h0M248.2 477.7h0M250.6 481.4h0M255.3 465.0h0M232.7 438.8h0M256.5 457.2h0M242.4 498.9h0M199.6 472.6h0M210.2 451.2h0M194.2 461.2h0M232.8 483.4h0M262.7 481.8h0M223.1 477.6h0M251.6 480.2h0M276.3 448.9h0M210.8 473.6h0M189.0 432.1h0M269.0 494.2h0M275.7 484.0h0M254.6 466.6h0M200.5 470.0h0M229.2 479.2h0M259.3 472.6h0M222.7 460.6h0M244.5 458.2h0M271.8 461.1h0M250.5 454.2h0M270.9 456.4h0M263.4 437.3h0M197.6 439.8h0M250.7 482.4h0M255.5 431.3h0M209.5 487.8h0M244.1 461.2h0M197.7 431.6h0M261.1 433.8h0M260.9 459.2h0M238.0 431.0h0M261.7 441.2h0M176.2 499.0h0M229.1 492.5h0M276.5 432.4h0M239.8 441.6h0M204.9 464.1h0M208.5 469.4h0M247.9 472.9h0M272.6 489.2h0M259.7 477.3h0M228.8 495.0h0M193.7 498.1h0M232.7 499.1h0M276.5 431.3h0M236.8 498.6h0M232.3 460.1h0M222.7 456.5h0M276.3 448.9h0M257.2 476.2h0M244.6 441.1h0M206.0 468.5h0M254.4 465.4h0M193.5 453.2h0M192.7 436.0h0M267.0 438.7h0M226.0 430.7h0M225.4 448.8h0M179.0 457.7h0M276.9 475.1h0M235.5 473.0h0M219.2 484.6h0M205.9 482.5h0M203.0 488.0h0M183.9 447.1h0M242.4 429.6h0M275.5 448.6h0M213.0 485.1h0M211.4 484.9h0M271.6 436.5h0M205.9 431.8h0M251.1 468.0h0M276.1 458.4h0M193.6 495.8h0M195.9 450.3h0M210.2 477.8h0M212.1 491.5h0M269.2 452.7h0M202.8 489.2h0M238.0 481.3h0M222.3 463.8h0M218.2 434.5h0M182.2 434.7h0M238.0 442.4h0M249.8 490.8h0M217.8 459.8h0M193.4 496.9h0M230.3 449.1h0M225.2 461.3h0M241.4 462.5h0M193.1 428.0h0M247.0 448.3h0M265.1 438.8h0M274.1 491.1h0M276.4 448.0h0M247.4 432.1h0M248.6 494.7h0M228.0 445.5h0M269.6 467.8h0M242.8 458.8h0M223.0 463.2h0M205.6 452.2h0M198.8 430.8h0M225.5 460.1h0M251.3 462.3h0M200.9 451.1h0M216.1 453.3h0M180.4 485.0h0M217.2 492.0h0M246.0 463.2h0M223.1 466.9h0M273.3 465.7h0M247.7 436.9h0M243.2 430.7h0M215.6 494.5h0M240.6 491.7h0M216.7 491.5h0M182.1 487.4h0M275.3 432.9h0M192.9 498.9h0M218.4 447.1h0M224.4 428.8h0M228.3 486.5h0M193.8 487.3h0M267.5 485.5h0M264.2 469.9h0M262.7 479.0h0M249.6 462.4h0M254.0 471.6h0M247.4 459.9h0M222.5 471.8h0M228.7 490.6h0M214.7 442.1h0M222.2 440.5h0M246.0 469.8h0M266.6 459.7h0M235.3 497.7h0M245.5 455.9h0M221.0 464.7h0M189.6 478.5h0M212.6 458.7h0M211.6 477.0h0M217.5 476.6h0M201.4 446.1h0M244.9 469.6h0M197.1 456.9h0M195.4 437.8h0M186.9 481.9h0M204.1 494.6h0M273.6 459.7h0M239.2 458.6h0M213.3 483.2h0M258.7 441.6h0" stroke="#1010d8" stroke-width="2.0"/>
<path d="M204.1 442.4h0M177.5 449.1h0M198.2 465.8h0M256.0 446.7h0M249.6 489.3h0M222.6 488.9h0M185.4 445.7h0M258.8 464.8h0M201.2 438.2h0M269.4 447.3h0M274.9 456.0h0M220.3 450.3h0M271.4 471.4h0M233.1 494.0h0M188.1 487.2h0M197.5 486.6h0M248.5 435.0h0M221.9 450.6h0M204.4 497.8h0M244.2 430.5h0M225.1 444.9h0M252.3 487.6h0M272.0 434.3h0M257.6 456.5h0M238.6 453.5h0M255.7 433.9h0M204.2 468.1h0M235.1 430.1h0M232.3 472.5h0M274.3 427.7h0M276.6 458.8h0M226.8 476.0h0M225.0 437.0h0M232.2 448.7h0M264.3 476.3h0M200.3 453.8h0M272.8 481.4h0M222.2 489.9h0M210.3 442.9h0M205.0 450.9h0M277.7 491.2h0M235.6 480.9h0M257.7 473.9h0M216.4 479.6h0M238.8 444.3h0M251.8 491.8h0M187.6 496.2h0M224.2 470.8h0M240.5 449.4h0M217.3 436.5h0M215.4 488.1h0M214.8 441.3h0M240.3 476.8h0M208.0 469.9h0M183.4 487.1h0M205.5 449.1h0M230.9 466.3h0M211.6 448.6h0M238.0 482.4h0M273.8 478.9h0M235.2 496.0h0M242.0 450.1h0M226.0 434.9h0M248.7 477.1h0M251.9 494.8h0M238.9 445.4h0M215.4 460.1h0M273.0 494.6h0M256.5 477.0h0M220.7 432.4h0M277.9 475.9h0M237.6 479.0h0M248.8 473.5h0M270.0 429.0h0M240.3 498.8h0M182.4 453.2h0M231.6 486.4h0M246.9 434.3h0M248.6 443.4h0M257.4 481.0h0M224.1 430.1h0M205.4 454.0h0M254.9 459.9h0M272.6 495.4h0M216.1 490.2h0M229.0 471.9h0M274.3 436.3h0M270.2 457.8h0M204.0 438.2h0M215.1 479.2h0M263.8 428.6h0M237.9 472.4h0M215.5 437.0h0M275.7 440.8h0M260.2 447.4h0M260.3 438.3h0M220.2 471.4h0M255.7 494.8h0M259.5 439.6h0M231.2 447.6h0M198.9 472.8h0M175.9 473.2h0M211.2 461.2h0M198.2 475.2h0M210.3 430.9h0M195.8 480.4h0M208.9 429.1h0M208.9 431.9h0M266.8 489.2h0M266.1 468.6h0M255.1 475.4h0M270.6 470.5h0M219.0 473.9h0M191.7 491.0h0M246.3 466.4h0M200.2 486.5h0M224.7 472.4h0M223.1 439.9h0M236.4 490.0h0M235.7 432.1h0M231.9 442.6h0M269.5 461.9h0M181.1 468.9h0M209.7 449.0h0M252.1 463.3h0M262.8 456.7h0M221.7 463.7h0M267.7 484.5h0M212.2 441.7h0M238.0 436.0h0M275.1 446.5h0M220.0 476.5h0M243.0 459.1h0M204.2 450.0h0M211.4 483.1h0M241.4 457.4h0M252.2 477.9h0M222.6 436.3h0M216.9 460.5h0M270.0 486.9h0M265.3 469.7h0M209.5 464.6h0M219.7 463.7h0M203.2 437.2h0M262.6 454.6h0M223.9 473.4h0M224.0 455.9h0M236.5 488.5h0M236.8 476.9h0M255.8 451.2h0M274.8 462.1h0M220.8 446.4h0M229.8 473.7h0M190.8 495.5h0M273.2 453.0h0M255.4 498.9h0M271.5 429.0h0M215.0 490.1h0M206.3 441.4h0M176.8 472.4h0M214.8 491.3h0M272.4 478.0h0M214.9 490.8h0M232.2 488.6h0M271.8 499.3h0M191.2 434.7h0M209.4 442.4h0M202.4 457.0h0M223.3 430.3h0M194.2 443.2h0M233.5 496.0h0M239.5 431.8h0M226.7 452.0h0M247.2 473.8h0M237.6 440.7h0M278.1 490.5h0M189.7 433.2h0M254.3 432.9h0M219.0 469.0h0M248.5 429.0h0M216.1 436.7h0M257.7 436.6h0M232.2 447.7h0M214.0 439.2h0M177.5 453.0h0M212.7 431.5h0M260.9 489.9h0M221.3 458.3h0M229.0 476.0h0M230.1 430.1h0M272.5 484.9h0M272.5 441.6h0M272.5 473.1h0M188.0 453.4h0M194.8 488.6h0M265.2 455.2h0M277.6 430.3h0M257.4 456.7h0M194.4 473.9h0M218.2 478.5h0M197.8 447.2h0M227.3 466.0h0M276.6 454.3h0M224.5 478.6h0M272.6 481.8h0M265.4 491.5h0M255.5 429.6h0M194.2 474.3h0M200.1 430.4h0M259.4 463.2h0M223.3 443.2h0M260.2 446.5h0M216.7 443.4h0M277.7 446.1h0M252.3 490.9h0M205.8 498.1h0M209.8 428.6h0M272.6 444.1h0M278.3 482.2h0M210.8 459.3h0M187.1 475.7h0M191.0 434.5h0M188.3 481.4h0M229.5 432.5h0M190.0 494.2h0M236.3 469.0h0M194.0 498.6h0M249.7 479.4h0M196.7 488.6h0M231.2 452.4h0M229.9 444.6h0M188.3 491.7h0M218.3 457.5h0M223.4 497.6h0M245.6 454.1h0M264.3 432.7h0M242.8 475.9h0M221.1 428.2h0M224.7 449.8h0M200.4 445.4h0M228.0 456.2h0M208.0 428.6h0M213.2 463.9h0M213.2 483.9h0M204.0 473.4h0M207.0 432.7h0M251.7 469.9h0M256.4 430.5h0M248.6 443.4h0M210.0 465.7h0M241.3 467.3h0M217.0 428.7h0M231.1 494.8h0M217.8 475.9h0M201.9 498.1h0M244.7 497.0h0M246.9 495.3h0M264.0 458.1h0M231.8 478.8h0M217.2 445.5h0M264.6 475.5h0M209.8 482.4h0M272.8 458.5h0M179.5 497.4h0M203.5 450.1h0M237.3 493.9h0M237.9 468.4h0M231.0 484.5h0M226.5 451.7h0M254.5 454.3h0M225.8 475.3h0M248.3 490.7h0M202.8 440.3h0M253.4 490.6h0M272.5 456.2h0M200.8 453.1h0M272.4 436.4h0M270.8 434.1h0M189.7 487.5h0M202.3 467.8h0M217.9 498.3h0M247.1 495.7h0M247.1 451.4h0M268.3 462.5h0M275.6 427.9h0M200.8 474.8h0M243.5 464.4h0M265.5 442.8h0M232.7 439.6h0M263.9 434.5h0M218.8 446.2h0M276.2 463.2h0M248.3 489.5h0M225.9 450.9h0M239.1 491.5h0M208.1 489.9h0M231.2 469.0h0M225.7 493.6h0M260.6 427.9h0M234.4 442.9h0M236.9 448.5h0M195.8 473.4h0M210.7 427.7h0M184.9 499.2h0M228.9 452.6h0M234.8 472.4h0M271.0 439.3h0M204.9 449.9h0M257.1 460.5h0M262.1 462.4h0M213.7 476.7h0M253.2 467.9h0M226.1 455.3h0M263.1 453.8h0M247.0 484.4h0M209.5 479.9h0M256.5 457.7h0M230.1 453.0h0M200.5 469.4h0M242.0 460.3h0M243.8 438.5h0M200.5 486.3h0M246.8 437.5h0M202.3 446.2h0M210.5 474.6h0M200.9 481.3h0M224.3 434.8h0M249.3 467.3h0M193.1 489.8h0M204.9 432.7h0M202.1 427.7h0M213.8 473.5h0M244.2 435.2h0M265.5 438.6h0M242.2 437.2h0M252.5 434.8h0M197.0 454.0h0M271.3 490.5h0M191.7 482.7h0M172.3 469.5h0M214.7 480.1h0M194.0 448.2h0M193.0 453.3h0M250.4 443.1h0M203.6 487.0h0M208.0 492.1h0M213.3 427.6h0M244.0 459.4h0M242.8 496.4h0M254.9 485.6h0M229.9 439.5h0M272.4 449.8h0M252.0 462.0h0M206.3 449.8h0M196.2 465.5h0M264.4 434.7h0M200.0 476.0h0M206.3 477.8h0M262.1 444.3h0M204.4 467.5h0M261.5 481.1h0M255.2 446.1h0M204.9 487.9h0M248.6 478.3h0M226.1 456.4h0M217.5 442.5h0M208.0 462.0h0M268.8 490.1h0M221.4 470.0h0M266.2 488.4h0M201.5 478.7h0M261.2 497.1h0M205.1 460.5h0M215.1 472.1h0M199.1 436.2h0" stroke="#1414f0" stroke-width="2.0"/>
<path d="M268.3 484.4h0M252.2 496.8h0M275.3 489.1h0M274.9 494.8h0M227.6 476.0h0M267.1 444.3h0M173.5 481.8h0M236.9 495.4h0M226.9 490.5h0M240.9 451.3h0M205.9 472.7h0M273.7 480.9h0M193.6 464.2h0M219.1 488.3h0M182.2 430.2h0M209.3 473.8h0M194.0 438.0h0M246.0 449.7h0M249.3 457.2h0M220.2 486.4h0M262.6 492.8h0M240.7 428.8h0M246.7 475.6h0M224.5 454.1h0M265.1 494.2h0M201.9 458.6h0M263.0 452.0h0M266.6 487.2h0M199.5 470.8h0M244.6 475.9h0M253.1 493.4h0M231.9 450.5h0M224.5 475.9h0M190.3 492.1h0M236.6 429.0h0M225.3 457.3h0M215.0 480.0h0M202.6 432.6h0M264.8 465.5h0M234.2 434.5h0M199.6 431.7h0M197.6 448.2h0M202.6 470.0h0M272.6 469.9h0M201.3 455.7h0M171.0 456.4h0M227.8 472.2h0M227.1 440.0h0M250.2 472.4h0M268.2 447.4h0M249.7 481.7h0M204.2 432.4h0M251.7 484.5h0M273.7 448.0h0M258.7 472.0h0M203.1 484.6h0M201.6 441.4h0M192.4 469.1h0M271.1 443.3h0M271.6 476.9h0M268.2 474.5h0M228.1 488.2h0M224.6 440.2h0M234.9 448.6h0M205.9 477.1h0M272.9 452.6h0M234.6 459.0h0M257.9 462.7h0M185.9 496.5h0M272.2 494.7h0M182.4 480.9h0M260.2 468.8h0M252.0 474.0h0M190.3 428.1h0M235.8 451.5h0M270.1 446.7h0M232.7 454.8h0M242.1 464.9h0M231.5 457.9h0M265.8 489.2h0M255.5 480.3h0M250.0 444.6h0M269.9 489.3h0M237.3 481.3h0M230.7 449.9h0M272.2 466.5h0M205.8 468.6h0M241.8 471.3h0M187.8 489.8h0M247.7 472.7h0M238.1 495.1h0M184.0 494.6h0M252.6 441.2h0M247.9 430.6h0M234.5 439.1h0M227.8 429.0h0M241.6 459.2h0M275.6 492.1h0M210.5 444.3h0M240.7 427.9h0M262.5 439.2h0M207.1 475.3h0M203.1 477.6h0M201.4 478.9h0M212.0 467.0h0M243.7 479.4h0M201.3 470.3h0M250.9 469.9h0M250.5 455.9h0M247.3 456.2h0M260.7 492.6h0M183.8 484.0h0M232.3 469.6h0M239.4 435.3h0M259.7 479.4h0M277.4 493.1h0M215.8 462.5h0M271.9 486.7h0M266.4 462.9h0M202.2 490.6h0M263.9 432.2h0M266.5 430.4h0M220.2 436.7h0M204.7 458.0h0M228.9 451.0h0M223.7 490.7h0M215.1 478.6h0M239.3 467.1h0M264.4 435.1h0M211.2 495.8h0M203.4 448.4h0M258.1 444.2h0M179.4 462.6h0M201.2 493.4h0M242.1 434.0h0M238.0 457.8h0M227.9 439.8h0M204.1 492.6h0M262.8 456.4h0M204.5 496.6h0M215.5 477.5h0M219.5 457.6h0M218.5 490.4h0M239.1 486.7h0M269.2 482.9h0M269.0 458.8h0M274.3 470.9h0M212.8 487.4h0M211.9 453.9h0M192.6 441.0h0M238.4 454.6h0M203.1 455.9h0M214.6 442.0h0M251.9 450.2h0M234.3 498.8h0M244.2 490.4h0M260.2 431.0h0M231.9 440.0h0M193.8 449.0h0M270.0 430.3h0M246.4 450.5h0M188.3 480.3h0M189.4 492.2h0M252.2 449.9h0M232.6 437.9h0M234.5 429.7h0M177.0 453.3h0M191.4 479.4h0M231.7 456.1h0M257.8 485.8h0M247.4 432.3h0M248.4 462.7h0M185.8 439.0h0M242.7 480.1h0M251.9 498.3h0M198.7 459.3h0" stroke="#1010d8" stroke-width="2.5"/>
<path d="M194.7 495.2h0M202.2 487.7h0M264.3 461.4h0M218.3 494.0h0M226.0 443.5h0M250.3 475.3h0M235.0 460.3h0M214.5 450.3h0M264.1 456.9h0M248.9 466.0h0M251.4 483.7h0M200.8 492.0h0M214.9 458.5h0M260.6 458.7h0M211.7 451.2h0M238.3 490.1h0M268.9 475.2h0M191.1 444.3h0M234.1 434.3h0M205.8 441.2h0M261.4 439.2h0M214.2 428.0h0M263.6 432.1h0M215.7 466.1h0M208.8 428.5h0M276.0 493.5h0M207.3 440.8h0M251.8 461.8h0M278.3 459.1h0M203.1 466.4h0M174.9 449.2h0M237.9 487.6h0M231.7 436.1h0M271.8 482.4h0M208.8 441.5h0M220.7 456.2h0M192.9 432.9h0M277.2 434.7h0M233.8 473.5h0M232.6 457.5h0M251.9 440.1h0M221.8 443.9h0M245.5 440.9h0M199.8 471.4h0M277.6 454.6h0M204.1 450.7h0M226.1 449.0h0M214.0 444.4h0M261.2 479.1h0M265.8 464.3h0M229.4 489.9h0M213.4 466.1h0M231.0 468.9h0M236.7 468.1h0M243.5 489.6h0M272.7 455.1h0M261.9 474.3h0M220.5 485.4h0M276.2 497.2h0M240.6 459.5h0M196.5 492.0h0M221.6 493.3h0M210.9 494.9h0M219.5 440.4h0M229.0 433.7h0M219.9 494.0h0M238.7 441.9h0M247.2 458.3h0M182.5 452.6h0M200.7 471.8h0M223.5 470.1h0M221.9 453.9h0M256.5 431.4h0M190.0 435.4h0M245.0 468.8h0M252.3 469.9h0M211.8 428.0h0M209.5 473.1h0M209.9 435.6h0M272.0 433.6h0M211.1 493.8h0M237.5 451.4h0M236.6 480.5h0M233.4 449.3h0M240.3 464.9h0M265.2 495.0h0M219.6 478.9h0" stroke="#1a1aff" stroke-width="2.0"/>
<path d="M245.2 499.0h0M243.3 495.2h0M237.8 495.4h0M227.5 479.5h0M248.9 497.1h0M186.6 433.7h0M233.6 476.0h0M241.0 442.4h0M229.3 495.4h0M240.6 464.3h0M203.1 496.4h0M194.6 457.2h0M252.6 461.1h0M248.8 464.2h0M245.1 442.4h0M170.3 495.5h0M200.5 454.1h0M214.4 480.2h0M252.3 484.1h0M189.5 427.8h0M201.0 498.9h0M190.1 491.0h0M234.2 446.4h0M276.6 498.4h0M257.3 437.2h0M232.2 442.8h0M206.7 487.4h0M250.8 463.0h0M241.3 492.4h0M198.9 443.0h0M233.9 458.6h0M244.8 496.0h0M274.3 432.4h0M201.6 467.6h0M190.6 464.8h0M242.6 476.5h0M229.0 450.8h0M275.3 478.1h0M244.0 485.0h0M273.5 441.6h0M213.7 431.3h0M276.0 486.2h0M269.8 435.4h0M235.7 456.6h0M237.2 459.4h0" stroke="#1a1aff" stroke-width="2.5"/>
<path d="M243.8 443.5h0M213.9 472.8h0M272.6 434.2h0M210.3 447.2h0M207.7 497.9h0M255.0 442.4h0M204.1 459.7h0M249.2 481.5h0M225.3 472.2h0M233.2 483.2h0M275.2 490.9h0M224.8 434.3h0M215.4 466.9h0M255.5 447.5h0M203.4 492.1h0M229.6 429.2h0M273.9 442.5h0" stroke="#1a1aff" stroke-width="1.5"/>
<path d="M183.7 483.9h0M253.6 470.5h0M198.5 439.0h0M225.4 444.8h0M261.9 440.9h0M245.8 491.5h0M271.1 475.0h0M235.4 489.6h0M199.9 497.9h0M245.9 466.7h0M274.4 464.1h0M247.2 447.4h0M274.6 452.1h0M235.4 454.1h0M212.5 465.6h0M235.5 433.6h0M193.1 484.2h0M265.4 448.0h0M267.8 468.8h0M191.7 474.2h0M180.6 490.1h0M215.5 446.1h0M225.9 456.0h0M231.5 454.6h0M200.3 476.5h0M237.2 441.2h0M244.9 436.8h0M258.6 451.9h0M251.0 492.8h0M221.7 482.0h0M208.9 432.4h0M194.4 448.0h0M259.7 481.8h0M276.2 489.8h0M260.6 450.4h0M195.9 439.0h0M259.3 472.7h0M215.2 477.7h0M173.4 432.8h0M197.0 442.5h0M263.8 438.2h0M264.1 492.6h0M220.8 498.8h0M235.0 463.5h0M256.9 491.1h0M229.1 432.2h0M229.1 429.6h0M257.6 432.7h0M226.0 435.5h0M270.0 439.3h0M200.5 464.1h0M265.2 486.9h0M277.5 491.6h0M263.9 492.9h0M261.8 431.5h0M212.1 457.3h0M237.5 478.7h0M244.0 469.4h0M250.0 475.5h0M272.5 464.1h0M263.8 477.6h0M224.2 437.7h0M172.3 458.5h0M210.7 460.3h0M253.2 450.7h0M268.2 438.9h0M256.6 452.8h0M210.9 496.0h0M247.4 498.0h0M245.2 479.4h0M265.4 498.6h0M199.9 471.7h0M243.0 483.2h0M197.0 489.4h0M266.1 454.2h0M241.7 452.5h0M252.7 497.8h0M206.8 461.8h0M196.5 483.5h0M264.0 456.7h0M261.8 490.6h0M194.8 479.9h0M231.8 479.7h0M216.3 432.1h0M240.1 490.0h0M225.9 440.9h0M229.0 440.4h0M274.4 450.6h0M187.0 496.5h0M212.5 456.0h0M201.7 481.0h0M211.9 487.1h0M202.6 452.8h0M219.0 491.2h0M213.9 469.4h0M251.1 486.6h0M217.3 486.8h0M215.5 495.8h0M214.1 456.9h0M204.4 483.4h0M225.0 457.6h0M267.0 436.8h0M273.0 493.7h0M238.1 470.4h0M194.2 430.2h0M209.2 465.4h0M276.1 468.8h0M248.5 456.5h0M210.5 450.7h0M195.2 457.8h0M234.1 468.5h0M261.2 490.2h0M258.9 465.8h0M211.5 437.6h0" stroke="#1414f0" stroke-width="1.5"/>
</g></g>
<text x="235.00" y="475.70" font-size="12" font-weight="bold" fill="#5ac83e" textLength="37.00" lengthAdjust="spacingAndGlyphs" >TUNEL</text>
<text x="244.60" y="491.90" font-size="12" font-weight="bold" fill="#6c80ea" textLength="27.80" lengthAdjust="spacingAndGlyphs" >DAPI</text>
<text x="345.50" y="342.00" font-size="16" font-weight="bold" >f</text>
<line x1="405.30" y1="335.80" x2="405.30" y2="480.00" stroke="#000" stroke-width="1.3" />
<line x1="404.70" y1="479.40" x2="620.60" y2="479.40" stroke="#000" stroke-width="1.3" />
<line x1="405.30" y1="431.50" x2="620.60" y2="431.50" stroke="#333" stroke-width="0.9" stroke-dasharray="1.1,1.7"/>
<line x1="401.60" y1="336.30" x2="405.30" y2="336.30" stroke="#000" stroke-width="1.1" />
<text x="400.60" y="338.60" font-size="6.6" font-weight="bold" text-anchor="end" >20</text>
<line x1="401.60" y1="383.90" x2="405.30" y2="383.90" stroke="#000" stroke-width="1.1" />
<text x="400.60" y="386.20" font-size="6.6" font-weight="bold" text-anchor="end" >10</text>
<line x1="401.60" y1="431.50" x2="405.30" y2="431.50" stroke="#000" stroke-width="1.1" />
<text x="400.60" y="433.80" font-size="6.6" font-weight="bold" text-anchor="end" >0</text>
<line x1="401.60" y1="479.10" x2="405.30" y2="479.10" stroke="#000" stroke-width="1.1" />
<text x="400.60" y="481.40" font-size="6.6" font-weight="bold" text-anchor="end" >-10</text>
<line x1="421.50" y1="479.40" x2="421.50" y2="482.80" stroke="#000" stroke-width="1.1" />
<text x="421.50" y="490.60" font-size="6.6" font-weight="bold" text-anchor="middle" >1</text>
<line x1="452.00" y1="479.40" x2="452.00" y2="482.80" stroke="#000" stroke-width="1.1" />
<text x="452.00" y="490.60" font-size="6.6" font-weight="bold" text-anchor="middle" >3</text>
<line x1="482.60" y1="479.40" x2="482.60" y2="482.80" stroke="#000" stroke-width="1.1" />
<text x="482.60" y="490.60" font-size="6.6" font-weight="bold" text-anchor="middle" >6</text>
<line x1="513.40" y1="479.40" x2="513.40" y2="482.80" stroke="#000" stroke-width="1.1" />
<text x="513.40" y="490.60" font-size="6.6" font-weight="bold" text-anchor="middle" >10</text>
<line x1="544.40" y1="479.40" x2="544.40" y2="482.80" stroke="#000" stroke-width="1.1" />
<text x="544.40" y="490.60" font-size="6.6" font-weight="bold" text-anchor="middle" >18</text>
<line x1="575.00" y1="479.40" x2="575.00" y2="482.80" stroke="#000" stroke-width="1.1" />
<text x="575.00" y="490.60" font-size="6.6" font-weight="bold" text-anchor="middle" >25</text>
<line x1="605.50" y1="479.40" x2="605.50" y2="482.80" stroke="#000" stroke-width="1.1" />
<text x="605.50" y="490.60" font-size="6.6" font-weight="bold" text-anchor="middle" >100</text>
<text x="464.30" y="501.80" font-size="7.6" fill="#222" textLength="98.00" lengthAdjust="spacingAndGlyphs" >Paclitaxel concentration (nM)</text>
<text x="378.40" y="407.50" font-size="7.45" font-weight="bold" text-anchor="middle" transform="rotate(-90 378.40 407.50)" >TUNEL/DAPI</text>
<text x="386.90" y="407.50" font-size="7.5" font-weight="bold" text-anchor="middle" transform="rotate(-90 386.90 407.50)" >relative to control</text>
<line x1="421.50" y1="371.05" x2="421.50" y2="461.49" stroke="#5ec04e" stroke-width="0.9" />
<line x1="419.10" y1="371.05" x2="423.90" y2="371.05" stroke="#5ec04e" stroke-width="0.9" />
<line x1="419.10" y1="461.49" x2="423.90" y2="461.49" stroke="#5ec04e" stroke-width="0.9" />
<line x1="452.00" y1="411.98" x2="452.00" y2="426.26" stroke="#5ec04e" stroke-width="0.9" />
<line x1="449.60" y1="411.98" x2="454.40" y2="411.98" stroke="#5ec04e" stroke-width="0.9" />
<line x1="449.60" y1="426.26" x2="454.40" y2="426.26" stroke="#5ec04e" stroke-width="0.9" />
<line x1="482.60" y1="402.94" x2="482.60" y2="434.36" stroke="#5ec04e" stroke-width="0.9" />
<line x1="480.20" y1="402.94" x2="485.00" y2="402.94" stroke="#5ec04e" stroke-width="0.9" />
<line x1="480.20" y1="434.36" x2="485.00" y2="434.36" stroke="#5ec04e" stroke-width="0.9" />
<line x1="513.40" y1="393.42" x2="513.40" y2="429.60" stroke="#5ec04e" stroke-width="0.9" />
<line x1="511.00" y1="393.42" x2="515.80" y2="393.42" stroke="#5ec04e" stroke-width="0.9" />
<line x1="511.00" y1="429.60" x2="515.80" y2="429.60" stroke="#5ec04e" stroke-width="0.9" />
<line x1="544.40" y1="338.68" x2="544.40" y2="414.84" stroke="#5ec04e" stroke-width="0.9" />
<line x1="542.00" y1="338.68" x2="546.80" y2="338.68" stroke="#5ec04e" stroke-width="0.9" />
<line x1="542.00" y1="414.84" x2="546.80" y2="414.84" stroke="#5ec04e" stroke-width="0.9" />
<line x1="575.00" y1="375.33" x2="575.00" y2="411.51" stroke="#5ec04e" stroke-width="0.9" />
<line x1="572.60" y1="375.33" x2="577.40" y2="375.33" stroke="#5ec04e" stroke-width="0.9" />
<line x1="572.60" y1="411.51" x2="577.40" y2="411.51" stroke="#5ec04e" stroke-width="0.9" />
<line x1="605.50" y1="385.33" x2="605.50" y2="416.74" stroke="#5ec04e" stroke-width="0.9" />
<line x1="603.10" y1="385.33" x2="607.90" y2="385.33" stroke="#5ec04e" stroke-width="0.9" />
<line x1="603.10" y1="416.74" x2="607.90" y2="416.74" stroke="#5ec04e" stroke-width="0.9" />
<line x1="421.50" y1="426.74" x2="421.50" y2="441.02" stroke="#5ec04e" stroke-width="0.9" />
<line x1="419.10" y1="426.74" x2="423.90" y2="426.74" stroke="#5ec04e" stroke-width="0.9" />
<line x1="419.10" y1="441.02" x2="423.90" y2="441.02" stroke="#5ec04e" stroke-width="0.9" />
<line x1="452.00" y1="430.55" x2="452.00" y2="444.83" stroke="#5ec04e" stroke-width="0.9" />
<line x1="449.60" y1="430.55" x2="454.40" y2="430.55" stroke="#5ec04e" stroke-width="0.9" />
<line x1="449.60" y1="444.83" x2="454.40" y2="444.83" stroke="#5ec04e" stroke-width="0.9" />
<line x1="482.60" y1="422.93" x2="482.60" y2="437.21" stroke="#5ec04e" stroke-width="0.9" />
<line x1="480.20" y1="422.93" x2="485.00" y2="422.93" stroke="#5ec04e" stroke-width="0.9" />
<line x1="480.20" y1="437.21" x2="485.00" y2="437.21" stroke="#5ec04e" stroke-width="0.9" />
<line x1="513.40" y1="407.70" x2="513.40" y2="424.84" stroke="#5ec04e" stroke-width="0.9" />
<line x1="511.00" y1="407.70" x2="515.80" y2="407.70" stroke="#5ec04e" stroke-width="0.9" />
<line x1="511.00" y1="424.84" x2="515.80" y2="424.84" stroke="#5ec04e" stroke-width="0.9" />
<line x1="544.40" y1="416.27" x2="544.40" y2="435.31" stroke="#5ec04e" stroke-width="0.9" />
<line x1="542.00" y1="416.27" x2="546.80" y2="416.27" stroke="#5ec04e" stroke-width="0.9" />
<line x1="542.00" y1="435.31" x2="546.80" y2="435.31" stroke="#5ec04e" stroke-width="0.9" />
<line x1="575.00" y1="405.80" x2="575.00" y2="422.93" stroke="#5ec04e" stroke-width="0.9" />
<line x1="572.60" y1="405.80" x2="577.40" y2="405.80" stroke="#5ec04e" stroke-width="0.9" />
<line x1="572.60" y1="422.93" x2="577.40" y2="422.93" stroke="#5ec04e" stroke-width="0.9" />
<line x1="605.50" y1="421.50" x2="605.50" y2="436.74" stroke="#5ec04e" stroke-width="0.9" />
<line x1="603.10" y1="421.50" x2="607.90" y2="421.50" stroke="#5ec04e" stroke-width="0.9" />
<line x1="603.10" y1="436.74" x2="607.90" y2="436.74" stroke="#5ec04e" stroke-width="0.9" />
<line x1="421.50" y1="437.21" x2="421.50" y2="456.25" stroke="#5ec04e" stroke-width="0.9" />
<line x1="419.10" y1="437.21" x2="423.90" y2="437.21" stroke="#5ec04e" stroke-width="0.9" />
<line x1="419.10" y1="456.25" x2="423.90" y2="456.25" stroke="#5ec04e" stroke-width="0.9" />
<line x1="452.00" y1="432.93" x2="452.00" y2="447.21" stroke="#5ec04e" stroke-width="0.9" />
<line x1="449.60" y1="432.93" x2="454.40" y2="432.93" stroke="#5ec04e" stroke-width="0.9" />
<line x1="449.60" y1="447.21" x2="454.40" y2="447.21" stroke="#5ec04e" stroke-width="0.9" />
<line x1="482.60" y1="425.31" x2="482.60" y2="439.59" stroke="#5ec04e" stroke-width="0.9" />
<line x1="480.20" y1="425.31" x2="485.00" y2="425.31" stroke="#5ec04e" stroke-width="0.9" />
<line x1="480.20" y1="439.59" x2="485.00" y2="439.59" stroke="#5ec04e" stroke-width="0.9" />
<line x1="513.40" y1="425.79" x2="513.40" y2="440.07" stroke="#5ec04e" stroke-width="0.9" />
<line x1="511.00" y1="425.79" x2="515.80" y2="425.79" stroke="#5ec04e" stroke-width="0.9" />
<line x1="511.00" y1="440.07" x2="515.80" y2="440.07" stroke="#5ec04e" stroke-width="0.9" />
<line x1="544.40" y1="436.26" x2="544.40" y2="453.40" stroke="#5ec04e" stroke-width="0.9" />
<line x1="542.00" y1="436.26" x2="546.80" y2="436.26" stroke="#5ec04e" stroke-width="0.9" />
<line x1="542.00" y1="453.40" x2="546.80" y2="453.40" stroke="#5ec04e" stroke-width="0.9" />
<line x1="575.00" y1="431.50" x2="575.00" y2="445.78" stroke="#5ec04e" stroke-width="0.9" />
<line x1="572.60" y1="431.50" x2="577.40" y2="431.50" stroke="#5ec04e" stroke-width="0.9" />
<line x1="572.60" y1="445.78" x2="577.40" y2="445.78" stroke="#5ec04e" stroke-width="0.9" />
<line x1="605.50" y1="433.88" x2="605.50" y2="448.16" stroke="#5ec04e" stroke-width="0.9" />
<line x1="603.10" y1="433.88" x2="607.90" y2="433.88" stroke="#5ec04e" stroke-width="0.9" />
<line x1="603.10" y1="448.16" x2="607.90" y2="448.16" stroke="#5ec04e" stroke-width="0.9" />
<line x1="421.50" y1="406.27" x2="421.50" y2="425.31" stroke="#5ec04e" stroke-width="0.9" />
<line x1="419.10" y1="406.27" x2="423.90" y2="406.27" stroke="#5ec04e" stroke-width="0.9" />
<line x1="419.10" y1="425.31" x2="423.90" y2="425.31" stroke="#5ec04e" stroke-width="0.9" />
<line x1="452.00" y1="412.46" x2="452.00" y2="426.74" stroke="#5ec04e" stroke-width="0.9" />
<line x1="449.60" y1="412.46" x2="454.40" y2="412.46" stroke="#5ec04e" stroke-width="0.9" />
<line x1="449.60" y1="426.74" x2="454.40" y2="426.74" stroke="#5ec04e" stroke-width="0.9" />
<line x1="482.60" y1="417.22" x2="482.60" y2="431.50" stroke="#5ec04e" stroke-width="0.9" />
<line x1="480.20" y1="417.22" x2="485.00" y2="417.22" stroke="#5ec04e" stroke-width="0.9" />
<line x1="480.20" y1="431.50" x2="485.00" y2="431.50" stroke="#5ec04e" stroke-width="0.9" />
<line x1="513.40" y1="403.42" x2="513.40" y2="417.70" stroke="#5ec04e" stroke-width="0.9" />
<line x1="511.00" y1="403.42" x2="515.80" y2="403.42" stroke="#5ec04e" stroke-width="0.9" />
<line x1="511.00" y1="417.70" x2="515.80" y2="417.70" stroke="#5ec04e" stroke-width="0.9" />
<line x1="544.40" y1="401.99" x2="544.40" y2="419.12" stroke="#5ec04e" stroke-width="0.9" />
<line x1="542.00" y1="401.99" x2="546.80" y2="401.99" stroke="#5ec04e" stroke-width="0.9" />
<line x1="542.00" y1="419.12" x2="546.80" y2="419.12" stroke="#5ec04e" stroke-width="0.9" />
<line x1="575.00" y1="406.27" x2="575.00" y2="420.55" stroke="#5ec04e" stroke-width="0.9" />
<line x1="572.60" y1="406.27" x2="577.40" y2="406.27" stroke="#5ec04e" stroke-width="0.9" />
<line x1="572.60" y1="420.55" x2="577.40" y2="420.55" stroke="#5ec04e" stroke-width="0.9" />
<line x1="605.50" y1="418.17" x2="605.50" y2="432.45" stroke="#5ec04e" stroke-width="0.9" />
<line x1="603.10" y1="418.17" x2="607.90" y2="418.17" stroke="#5ec04e" stroke-width="0.9" />
<line x1="603.10" y1="432.45" x2="607.90" y2="432.45" stroke="#5ec04e" stroke-width="0.9" />
<line x1="421.50" y1="418.65" x2="421.50" y2="442.45" stroke="#5ec04e" stroke-width="0.9" />
<line x1="419.10" y1="418.65" x2="423.90" y2="418.65" stroke="#5ec04e" stroke-width="0.9" />
<line x1="419.10" y1="442.45" x2="423.90" y2="442.45" stroke="#5ec04e" stroke-width="0.9" />
<line x1="452.00" y1="422.93" x2="452.00" y2="441.97" stroke="#5ec04e" stroke-width="0.9" />
<line x1="449.60" y1="422.93" x2="454.40" y2="422.93" stroke="#5ec04e" stroke-width="0.9" />
<line x1="449.60" y1="441.97" x2="454.40" y2="441.97" stroke="#5ec04e" stroke-width="0.9" />
<line x1="482.60" y1="406.75" x2="482.60" y2="463.87" stroke="#5ec04e" stroke-width="0.9" />
<line x1="480.20" y1="406.75" x2="485.00" y2="406.75" stroke="#5ec04e" stroke-width="0.9" />
<line x1="480.20" y1="463.87" x2="485.00" y2="463.87" stroke="#5ec04e" stroke-width="0.9" />
<line x1="513.40" y1="421.98" x2="513.40" y2="445.78" stroke="#5ec04e" stroke-width="0.9" />
<line x1="511.00" y1="421.98" x2="515.80" y2="421.98" stroke="#5ec04e" stroke-width="0.9" />
<line x1="511.00" y1="445.78" x2="515.80" y2="445.78" stroke="#5ec04e" stroke-width="0.9" />
<line x1="544.40" y1="422.93" x2="544.40" y2="461.01" stroke="#5ec04e" stroke-width="0.9" />
<line x1="542.00" y1="422.93" x2="546.80" y2="422.93" stroke="#5ec04e" stroke-width="0.9" />
<line x1="542.00" y1="461.01" x2="546.80" y2="461.01" stroke="#5ec04e" stroke-width="0.9" />
<line x1="575.00" y1="446.73" x2="575.00" y2="475.29" stroke="#5ec04e" stroke-width="0.9" />
<line x1="572.60" y1="446.73" x2="577.40" y2="446.73" stroke="#5ec04e" stroke-width="0.9" />
<line x1="572.60" y1="475.29" x2="577.40" y2="475.29" stroke="#5ec04e" stroke-width="0.9" />
<line x1="605.50" y1="455.78" x2="605.50" y2="477.67" stroke="#5ec04e" stroke-width="0.9" />
<line x1="603.10" y1="455.78" x2="607.90" y2="455.78" stroke="#5ec04e" stroke-width="0.9" />
<line x1="603.10" y1="477.67" x2="607.90" y2="477.67" stroke="#5ec04e" stroke-width="0.9" />
<line x1="421.50" y1="419.60" x2="421.50" y2="438.64" stroke="#5ec04e" stroke-width="0.9" />
<line x1="419.10" y1="419.60" x2="423.90" y2="419.60" stroke="#5ec04e" stroke-width="0.9" />
<line x1="419.10" y1="438.64" x2="423.90" y2="438.64" stroke="#5ec04e" stroke-width="0.9" />
<line x1="452.00" y1="426.74" x2="452.00" y2="441.02" stroke="#5ec04e" stroke-width="0.9" />
<line x1="449.60" y1="426.74" x2="454.40" y2="426.74" stroke="#5ec04e" stroke-width="0.9" />
<line x1="449.60" y1="441.02" x2="454.40" y2="441.02" stroke="#5ec04e" stroke-width="0.9" />
<line x1="482.60" y1="412.94" x2="482.60" y2="427.22" stroke="#5ec04e" stroke-width="0.9" />
<line x1="480.20" y1="412.94" x2="485.00" y2="412.94" stroke="#5ec04e" stroke-width="0.9" />
<line x1="480.20" y1="427.22" x2="485.00" y2="427.22" stroke="#5ec04e" stroke-width="0.9" />
<line x1="513.40" y1="425.79" x2="513.40" y2="440.07" stroke="#5ec04e" stroke-width="0.9" />
<line x1="511.00" y1="425.79" x2="515.80" y2="425.79" stroke="#5ec04e" stroke-width="0.9" />
<line x1="511.00" y1="440.07" x2="515.80" y2="440.07" stroke="#5ec04e" stroke-width="0.9" />
<line x1="544.40" y1="432.45" x2="544.40" y2="446.73" stroke="#5ec04e" stroke-width="0.9" />
<line x1="542.00" y1="432.45" x2="546.80" y2="432.45" stroke="#5ec04e" stroke-width="0.9" />
<line x1="542.00" y1="446.73" x2="546.80" y2="446.73" stroke="#5ec04e" stroke-width="0.9" />
<line x1="575.00" y1="421.98" x2="575.00" y2="436.26" stroke="#5ec04e" stroke-width="0.9" />
<line x1="572.60" y1="421.98" x2="577.40" y2="421.98" stroke="#5ec04e" stroke-width="0.9" />
<line x1="572.60" y1="436.26" x2="577.40" y2="436.26" stroke="#5ec04e" stroke-width="0.9" />
<line x1="605.50" y1="426.74" x2="605.50" y2="441.02" stroke="#5ec04e" stroke-width="0.9" />
<line x1="603.10" y1="426.74" x2="607.90" y2="426.74" stroke="#5ec04e" stroke-width="0.9" />
<line x1="603.10" y1="441.02" x2="607.90" y2="441.02" stroke="#5ec04e" stroke-width="0.9" />
<line x1="421.50" y1="404.37" x2="421.50" y2="423.41" stroke="#5ec04e" stroke-width="0.9" />
<line x1="419.10" y1="404.37" x2="423.90" y2="404.37" stroke="#5ec04e" stroke-width="0.9" />
<line x1="419.10" y1="423.41" x2="423.90" y2="423.41" stroke="#5ec04e" stroke-width="0.9" />
<line x1="452.00" y1="425.79" x2="452.00" y2="440.07" stroke="#5ec04e" stroke-width="0.9" />
<line x1="449.60" y1="425.79" x2="454.40" y2="425.79" stroke="#5ec04e" stroke-width="0.9" />
<line x1="449.60" y1="440.07" x2="454.40" y2="440.07" stroke="#5ec04e" stroke-width="0.9" />
<line x1="482.60" y1="418.65" x2="482.60" y2="432.93" stroke="#5ec04e" stroke-width="0.9" />
<line x1="480.20" y1="418.65" x2="485.00" y2="418.65" stroke="#5ec04e" stroke-width="0.9" />
<line x1="480.20" y1="432.93" x2="485.00" y2="432.93" stroke="#5ec04e" stroke-width="0.9" />
<line x1="513.40" y1="423.41" x2="513.40" y2="437.69" stroke="#5ec04e" stroke-width="0.9" />
<line x1="511.00" y1="423.41" x2="515.80" y2="423.41" stroke="#5ec04e" stroke-width="0.9" />
<line x1="511.00" y1="437.69" x2="515.80" y2="437.69" stroke="#5ec04e" stroke-width="0.9" />
<line x1="544.40" y1="417.22" x2="544.40" y2="431.50" stroke="#5ec04e" stroke-width="0.9" />
<line x1="542.00" y1="417.22" x2="546.80" y2="417.22" stroke="#5ec04e" stroke-width="0.9" />
<line x1="542.00" y1="431.50" x2="546.80" y2="431.50" stroke="#5ec04e" stroke-width="0.9" />
<line x1="575.00" y1="420.55" x2="575.00" y2="434.83" stroke="#5ec04e" stroke-width="0.9" />
<line x1="572.60" y1="420.55" x2="577.40" y2="420.55" stroke="#5ec04e" stroke-width="0.9" />
<line x1="572.60" y1="434.83" x2="577.40" y2="434.83" stroke="#5ec04e" stroke-width="0.9" />
<line x1="605.50" y1="430.07" x2="605.50" y2="444.35" stroke="#5ec04e" stroke-width="0.9" />
<line x1="603.10" y1="430.07" x2="607.90" y2="430.07" stroke="#5ec04e" stroke-width="0.9" />
<line x1="603.10" y1="444.35" x2="607.90" y2="444.35" stroke="#5ec04e" stroke-width="0.9" />
<line x1="421.50" y1="428.17" x2="421.50" y2="442.45" stroke="#22702a" stroke-width="0.9" />
<line x1="419.10" y1="428.17" x2="423.90" y2="428.17" stroke="#22702a" stroke-width="0.9" />
<line x1="419.10" y1="442.45" x2="423.90" y2="442.45" stroke="#22702a" stroke-width="0.9" />
<line x1="452.00" y1="434.36" x2="452.00" y2="445.78" stroke="#22702a" stroke-width="0.9" />
<line x1="449.60" y1="434.36" x2="454.40" y2="434.36" stroke="#22702a" stroke-width="0.9" />
<line x1="449.60" y1="445.78" x2="454.40" y2="445.78" stroke="#22702a" stroke-width="0.9" />
<line x1="482.60" y1="428.17" x2="482.60" y2="439.59" stroke="#22702a" stroke-width="0.9" />
<line x1="480.20" y1="428.17" x2="485.00" y2="428.17" stroke="#22702a" stroke-width="0.9" />
<line x1="480.20" y1="439.59" x2="485.00" y2="439.59" stroke="#22702a" stroke-width="0.9" />
<line x1="513.40" y1="428.17" x2="513.40" y2="439.59" stroke="#22702a" stroke-width="0.9" />
<line x1="511.00" y1="428.17" x2="515.80" y2="428.17" stroke="#22702a" stroke-width="0.9" />
<line x1="511.00" y1="439.59" x2="515.80" y2="439.59" stroke="#22702a" stroke-width="0.9" />
<line x1="544.40" y1="425.79" x2="544.40" y2="437.21" stroke="#22702a" stroke-width="0.9" />
<line x1="542.00" y1="425.79" x2="546.80" y2="425.79" stroke="#22702a" stroke-width="0.9" />
<line x1="542.00" y1="437.21" x2="546.80" y2="437.21" stroke="#22702a" stroke-width="0.9" />
<line x1="575.00" y1="430.55" x2="575.00" y2="441.97" stroke="#22702a" stroke-width="0.9" />
<line x1="572.60" y1="430.55" x2="577.40" y2="430.55" stroke="#22702a" stroke-width="0.9" />
<line x1="572.60" y1="441.97" x2="577.40" y2="441.97" stroke="#22702a" stroke-width="0.9" />
<line x1="605.50" y1="427.22" x2="605.50" y2="438.64" stroke="#22702a" stroke-width="0.9" />
<line x1="603.10" y1="427.22" x2="607.90" y2="427.22" stroke="#22702a" stroke-width="0.9" />
<line x1="603.10" y1="438.64" x2="607.90" y2="438.64" stroke="#22702a" stroke-width="0.9" />
<line x1="421.50" y1="430.07" x2="421.50" y2="444.35" stroke="#22702a" stroke-width="0.9" />
<line x1="419.10" y1="430.07" x2="423.90" y2="430.07" stroke="#22702a" stroke-width="0.9" />
<line x1="419.10" y1="444.35" x2="423.90" y2="444.35" stroke="#22702a" stroke-width="0.9" />
<line x1="452.00" y1="437.69" x2="452.00" y2="451.97" stroke="#22702a" stroke-width="0.9" />
<line x1="449.60" y1="437.69" x2="454.40" y2="437.69" stroke="#22702a" stroke-width="0.9" />
<line x1="449.60" y1="451.97" x2="454.40" y2="451.97" stroke="#22702a" stroke-width="0.9" />
<line x1="482.60" y1="425.79" x2="482.60" y2="440.07" stroke="#22702a" stroke-width="0.9" />
<line x1="480.20" y1="425.79" x2="485.00" y2="425.79" stroke="#22702a" stroke-width="0.9" />
<line x1="480.20" y1="440.07" x2="485.00" y2="440.07" stroke="#22702a" stroke-width="0.9" />
<line x1="513.40" y1="434.83" x2="513.40" y2="451.97" stroke="#22702a" stroke-width="0.9" />
<line x1="511.00" y1="434.83" x2="515.80" y2="434.83" stroke="#22702a" stroke-width="0.9" />
<line x1="511.00" y1="451.97" x2="515.80" y2="451.97" stroke="#22702a" stroke-width="0.9" />
<line x1="544.40" y1="435.31" x2="544.40" y2="449.59" stroke="#22702a" stroke-width="0.9" />
<line x1="542.00" y1="435.31" x2="546.80" y2="435.31" stroke="#22702a" stroke-width="0.9" />
<line x1="542.00" y1="449.59" x2="546.80" y2="449.59" stroke="#22702a" stroke-width="0.9" />
<line x1="575.00" y1="422.93" x2="575.00" y2="441.97" stroke="#22702a" stroke-width="0.9" />
<line x1="572.60" y1="422.93" x2="577.40" y2="422.93" stroke="#22702a" stroke-width="0.9" />
<line x1="572.60" y1="441.97" x2="577.40" y2="441.97" stroke="#22702a" stroke-width="0.9" />
<line x1="605.50" y1="404.84" x2="605.50" y2="423.88" stroke="#22702a" stroke-width="0.9" />
<line x1="603.10" y1="404.84" x2="607.90" y2="404.84" stroke="#22702a" stroke-width="0.9" />
<line x1="603.10" y1="423.88" x2="607.90" y2="423.88" stroke="#22702a" stroke-width="0.9" />
<line x1="421.50" y1="425.31" x2="421.50" y2="439.59" stroke="#22702a" stroke-width="0.9" />
<line x1="419.10" y1="425.31" x2="423.90" y2="425.31" stroke="#22702a" stroke-width="0.9" />
<line x1="419.10" y1="439.59" x2="423.90" y2="439.59" stroke="#22702a" stroke-width="0.9" />
<line x1="452.00" y1="435.31" x2="452.00" y2="449.59" stroke="#22702a" stroke-width="0.9" />
<line x1="449.60" y1="435.31" x2="454.40" y2="435.31" stroke="#22702a" stroke-width="0.9" />
<line x1="449.60" y1="449.59" x2="454.40" y2="449.59" stroke="#22702a" stroke-width="0.9" />
<line x1="482.60" y1="429.12" x2="482.60" y2="443.40" stroke="#22702a" stroke-width="0.9" />
<line x1="480.20" y1="429.12" x2="485.00" y2="429.12" stroke="#22702a" stroke-width="0.9" />
<line x1="480.20" y1="443.40" x2="485.00" y2="443.40" stroke="#22702a" stroke-width="0.9" />
<line x1="513.40" y1="434.83" x2="513.40" y2="449.11" stroke="#22702a" stroke-width="0.9" />
<line x1="511.00" y1="434.83" x2="515.80" y2="434.83" stroke="#22702a" stroke-width="0.9" />
<line x1="511.00" y1="449.11" x2="515.80" y2="449.11" stroke="#22702a" stroke-width="0.9" />
<line x1="544.40" y1="433.88" x2="544.40" y2="448.16" stroke="#22702a" stroke-width="0.9" />
<line x1="542.00" y1="433.88" x2="546.80" y2="433.88" stroke="#22702a" stroke-width="0.9" />
<line x1="542.00" y1="448.16" x2="546.80" y2="448.16" stroke="#22702a" stroke-width="0.9" />
<line x1="575.00" y1="431.50" x2="575.00" y2="445.78" stroke="#22702a" stroke-width="0.9" />
<line x1="572.60" y1="431.50" x2="577.40" y2="431.50" stroke="#22702a" stroke-width="0.9" />
<line x1="572.60" y1="445.78" x2="577.40" y2="445.78" stroke="#22702a" stroke-width="0.9" />
<line x1="605.50" y1="428.17" x2="605.50" y2="442.45" stroke="#22702a" stroke-width="0.9" />
<line x1="603.10" y1="428.17" x2="607.90" y2="428.17" stroke="#22702a" stroke-width="0.9" />
<line x1="603.10" y1="442.45" x2="607.90" y2="442.45" stroke="#22702a" stroke-width="0.9" />
<polyline points="421.50,416.27 452.00,419.12 482.60,418.65 513.40,411.51 544.40,376.76 575.00,393.42 605.50,401.04" fill="none" stroke="#5ec04e" stroke-width="1.05" />
<polyline points="421.50,433.88 452.00,437.69 482.60,430.07 513.40,416.27 544.40,425.79 575.00,414.36 605.50,429.12" fill="none" stroke="#5ec04e" stroke-width="1.05" />
<polyline points="421.50,446.73 452.00,440.07 482.60,432.45 513.40,432.93 544.40,444.83 575.00,438.64 605.50,441.02" fill="none" stroke="#5ec04e" stroke-width="1.05" />
<polyline points="421.50,415.79 452.00,419.60 482.60,424.36 513.40,410.56 544.40,410.56 575.00,413.41 605.50,425.31" fill="none" stroke="#5ec04e" stroke-width="1.05" />
<polyline points="421.50,430.55 452.00,432.45 482.60,435.31 513.40,433.88 544.40,441.97 575.00,461.01 605.50,466.72" fill="none" stroke="#5ec04e" stroke-width="1.05" />
<polyline points="421.50,429.12 452.00,433.88 482.60,420.08 513.40,432.93 544.40,439.59 575.00,429.12 605.50,433.88" fill="none" stroke="#5ec04e" stroke-width="1.05" />
<polyline points="421.50,413.89 452.00,432.93 482.60,425.79 513.40,430.55 544.40,424.36 575.00,427.69 605.50,437.21" fill="none" stroke="#5ec04e" stroke-width="1.05" />
<polyline points="421.50,435.31 452.00,440.07 482.60,433.88 513.40,433.88 544.40,431.50 575.00,436.26 605.50,432.93" fill="none" stroke="#22702a" stroke-width="1.05" />
<polyline points="421.50,437.21 452.00,444.83 482.60,432.93 513.40,443.40 544.40,442.45 575.00,432.45 605.50,414.36" fill="none" stroke="#22702a" stroke-width="1.05" />
<polyline points="421.50,432.45 452.00,442.45 482.60,436.26 513.40,441.97 544.40,441.02 575.00,438.64 605.50,435.31" fill="none" stroke="#22702a" stroke-width="1.05" />
<path d="M421.50 413.17L424.60 418.43L418.40 418.43Z" fill="#5ec04e"/>
<path d="M452.00 416.02L455.10 421.28L448.90 421.28Z" fill="#5ec04e"/>
<path d="M482.60 415.55L485.70 420.81L479.50 420.81Z" fill="#5ec04e"/>
<path d="M513.40 408.41L516.50 413.67L510.30 413.67Z" fill="#5ec04e"/>
<path d="M544.40 373.66L547.50 378.92L541.30 378.92Z" fill="#5ec04e"/>
<path d="M575.00 390.32L578.10 395.58L571.90 395.58Z" fill="#5ec04e"/>
<path d="M605.50 397.94L608.60 403.20L602.40 403.20Z" fill="#5ec04e"/>
<circle cx="421.50" cy="433.88" r="2.70" fill="#5ec04e"/>
<circle cx="452.00" cy="437.69" r="2.70" fill="#5ec04e"/>
<circle cx="482.60" cy="430.07" r="2.70" fill="#5ec04e"/>
<circle cx="513.40" cy="416.27" r="2.70" fill="#5ec04e"/>
<circle cx="544.40" cy="425.79" r="2.70" fill="#5ec04e"/>
<circle cx="575.00" cy="414.36" r="2.70" fill="#5ec04e"/>
<circle cx="605.50" cy="429.12" r="2.70" fill="#5ec04e"/>
<rect x="419.30" y="444.53" width="4.40" height="4.40" fill="none" stroke="#5ec04e" stroke-width="1.0"/>
<rect x="449.80" y="437.87" width="4.40" height="4.40" fill="none" stroke="#5ec04e" stroke-width="1.0"/>
<rect x="480.40" y="430.25" width="4.40" height="4.40" fill="none" stroke="#5ec04e" stroke-width="1.0"/>
<rect x="511.20" y="430.73" width="4.40" height="4.40" fill="none" stroke="#5ec04e" stroke-width="1.0"/>
<rect x="542.20" y="442.63" width="4.40" height="4.40" fill="none" stroke="#5ec04e" stroke-width="1.0"/>
<rect x="572.80" y="436.44" width="4.40" height="4.40" fill="none" stroke="#5ec04e" stroke-width="1.0"/>
<rect x="603.30" y="438.82" width="4.40" height="4.40" fill="none" stroke="#5ec04e" stroke-width="1.0"/>
<path d="M421.50 418.89L424.60 413.63L418.40 413.63Z" fill="#5ec04e"/>
<path d="M452.00 422.70L455.10 417.44L448.90 417.44Z" fill="#5ec04e"/>
<path d="M482.60 427.46L485.70 422.20L479.50 422.20Z" fill="#5ec04e"/>
<path d="M513.40 413.66L516.50 408.40L510.30 408.40Z" fill="#5ec04e"/>
<path d="M544.40 413.66L547.50 408.40L541.30 408.40Z" fill="#5ec04e"/>
<path d="M575.00 416.51L578.10 411.25L571.90 411.25Z" fill="#5ec04e"/>
<path d="M605.50 428.41L608.60 423.15L602.40 423.15Z" fill="#5ec04e"/>
<polygon points="421.50,427.55 420.89,429.50 418.90,429.05 420.29,430.55 418.90,432.05 420.89,431.60 421.50,433.55 422.11,431.60 424.10,432.05 422.71,430.55 424.10,429.05 422.11,429.50" fill="#5ec04e"/>
<polygon points="452.00,429.45 451.39,431.40 449.40,430.95 450.79,432.45 449.40,433.95 451.39,433.50 452.00,435.45 452.61,433.50 454.60,433.95 453.21,432.45 454.60,430.95 452.61,431.40" fill="#5ec04e"/>
<polygon points="482.60,432.31 481.99,434.26 480.00,433.81 481.39,435.31 480.00,436.81 481.99,436.36 482.60,438.31 483.21,436.36 485.20,436.81 483.81,435.31 485.20,433.81 483.21,434.26" fill="#5ec04e"/>
<polygon points="513.40,430.88 512.79,432.83 510.80,432.38 512.18,433.88 510.80,435.38 512.79,434.93 513.40,436.88 514.01,434.93 516.00,435.38 514.62,433.88 516.00,432.38 514.01,432.83" fill="#5ec04e"/>
<polygon points="544.40,438.97 543.79,440.92 541.80,440.47 543.18,441.97 541.80,443.47 543.79,443.02 544.40,444.97 545.01,443.02 547.00,443.47 545.62,441.97 547.00,440.47 545.01,440.92" fill="#5ec04e"/>
<polygon points="575.00,458.01 574.39,459.96 572.40,459.51 573.78,461.01 572.40,462.51 574.39,462.06 575.00,464.01 575.61,462.06 577.60,462.51 576.22,461.01 577.60,459.51 575.61,459.96" fill="#5ec04e"/>
<polygon points="605.50,463.72 604.89,465.67 602.90,465.22 604.28,466.72 602.90,468.22 604.89,467.78 605.50,469.72 606.11,467.78 608.10,468.22 606.72,466.72 608.10,465.22 606.11,465.67" fill="#5ec04e"/>
<path d="M421.50 426.42L424.20 431.14L418.80 431.14Z" fill="none" stroke="#5ec04e" stroke-width="1.0"/>
<path d="M452.00 431.18L454.70 435.90L449.30 435.90Z" fill="none" stroke="#5ec04e" stroke-width="1.0"/>
<path d="M482.60 417.38L485.30 422.10L479.90 422.10Z" fill="none" stroke="#5ec04e" stroke-width="1.0"/>
<path d="M513.40 430.23L516.10 434.95L510.70 434.95Z" fill="none" stroke="#5ec04e" stroke-width="1.0"/>
<path d="M544.40 436.89L547.10 441.62L541.70 441.62Z" fill="none" stroke="#5ec04e" stroke-width="1.0"/>
<path d="M575.00 426.42L577.70 431.14L572.30 431.14Z" fill="none" stroke="#5ec04e" stroke-width="1.0"/>
<path d="M605.50 431.18L608.20 435.90L602.80 435.90Z" fill="none" stroke="#5ec04e" stroke-width="1.0"/>
<path d="M421.50 411.19L424.20 413.89L421.50 416.59L418.80 413.89Z" fill="none" stroke="#5ec04e" stroke-width="1.0"/>
<path d="M452.00 430.23L454.70 432.93L452.00 435.63L449.30 432.93Z" fill="none" stroke="#5ec04e" stroke-width="1.0"/>
<path d="M482.60 423.09L485.30 425.79L482.60 428.49L479.90 425.79Z" fill="none" stroke="#5ec04e" stroke-width="1.0"/>
<path d="M513.40 427.85L516.10 430.55L513.40 433.25L510.70 430.55Z" fill="none" stroke="#5ec04e" stroke-width="1.0"/>
<path d="M544.40 421.66L547.10 424.36L544.40 427.06L541.70 424.36Z" fill="none" stroke="#5ec04e" stroke-width="1.0"/>
<path d="M575.00 424.99L577.70 427.69L575.00 430.39L572.30 427.69Z" fill="none" stroke="#5ec04e" stroke-width="1.0"/>
<path d="M605.50 434.51L608.20 437.21L605.50 439.91L602.80 437.21Z" fill="none" stroke="#5ec04e" stroke-width="1.0"/>
<circle cx="421.50" cy="435.31" r="2.70" fill="#22702a"/>
<circle cx="452.00" cy="440.07" r="2.70" fill="#22702a"/>
<circle cx="482.60" cy="433.88" r="2.70" fill="#22702a"/>
<circle cx="513.40" cy="433.88" r="2.70" fill="#22702a"/>
<circle cx="544.40" cy="431.50" r="2.70" fill="#22702a"/>
<circle cx="575.00" cy="436.26" r="2.70" fill="#22702a"/>
<circle cx="605.50" cy="432.93" r="2.70" fill="#22702a"/>
<rect x="418.80" y="434.51" width="5.40" height="5.40" fill="#22702a"/>
<rect x="449.30" y="442.13" width="5.40" height="5.40" fill="#22702a"/>
<rect x="479.90" y="430.23" width="5.40" height="5.40" fill="#22702a"/>
<rect x="510.70" y="440.70" width="5.40" height="5.40" fill="#22702a"/>
<rect x="541.70" y="439.75" width="5.40" height="5.40" fill="#22702a"/>
<rect x="572.30" y="429.75" width="5.40" height="5.40" fill="#22702a"/>
<rect x="602.80" y="411.66" width="5.40" height="5.40" fill="#22702a"/>
<path d="M421.50 435.15L424.20 430.43L418.80 430.43Z" fill="none" stroke="#22702a" stroke-width="1.0"/>
<path d="M452.00 445.15L454.70 440.42L449.30 440.42Z" fill="none" stroke="#22702a" stroke-width="1.0"/>
<path d="M482.60 438.96L485.30 434.24L479.90 434.24Z" fill="none" stroke="#22702a" stroke-width="1.0"/>
<path d="M513.40 444.67L516.10 439.95L510.70 439.95Z" fill="none" stroke="#22702a" stroke-width="1.0"/>
<path d="M544.40 443.72L547.10 439.00L541.70 439.00Z" fill="none" stroke="#22702a" stroke-width="1.0"/>
<path d="M575.00 441.34L577.70 436.62L572.30 436.62Z" fill="none" stroke="#22702a" stroke-width="1.0"/>
<path d="M605.50 438.01L608.20 433.28L602.80 433.28Z" fill="none" stroke="#22702a" stroke-width="1.0"/>
<text x="628.00" y="328.30" font-size="5.6" fill="#111" font-style="italic" textLength="48.00" lengthAdjust="spacingAndGlyphs" >Paclitaxel-resistant</text>
<text x="628.00" y="334.40" font-size="5.6" fill="#111" font-style="italic" >(in vivo)</text>
<rect x="626.3" y="336.8" width="55.4" height="35.8" fill="none" stroke="#888" stroke-width="0.8"/>
<line x1="629.20" y1="343.10" x2="640.00" y2="343.10" stroke="#22702a" stroke-width="1.1" />
<circle cx="634.60" cy="343.10" r="2.80" fill="#22702a"/>
<text x="644.70" y="345.80" font-size="7.4" fill="#222" >HBCx-147</text>
<line x1="629.20" y1="354.20" x2="640.00" y2="354.20" stroke="#22702a" stroke-width="1.1" />
<rect x="631.80" y="351.40" width="5.60" height="5.60" fill="#22702a"/>
<text x="644.70" y="356.90" font-size="7.4" fill="#222" >HBCx-39</text>
<line x1="629.20" y1="365.90" x2="640.00" y2="365.90" stroke="#22702a" stroke-width="1.1" />
<path d="M634.60 368.70L637.40 363.80L631.80 363.80Z" fill="none" stroke="#22702a" stroke-width="1.0"/>
<text x="644.70" y="368.60" font-size="7.4" fill="#222" >HBCx-131</text>
<text x="627.50" y="381.20" font-size="5.6" fill="#111" font-style="italic" textLength="48.00" lengthAdjust="spacingAndGlyphs" >Paclitaxel-sensitive</text>
<text x="627.50" y="387.40" font-size="5.6" fill="#111" font-style="italic" >(in vivo)</text>
<rect x="626.3" y="389.8" width="58.2" height="89.2" fill="none" stroke="#888" stroke-width="0.8"/>
<line x1="630.00" y1="396.60" x2="641.00" y2="396.60" stroke="#5ec04e" stroke-width="1.1" />
<path d="M635.50 393.30L638.80 398.92L632.20 398.92Z" fill="#5ec04e"/>
<text x="645.80" y="399.30" font-size="7.4" fill="#222" >HBCx-204</text>
<line x1="630.00" y1="408.00" x2="641.00" y2="408.00" stroke="#5ec04e" stroke-width="1.1" />
<circle cx="635.50" cy="408.00" r="2.90" fill="#5ec04e"/>
<text x="645.80" y="410.70" font-size="7.4" fill="#222" >HBCx-4B</text>
<line x1="630.00" y1="421.70" x2="641.00" y2="421.70" stroke="#5ec04e" stroke-width="1.1" />
<rect x="633.10" y="419.30" width="4.80" height="4.80" fill="none" stroke="#5ec04e" stroke-width="1.0"/>
<text x="645.80" y="424.40" font-size="7.4" fill="#222" >HBCx-209</text>
<line x1="630.00" y1="435.20" x2="641.00" y2="435.20" stroke="#5ec04e" stroke-width="1.1" />
<path d="M635.50 438.50L638.80 432.88L632.20 432.88Z" fill="#5ec04e"/>
<text x="645.80" y="437.90" font-size="7.4" fill="#222" >HBCx-216</text>
<line x1="630.00" y1="447.10" x2="641.00" y2="447.10" stroke="#5ec04e" stroke-width="1.1" />
<polygon points="635.50,443.90 634.85,445.97 632.73,445.50 634.20,447.10 632.73,448.70 634.85,448.23 635.50,450.30 636.15,448.23 638.27,448.70 636.80,447.10 638.27,445.50 636.15,445.97" fill="#5ec04e"/>
<text x="645.80" y="449.80" font-size="7.4" fill="#222" >HBCx-11</text>
<line x1="630.00" y1="459.70" x2="641.00" y2="459.70" stroke="#5ec04e" stroke-width="1.1" />
<path d="M635.50 456.80L638.40 461.88L632.60 461.88Z" fill="none" stroke="#5ec04e" stroke-width="1.0"/>
<text x="645.80" y="462.40" font-size="7.4" fill="#222" >HBCx-3</text>
<line x1="630.00" y1="471.40" x2="641.00" y2="471.40" stroke="#5ec04e" stroke-width="1.1" />
<path d="M635.50 468.50L638.40 471.40L635.50 474.30L632.60 471.40Z" fill="none" stroke="#5ec04e" stroke-width="1.0"/>
<text x="645.80" y="474.10" font-size="7.4" fill="#222" >HBCx-137</text>
<text x="0.50" y="499.60" font-size="16" font-weight="bold" >g</text>
<rect x="39.55" y="613.57" width="10.30" height="6.73" fill="none" stroke="#000" stroke-width="1.2"/>
<rect x="55.65" y="615.25" width="10.30" height="5.04" fill="none" stroke="#000" stroke-width="1.2"/>
<rect x="71.95" y="615.59" width="10.30" height="4.71" fill="none" stroke="#000" stroke-width="1.2"/>
<rect x="88.05" y="613.24" width="10.30" height="7.06" fill="none" stroke="#000" stroke-width="1.2"/>
<rect x="104.35" y="613.57" width="10.30" height="6.73" fill="none" stroke="#000" stroke-width="1.2"/>
<rect x="120.85" y="609.20" width="10.30" height="11.10" fill="none" stroke="#000" stroke-width="1.2"/>
<rect x="136.55" y="607.18" width="10.30" height="13.12" fill="none" stroke="#000" stroke-width="1.2"/>
<rect x="152.25" y="613.91" width="10.30" height="6.39" fill="none" stroke="#000" stroke-width="1.2"/>
<circle cx="106.5" cy="615.6" r="2.1" fill="#d3d98e"/>
<circle cx="126.4" cy="614.9" r="2.1" fill="#d3d98e"/>
<circle cx="110.9" cy="615.1" r="2.1" fill="#d3d98e"/>
<circle cx="78.0" cy="608.7" r="2.1" fill="#d3d98e"/>
<circle cx="139.9" cy="616.4" r="2.1" fill="#d3d98e"/>
<circle cx="108.9" cy="612.3" r="2.1" fill="#d3d98e"/>
<circle cx="110.7" cy="581.6" r="2.1" fill="#2a8c9c"/>
<circle cx="142.0" cy="611.0" r="2.1" fill="#d3d98e"/>
<circle cx="109.1" cy="611.3" r="2.1" fill="#a3a3ab"/>
<circle cx="62.9" cy="617.1" r="2.1" fill="#d3d98e"/>
<circle cx="43.7" cy="612.9" r="2.1" fill="#2a8c9c"/>
<circle cx="47.0" cy="619.1" r="2.1" fill="#a3a3ab"/>
<circle cx="77.5" cy="581.3" r="2.1" fill="#2a8c9c"/>
<circle cx="157.7" cy="607.3" r="2.1" fill="#d3d98e"/>
<circle cx="43.5" cy="610.0" r="2.1" fill="#a3a3ab"/>
<circle cx="62.9" cy="604.8" r="2.1" fill="#d3d98e"/>
<circle cx="46.5" cy="617.9" r="2.1" fill="#a3a3ab"/>
<circle cx="124.5" cy="615.5" r="2.1" fill="#2a8c9c"/>
<circle cx="159.8" cy="608.6" r="2.1" fill="#d3d98e"/>
<circle cx="124.9" cy="575.6" r="2.1" fill="#a3a3ab"/>
<circle cx="61.8" cy="606.2" r="2.1" fill="#2a8c9c"/>
<circle cx="60.9" cy="617.0" r="2.1" fill="#a3a3ab"/>
<circle cx="60.8" cy="615.6" r="2.1" fill="#d3d98e"/>
<circle cx="112.4" cy="613.7" r="2.1" fill="#d3d98e"/>
<circle cx="127.4" cy="593.4" r="2.1" fill="#d3d98e"/>
<circle cx="138.7" cy="620.3" r="2.1" fill="#a3a3ab"/>
<circle cx="107.2" cy="617.7" r="2.1" fill="#a3a3ab"/>
<circle cx="92.9" cy="609.5" r="2.1" fill="#d3d98e"/>
<circle cx="159.2" cy="617.3" r="2.1" fill="#d3d98e"/>
<circle cx="126.9" cy="619.5" r="2.1" fill="#d3d98e"/>
<circle cx="110.3" cy="613.9" r="2.1" fill="#d3d98e"/>
<circle cx="60.5" cy="594.4" r="2.1" fill="#2a8c9c"/>
<circle cx="126.2" cy="605.2" r="2.1" fill="#2a8c9c"/>
<circle cx="45.7" cy="611.1" r="2.1" fill="#d3d98e"/>
<circle cx="125.3" cy="606.8" r="2.1" fill="#a3a3ab"/>
<circle cx="91.9" cy="613.0" r="2.1" fill="#d3d98e"/>
<circle cx="141.3" cy="601.8" r="2.1" fill="#a3a3ab"/>
<circle cx="64.0" cy="609.8" r="2.1" fill="#2a8c9c"/>
<circle cx="160.0" cy="619.3" r="2.1" fill="#a3a3ab"/>
<circle cx="45.8" cy="617.2" r="2.1" fill="#a3a3ab"/>
<circle cx="41.9" cy="616.1" r="2.1" fill="#d3d98e"/>
<circle cx="91.9" cy="609.9" r="2.1" fill="#a3a3ab"/>
<circle cx="42.5" cy="610.7" r="2.1" fill="#2a8c9c"/>
<circle cx="74.5" cy="610.2" r="2.1" fill="#2a8c9c"/>
<circle cx="142.8" cy="608.2" r="2.1" fill="#d3d98e"/>
<circle cx="47.3" cy="616.3" r="2.1" fill="#2a8c9c"/>
<circle cx="76.6" cy="612.8" r="2.1" fill="#d3d98e"/>
<circle cx="155.2" cy="614.3" r="2.1" fill="#2a8c9c"/>
<circle cx="158.3" cy="619.3" r="2.1" fill="#a3a3ab"/>
<circle cx="47.2" cy="618.6" r="2.1" fill="#a3a3ab"/>
<circle cx="60.6" cy="616.6" r="2.1" fill="#d3d98e"/>
<circle cx="96.3" cy="614.3" r="2.1" fill="#2a8c9c"/>
<circle cx="110.9" cy="608.0" r="2.1" fill="#d3d98e"/>
<circle cx="110.7" cy="617.1" r="2.1" fill="#2a8c9c"/>
<circle cx="92.9" cy="605.7" r="2.1" fill="#d3d98e"/>
<circle cx="58.8" cy="619.0" r="2.1" fill="#d3d98e"/>
<circle cx="62.7" cy="605.2" r="2.1" fill="#d3d98e"/>
<circle cx="141.4" cy="532.9" r="2.1" fill="#a3a3ab"/>
<circle cx="45.9" cy="610.6" r="2.1" fill="#d3d98e"/>
<circle cx="141.6" cy="605.2" r="2.1" fill="#d3d98e"/>
<circle cx="43.7" cy="608.5" r="2.1" fill="#2a8c9c"/>
<circle cx="129.1" cy="608.2" r="2.1" fill="#d3d98e"/>
<circle cx="63.2" cy="608.8" r="2.1" fill="#d3d98e"/>
<circle cx="140.3" cy="616.7" r="2.1" fill="#a3a3ab"/>
<circle cx="61.9" cy="611.0" r="2.1" fill="#2a8c9c"/>
<circle cx="159.4" cy="609.7" r="2.1" fill="#d3d98e"/>
<circle cx="109.1" cy="608.5" r="2.1" fill="#d3d98e"/>
<circle cx="44.9" cy="607.5" r="2.1" fill="#d3d98e"/>
<circle cx="60.8" cy="616.7" r="2.1" fill="#a3a3ab"/>
<circle cx="44.3" cy="606.1" r="2.1" fill="#d3d98e"/>
<circle cx="127.2" cy="620.3" r="2.1" fill="#d3d98e"/>
<circle cx="91.5" cy="609.0" r="2.1" fill="#d3d98e"/>
<circle cx="144.1" cy="614.1" r="2.1" fill="#d3d98e"/>
<circle cx="156.0" cy="620.3" r="2.1" fill="#a3a3ab"/>
<circle cx="74.5" cy="613.6" r="2.1" fill="#d3d98e"/>
<circle cx="57.8" cy="618.7" r="2.1" fill="#d3d98e"/>
<circle cx="122.9" cy="612.5" r="2.1" fill="#a3a3ab"/>
<circle cx="78.3" cy="616.9" r="2.1" fill="#a3a3ab"/>
<circle cx="128.7" cy="620.3" r="2.1" fill="#d3d98e"/>
<circle cx="126.1" cy="613.4" r="2.1" fill="#2a8c9c"/>
<circle cx="160.1" cy="620.3" r="2.1" fill="#2a8c9c"/>
<circle cx="92.9" cy="610.2" r="2.1" fill="#2a8c9c"/>
<circle cx="158.0" cy="606.8" r="2.1" fill="#2a8c9c"/>
<circle cx="76.3" cy="610.3" r="2.1" fill="#d3d98e"/>
<circle cx="157.3" cy="595.1" r="2.1" fill="#2a8c9c"/>
<circle cx="141.1" cy="613.9" r="2.1" fill="#d3d98e"/>
<circle cx="157.6" cy="609.3" r="2.1" fill="#d3d98e"/>
<circle cx="59.9" cy="612.1" r="2.1" fill="#d3d98e"/>
<circle cx="47.4" cy="615.4" r="2.1" fill="#d3d98e"/>
<circle cx="108.0" cy="612.5" r="2.1" fill="#d3d98e"/>
<circle cx="107.9" cy="617.7" r="2.1" fill="#a3a3ab"/>
<circle cx="75.0" cy="615.9" r="2.1" fill="#a3a3ab"/>
<circle cx="93.1" cy="611.5" r="2.1" fill="#d3d98e"/>
<circle cx="143.0" cy="610.1" r="2.1" fill="#d3d98e"/>
<circle cx="90.0" cy="615.8" r="2.1" fill="#a3a3ab"/>
<circle cx="96.1" cy="606.9" r="2.1" fill="#a3a3ab"/>
<circle cx="144.4" cy="613.6" r="2.1" fill="#2a8c9c"/>
<circle cx="96.1" cy="617.8" r="2.1" fill="#2a8c9c"/>
<circle cx="107.8" cy="612.4" r="2.1" fill="#a3a3ab"/>
<circle cx="159.0" cy="615.0" r="2.1" fill="#d3d98e"/>
<circle cx="155.8" cy="619.3" r="2.1" fill="#d3d98e"/>
<circle cx="47.2" cy="603.0" r="2.1" fill="#d3d98e"/>
<circle cx="58.8" cy="612.7" r="2.1" fill="#d3d98e"/>
<circle cx="109.7" cy="607.7" r="2.1" fill="#d3d98e"/>
<circle cx="126.3" cy="615.9" r="2.1" fill="#d3d98e"/>
<circle cx="111.5" cy="613.4" r="2.1" fill="#a3a3ab"/>
<circle cx="106.7" cy="618.0" r="2.1" fill="#2a8c9c"/>
<circle cx="90.8" cy="609.2" r="2.1" fill="#d3d98e"/>
<circle cx="45.7" cy="609.0" r="2.1" fill="#d3d98e"/>
<circle cx="94.2" cy="600.1" r="2.1" fill="#2a8c9c"/>
<circle cx="140.0" cy="616.8" r="2.1" fill="#d3d98e"/>
<circle cx="123.5" cy="609.8" r="2.1" fill="#a3a3ab"/>
<circle cx="79.9" cy="612.4" r="2.1" fill="#d3d98e"/>
<circle cx="155.5" cy="611.5" r="2.1" fill="#d3d98e"/>
<circle cx="140.4" cy="617.5" r="2.1" fill="#a3a3ab"/>
<circle cx="46.3" cy="613.2" r="2.1" fill="#d3d98e"/>
<circle cx="155.5" cy="620.0" r="2.1" fill="#a3a3ab"/>
<circle cx="143.3" cy="620.0" r="2.1" fill="#a3a3ab"/>
<circle cx="75.6" cy="612.3" r="2.1" fill="#d3d98e"/>
<circle cx="141.1" cy="612.5" r="2.1" fill="#d3d98e"/>
<circle cx="94.2" cy="582.3" r="2.1" fill="#d3d98e"/>
<circle cx="155.6" cy="615.6" r="2.1" fill="#a3a3ab"/>
<circle cx="62.2" cy="612.7" r="2.1" fill="#d3d98e"/>
<circle cx="92.4" cy="583.3" r="2.1" fill="#2a8c9c"/>
<circle cx="157.8" cy="608.8" r="2.1" fill="#d3d98e"/>
<circle cx="158.4" cy="612.8" r="2.1" fill="#d3d98e"/>
<circle cx="109.2" cy="612.6" r="2.1" fill="#2a8c9c"/>
<circle cx="126.9" cy="613.4" r="2.1" fill="#2a8c9c"/>
<circle cx="78.1" cy="602.0" r="2.1" fill="#d3d98e"/>
<circle cx="74.4" cy="614.5" r="2.1" fill="#d3d98e"/>
<circle cx="46.2" cy="610.9" r="2.1" fill="#d3d98e"/>
<circle cx="142.2" cy="613.4" r="2.1" fill="#a3a3ab"/>
<circle cx="109.8" cy="605.1" r="2.1" fill="#2a8c9c"/>
<circle cx="111.2" cy="614.9" r="2.1" fill="#a3a3ab"/>
<circle cx="75.5" cy="617.5" r="2.1" fill="#a3a3ab"/>
<circle cx="158.1" cy="620.3" r="2.1" fill="#2a8c9c"/>
<circle cx="90.6" cy="614.1" r="2.1" fill="#2a8c9c"/>
<circle cx="44.0" cy="607.6" r="2.1" fill="#d3d98e"/>
<circle cx="158.0" cy="616.3" r="2.1" fill="#a3a3ab"/>
<circle cx="91.5" cy="619.5" r="2.1" fill="#d3d98e"/>
<circle cx="139.9" cy="613.3" r="2.1" fill="#d3d98e"/>
<circle cx="92.7" cy="613.2" r="2.1" fill="#d3d98e"/>
<circle cx="58.6" cy="604.6" r="2.1" fill="#d3d98e"/>
<circle cx="95.8" cy="619.6" r="2.1" fill="#d3d98e"/>
<circle cx="127.8" cy="620.3" r="2.1" fill="#d3d98e"/>
<circle cx="75.1" cy="613.1" r="2.1" fill="#a3a3ab"/>
<circle cx="91.0" cy="609.6" r="2.1" fill="#2a8c9c"/>
<circle cx="61.4" cy="620.3" r="2.1" fill="#d3d98e"/>
<circle cx="94.8" cy="603.2" r="2.1" fill="#d3d98e"/>
<circle cx="79.6" cy="612.2" r="2.1" fill="#a3a3ab"/>
<circle cx="91.6" cy="616.3" r="2.1" fill="#d3d98e"/>
<circle cx="78.7" cy="615.3" r="2.1" fill="#d3d98e"/>
<circle cx="128.3" cy="615.8" r="2.1" fill="#a3a3ab"/>
<circle cx="139.4" cy="610.6" r="2.1" fill="#2a8c9c"/>
<circle cx="60.8" cy="620.1" r="2.1" fill="#2a8c9c"/>
<circle cx="96.0" cy="616.6" r="2.1" fill="#a3a3ab"/>
<circle cx="76.8" cy="601.4" r="2.1" fill="#d3d98e"/>
<circle cx="62.2" cy="615.7" r="2.1" fill="#d3d98e"/>
<circle cx="160.1" cy="606.3" r="2.1" fill="#2a8c9c"/>
<circle cx="45.9" cy="611.1" r="2.1" fill="#2a8c9c"/>
<circle cx="122.9" cy="619.0" r="2.1" fill="#a3a3ab"/>
<circle cx="156.3" cy="620.3" r="2.1" fill="#d3d98e"/>
<circle cx="63.6" cy="613.0" r="2.1" fill="#2a8c9c"/>
<circle cx="124.7" cy="618.6" r="2.1" fill="#d3d98e"/>
<circle cx="44.2" cy="606.0" r="2.1" fill="#d3d98e"/>
<circle cx="110.7" cy="608.5" r="2.1" fill="#d3d98e"/>
<circle cx="62.9" cy="611.4" r="2.1" fill="#a3a3ab"/>
<circle cx="75.9" cy="603.5" r="2.1" fill="#d3d98e"/>
<circle cx="106.5" cy="613.7" r="2.1" fill="#a3a3ab"/>
<circle cx="80.2" cy="610.1" r="2.1" fill="#d3d98e"/>
<circle cx="106.5" cy="603.4" r="2.1" fill="#2a8c9c"/>
<circle cx="142.7" cy="581.6" r="2.1" fill="#2a8c9c"/>
<circle cx="125.5" cy="620.3" r="2.1" fill="#d3d98e"/>
<circle cx="128.0" cy="619.3" r="2.1" fill="#a3a3ab"/>
<circle cx="60.9" cy="614.7" r="2.1" fill="#2a8c9c"/>
<circle cx="109.4" cy="610.2" r="2.1" fill="#a3a3ab"/>
<circle cx="43.6" cy="620.3" r="2.1" fill="#d3d98e"/>
<circle cx="46.3" cy="606.2" r="2.1" fill="#d3d98e"/>
<circle cx="125.9" cy="603.5" r="2.1" fill="#2a8c9c"/>
<circle cx="75.7" cy="620.3" r="2.1" fill="#a3a3ab"/>
<circle cx="43.4" cy="606.2" r="2.1" fill="#d3d98e"/>
<circle cx="124.2" cy="613.4" r="2.1" fill="#2a8c9c"/>
<circle cx="63.5" cy="617.8" r="2.1" fill="#a3a3ab"/>
<circle cx="91.9" cy="619.6" r="2.1" fill="#2a8c9c"/>
<circle cx="47.8" cy="610.0" r="2.1" fill="#a3a3ab"/>
<circle cx="141.0" cy="616.7" r="2.1" fill="#a3a3ab"/>
<circle cx="108.8" cy="606.8" r="2.1" fill="#a3a3ab"/>
<circle cx="139.1" cy="608.1" r="2.1" fill="#d3d98e"/>
<circle cx="142.2" cy="612.2" r="2.1" fill="#2a8c9c"/>
<circle cx="143.8" cy="608.5" r="2.1" fill="#2a8c9c"/>
<circle cx="94.4" cy="603.5" r="2.1" fill="#2a8c9c"/>
<circle cx="62.1" cy="617.0" r="2.1" fill="#d3d98e"/>
<circle cx="160.2" cy="614.2" r="2.1" fill="#d3d98e"/>
<circle cx="156.5" cy="612.3" r="2.1" fill="#d3d98e"/>
<circle cx="160.5" cy="608.9" r="2.1" fill="#a3a3ab"/>
<circle cx="42.6" cy="618.2" r="2.1" fill="#2a8c9c"/>
<circle cx="110.4" cy="619.0" r="2.1" fill="#d3d98e"/>
<circle cx="124.9" cy="620.3" r="2.1" fill="#d3d98e"/>
<circle cx="46.2" cy="614.0" r="2.1" fill="#a3a3ab"/>
<circle cx="62.6" cy="616.5" r="2.1" fill="#a3a3ab"/>
<circle cx="45.2" cy="618.3" r="2.1" fill="#2a8c9c"/>
<circle cx="127.8" cy="613.0" r="2.1" fill="#d3d98e"/>
<circle cx="45.9" cy="620.3" r="2.1" fill="#d3d98e"/>
<circle cx="124.9" cy="601.3" r="2.1" fill="#d3d98e"/>
<circle cx="142.3" cy="611.6" r="2.1" fill="#2a8c9c"/>
<circle cx="128.9" cy="617.2" r="2.1" fill="#a3a3ab"/>
<circle cx="45.4" cy="559.8" r="2.1" fill="#2a8c9c"/>
<circle cx="60.4" cy="605.2" r="2.1" fill="#d3d98e"/>
<circle cx="110.1" cy="608.5" r="2.1" fill="#a3a3ab"/>
<circle cx="154.4" cy="611.7" r="2.1" fill="#2a8c9c"/>
<circle cx="144.6" cy="607.6" r="2.1" fill="#d3d98e"/>
<circle cx="90.9" cy="616.4" r="2.1" fill="#d3d98e"/>
<circle cx="138.5" cy="620.0" r="2.1" fill="#a3a3ab"/>
<circle cx="128.1" cy="620.1" r="2.1" fill="#d3d98e"/>
<circle cx="107.3" cy="599.8" r="2.1" fill="#d3d98e"/>
<circle cx="107.4" cy="618.7" r="2.1" fill="#d3d98e"/>
<circle cx="45.7" cy="615.2" r="2.1" fill="#2a8c9c"/>
<circle cx="94.1" cy="615.2" r="2.1" fill="#a3a3ab"/>
<circle cx="157.4" cy="620.3" r="2.1" fill="#d3d98e"/>
<circle cx="128.4" cy="613.0" r="2.1" fill="#d3d98e"/>
<circle cx="140.7" cy="581.6" r="2.1" fill="#2a8c9c"/>
<circle cx="95.1" cy="616.5" r="2.1" fill="#a3a3ab"/>
<circle cx="59.6" cy="608.5" r="2.1" fill="#a3a3ab"/>
<circle cx="62.0" cy="617.7" r="2.1" fill="#a3a3ab"/>
<circle cx="110.5" cy="610.5" r="2.1" fill="#a3a3ab"/>
<circle cx="139.6" cy="615.2" r="2.1" fill="#d3d98e"/>
<circle cx="91.7" cy="614.6" r="2.1" fill="#a3a3ab"/>
<circle cx="63.1" cy="620.3" r="2.1" fill="#d3d98e"/>
<circle cx="142.8" cy="600.1" r="2.1" fill="#2a8c9c"/>
<circle cx="80.0" cy="611.0" r="2.1" fill="#d3d98e"/>
<circle cx="95.9" cy="608.0" r="2.1" fill="#d3d98e"/>
<circle cx="107.1" cy="615.2" r="2.1" fill="#d3d98e"/>
<circle cx="139.8" cy="600.9" r="2.1" fill="#d3d98e"/>
<circle cx="143.7" cy="611.2" r="2.1" fill="#d3d98e"/>
<circle cx="156.1" cy="610.2" r="2.1" fill="#d3d98e"/>
<circle cx="141.5" cy="613.7" r="2.1" fill="#a3a3ab"/>
<circle cx="123.0" cy="620.3" r="2.1" fill="#2a8c9c"/>
<circle cx="127.9" cy="604.4" r="2.1" fill="#d3d98e"/>
<circle cx="75.1" cy="617.2" r="2.1" fill="#2a8c9c"/>
<circle cx="80.3" cy="603.7" r="2.1" fill="#d3d98e"/>
<circle cx="43.4" cy="618.4" r="2.1" fill="#a3a3ab"/>
<circle cx="78.9" cy="612.6" r="2.1" fill="#a3a3ab"/>
<circle cx="154.7" cy="619.0" r="2.1" fill="#a3a3ab"/>
<circle cx="96.1" cy="615.0" r="2.1" fill="#d3d98e"/>
<circle cx="75.0" cy="616.8" r="2.1" fill="#2a8c9c"/>
<circle cx="77.2" cy="611.9" r="2.1" fill="#d3d98e"/>
<circle cx="59.4" cy="609.9" r="2.1" fill="#a3a3ab"/>
<circle cx="108.5" cy="610.0" r="2.1" fill="#d3d98e"/>
<circle cx="110.8" cy="607.5" r="2.1" fill="#d3d98e"/>
<circle cx="46.3" cy="603.8" r="2.1" fill="#d3d98e"/>
<circle cx="78.3" cy="602.4" r="2.1" fill="#2a8c9c"/>
<circle cx="140.9" cy="608.8" r="2.1" fill="#d3d98e"/>
<circle cx="79.6" cy="620.3" r="2.1" fill="#d3d98e"/>
<circle cx="79.8" cy="620.3" r="2.1" fill="#2a8c9c"/>
<circle cx="141.7" cy="611.2" r="2.1" fill="#2a8c9c"/>
<circle cx="75.9" cy="611.2" r="2.1" fill="#2a8c9c"/>
<circle cx="75.5" cy="619.1" r="2.1" fill="#a3a3ab"/>
<circle cx="59.6" cy="617.0" r="2.1" fill="#a3a3ab"/>
<circle cx="156.8" cy="606.3" r="2.1" fill="#2a8c9c"/>
<circle cx="126.4" cy="596.8" r="2.1" fill="#d3d98e"/>
<circle cx="127.6" cy="620.3" r="2.1" fill="#a3a3ab"/>
<circle cx="95.8" cy="609.8" r="2.1" fill="#2a8c9c"/>
<circle cx="78.3" cy="605.2" r="2.1" fill="#d3d98e"/>
<circle cx="160.2" cy="612.9" r="2.1" fill="#d3d98e"/>
<circle cx="93.8" cy="616.8" r="2.1" fill="#d3d98e"/>
<circle cx="140.7" cy="593.4" r="2.1" fill="#2a8c9c"/>
<circle cx="125.1" cy="601.8" r="2.1" fill="#d3d98e"/>
<circle cx="110.6" cy="618.8" r="2.1" fill="#2a8c9c"/>
<circle cx="142.2" cy="618.1" r="2.1" fill="#d3d98e"/>
<circle cx="126.0" cy="616.8" r="2.1" fill="#2a8c9c"/>
<circle cx="90.1" cy="610.5" r="2.1" fill="#d3d98e"/>
<circle cx="156.9" cy="592.7" r="2.1" fill="#2a8c9c"/>
<circle cx="157.6" cy="607.6" r="2.1" fill="#d3d98e"/>
<circle cx="79.4" cy="608.0" r="2.1" fill="#d3d98e"/>
<circle cx="92.9" cy="601.8" r="2.1" fill="#2a8c9c"/>
<circle cx="124.9" cy="619.2" r="2.1" fill="#a3a3ab"/>
<circle cx="43.3" cy="618.2" r="2.1" fill="#d3d98e"/>
<circle cx="63.3" cy="618.2" r="2.1" fill="#2a8c9c"/>
<circle cx="78.8" cy="620.3" r="2.1" fill="#d3d98e"/>
<circle cx="90.9" cy="613.3" r="2.1" fill="#a3a3ab"/>
<circle cx="158.2" cy="601.8" r="2.1" fill="#2a8c9c"/>
<circle cx="127.1" cy="619.8" r="2.1" fill="#d3d98e"/>
<circle cx="109.6" cy="620.3" r="2.1" fill="#d3d98e"/>
<circle cx="61.3" cy="603.5" r="2.1" fill="#d3d98e"/>
<line x1="34.20" y1="518.90" x2="34.20" y2="620.30" stroke="#6a6a6a" stroke-width="1.2" />
<line x1="30.60" y1="620.30" x2="169.10" y2="620.30" stroke="#000" stroke-width="1.2" />
<line x1="30.60" y1="620.30" x2="34.20" y2="620.30" stroke="#333" stroke-width="1.1" />
<text x="29.60" y="622.60" font-size="6.8" font-weight="bold" text-anchor="end" >0</text>
<line x1="30.60" y1="586.67" x2="34.20" y2="586.67" stroke="#333" stroke-width="1.1" />
<text x="29.60" y="588.97" font-size="6.8" font-weight="bold" text-anchor="end" >10</text>
<line x1="30.60" y1="553.03" x2="34.20" y2="553.03" stroke="#333" stroke-width="1.1" />
<text x="29.60" y="555.33" font-size="6.8" font-weight="bold" text-anchor="end" >20</text>
<line x1="30.60" y1="519.40" x2="34.20" y2="519.40" stroke="#333" stroke-width="1.1" />
<text x="29.60" y="521.70" font-size="6.8" font-weight="bold" text-anchor="end" >30</text>
<line x1="44.70" y1="620.30" x2="44.70" y2="623.70" stroke="#000" stroke-width="1.1" />
<text x="44.70" y="632.10" font-size="6.6" font-weight="bold" text-anchor="middle" >UT</text>
<line x1="60.80" y1="620.30" x2="60.80" y2="623.70" stroke="#000" stroke-width="1.1" />
<text x="60.80" y="632.10" font-size="6.6" font-weight="bold" text-anchor="middle" >1</text>
<line x1="77.10" y1="620.30" x2="77.10" y2="623.70" stroke="#000" stroke-width="1.1" />
<text x="77.10" y="632.10" font-size="6.6" font-weight="bold" text-anchor="middle" >3</text>
<line x1="93.20" y1="620.30" x2="93.20" y2="623.70" stroke="#000" stroke-width="1.1" />
<text x="93.20" y="632.10" font-size="6.6" font-weight="bold" text-anchor="middle" >6</text>
<line x1="109.50" y1="620.30" x2="109.50" y2="623.70" stroke="#000" stroke-width="1.1" />
<text x="109.50" y="632.10" font-size="6.6" font-weight="bold" text-anchor="middle" >10</text>
<line x1="126.00" y1="620.30" x2="126.00" y2="623.70" stroke="#000" stroke-width="1.1" />
<text x="126.00" y="632.10" font-size="6.6" font-weight="bold" text-anchor="middle" >18</text>
<line x1="141.70" y1="620.30" x2="141.70" y2="623.70" stroke="#000" stroke-width="1.1" />
<text x="141.70" y="632.10" font-size="6.6" font-weight="bold" text-anchor="middle" >25</text>
<line x1="157.40" y1="620.30" x2="157.40" y2="623.70" stroke="#000" stroke-width="1.1" />
<text x="157.40" y="632.10" font-size="6.6" font-weight="bold" text-anchor="middle" >100</text>
<text x="82.80" y="526.20" font-size="8.5" font-weight="bold" >HBCx-4B</text>
<text x="8.30" y="569.80" font-size="7.5" font-weight="bold" text-anchor="middle" transform="rotate(-90 8.30 569.80)" >Percentage of apoptotic cells</text>
<text x="17.20" y="569.80" font-size="7.4" font-weight="bold" text-anchor="middle" transform="rotate(-90 17.20 569.80)" >(TUNEL/DAPI)</text>
<text x="52.60" y="642.70" font-size="7.5" fill="#222" textLength="97.00" lengthAdjust="spacingAndGlyphs" >Paclitaxel concentration (nM)</text>
<circle cx="177.6" cy="525.2" r="2" fill="#2a8c9c"/>
<text x="187.80" y="527.70" font-size="7.3" fill="#1a1a1a" >PDX30</text>
<circle cx="177.6" cy="537.1" r="2" fill="#a3a3ab"/>
<text x="187.80" y="539.60" font-size="7.3" fill="#1a1a1a" >PDX38</text>
<circle cx="177.6" cy="549" r="2" fill="#d3d98e"/>
<text x="187.80" y="551.50" font-size="7.3" fill="#1a1a1a" >PDX47</text>
<rect x="258.15" y="615.12" width="10.30" height="5.58" fill="none" stroke="#000" stroke-width="1.2"/>
<rect x="275.65" y="620.03" width="10.30" height="0.67" fill="none" stroke="#000" stroke-width="1.2"/>
<rect x="291.85" y="619.81" width="10.30" height="0.89" fill="none" stroke="#000" stroke-width="1.2"/>
<rect x="308.05" y="620.03" width="10.30" height="0.67" fill="none" stroke="#000" stroke-width="1.2"/>
<rect x="324.15" y="620.14" width="10.30" height="0.56" fill="none" stroke="#000" stroke-width="1.2"/>
<rect x="340.45" y="619.36" width="10.30" height="1.34" fill="none" stroke="#000" stroke-width="1.2"/>
<rect x="356.85" y="620.25" width="10.30" height="0.45" fill="none" stroke="#000" stroke-width="1.2"/>
<rect x="372.85" y="620.03" width="10.30" height="0.67" fill="none" stroke="#000" stroke-width="1.2"/>
<circle cx="344.2" cy="620.3" r="2.1" fill="#2a8c9c"/>
<circle cx="279.6" cy="620.7" r="2.1" fill="#d3d98e"/>
<circle cx="332.2" cy="619.5" r="2.1" fill="#d3d98e"/>
<circle cx="315.0" cy="620.4" r="2.1" fill="#d3d98e"/>
<circle cx="381.0" cy="619.1" r="2.1" fill="#d3d98e"/>
<circle cx="282.3" cy="619.8" r="2.1" fill="#a3a3ab"/>
<circle cx="362.3" cy="620.7" r="2.1" fill="#d3d98e"/>
<circle cx="359.6" cy="619.7" r="2.1" fill="#d3d98e"/>
<circle cx="327.2" cy="619.7" r="2.1" fill="#a3a3ab"/>
<circle cx="330.9" cy="619.8" r="2.1" fill="#2a8c9c"/>
<circle cx="363.0" cy="620.6" r="2.1" fill="#d3d98e"/>
<circle cx="297.6" cy="620.2" r="2.1" fill="#d3d98e"/>
<circle cx="280.0" cy="619.7" r="2.1" fill="#2a8c9c"/>
<circle cx="282.6" cy="620.7" r="2.1" fill="#d3d98e"/>
<circle cx="311.2" cy="619.5" r="2.1" fill="#a3a3ab"/>
<circle cx="315.8" cy="620.7" r="2.1" fill="#d3d98e"/>
<circle cx="344.1" cy="620.3" r="2.1" fill="#d3d98e"/>
<circle cx="261.5" cy="620.0" r="2.1" fill="#d3d98e"/>
<circle cx="294.9" cy="620.1" r="2.1" fill="#d3d98e"/>
<circle cx="345.7" cy="620.1" r="2.1" fill="#2a8c9c"/>
<circle cx="280.7" cy="619.1" r="2.1" fill="#d3d98e"/>
<circle cx="277.7" cy="620.0" r="2.1" fill="#2a8c9c"/>
<circle cx="260.6" cy="619.2" r="2.1" fill="#a3a3ab"/>
<circle cx="376.1" cy="620.7" r="2.1" fill="#d3d98e"/>
<circle cx="296.5" cy="619.6" r="2.1" fill="#a3a3ab"/>
<circle cx="261.8" cy="619.6" r="2.1" fill="#d3d98e"/>
<circle cx="381.1" cy="619.1" r="2.1" fill="#a3a3ab"/>
<circle cx="345.1" cy="620.0" r="2.1" fill="#d3d98e"/>
<circle cx="358.8" cy="620.3" r="2.1" fill="#d3d98e"/>
<circle cx="280.4" cy="620.6" r="2.1" fill="#a3a3ab"/>
<circle cx="278.9" cy="620.1" r="2.1" fill="#d3d98e"/>
<circle cx="381.3" cy="619.7" r="2.1" fill="#2a8c9c"/>
<circle cx="363.2" cy="620.1" r="2.1" fill="#d3d98e"/>
<circle cx="328.8" cy="619.5" r="2.1" fill="#d3d98e"/>
<circle cx="310.6" cy="620.5" r="2.1" fill="#d3d98e"/>
<circle cx="361.7" cy="619.6" r="2.1" fill="#d3d98e"/>
<circle cx="310.7" cy="620.4" r="2.1" fill="#d3d98e"/>
<circle cx="332.2" cy="620.7" r="2.1" fill="#2a8c9c"/>
<circle cx="295.6" cy="620.5" r="2.1" fill="#d3d98e"/>
<circle cx="300.1" cy="620.7" r="2.1" fill="#d3d98e"/>
<circle cx="262.5" cy="620.6" r="2.1" fill="#d3d98e"/>
<circle cx="362.7" cy="620.2" r="2.1" fill="#d3d98e"/>
<circle cx="264.9" cy="620.5" r="2.1" fill="#d3d98e"/>
<circle cx="348.7" cy="620.7" r="2.1" fill="#d3d98e"/>
<circle cx="296.7" cy="619.5" r="2.1" fill="#a3a3ab"/>
<circle cx="342.4" cy="620.7" r="2.1" fill="#a3a3ab"/>
<circle cx="279.5" cy="619.9" r="2.1" fill="#d3d98e"/>
<circle cx="314.7" cy="619.9" r="2.1" fill="#2a8c9c"/>
<circle cx="266.3" cy="619.9" r="2.1" fill="#d3d98e"/>
<circle cx="360.8" cy="619.5" r="2.1" fill="#d3d98e"/>
<circle cx="380.0" cy="619.9" r="2.1" fill="#d3d98e"/>
<circle cx="294.5" cy="620.1" r="2.1" fill="#2a8c9c"/>
<circle cx="263.3" cy="620.3" r="2.1" fill="#2a8c9c"/>
<circle cx="263.9" cy="619.7" r="2.1" fill="#a3a3ab"/>
<circle cx="331.5" cy="618.9" r="2.1" fill="#a3a3ab"/>
<circle cx="299.8" cy="619.6" r="2.1" fill="#2a8c9c"/>
<circle cx="280.0" cy="614.6" r="2.1" fill="#a3a3ab"/>
<circle cx="346.2" cy="606.8" r="2.1" fill="#a3a3ab"/>
<circle cx="295.9" cy="615.1" r="2.1" fill="#a3a3ab"/>
<circle cx="346.5" cy="620.5" r="2.1" fill="#d3d98e"/>
<circle cx="348.0" cy="620.2" r="2.1" fill="#d3d98e"/>
<circle cx="312.0" cy="599.0" r="2.1" fill="#a3a3ab"/>
<circle cx="299.9" cy="620.4" r="2.1" fill="#d3d98e"/>
<circle cx="376.9" cy="618.5" r="2.1" fill="#2a8c9c"/>
<circle cx="359.2" cy="620.0" r="2.1" fill="#d3d98e"/>
<circle cx="330.7" cy="620.6" r="2.1" fill="#d3d98e"/>
<circle cx="262.5" cy="612.9" r="2.1" fill="#a3a3ab"/>
<circle cx="283.3" cy="620.3" r="2.1" fill="#d3d98e"/>
<circle cx="298.9" cy="620.7" r="2.1" fill="#d3d98e"/>
<circle cx="281.8" cy="620.2" r="2.1" fill="#a3a3ab"/>
<circle cx="266.3" cy="620.4" r="2.1" fill="#d3d98e"/>
<circle cx="380.4" cy="620.2" r="2.1" fill="#d3d98e"/>
<circle cx="380.1" cy="620.5" r="2.1" fill="#a3a3ab"/>
<circle cx="344.4" cy="620.4" r="2.1" fill="#d3d98e"/>
<circle cx="313.9" cy="619.5" r="2.1" fill="#d3d98e"/>
<circle cx="261.4" cy="620.2" r="2.1" fill="#2a8c9c"/>
<circle cx="281.7" cy="619.1" r="2.1" fill="#d3d98e"/>
<circle cx="277.8" cy="619.9" r="2.1" fill="#d3d98e"/>
<circle cx="362.5" cy="617.4" r="2.1" fill="#a3a3ab"/>
<circle cx="331.7" cy="620.3" r="2.1" fill="#d3d98e"/>
<circle cx="261.7" cy="620.0" r="2.1" fill="#d3d98e"/>
<circle cx="314.9" cy="619.7" r="2.1" fill="#2a8c9c"/>
<circle cx="331.8" cy="620.3" r="2.1" fill="#a3a3ab"/>
<circle cx="332.2" cy="620.7" r="2.1" fill="#2a8c9c"/>
<circle cx="363.2" cy="619.3" r="2.1" fill="#a3a3ab"/>
<circle cx="281.1" cy="607.3" r="2.1" fill="#a3a3ab"/>
<circle cx="261.0" cy="619.9" r="2.1" fill="#a3a3ab"/>
<circle cx="363.7" cy="620.7" r="2.1" fill="#2a8c9c"/>
<circle cx="326.4" cy="620.2" r="2.1" fill="#d3d98e"/>
<circle cx="310.9" cy="618.3" r="2.1" fill="#a3a3ab"/>
<circle cx="261.3" cy="620.4" r="2.1" fill="#d3d98e"/>
<circle cx="263.7" cy="620.7" r="2.1" fill="#d3d98e"/>
<circle cx="358.6" cy="619.7" r="2.1" fill="#2a8c9c"/>
<circle cx="294.0" cy="620.3" r="2.1" fill="#d3d98e"/>
<circle cx="327.9" cy="620.2" r="2.1" fill="#d3d98e"/>
<circle cx="345.7" cy="615.1" r="2.1" fill="#a3a3ab"/>
<circle cx="346.5" cy="619.0" r="2.1" fill="#a3a3ab"/>
<circle cx="363.7" cy="619.5" r="2.1" fill="#2a8c9c"/>
<circle cx="364.8" cy="620.4" r="2.1" fill="#2a8c9c"/>
<circle cx="260.1" cy="620.0" r="2.1" fill="#2a8c9c"/>
<circle cx="309.9" cy="620.1" r="2.1" fill="#d3d98e"/>
<circle cx="377.1" cy="620.1" r="2.1" fill="#2a8c9c"/>
<circle cx="346.1" cy="619.6" r="2.1" fill="#2a8c9c"/>
<circle cx="379.6" cy="620.7" r="2.1" fill="#d3d98e"/>
<circle cx="358.8" cy="619.7" r="2.1" fill="#a3a3ab"/>
<circle cx="280.9" cy="619.2" r="2.1" fill="#d3d98e"/>
<circle cx="343.7" cy="620.4" r="2.1" fill="#2a8c9c"/>
<circle cx="299.5" cy="619.8" r="2.1" fill="#d3d98e"/>
<circle cx="296.5" cy="618.9" r="2.1" fill="#d3d98e"/>
<circle cx="347.6" cy="620.1" r="2.1" fill="#d3d98e"/>
<circle cx="328.0" cy="620.7" r="2.1" fill="#a3a3ab"/>
<circle cx="378.8" cy="620.2" r="2.1" fill="#d3d98e"/>
<circle cx="359.5" cy="620.1" r="2.1" fill="#a3a3ab"/>
<circle cx="348.3" cy="620.6" r="2.1" fill="#2a8c9c"/>
<circle cx="281.1" cy="620.0" r="2.1" fill="#d3d98e"/>
<circle cx="295.1" cy="619.8" r="2.1" fill="#d3d98e"/>
<circle cx="316.0" cy="620.3" r="2.1" fill="#d3d98e"/>
<circle cx="379.8" cy="619.3" r="2.1" fill="#d3d98e"/>
<circle cx="343.9" cy="619.7" r="2.1" fill="#d3d98e"/>
<circle cx="278.6" cy="619.3" r="2.1" fill="#a3a3ab"/>
<circle cx="376.9" cy="620.4" r="2.1" fill="#a3a3ab"/>
<circle cx="316.2" cy="620.7" r="2.1" fill="#2a8c9c"/>
<circle cx="377.5" cy="620.6" r="2.1" fill="#d3d98e"/>
<circle cx="266.5" cy="619.7" r="2.1" fill="#d3d98e"/>
<circle cx="282.4" cy="620.4" r="2.1" fill="#d3d98e"/>
<circle cx="344.5" cy="605.1" r="2.1" fill="#a3a3ab"/>
<circle cx="298.7" cy="619.3" r="2.1" fill="#d3d98e"/>
<circle cx="362.7" cy="620.7" r="2.1" fill="#a3a3ab"/>
<circle cx="298.5" cy="618.3" r="2.1" fill="#d3d98e"/>
<circle cx="264.6" cy="619.2" r="2.1" fill="#d3d98e"/>
<circle cx="262.6" cy="615.1" r="2.1" fill="#a3a3ab"/>
<circle cx="363.3" cy="620.0" r="2.1" fill="#2a8c9c"/>
<circle cx="264.5" cy="617.4" r="2.1" fill="#a3a3ab"/>
<circle cx="297.4" cy="617.9" r="2.1" fill="#d3d98e"/>
<circle cx="297.5" cy="610.7" r="2.1" fill="#a3a3ab"/>
<circle cx="348.7" cy="620.7" r="2.1" fill="#d3d98e"/>
<circle cx="329.4" cy="619.7" r="2.1" fill="#d3d98e"/>
<circle cx="278.4" cy="620.6" r="2.1" fill="#d3d98e"/>
<circle cx="316.5" cy="619.3" r="2.1" fill="#a3a3ab"/>
<circle cx="358.8" cy="619.6" r="2.1" fill="#a3a3ab"/>
<circle cx="344.5" cy="620.2" r="2.1" fill="#a3a3ab"/>
<circle cx="380.2" cy="620.7" r="2.1" fill="#a3a3ab"/>
<circle cx="311.6" cy="619.8" r="2.1" fill="#d3d98e"/>
<circle cx="328.6" cy="619.6" r="2.1" fill="#d3d98e"/>
<circle cx="263.6" cy="619.8" r="2.1" fill="#2a8c9c"/>
<circle cx="363.9" cy="619.5" r="2.1" fill="#d3d98e"/>
<circle cx="363.7" cy="620.0" r="2.1" fill="#d3d98e"/>
<circle cx="309.9" cy="620.7" r="2.1" fill="#a3a3ab"/>
<circle cx="263.0" cy="597.3" r="2.1" fill="#d3d98e"/>
<circle cx="342.2" cy="619.2" r="2.1" fill="#d3d98e"/>
<circle cx="316.2" cy="619.8" r="2.1" fill="#d3d98e"/>
<circle cx="311.8" cy="620.1" r="2.1" fill="#2a8c9c"/>
<circle cx="343.7" cy="619.3" r="2.1" fill="#a3a3ab"/>
<circle cx="379.0" cy="619.6" r="2.1" fill="#d3d98e"/>
<circle cx="378.9" cy="620.3" r="2.1" fill="#2a8c9c"/>
<circle cx="376.7" cy="620.0" r="2.1" fill="#d3d98e"/>
<circle cx="363.8" cy="620.4" r="2.1" fill="#d3d98e"/>
<circle cx="376.5" cy="620.6" r="2.1" fill="#d3d98e"/>
<circle cx="377.3" cy="605.1" r="2.1" fill="#a3a3ab"/>
<circle cx="260.2" cy="620.7" r="2.1" fill="#d3d98e"/>
<circle cx="344.3" cy="614.0" r="2.1" fill="#a3a3ab"/>
<circle cx="375.1" cy="619.7" r="2.1" fill="#2a8c9c"/>
<circle cx="311.2" cy="619.6" r="2.1" fill="#d3d98e"/>
<circle cx="327.9" cy="620.5" r="2.1" fill="#d3d98e"/>
<circle cx="328.0" cy="619.6" r="2.1" fill="#d3d98e"/>
<circle cx="298.2" cy="620.5" r="2.1" fill="#a3a3ab"/>
<circle cx="381.2" cy="620.0" r="2.1" fill="#a3a3ab"/>
<circle cx="264.5" cy="620.2" r="2.1" fill="#2a8c9c"/>
<circle cx="330.5" cy="620.7" r="2.1" fill="#d3d98e"/>
<circle cx="376.8" cy="620.3" r="2.1" fill="#d3d98e"/>
<circle cx="361.2" cy="619.9" r="2.1" fill="#d3d98e"/>
<circle cx="345.7" cy="620.0" r="2.1" fill="#d3d98e"/>
<circle cx="281.0" cy="620.0" r="2.1" fill="#d3d98e"/>
<circle cx="314.4" cy="607.3" r="2.1" fill="#a3a3ab"/>
<circle cx="326.6" cy="620.7" r="2.1" fill="#a3a3ab"/>
<circle cx="280.3" cy="619.7" r="2.1" fill="#2a8c9c"/>
<circle cx="315.7" cy="620.5" r="2.1" fill="#d3d98e"/>
<circle cx="264.6" cy="619.8" r="2.1" fill="#a3a3ab"/>
<circle cx="294.9" cy="620.7" r="2.1" fill="#2a8c9c"/>
<circle cx="327.7" cy="619.9" r="2.1" fill="#2a8c9c"/>
<circle cx="365.2" cy="620.0" r="2.1" fill="#d3d98e"/>
<circle cx="345.9" cy="620.2" r="2.1" fill="#d3d98e"/>
<circle cx="313.8" cy="619.5" r="2.1" fill="#d3d98e"/>
<circle cx="265.2" cy="620.1" r="2.1" fill="#d3d98e"/>
<circle cx="310.4" cy="620.4" r="2.1" fill="#d3d98e"/>
<circle cx="264.0" cy="620.0" r="2.1" fill="#a3a3ab"/>
<circle cx="342.7" cy="619.8" r="2.1" fill="#a3a3ab"/>
<circle cx="378.7" cy="619.5" r="2.1" fill="#2a8c9c"/>
<circle cx="375.8" cy="620.1" r="2.1" fill="#d3d98e"/>
<circle cx="294.1" cy="619.9" r="2.1" fill="#2a8c9c"/>
<circle cx="295.3" cy="620.3" r="2.1" fill="#a3a3ab"/>
<circle cx="263.8" cy="619.7" r="2.1" fill="#d3d98e"/>
<circle cx="332.5" cy="619.8" r="2.1" fill="#2a8c9c"/>
<circle cx="279.2" cy="620.7" r="2.1" fill="#a3a3ab"/>
<circle cx="262.7" cy="547.1" r="2.1" fill="#d3d98e"/>
<circle cx="283.1" cy="618.8" r="2.1" fill="#d3d98e"/>
<circle cx="315.8" cy="620.0" r="2.1" fill="#a3a3ab"/>
<circle cx="376.3" cy="619.9" r="2.1" fill="#d3d98e"/>
<circle cx="296.2" cy="616.2" r="2.1" fill="#d3d98e"/>
<circle cx="346.4" cy="620.7" r="2.1" fill="#d3d98e"/>
<circle cx="347.3" cy="620.7" r="2.1" fill="#d3d98e"/>
<circle cx="311.2" cy="618.9" r="2.1" fill="#d3d98e"/>
<circle cx="329.6" cy="617.4" r="2.1" fill="#a3a3ab"/>
<circle cx="263.2" cy="600.1" r="2.1" fill="#a3a3ab"/>
<circle cx="297.5" cy="619.5" r="2.1" fill="#2a8c9c"/>
<circle cx="329.8" cy="616.2" r="2.1" fill="#a3a3ab"/>
<circle cx="327.7" cy="620.1" r="2.1" fill="#d3d98e"/>
<circle cx="299.9" cy="620.1" r="2.1" fill="#d3d98e"/>
<circle cx="327.1" cy="619.8" r="2.1" fill="#d3d98e"/>
<circle cx="283.3" cy="619.6" r="2.1" fill="#2a8c9c"/>
<circle cx="329.5" cy="620.1" r="2.1" fill="#d3d98e"/>
<circle cx="294.3" cy="619.5" r="2.1" fill="#a3a3ab"/>
<circle cx="280.9" cy="620.4" r="2.1" fill="#2a8c9c"/>
<circle cx="316.6" cy="619.7" r="2.1" fill="#2a8c9c"/>
<circle cx="299.3" cy="620.2" r="2.1" fill="#d3d98e"/>
<line x1="254.40" y1="531.00" x2="254.40" y2="620.70" stroke="#6a6a6a" stroke-width="1.2" />
<line x1="250.80" y1="620.70" x2="388.50" y2="620.70" stroke="#000" stroke-width="1.2" />
<line x1="250.80" y1="620.70" x2="254.40" y2="620.70" stroke="#333" stroke-width="1.1" />
<text x="249.80" y="623.00" font-size="6.8" font-weight="bold" text-anchor="end" >0</text>
<line x1="250.80" y1="598.40" x2="254.40" y2="598.40" stroke="#333" stroke-width="1.1" />
<text x="249.80" y="600.70" font-size="6.8" font-weight="bold" text-anchor="end" >20</text>
<line x1="250.80" y1="576.10" x2="254.40" y2="576.10" stroke="#333" stroke-width="1.1" />
<text x="249.80" y="578.40" font-size="6.8" font-weight="bold" text-anchor="end" >40</text>
<line x1="250.80" y1="553.80" x2="254.40" y2="553.80" stroke="#333" stroke-width="1.1" />
<text x="249.80" y="556.10" font-size="6.8" font-weight="bold" text-anchor="end" >60</text>
<line x1="250.80" y1="531.50" x2="254.40" y2="531.50" stroke="#333" stroke-width="1.1" />
<text x="249.80" y="533.80" font-size="6.8" font-weight="bold" text-anchor="end" >80</text>
<line x1="263.30" y1="620.70" x2="263.30" y2="624.10" stroke="#000" stroke-width="1.1" />
<text x="263.30" y="632.50" font-size="6.6" font-weight="bold" text-anchor="middle" >UT</text>
<line x1="280.80" y1="620.70" x2="280.80" y2="624.10" stroke="#000" stroke-width="1.1" />
<text x="280.80" y="632.50" font-size="6.6" font-weight="bold" text-anchor="middle" >1</text>
<line x1="297.00" y1="620.70" x2="297.00" y2="624.10" stroke="#000" stroke-width="1.1" />
<text x="297.00" y="632.50" font-size="6.6" font-weight="bold" text-anchor="middle" >3</text>
<line x1="313.20" y1="620.70" x2="313.20" y2="624.10" stroke="#000" stroke-width="1.1" />
<text x="313.20" y="632.50" font-size="6.6" font-weight="bold" text-anchor="middle" >6</text>
<line x1="329.30" y1="620.70" x2="329.30" y2="624.10" stroke="#000" stroke-width="1.1" />
<text x="329.30" y="632.50" font-size="6.6" font-weight="bold" text-anchor="middle" >10</text>
<line x1="345.60" y1="620.70" x2="345.60" y2="624.10" stroke="#000" stroke-width="1.1" />
<text x="345.60" y="632.50" font-size="6.6" font-weight="bold" text-anchor="middle" >18</text>
<line x1="362.00" y1="620.70" x2="362.00" y2="624.10" stroke="#000" stroke-width="1.1" />
<text x="362.00" y="632.50" font-size="6.6" font-weight="bold" text-anchor="middle" >25</text>
<line x1="378.00" y1="620.70" x2="378.00" y2="624.10" stroke="#000" stroke-width="1.1" />
<text x="378.00" y="632.50" font-size="6.6" font-weight="bold" text-anchor="middle" >100</text>
<line x1="263.30" y1="612.23" x2="263.30" y2="617.36" stroke="#555" stroke-width="0.9" />
<line x1="261.10" y1="612.23" x2="265.50" y2="612.23" stroke="#555" stroke-width="0.9" />
<line x1="261.10" y1="617.36" x2="265.50" y2="617.36" stroke="#555" stroke-width="0.9" />
<text x="301.50" y="531.20" font-size="8.5" font-weight="bold" >HBCx-147</text>
<path d="M264.9 541 V536 H281.7 V541" fill="none" stroke="#000" stroke-width="1"/>
<text x="273.30" y="535.00" font-size="11" font-weight="bold" text-anchor="middle" >*</text>
<text x="228.40" y="575.80" font-size="7.5" font-weight="bold" text-anchor="middle" transform="rotate(-90 228.40 575.80)" >Percentage of apoptotic cells</text>
<text x="237.40" y="575.30" font-size="7.4" font-weight="bold" text-anchor="middle" transform="rotate(-90 237.40 575.30)" >(TUNEL/DAPI)</text>
<text x="273.20" y="642.70" font-size="7.5" fill="#222" textLength="96.00" lengthAdjust="spacingAndGlyphs" >Paclitaxel concentration (nM)</text>
<circle cx="397.5" cy="536.6" r="2" fill="#2a8c9c"/>
<text x="407.60" y="539.10" font-size="7.3" fill="#1a1a1a" >PDX23</text>
<circle cx="397.5" cy="548.8" r="2" fill="#a3a3ab"/>
<text x="407.60" y="551.30" font-size="7.3" fill="#1a1a1a" >PDX37</text>
<circle cx="397.5" cy="560.7" r="2" fill="#d3d98e"/>
<text x="407.60" y="563.20" font-size="7.3" fill="#1a1a1a" >PDX31</text>
</svg>
</body></html>
